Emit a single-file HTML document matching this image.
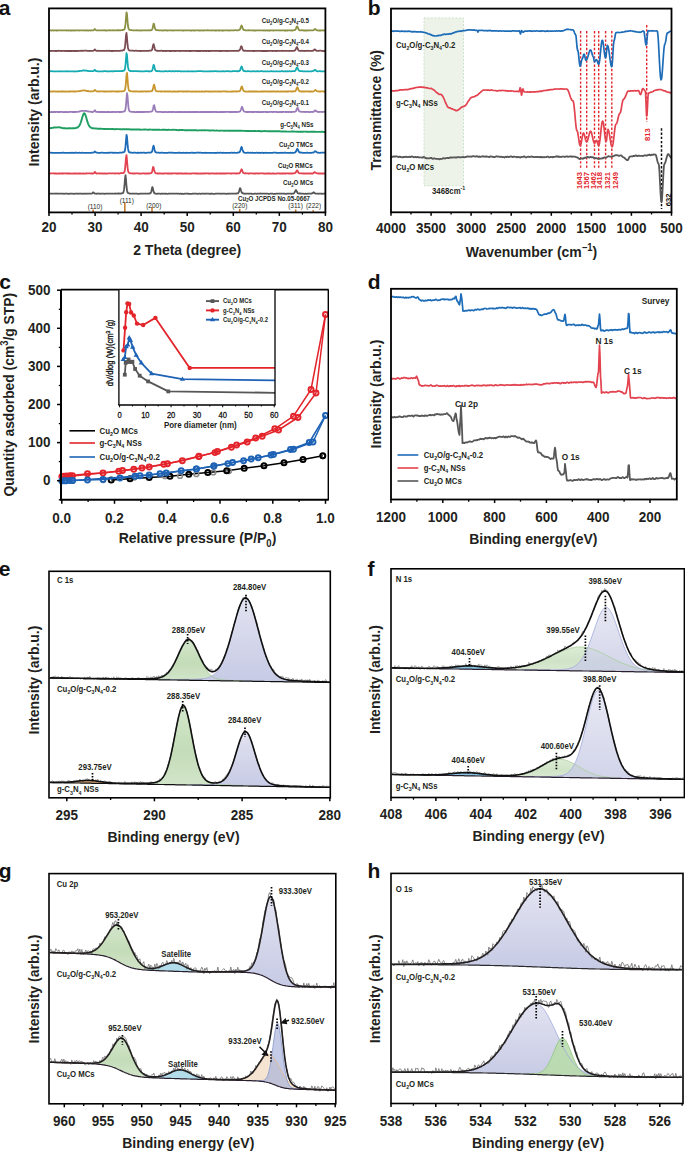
<!DOCTYPE html>
<html><head><meta charset="utf-8"><style>
html,body{margin:0;padding:0;background:#fff;width:685px;height:1151px;overflow:hidden}
svg{display:block}
text{font-family:"Liberation Sans", sans-serif}
</style></head><body>
<svg width="685" height="1151" viewBox="0 0 685 1151">
<defs>
<linearGradient id="lav" x1="0" y1="0" x2="0" y2="1"><stop offset="0" stop-color="#e2e3f1"/><stop offset="1" stop-color="#c6cae4"/></linearGradient>
<linearGradient id="grn" x1="0" y1="0" x2="0" y2="1"><stop offset="0" stop-color="#d3e7cb"/><stop offset="0.55" stop-color="#c4dcb8"/><stop offset="1" stop-color="#d2e5ca"/></linearGradient>
</defs>
<rect x="0" y="0" width="685" height="1151" fill="#fff"/>
<text transform="translate(-1.2 14.6)" font-size="21" font-weight="bold" text-anchor="start" fill="#111"><tspan>a</tspan></text>
<path d="M49 30.4 L49.5 30.5 L50 30.4 L50.5 30.4 L51 30.4 L51.5 30.5 L52 30.4 L52.5 30.3 L52.9 30.3 L53.4 30.4 L53.9 30.5 L54.4 30.4 L54.9 30.4 L55.4 30.4 L55.9 30.4 L56.4 30.5 L56.9 30.5 L57.4 30.5 L57.9 30.3 L58.4 30.3 L58.9 30.4 L59.4 30.4 L59.9 30.4 L60.4 30.3 L60.8 30.3 L61.3 30.3 L61.8 30.3 L62.3 30.4 L62.8 30.4 L63.3 30.3 L63.8 30.3 L64.3 30.3 L64.8 30.3 L65.3 30.3 L65.8 30.3 L66.3 30.4 L66.8 30.5 L67.3 30.4 L67.8 30.4 L68.2 30.5 L68.7 30.5 L69.2 30.4 L69.7 30.4 L70.2 30.4 L70.7 30.5 L71.2 30.5 L71.7 30.5 L72.2 30.5 L72.7 30.4 L73.2 30.4 L73.7 30.4 L74.2 30.5 L74.7 30.5 L75.2 30.5 L75.7 30.3 L76.1 30.3 L76.6 30.3 L77.1 30.4 L77.6 30.4 L78.1 30.3 L78.6 30.4 L79.1 30.5 L79.6 30.4 L80.1 30.4 L80.6 30.4 L81.1 30.4 L81.6 30.4 L82.1 30.4 L82.6 30.4 L83.1 30.3 L83.5 30.3 L84 30.3 L84.5 30.4 L85 30.5 L85.5 30.5 L86 30.3 L86.5 30.3 L87 30.4 L87.5 30.5 L88 30.5 L88.5 30.5 L89 30.4 L89.5 30.4 L90 30.4 L90.5 30.5 L91 30.4 L91.4 30.3 L91.9 30.3 L92.4 30.4 L92.9 30.3 L93.4 30.3 L93.9 29.9 L94.4 29.4 L94.9 29 L95.4 29.6 L95.9 30.1 L96.4 30.3 L96.9 30.3 L97.4 30.3 L97.9 30.3 L98.4 30.4 L98.9 30.4 L99.3 30.4 L99.8 30.3 L100.3 30.4 L100.8 30.3 L101.3 30.4 L101.8 30.4 L102.3 30.4 L102.8 30.4 L103.3 30.3 L103.8 30.3 L104.3 30.2 L104.8 30.3 L105.3 30.4 L105.8 30.5 L106.3 30.5 L106.7 30.5 L107.2 30.4 L107.7 30.4 L108.2 30.4 L108.7 30.4 L109.2 30.3 L109.7 30.2 L110.2 30.3 L110.7 30.3 L111.2 30.3 L111.7 30.3 L112.2 30.3 L112.7 30.3 L113.2 30.2 L113.7 30.3 L114.2 30.3 L114.6 30.3 L115.1 30.3 L115.6 30.3 L116.1 30.4 L116.6 30.3 L117.1 30.2 L117.6 30.3 L118.1 30.2 L118.6 30.3 L119.1 30.2 L119.6 30.3 L120.1 30.3 L120.6 30.3 L121.1 30.2 L121.6 30.2 L122 30.2 L122.5 30 L123 29.9 L123.5 29.8 L124 29.6 L124.5 29.2 L125 27.6 L125.5 24 L126 17.7 L126.5 12.3 L127 14.3 L127.5 20.9 L128 26 L128.5 28.5 L129 29.5 L129.5 29.8 L129.9 30 L130.4 30.1 L130.9 30.1 L131.4 30.1 L131.9 30.2 L132.4 30.3 L132.9 30.4 L133.4 30.4 L133.9 30.3 L134.4 30.4 L134.9 30.4 L135.4 30.4 L135.9 30.3 L136.4 30.2 L136.9 30.3 L137.3 30.3 L137.8 30.4 L138.3 30.4 L138.8 30.5 L139.3 30.4 L139.8 30.4 L140.3 30.4 L140.8 30.5 L141.3 30.5 L141.8 30.4 L142.3 30.3 L142.8 30.3 L143.3 30.3 L143.8 30.3 L144.3 30.3 L144.8 30.3 L145.2 30.3 L145.7 30.3 L146.2 30.4 L146.7 30.3 L147.2 30.4 L147.7 30.4 L148.2 30.4 L148.7 30.3 L149.2 30.2 L149.7 30.3 L150.2 30.3 L150.7 30.3 L151.2 30.1 L151.7 29.9 L152.2 29.4 L152.6 28.2 L153.1 25.9 L153.6 23.7 L154.1 24.2 L154.6 26.7 L155.1 28.7 L155.6 29.7 L156.1 30.1 L156.6 30.1 L157.1 30.2 L157.6 30.2 L158.1 30.3 L158.6 30.4 L159.1 30.3 L159.6 30.4 L160.1 30.4 L160.5 30.4 L161 30.3 L161.5 30.4 L162 30.4 L162.5 30.5 L163 30.5 L163.5 30.4 L164 30.4 L164.5 30.3 L165 30.3 L165.5 30.2 L166 30.3 L166.5 30.4 L167 30.5 L167.5 30.5 L168 30.4 L168.4 30.4 L168.9 30.4 L169.4 30.4 L169.9 30.3 L170.4 30.3 L170.9 30.3 L171.4 30.4 L171.9 30.4 L172.4 30.5 L172.9 30.5 L173.4 30.4 L173.9 30.4 L174.4 30.4 L174.9 30.4 L175.4 30.4 L175.8 30.3 L176.3 30.3 L176.8 30.3 L177.3 30.3 L177.8 30.3 L178.3 30.4 L178.8 30.4 L179.3 30.4 L179.8 30.3 L180.3 30.3 L180.8 30.3 L181.3 30.3 L181.8 30.4 L182.3 30.4 L182.8 30.5 L183.3 30.5 L183.7 30.5 L184.2 30.4 L184.7 30.3 L185.2 30.3 L185.7 30.4 L186.2 30.3 L186.7 30.3 L187.2 30.3 L187.7 30.4 L188.2 30.4 L188.7 30.4 L189.2 30.4 L189.7 30.3 L190.2 30.4 L190.7 30.5 L191.1 30.6 L191.6 30.5 L192.1 30.4 L192.6 30.3 L193.1 30.4 L193.6 30.5 L194.1 30.5 L194.6 30.5 L195.1 30.4 L195.6 30.4 L196.1 30.3 L196.6 30.3 L197.1 30.3 L197.6 30.3 L198.1 30.4 L198.6 30.4 L199 30.5 L199.5 30.4 L200 30.5 L200.5 30.5 L201 30.4 L201.5 30.3 L202 30.3 L202.5 30.4 L203 30.5 L203.5 30.5 L204 30.4 L204.5 30.4 L205 30.4 L205.5 30.4 L206 30.4 L206.4 30.3 L206.9 30.3 L207.4 30.2 L207.9 30.3 L208.4 30.3 L208.9 30.3 L209.4 30.3 L209.9 30.3 L210.4 30.4 L210.9 30.4 L211.4 30.5 L211.9 30.4 L212.4 30.4 L212.9 30.4 L213.4 30.4 L213.9 30.4 L214.3 30.4 L214.8 30.5 L215.3 30.5 L215.8 30.5 L216.3 30.5 L216.8 30.4 L217.3 30.3 L217.8 30.4 L218.3 30.4 L218.8 30.5 L219.3 30.4 L219.8 30.5 L220.3 30.3 L220.8 30.4 L221.3 30.4 L221.8 30.5 L222.2 30.6 L222.7 30.5 L223.2 30.5 L223.7 30.5 L224.2 30.4 L224.7 30.4 L225.2 30.3 L225.7 30.4 L226.2 30.4 L226.7 30.4 L227.2 30.3 L227.7 30.4 L228.2 30.4 L228.7 30.5 L229.2 30.4 L229.6 30.5 L230.1 30.4 L230.6 30.4 L231.1 30.3 L231.6 30.3 L232.1 30.3 L232.6 30.3 L233.1 30.3 L233.6 30.4 L234.1 30.3 L234.6 30.3 L235.1 30.2 L235.6 30.2 L236.1 30.2 L236.6 30.3 L237.1 30.3 L237.5 30.3 L238 30.3 L238.5 30.2 L239 30.1 L239.5 29.8 L240 29.3 L240.5 28.2 L241 26.6 L241.5 25.5 L242 26.2 L242.5 27.8 L243 29.1 L243.5 29.8 L244 30.1 L244.5 30.2 L244.9 30.2 L245.4 30.4 L245.9 30.4 L246.4 30.4 L246.9 30.4 L247.4 30.3 L247.9 30.3 L248.4 30.2 L248.9 30.4 L249.4 30.4 L249.9 30.4 L250.4 30.4 L250.9 30.4 L251.4 30.4 L251.9 30.4 L252.4 30.4 L252.8 30.4 L253.3 30.4 L253.8 30.5 L254.3 30.5 L254.8 30.5 L255.3 30.6 L255.8 30.5 L256.3 30.4 L256.8 30.3 L257.3 30.3 L257.8 30.3 L258.3 30.4 L258.8 30.4 L259.3 30.4 L259.8 30.4 L260.2 30.4 L260.7 30.4 L261.2 30.3 L261.7 30.4 L262.2 30.3 L262.7 30.4 L263.2 30.4 L263.7 30.5 L264.2 30.4 L264.7 30.4 L265.2 30.5 L265.7 30.5 L266.2 30.4 L266.7 30.4 L267.2 30.5 L267.7 30.5 L268.1 30.4 L268.6 30.5 L269.1 30.5 L269.6 30.5 L270.1 30.5 L270.6 30.4 L271.1 30.4 L271.6 30.3 L272.1 30.3 L272.6 30.4 L273.1 30.5 L273.6 30.5 L274.1 30.4 L274.6 30.3 L275.1 30.3 L275.5 30.3 L276 30.3 L276.5 30.4 L277 30.3 L277.5 30.3 L278 30.3 L278.5 30.3 L279 30.3 L279.5 30.4 L280 30.5 L280.5 30.4 L281 30.4 L281.5 30.3 L282 30.3 L282.5 30.4 L283 30.3 L283.4 30.4 L283.9 30.4 L284.4 30.5 L284.9 30.5 L285.4 30.5 L285.9 30.5 L286.4 30.4 L286.9 30.5 L287.4 30.5 L287.9 30.4 L288.4 30.3 L288.9 30.3 L289.4 30.3 L289.9 30.3 L290.4 30.4 L290.8 30.4 L291.3 30.5 L291.8 30.5 L292.3 30.5 L292.8 30.4 L293.3 30.3 L293.8 30.2 L294.3 30.2 L294.8 30.1 L295.3 29.7 L295.8 29 L296.3 27.7 L296.8 26.6 L297.3 26.4 L297.8 27.5 L298.3 28.7 L298.7 29.6 L299.2 30.1 L299.7 30.3 L300.2 30.3 L300.7 30.3 L301.2 30.3 L301.7 30.2 L302.2 30.2 L302.7 30.3 L303.2 30.4 L303.7 30.5 L304.2 30.5 L304.7 30.5 L305.2 30.4 L305.7 30.5 L306.2 30.4 L306.6 30.4 L307.1 30.5 L307.6 30.5 L308.1 30.4 L308.6 30.3 L309.1 30.4 L309.6 30.4 L310.1 30.3 L310.6 30.3 L311.1 30.3 L311.6 30.3 L312.1 30.4 L312.6 30.4 L313.1 30.3 L313.6 30.2 L314 29.8 L314.5 29.3 L315 29 L315.5 29.2 L316 29.8 L316.5 30.1 L317 30.3 L317.5 30.3 L318 30.4 L318.5 30.5 L319 30.5 L319.5 30.5 L320 30.5 L320.5 30.5 L321 30.5 L321.5 30.4 L321.9 30.3 L322.4 30.4 L322.9 30.4 L323.4 30.5 L323.9 30.4 L324.4 30.4 L324.9 30.4 L325.4 30.4" fill="none" stroke="#8a9142" stroke-width="1.8" stroke-linejoin="round"/>
<path d="M49 51 L49.5 50.8 L50 50.8 L50.5 50.9 L51 51 L51.5 50.9 L52 50.9 L52.5 50.9 L52.9 50.9 L53.4 50.9 L53.9 50.9 L54.4 50.8 L54.9 50.9 L55.4 51 L55.9 51.1 L56.4 51 L56.9 51 L57.4 50.9 L57.9 50.8 L58.4 50.7 L58.9 50.8 L59.4 50.8 L59.9 50.9 L60.4 50.9 L60.8 50.9 L61.3 51 L61.8 50.9 L62.3 50.8 L62.8 50.8 L63.3 50.8 L63.8 50.8 L64.3 50.9 L64.8 51 L65.3 50.9 L65.8 50.9 L66.3 51 L66.8 51 L67.3 51 L67.8 51 L68.2 51 L68.7 51 L69.2 51 L69.7 51 L70.2 51 L70.7 51 L71.2 50.9 L71.7 51 L72.2 50.9 L72.7 50.9 L73.2 51 L73.7 51 L74.2 51 L74.7 50.9 L75.2 51 L75.7 51 L76.1 51 L76.6 50.9 L77.1 50.9 L77.6 51 L78.1 50.9 L78.6 50.8 L79.1 50.8 L79.6 50.8 L80.1 50.8 L80.6 50.8 L81.1 50.7 L81.6 50.8 L82.1 50.7 L82.6 50.8 L83.1 50.8 L83.5 50.8 L84 50.7 L84.5 50.7 L85 50.7 L85.5 50.7 L86 50.7 L86.5 50.7 L87 50.8 L87.5 50.9 L88 50.8 L88.5 50.8 L89 50.8 L89.5 51 L90 50.9 L90.5 50.9 L91 50.8 L91.4 50.9 L91.9 50.8 L92.4 50.8 L92.9 50.8 L93.4 50.7 L93.9 50.4 L94.4 49.8 L94.9 49.4 L95.4 50 L95.9 50.5 L96.4 50.8 L96.9 50.9 L97.4 50.8 L97.9 50.8 L98.4 50.7 L98.9 50.8 L99.3 50.8 L99.8 50.9 L100.3 50.8 L100.8 50.9 L101.3 50.8 L101.8 50.8 L102.3 50.8 L102.8 50.8 L103.3 50.8 L103.8 50.8 L104.3 50.9 L104.8 50.8 L105.3 50.9 L105.8 50.8 L106.3 50.8 L106.7 50.7 L107.2 50.8 L107.7 50.9 L108.2 50.9 L108.7 50.8 L109.2 50.7 L109.7 50.8 L110.2 50.8 L110.7 50.9 L111.2 51 L111.7 51 L112.2 51 L112.7 51 L113.2 50.9 L113.7 50.9 L114.2 50.8 L114.6 50.8 L115.1 50.8 L115.6 50.8 L116.1 50.8 L116.6 50.8 L117.1 50.9 L117.6 50.8 L118.1 50.8 L118.6 50.8 L119.1 50.8 L119.6 50.8 L120.1 50.8 L120.6 50.7 L121.1 50.7 L121.6 50.6 L122 50.5 L122.5 50.5 L123 50.3 L123.5 50.2 L124 49.9 L124.5 49.1 L125 46.7 L125.5 41.9 L126 35.5 L126.5 33 L127 38 L127.5 44.2 L128 47.9 L128.5 49.6 L129 50.2 L129.5 50.5 L129.9 50.6 L130.4 50.7 L130.9 50.7 L131.4 50.7 L131.9 50.7 L132.4 50.6 L132.9 50.6 L133.4 50.7 L133.9 50.8 L134.4 50.8 L134.9 50.8 L135.4 50.7 L135.9 50.7 L136.4 50.7 L136.9 50.8 L137.3 50.8 L137.8 50.8 L138.3 50.8 L138.8 50.8 L139.3 50.9 L139.8 50.9 L140.3 51 L140.8 51 L141.3 50.9 L141.8 50.9 L142.3 50.8 L142.8 50.8 L143.3 50.8 L143.8 50.8 L144.3 50.8 L144.8 50.8 L145.2 50.8 L145.7 50.9 L146.2 50.9 L146.7 50.9 L147.2 50.9 L147.7 50.9 L148.2 50.8 L148.7 50.8 L149.2 50.7 L149.7 50.7 L150.2 50.7 L150.7 50.7 L151.2 50.6 L151.7 50.3 L152.2 49.4 L152.6 47.6 L153.1 45.2 L153.6 44.1 L154.1 45.9 L154.6 48.2 L155.1 49.7 L155.6 50.3 L156.1 50.6 L156.6 50.7 L157.1 50.8 L157.6 50.7 L158.1 50.8 L158.6 50.8 L159.1 50.8 L159.6 50.9 L160.1 50.9 L160.5 50.8 L161 50.7 L161.5 50.7 L162 50.8 L162.5 50.9 L163 51 L163.5 51 L164 50.9 L164.5 50.9 L165 50.9 L165.5 51 L166 51 L166.5 50.9 L167 50.9 L167.5 50.9 L168 50.9 L168.4 50.9 L168.9 50.9 L169.4 51 L169.9 51 L170.4 51.1 L170.9 51 L171.4 51 L171.9 50.9 L172.4 50.8 L172.9 50.8 L173.4 50.8 L173.9 50.9 L174.4 51 L174.9 51 L175.4 51 L175.8 50.9 L176.3 50.9 L176.8 50.9 L177.3 50.9 L177.8 50.9 L178.3 50.8 L178.8 50.8 L179.3 50.8 L179.8 51 L180.3 51 L180.8 50.9 L181.3 50.8 L181.8 50.8 L182.3 50.9 L182.8 50.9 L183.3 50.9 L183.7 50.9 L184.2 50.8 L184.7 50.9 L185.2 50.9 L185.7 51 L186.2 50.9 L186.7 50.9 L187.2 50.9 L187.7 50.9 L188.2 50.9 L188.7 50.9 L189.2 51 L189.7 50.9 L190.2 51 L190.7 51 L191.1 51 L191.6 50.9 L192.1 50.8 L192.6 50.8 L193.1 50.8 L193.6 50.9 L194.1 50.9 L194.6 50.9 L195.1 50.9 L195.6 50.9 L196.1 50.9 L196.6 51 L197.1 51 L197.6 51 L198.1 51 L198.6 50.9 L199 51 L199.5 50.9 L200 51 L200.5 51 L201 50.9 L201.5 50.9 L202 50.9 L202.5 50.9 L203 51 L203.5 51 L204 50.9 L204.5 50.8 L205 50.9 L205.5 51 L206 51 L206.4 51 L206.9 50.9 L207.4 50.9 L207.9 50.9 L208.4 51 L208.9 51 L209.4 51 L209.9 51 L210.4 50.9 L210.9 50.9 L211.4 50.9 L211.9 50.9 L212.4 50.9 L212.9 50.9 L213.4 50.9 L213.9 50.8 L214.3 50.9 L214.8 50.9 L215.3 50.9 L215.8 50.9 L216.3 50.9 L216.8 50.9 L217.3 50.9 L217.8 50.9 L218.3 50.8 L218.8 50.8 L219.3 50.9 L219.8 51 L220.3 51 L220.8 51 L221.3 51 L221.8 50.9 L222.2 50.9 L222.7 50.8 L223.2 50.8 L223.7 50.8 L224.2 50.8 L224.7 50.8 L225.2 50.9 L225.7 50.9 L226.2 51 L226.7 50.9 L227.2 50.9 L227.7 51 L228.2 50.9 L228.7 50.8 L229.2 50.8 L229.6 50.8 L230.1 50.8 L230.6 50.8 L231.1 50.8 L231.6 50.9 L232.1 50.9 L232.6 50.9 L233.1 50.8 L233.6 50.9 L234.1 50.9 L234.6 50.9 L235.1 50.9 L235.6 50.8 L236.1 50.9 L236.6 50.9 L237.1 50.8 L237.5 50.8 L238 50.7 L238.5 50.8 L239 50.6 L239.5 50.3 L240 49.5 L240.5 48.2 L241 46.5 L241.5 46.2 L242 47.5 L242.5 49.1 L243 50.1 L243.5 50.6 L244 50.8 L244.5 50.8 L244.9 50.7 L245.4 50.7 L245.9 50.8 L246.4 50.8 L246.9 50.8 L247.4 50.8 L247.9 50.9 L248.4 50.8 L248.9 50.9 L249.4 50.8 L249.9 50.8 L250.4 50.8 L250.9 50.8 L251.4 50.8 L251.9 50.8 L252.4 50.9 L252.8 51 L253.3 51 L253.8 51 L254.3 51 L254.8 50.9 L255.3 50.9 L255.8 50.8 L256.3 50.8 L256.8 50.8 L257.3 50.9 L257.8 50.9 L258.3 50.9 L258.8 50.9 L259.3 50.9 L259.8 50.9 L260.2 50.9 L260.7 50.9 L261.2 50.9 L261.7 51 L262.2 51 L262.7 51 L263.2 51 L263.7 51 L264.2 51 L264.7 51 L265.2 51 L265.7 51 L266.2 51 L266.7 51.1 L267.2 51 L267.7 51 L268.1 50.9 L268.6 50.9 L269.1 50.9 L269.6 50.8 L270.1 50.9 L270.6 50.9 L271.1 50.9 L271.6 50.9 L272.1 50.9 L272.6 51 L273.1 50.9 L273.6 50.8 L274.1 50.8 L274.6 50.8 L275.1 50.9 L275.5 51 L276 51 L276.5 51 L277 50.9 L277.5 50.9 L278 50.9 L278.5 50.9 L279 50.9 L279.5 50.9 L280 50.8 L280.5 50.8 L281 50.9 L281.5 50.9 L282 50.8 L282.5 50.7 L283 50.8 L283.4 50.8 L283.9 50.8 L284.4 50.8 L284.9 50.8 L285.4 50.8 L285.9 50.8 L286.4 50.8 L286.9 50.9 L287.4 50.9 L287.9 50.8 L288.4 50.8 L288.9 50.8 L289.4 50.9 L289.9 51 L290.4 50.8 L290.8 50.9 L291.3 50.9 L291.8 50.9 L292.3 50.9 L292.8 50.9 L293.3 50.8 L293.8 50.8 L294.3 50.7 L294.8 50.5 L295.3 50 L295.8 49.1 L296.3 47.9 L296.8 47.1 L297.3 47.7 L297.8 48.8 L298.3 49.9 L298.7 50.5 L299.2 50.8 L299.7 50.9 L300.2 50.8 L300.7 50.8 L301.2 50.8 L301.7 50.7 L302.2 50.8 L302.7 50.8 L303.2 50.9 L303.7 50.9 L304.2 51 L304.7 50.9 L305.2 50.8 L305.7 50.8 L306.2 50.8 L306.6 50.8 L307.1 50.7 L307.6 50.8 L308.1 50.8 L308.6 50.8 L309.1 50.8 L309.6 50.9 L310.1 50.9 L310.6 50.9 L311.1 50.9 L311.6 50.8 L312.1 50.9 L312.6 50.8 L313.1 50.6 L313.6 50.4 L314 49.9 L314.5 49.5 L315 49.5 L315.5 50 L316 50.5 L316.5 50.7 L317 50.9 L317.5 50.9 L318 50.9 L318.5 50.8 L319 50.8 L319.5 50.7 L320 50.7 L320.5 50.7 L321 50.7 L321.5 50.8 L321.9 50.8 L322.4 50.9 L322.9 51 L323.4 51 L323.9 51 L324.4 51 L324.9 50.9 L325.4 50.9" fill="none" stroke="#7b4c52" stroke-width="1.8" stroke-linejoin="round"/>
<path d="M49 71.3 L49.5 71.3 L50 71.3 L50.5 71.3 L51 71.2 L51.5 71.2 L52 71.2 L52.5 71.3 L52.9 71.3 L53.4 71.3 L53.9 71.4 L54.4 71.3 L54.9 71.4 L55.4 71.3 L55.9 71.3 L56.4 71.3 L56.9 71.4 L57.4 71.4 L57.9 71.4 L58.4 71.3 L58.9 71.3 L59.4 71.3 L59.9 71.3 L60.4 71.2 L60.8 71.3 L61.3 71.3 L61.8 71.4 L62.3 71.4 L62.8 71.4 L63.3 71.4 L63.8 71.4 L64.3 71.4 L64.8 71.3 L65.3 71.4 L65.8 71.4 L66.3 71.4 L66.8 71.2 L67.3 71.2 L67.8 71.3 L68.2 71.3 L68.7 71.4 L69.2 71.3 L69.7 71.3 L70.2 71.3 L70.7 71.3 L71.2 71.3 L71.7 71.3 L72.2 71.4 L72.7 71.4 L73.2 71.4 L73.7 71.4 L74.2 71.5 L74.7 71.4 L75.2 71.3 L75.7 71.3 L76.1 71.3 L76.6 71.4 L77.1 71.3 L77.6 71.3 L78.1 71.1 L78.6 71.1 L79.1 71.1 L79.6 71 L80.1 70.8 L80.6 70.8 L81.1 70.8 L81.6 70.8 L82.1 70.7 L82.6 70.5 L83.1 70.5 L83.5 70.4 L84 70.5 L84.5 70.6 L85 70.6 L85.5 70.6 L86 70.5 L86.5 70.7 L87 70.7 L87.5 70.9 L88 71 L88.5 71.1 L89 71.2 L89.5 71.1 L90 71.1 L90.5 71.1 L91 71.1 L91.4 71.1 L91.9 71.1 L92.4 71.2 L92.9 71.2 L93.4 71 L93.9 70.8 L94.4 70.1 L94.9 69.9 L95.4 70.5 L95.9 71 L96.4 71.2 L96.9 71.2 L97.4 71.3 L97.9 71.3 L98.4 71.3 L98.9 71.3 L99.3 71.4 L99.8 71.4 L100.3 71.3 L100.8 71.3 L101.3 71.3 L101.8 71.3 L102.3 71.3 L102.8 71.3 L103.3 71.4 L103.8 71.2 L104.3 71.2 L104.8 71.2 L105.3 71.2 L105.8 71.2 L106.3 71.3 L106.7 71.3 L107.2 71.3 L107.7 71.2 L108.2 71.3 L108.7 71.3 L109.2 71.3 L109.7 71.3 L110.2 71.3 L110.7 71.2 L111.2 71.2 L111.7 71.3 L112.2 71.3 L112.7 71.3 L113.2 71.2 L113.7 71.3 L114.2 71.2 L114.6 71.2 L115.1 71.2 L115.6 71.2 L116.1 71.2 L116.6 71.2 L117.1 71.2 L117.6 71.2 L118.1 71.2 L118.6 71.2 L119.1 71.2 L119.6 71.2 L120.1 71.2 L120.6 71.1 L121.1 71.1 L121.6 71 L122 71 L122.5 71 L123 70.9 L123.5 70.7 L124 70.6 L124.5 70.1 L125 68.6 L125.5 64.8 L126 58.6 L126.5 53.1 L127 55.2 L127.5 61.8 L128 66.9 L128.5 69.3 L129 70.3 L129.5 70.6 L129.9 70.9 L130.4 71 L130.9 71.1 L131.4 71.1 L131.9 71.1 L132.4 71.2 L132.9 71.3 L133.4 71.2 L133.9 71.2 L134.4 71.1 L134.9 71.2 L135.4 71.2 L135.9 71.2 L136.4 71.2 L136.9 71.2 L137.3 71.2 L137.8 71.3 L138.3 71.3 L138.8 71.2 L139.3 71.2 L139.8 71.3 L140.3 71.4 L140.8 71.4 L141.3 71.4 L141.8 71.4 L142.3 71.4 L142.8 71.3 L143.3 71.3 L143.8 71.4 L144.3 71.3 L144.8 71.3 L145.2 71.2 L145.7 71.2 L146.2 71.1 L146.7 71.2 L147.2 71.2 L147.7 71.3 L148.2 71.2 L148.7 71.3 L149.2 71.2 L149.7 71.3 L150.2 71.3 L150.7 71.3 L151.2 71.2 L151.7 70.9 L152.2 70.3 L152.6 69 L153.1 66.9 L153.6 64.8 L154.1 65.4 L154.6 67.7 L155.1 69.7 L155.6 70.7 L156.1 71 L156.6 71 L157.1 71.1 L157.6 71.2 L158.1 71.3 L158.6 71.2 L159.1 71.2 L159.6 71.2 L160.1 71.3 L160.5 71.3 L161 71.3 L161.5 71.3 L162 71.4 L162.5 71.4 L163 71.3 L163.5 71.3 L164 71.3 L164.5 71.3 L165 71.2 L165.5 71.2 L166 71.2 L166.5 71.2 L167 71.3 L167.5 71.3 L168 71.3 L168.4 71.2 L168.9 71.1 L169.4 71.1 L169.9 71.1 L170.4 71.2 L170.9 71.3 L171.4 71.3 L171.9 71.3 L172.4 71.2 L172.9 71.2 L173.4 71.2 L173.9 71.3 L174.4 71.3 L174.9 71.3 L175.4 71.2 L175.8 71.2 L176.3 71.2 L176.8 71.2 L177.3 71.3 L177.8 71.3 L178.3 71.2 L178.8 71.2 L179.3 71.2 L179.8 71.2 L180.3 71.3 L180.8 71.3 L181.3 71.4 L181.8 71.3 L182.3 71.3 L182.8 71.3 L183.3 71.3 L183.7 71.3 L184.2 71.3 L184.7 71.3 L185.2 71.3 L185.7 71.3 L186.2 71.3 L186.7 71.3 L187.2 71.3 L187.7 71.3 L188.2 71.2 L188.7 71.3 L189.2 71.4 L189.7 71.4 L190.2 71.4 L190.7 71.4 L191.1 71.4 L191.6 71.3 L192.1 71.2 L192.6 71.3 L193.1 71.3 L193.6 71.4 L194.1 71.4 L194.6 71.4 L195.1 71.4 L195.6 71.4 L196.1 71.3 L196.6 71.3 L197.1 71.2 L197.6 71.2 L198.1 71.2 L198.6 71.2 L199 71.2 L199.5 71.1 L200 71.2 L200.5 71.2 L201 71.2 L201.5 71.2 L202 71.2 L202.5 71.3 L203 71.3 L203.5 71.4 L204 71.4 L204.5 71.4 L205 71.4 L205.5 71.3 L206 71.3 L206.4 71.3 L206.9 71.4 L207.4 71.3 L207.9 71.3 L208.4 71.3 L208.9 71.3 L209.4 71.3 L209.9 71.2 L210.4 71.3 L210.9 71.3 L211.4 71.3 L211.9 71.2 L212.4 71.2 L212.9 71.3 L213.4 71.3 L213.9 71.3 L214.3 71.2 L214.8 71.2 L215.3 71.2 L215.8 71.2 L216.3 71.2 L216.8 71.3 L217.3 71.4 L217.8 71.4 L218.3 71.3 L218.8 71.3 L219.3 71.3 L219.8 71.4 L220.3 71.4 L220.8 71.3 L221.3 71.3 L221.8 71.4 L222.2 71.3 L222.7 71.2 L223.2 71.2 L223.7 71.3 L224.2 71.4 L224.7 71.3 L225.2 71.3 L225.7 71.3 L226.2 71.2 L226.7 71.2 L227.2 71.2 L227.7 71.2 L228.2 71.2 L228.7 71.3 L229.2 71.3 L229.6 71.3 L230.1 71.4 L230.6 71.3 L231.1 71.4 L231.6 71.3 L232.1 71.3 L232.6 71.2 L233.1 71.1 L233.6 71.2 L234.1 71.2 L234.6 71.2 L235.1 71.2 L235.6 71.2 L236.1 71.2 L236.6 71.2 L237.1 71.3 L237.5 71.2 L238 71.3 L238.5 71.1 L239 71.1 L239.5 70.9 L240 70.4 L240.5 69.2 L241 67.5 L241.5 66.4 L242 67.1 L242.5 68.8 L243 70.1 L243.5 70.8 L244 71 L244.5 71 L244.9 71.1 L245.4 71.2 L245.9 71.3 L246.4 71.4 L246.9 71.3 L247.4 71.2 L247.9 71.1 L248.4 71.1 L248.9 71.2 L249.4 71.3 L249.9 71.4 L250.4 71.4 L250.9 71.4 L251.4 71.3 L251.9 71.3 L252.4 71.3 L252.8 71.3 L253.3 71.2 L253.8 71.2 L254.3 71.3 L254.8 71.3 L255.3 71.3 L255.8 71.3 L256.3 71.3 L256.8 71.2 L257.3 71.2 L257.8 71.3 L258.3 71.2 L258.8 71.3 L259.3 71.3 L259.8 71.4 L260.2 71.3 L260.7 71.2 L261.2 71.2 L261.7 71.2 L262.2 71.2 L262.7 71.3 L263.2 71.4 L263.7 71.4 L264.2 71.4 L264.7 71.3 L265.2 71.4 L265.7 71.4 L266.2 71.3 L266.7 71.3 L267.2 71.3 L267.7 71.4 L268.1 71.3 L268.6 71.3 L269.1 71.4 L269.6 71.4 L270.1 71.4 L270.6 71.3 L271.1 71.2 L271.6 71.2 L272.1 71.3 L272.6 71.3 L273.1 71.4 L273.6 71.3 L274.1 71.3 L274.6 71.3 L275.1 71.3 L275.5 71.3 L276 71.3 L276.5 71.3 L277 71.3 L277.5 71.3 L278 71.3 L278.5 71.3 L279 71.3 L279.5 71.3 L280 71.3 L280.5 71.3 L281 71.3 L281.5 71.2 L282 71.2 L282.5 71.2 L283 71.3 L283.4 71.4 L283.9 71.4 L284.4 71.3 L284.9 71.3 L285.4 71.2 L285.9 71.3 L286.4 71.3 L286.9 71.3 L287.4 71.2 L287.9 71.3 L288.4 71.3 L288.9 71.3 L289.4 71.2 L289.9 71.2 L290.4 71.3 L290.8 71.3 L291.3 71.3 L291.8 71.2 L292.3 71.2 L292.8 71.1 L293.3 71.1 L293.8 71.1 L294.3 71.1 L294.8 71 L295.3 70.6 L295.8 69.8 L296.3 68.7 L296.8 67.6 L297.3 67.5 L297.8 68.6 L298.3 69.7 L298.7 70.4 L299.2 70.8 L299.7 71 L300.2 71.1 L300.7 71.2 L301.2 71.2 L301.7 71.2 L302.2 71.2 L302.7 71.3 L303.2 71.3 L303.7 71.4 L304.2 71.4 L304.7 71.3 L305.2 71.3 L305.7 71.3 L306.2 71.4 L306.6 71.4 L307.1 71.3 L307.6 71.3 L308.1 71.3 L308.6 71.3 L309.1 71.3 L309.6 71.3 L310.1 71.3 L310.6 71.3 L311.1 71.3 L311.6 71.3 L312.1 71.2 L312.6 71.2 L313.1 71.1 L313.6 70.8 L314 70.5 L314.5 70 L315 69.8 L315.5 70.1 L316 70.6 L316.5 71.1 L317 71.2 L317.5 71.3 L318 71.3 L318.5 71.3 L319 71.2 L319.5 71.2 L320 71.2 L320.5 71.2 L321 71.3 L321.5 71.3 L321.9 71.4 L322.4 71.3 L322.9 71.3 L323.4 71.3 L323.9 71.3 L324.4 71.4 L324.9 71.4 L325.4 71.4" fill="none" stroke="#15abb3" stroke-width="1.8" stroke-linejoin="round"/>
<path d="M49 91.4 L49.5 91.4 L50 91.4 L50.5 91.4 L51 91.5 L51.5 91.6 L52 91.6 L52.5 91.5 L52.9 91.5 L53.4 91.4 L53.9 91.4 L54.4 91.4 L54.9 91.4 L55.4 91.5 L55.9 91.6 L56.4 91.6 L56.9 91.6 L57.4 91.5 L57.9 91.5 L58.4 91.4 L58.9 91.5 L59.4 91.6 L59.9 91.6 L60.4 91.5 L60.8 91.5 L61.3 91.5 L61.8 91.5 L62.3 91.5 L62.8 91.5 L63.3 91.4 L63.8 91.5 L64.3 91.6 L64.8 91.6 L65.3 91.5 L65.8 91.5 L66.3 91.5 L66.8 91.6 L67.3 91.6 L67.8 91.6 L68.2 91.5 L68.7 91.5 L69.2 91.5 L69.7 91.5 L70.2 91.4 L70.7 91.5 L71.2 91.4 L71.7 91.4 L72.2 91.4 L72.7 91.4 L73.2 91.5 L73.7 91.5 L74.2 91.5 L74.7 91.5 L75.2 91.5 L75.7 91.5 L76.1 91.3 L76.6 91.4 L77.1 91.3 L77.6 91.3 L78.1 91.3 L78.6 91.2 L79.1 91.2 L79.6 91.1 L80.1 91 L80.6 90.9 L81.1 90.7 L81.6 90.7 L82.1 90.7 L82.6 90.6 L83.1 90.5 L83.5 90.4 L84 90.4 L84.5 90.4 L85 90.5 L85.5 90.6 L86 90.8 L86.5 90.9 L87 91 L87.5 91 L88 91 L88.5 91.1 L89 91.3 L89.5 91.3 L90 91.4 L90.5 91.4 L91 91.5 L91.4 91.4 L91.9 91.4 L92.4 91.3 L92.9 91.3 L93.4 91.2 L93.9 91 L94.4 90.3 L94.9 89.9 L95.4 90.4 L95.9 90.9 L96.4 91.3 L96.9 91.4 L97.4 91.4 L97.9 91.4 L98.4 91.5 L98.9 91.5 L99.3 91.5 L99.8 91.4 L100.3 91.3 L100.8 91.3 L101.3 91.4 L101.8 91.4 L102.3 91.4 L102.8 91.4 L103.3 91.4 L103.8 91.5 L104.3 91.5 L104.8 91.5 L105.3 91.5 L105.8 91.5 L106.3 91.6 L106.7 91.5 L107.2 91.5 L107.7 91.4 L108.2 91.4 L108.7 91.4 L109.2 91.4 L109.7 91.5 L110.2 91.5 L110.7 91.6 L111.2 91.5 L111.7 91.4 L112.2 91.3 L112.7 91.4 L113.2 91.4 L113.7 91.4 L114.2 91.4 L114.6 91.4 L115.1 91.4 L115.6 91.5 L116.1 91.6 L116.6 91.5 L117.1 91.6 L117.6 91.5 L118.1 91.6 L118.6 91.5 L119.1 91.5 L119.6 91.4 L120.1 91.3 L120.6 91.3 L121.1 91.4 L121.6 91.5 L122 91.4 L122.5 91.3 L123 91.2 L123.5 91.2 L124 91 L124.5 90.6 L125 89.6 L125.5 87 L126 81.7 L126.5 75 L127 72.9 L127.5 78.5 L128 84.9 L128.5 88.7 L129 90.4 L129.5 90.8 L129.9 91 L130.4 91.1 L130.9 91.3 L131.4 91.3 L131.9 91.3 L132.4 91.3 L132.9 91.3 L133.4 91.4 L133.9 91.5 L134.4 91.5 L134.9 91.5 L135.4 91.4 L135.9 91.4 L136.4 91.4 L136.9 91.5 L137.3 91.4 L137.8 91.5 L138.3 91.5 L138.8 91.6 L139.3 91.6 L139.8 91.6 L140.3 91.5 L140.8 91.5 L141.3 91.4 L141.8 91.5 L142.3 91.5 L142.8 91.6 L143.3 91.5 L143.8 91.4 L144.3 91.3 L144.8 91.3 L145.2 91.4 L145.7 91.5 L146.2 91.5 L146.7 91.5 L147.2 91.4 L147.7 91.4 L148.2 91.5 L148.7 91.4 L149.2 91.4 L149.7 91.4 L150.2 91.4 L150.7 91.3 L151.2 91.2 L151.7 91.2 L152.2 90.8 L152.6 89.9 L153.1 88 L153.6 85.6 L154.1 84.6 L154.6 86.5 L155.1 88.8 L155.6 90.4 L156.1 91.1 L156.6 91.3 L157.1 91.4 L157.6 91.4 L158.1 91.4 L158.6 91.4 L159.1 91.4 L159.6 91.4 L160.1 91.4 L160.5 91.5 L161 91.5 L161.5 91.4 L162 91.5 L162.5 91.4 L163 91.4 L163.5 91.4 L164 91.4 L164.5 91.5 L165 91.5 L165.5 91.6 L166 91.5 L166.5 91.4 L167 91.4 L167.5 91.5 L168 91.5 L168.4 91.5 L168.9 91.5 L169.4 91.4 L169.9 91.4 L170.4 91.5 L170.9 91.6 L171.4 91.6 L171.9 91.6 L172.4 91.6 L172.9 91.5 L173.4 91.5 L173.9 91.5 L174.4 91.5 L174.9 91.6 L175.4 91.5 L175.8 91.6 L176.3 91.6 L176.8 91.6 L177.3 91.5 L177.8 91.5 L178.3 91.5 L178.8 91.5 L179.3 91.5 L179.8 91.4 L180.3 91.4 L180.8 91.3 L181.3 91.4 L181.8 91.4 L182.3 91.5 L182.8 91.5 L183.3 91.5 L183.7 91.5 L184.2 91.5 L184.7 91.4 L185.2 91.4 L185.7 91.5 L186.2 91.5 L186.7 91.5 L187.2 91.4 L187.7 91.5 L188.2 91.4 L188.7 91.3 L189.2 91.4 L189.7 91.5 L190.2 91.6 L190.7 91.6 L191.1 91.6 L191.6 91.6 L192.1 91.5 L192.6 91.5 L193.1 91.5 L193.6 91.6 L194.1 91.6 L194.6 91.7 L195.1 91.5 L195.6 91.5 L196.1 91.5 L196.6 91.6 L197.1 91.6 L197.6 91.6 L198.1 91.5 L198.6 91.6 L199 91.5 L199.5 91.6 L200 91.6 L200.5 91.6 L201 91.6 L201.5 91.5 L202 91.4 L202.5 91.5 L203 91.6 L203.5 91.6 L204 91.6 L204.5 91.5 L205 91.5 L205.5 91.5 L206 91.5 L206.4 91.4 L206.9 91.4 L207.4 91.4 L207.9 91.5 L208.4 91.5 L208.9 91.5 L209.4 91.6 L209.9 91.6 L210.4 91.5 L210.9 91.4 L211.4 91.5 L211.9 91.6 L212.4 91.7 L212.9 91.6 L213.4 91.5 L213.9 91.4 L214.3 91.4 L214.8 91.4 L215.3 91.5 L215.8 91.6 L216.3 91.7 L216.8 91.5 L217.3 91.4 L217.8 91.4 L218.3 91.5 L218.8 91.5 L219.3 91.6 L219.8 91.5 L220.3 91.6 L220.8 91.6 L221.3 91.5 L221.8 91.5 L222.2 91.4 L222.7 91.4 L223.2 91.3 L223.7 91.3 L224.2 91.3 L224.7 91.4 L225.2 91.4 L225.7 91.5 L226.2 91.6 L226.7 91.5 L227.2 91.6 L227.7 91.6 L228.2 91.6 L228.7 91.6 L229.2 91.6 L229.6 91.6 L230.1 91.6 L230.6 91.6 L231.1 91.6 L231.6 91.5 L232.1 91.4 L232.6 91.5 L233.1 91.5 L233.6 91.5 L234.1 91.4 L234.6 91.4 L235.1 91.4 L235.6 91.5 L236.1 91.4 L236.6 91.5 L237.1 91.5 L237.5 91.4 L238 91.3 L238.5 91.3 L239 91.3 L239.5 91.1 L240 90.8 L240.5 89.8 L241 88.3 L241.5 86.7 L242 86.5 L242.5 88.1 L243 89.6 L243.5 90.6 L244 91.1 L244.5 91.3 L244.9 91.4 L245.4 91.5 L245.9 91.6 L246.4 91.6 L246.9 91.6 L247.4 91.6 L247.9 91.6 L248.4 91.5 L248.9 91.6 L249.4 91.5 L249.9 91.4 L250.4 91.5 L250.9 91.5 L251.4 91.5 L251.9 91.5 L252.4 91.6 L252.8 91.5 L253.3 91.5 L253.8 91.4 L254.3 91.5 L254.8 91.5 L255.3 91.5 L255.8 91.5 L256.3 91.5 L256.8 91.5 L257.3 91.5 L257.8 91.6 L258.3 91.6 L258.8 91.7 L259.3 91.6 L259.8 91.6 L260.2 91.6 L260.7 91.5 L261.2 91.6 L261.7 91.5 L262.2 91.5 L262.7 91.4 L263.2 91.5 L263.7 91.5 L264.2 91.5 L264.7 91.5 L265.2 91.4 L265.7 91.4 L266.2 91.4 L266.7 91.5 L267.2 91.6 L267.7 91.5 L268.1 91.5 L268.6 91.6 L269.1 91.6 L269.6 91.5 L270.1 91.5 L270.6 91.5 L271.1 91.6 L271.6 91.5 L272.1 91.5 L272.6 91.4 L273.1 91.5 L273.6 91.4 L274.1 91.4 L274.6 91.5 L275.1 91.6 L275.5 91.6 L276 91.5 L276.5 91.5 L277 91.5 L277.5 91.4 L278 91.4 L278.5 91.5 L279 91.6 L279.5 91.6 L280 91.6 L280.5 91.5 L281 91.5 L281.5 91.6 L282 91.6 L282.5 91.5 L283 91.4 L283.4 91.4 L283.9 91.5 L284.4 91.6 L284.9 91.6 L285.4 91.5 L285.9 91.5 L286.4 91.5 L286.9 91.5 L287.4 91.5 L287.9 91.4 L288.4 91.5 L288.9 91.4 L289.4 91.4 L289.9 91.3 L290.4 91.5 L290.8 91.4 L291.3 91.5 L291.8 91.4 L292.3 91.5 L292.8 91.4 L293.3 91.4 L293.8 91.2 L294.3 91.3 L294.8 91.3 L295.3 91.1 L295.8 90.5 L296.3 89.4 L296.8 88 L297.3 87.2 L297.8 88 L298.3 89.3 L298.7 90.3 L299.2 90.9 L299.7 91.2 L300.2 91.4 L300.7 91.4 L301.2 91.5 L301.7 91.4 L302.2 91.5 L302.7 91.5 L303.2 91.5 L303.7 91.4 L304.2 91.5 L304.7 91.4 L305.2 91.5 L305.7 91.4 L306.2 91.4 L306.6 91.3 L307.1 91.3 L307.6 91.4 L308.1 91.5 L308.6 91.5 L309.1 91.5 L309.6 91.5 L310.1 91.5 L310.6 91.5 L311.1 91.4 L311.6 91.5 L312.1 91.6 L312.6 91.6 L313.1 91.4 L313.6 91.3 L314 91 L314.5 90.6 L315 90.1 L315.5 90 L316 90.4 L316.5 90.8 L317 91.2 L317.5 91.3 L318 91.4 L318.5 91.4 L319 91.5 L319.5 91.5 L320 91.6 L320.5 91.5 L321 91.4 L321.5 91.3 L321.9 91.4 L322.4 91.4 L322.9 91.4 L323.4 91.5 L323.9 91.4 L324.4 91.5 L324.9 91.5 L325.4 91.6" fill="none" stroke="#c8962c" stroke-width="1.8" stroke-linejoin="round"/>
<path d="M49 112.1 L49.5 112.1 L50 112.1 L50.5 112.2 L51 112 L51.5 112 L52 112 L52.5 112.1 L52.9 112.1 L53.4 112 L53.9 112 L54.4 111.9 L54.9 112 L55.4 112 L55.9 111.9 L56.4 111.9 L56.9 111.9 L57.4 112 L57.9 112.1 L58.4 112 L58.9 112 L59.4 111.9 L59.9 112 L60.4 111.9 L60.8 111.9 L61.3 111.9 L61.8 111.9 L62.3 112 L62.8 112 L63.3 112.1 L63.8 112.1 L64.3 112.1 L64.8 112 L65.3 112.1 L65.8 112 L66.3 112 L66.8 112 L67.3 112.2 L67.8 112.1 L68.2 112.1 L68.7 112 L69.2 111.9 L69.7 111.9 L70.2 111.8 L70.7 111.9 L71.2 111.9 L71.7 111.9 L72.2 112 L72.7 111.9 L73.2 112 L73.7 112 L74.2 112 L74.7 112 L75.2 111.9 L75.7 112 L76.1 111.9 L76.6 111.9 L77.1 111.8 L77.6 111.8 L78.1 111.8 L78.6 111.7 L79.1 111.6 L79.6 111.4 L80.1 111.4 L80.6 111.2 L81.1 111 L81.6 110.8 L82.1 110.9 L82.6 110.8 L83.1 110.8 L83.5 110.8 L84 110.9 L84.5 110.8 L85 110.8 L85.5 110.8 L86 110.9 L86.5 111 L87 111.2 L87.5 111.3 L88 111.5 L88.5 111.5 L89 111.6 L89.5 111.6 L90 111.7 L90.5 111.7 L91 111.9 L91.4 111.9 L91.9 112 L92.4 112 L92.9 111.9 L93.4 111.8 L93.9 111.4 L94.4 110.7 L94.9 110.2 L95.4 110.9 L95.9 111.7 L96.4 111.9 L96.9 111.9 L97.4 111.9 L97.9 112 L98.4 112 L98.9 111.9 L99.3 111.9 L99.8 112 L100.3 112 L100.8 112 L101.3 111.9 L101.8 112 L102.3 111.9 L102.8 112 L103.3 112 L103.8 112 L104.3 112 L104.8 112 L105.3 112.1 L105.8 112.1 L106.3 112 L106.7 112 L107.2 111.9 L107.7 112 L108.2 112 L108.7 112 L109.2 112 L109.7 112.1 L110.2 112.2 L110.7 112.1 L111.2 112 L111.7 112 L112.2 112 L112.7 112 L113.2 111.9 L113.7 111.9 L114.2 111.9 L114.6 112 L115.1 112.1 L115.6 112.1 L116.1 112 L116.6 111.9 L117.1 111.9 L117.6 111.8 L118.1 111.9 L118.6 112 L119.1 112 L119.6 112 L120.1 112 L120.6 112 L121.1 112 L121.6 111.9 L122 111.8 L122.5 111.8 L123 111.7 L123.5 111.6 L124 111.5 L124.5 111.3 L125 110.7 L125.5 109 L126 105 L126.5 98.6 L127 93.2 L127.5 95.8 L128 102.5 L128.5 107.7 L129 110.2 L129.5 111.2 L129.9 111.5 L130.4 111.7 L130.9 111.7 L131.4 111.8 L131.9 111.8 L132.4 111.9 L132.9 111.9 L133.4 111.9 L133.9 112 L134.4 112 L134.9 112.1 L135.4 112.1 L135.9 112.1 L136.4 112 L136.9 111.9 L137.3 112 L137.8 112 L138.3 112.1 L138.8 112 L139.3 112 L139.8 112.1 L140.3 112 L140.8 112 L141.3 112 L141.8 112 L142.3 112 L142.8 112 L143.3 112 L143.8 112 L144.3 112.1 L144.8 111.9 L145.2 111.9 L145.7 111.8 L146.2 111.9 L146.7 111.9 L147.2 112 L147.7 111.9 L148.2 111.9 L148.7 111.9 L149.2 111.8 L149.7 111.8 L150.2 111.7 L150.7 111.7 L151.2 111.7 L151.7 111.5 L152.2 111.2 L152.6 110.3 L153.1 108.4 L153.6 106 L154.1 105.1 L154.6 107 L155.1 109.4 L155.6 110.8 L156.1 111.5 L156.6 111.6 L157.1 111.8 L157.6 111.8 L158.1 111.9 L158.6 111.9 L159.1 111.9 L159.6 111.9 L160.1 111.8 L160.5 111.9 L161 111.9 L161.5 112 L162 112 L162.5 112.1 L163 112.1 L163.5 112.1 L164 112 L164.5 112 L165 111.9 L165.5 111.9 L166 112 L166.5 112.1 L167 112.1 L167.5 112.1 L168 112 L168.4 112 L168.9 112 L169.4 111.9 L169.9 111.9 L170.4 112 L170.9 112 L171.4 112 L171.9 112 L172.4 112 L172.9 112 L173.4 111.9 L173.9 111.9 L174.4 112 L174.9 112 L175.4 112.1 L175.8 112.1 L176.3 112.1 L176.8 112 L177.3 112 L177.8 112 L178.3 112 L178.8 112 L179.3 112 L179.8 112 L180.3 112 L180.8 112 L181.3 111.9 L181.8 112 L182.3 112 L182.8 112 L183.3 112 L183.7 112.1 L184.2 112 L184.7 112 L185.2 111.9 L185.7 112 L186.2 112.1 L186.7 112.1 L187.2 112 L187.7 111.9 L188.2 112 L188.7 112 L189.2 112.1 L189.7 112 L190.2 112 L190.7 112 L191.1 112.1 L191.6 112 L192.1 112 L192.6 112 L193.1 112 L193.6 112 L194.1 112 L194.6 111.9 L195.1 112 L195.6 112 L196.1 112 L196.6 112 L197.1 112 L197.6 111.9 L198.1 111.9 L198.6 112 L199 112.1 L199.5 112.1 L200 112 L200.5 112 L201 112 L201.5 112 L202 112 L202.5 112.1 L203 112 L203.5 112.1 L204 112 L204.5 112 L205 112 L205.5 112 L206 112 L206.4 112 L206.9 112 L207.4 112 L207.9 112 L208.4 112.1 L208.9 112 L209.4 112 L209.9 112.1 L210.4 112 L210.9 112 L211.4 112 L211.9 112 L212.4 112 L212.9 111.9 L213.4 111.9 L213.9 112 L214.3 112 L214.8 111.9 L215.3 111.9 L215.8 112 L216.3 112.1 L216.8 112 L217.3 112 L217.8 112 L218.3 112.2 L218.8 112.2 L219.3 112 L219.8 112 L220.3 111.9 L220.8 112 L221.3 112 L221.8 112.1 L222.2 112 L222.7 111.9 L223.2 112 L223.7 112 L224.2 112 L224.7 111.9 L225.2 111.9 L225.7 112 L226.2 111.9 L226.7 111.9 L227.2 111.9 L227.7 111.9 L228.2 111.9 L228.7 111.9 L229.2 112 L229.6 112.1 L230.1 112 L230.6 112 L231.1 111.9 L231.6 112 L232.1 112 L232.6 112.1 L233.1 112 L233.6 112 L234.1 111.9 L234.6 111.9 L235.1 112 L235.6 111.9 L236.1 112 L236.6 112 L237.1 112 L237.5 111.9 L238 111.9 L238.5 111.8 L239 111.8 L239.5 111.7 L240 111.5 L240.5 110.8 L241 109.5 L241.5 107.9 L242 106.8 L242.5 107.7 L243 109.4 L243.5 110.7 L244 111.4 L244.5 111.6 L244.9 111.7 L245.4 111.8 L245.9 111.8 L246.4 112 L246.9 111.9 L247.4 112 L247.9 112 L248.4 111.9 L248.9 112 L249.4 111.9 L249.9 111.9 L250.4 111.9 L250.9 112 L251.4 112 L251.9 111.9 L252.4 112 L252.8 112 L253.3 112.1 L253.8 112 L254.3 112 L254.8 111.9 L255.3 111.9 L255.8 111.9 L256.3 111.9 L256.8 112 L257.3 112 L257.8 111.9 L258.3 112 L258.8 112 L259.3 112.1 L259.8 112 L260.2 112.1 L260.7 112 L261.2 112.1 L261.7 112 L262.2 112.1 L262.7 112 L263.2 112 L263.7 111.9 L264.2 111.8 L264.7 111.8 L265.2 111.9 L265.7 112 L266.2 112.1 L266.7 112 L267.2 112 L267.7 112 L268.1 112.1 L268.6 112.1 L269.1 112 L269.6 111.9 L270.1 111.9 L270.6 111.8 L271.1 111.9 L271.6 111.9 L272.1 112 L272.6 112 L273.1 112 L273.6 111.9 L274.1 111.9 L274.6 111.9 L275.1 111.9 L275.5 111.9 L276 111.9 L276.5 112 L277 112 L277.5 112.1 L278 112.1 L278.5 112.1 L279 112 L279.5 112.1 L280 112 L280.5 112 L281 111.9 L281.5 112 L282 112 L282.5 112 L283 111.9 L283.4 111.8 L283.9 111.8 L284.4 111.8 L284.9 111.9 L285.4 112 L285.9 112 L286.4 112 L286.9 111.9 L287.4 111.9 L287.9 112 L288.4 112 L288.9 112 L289.4 111.9 L289.9 111.9 L290.4 112 L290.8 112.1 L291.3 112 L291.8 112 L292.3 111.9 L292.8 111.9 L293.3 111.8 L293.8 111.9 L294.3 111.8 L294.8 111.7 L295.3 111.6 L295.8 111.3 L296.3 110.5 L296.8 109.1 L297.3 107.9 L297.8 107.9 L298.3 109.1 L298.7 110.5 L299.2 111.2 L299.7 111.6 L300.2 111.6 L300.7 111.7 L301.2 111.8 L301.7 111.8 L302.2 111.8 L302.7 111.9 L303.2 111.8 L303.7 111.8 L304.2 111.9 L304.7 111.9 L305.2 112 L305.7 111.9 L306.2 112 L306.6 111.9 L307.1 111.9 L307.6 111.8 L308.1 111.9 L308.6 112 L309.1 112.1 L309.6 112.1 L310.1 112 L310.6 111.9 L311.1 111.9 L311.6 111.9 L312.1 112 L312.6 111.9 L313.1 111.9 L313.6 111.8 L314 111.5 L314.5 111 L315 110.5 L315.5 110.5 L316 111 L316.5 111.4 L317 111.6 L317.5 111.7 L318 111.9 L318.5 112 L319 112 L319.5 111.9 L320 111.8 L320.5 111.8 L321 111.8 L321.5 111.9 L321.9 111.9 L322.4 112 L322.9 111.9 L323.4 111.9 L323.9 111.9 L324.4 111.9 L324.9 111.9 L325.4 111.9" fill="none" stroke="#9a7cb8" stroke-width="1.8" stroke-linejoin="round"/>
<path d="M49 152.9 L49.5 152.8 L50 152.7 L50.5 152.7 L51 152.7 L51.5 152.9 L52 152.8 L52.5 152.9 L52.9 152.8 L53.4 152.8 L53.9 152.8 L54.4 152.9 L54.9 152.8 L55.4 152.8 L55.9 152.8 L56.4 152.8 L56.9 152.8 L57.4 152.8 L57.9 152.9 L58.4 152.8 L58.9 152.9 L59.4 152.8 L59.9 152.8 L60.4 152.8 L60.8 152.8 L61.3 152.9 L61.8 152.8 L62.3 152.7 L62.8 152.7 L63.3 152.7 L63.8 152.9 L64.3 152.8 L64.8 152.8 L65.3 152.8 L65.8 152.8 L66.3 152.9 L66.8 152.9 L67.3 152.9 L67.8 152.9 L68.2 152.8 L68.7 152.9 L69.2 152.9 L69.7 152.8 L70.2 152.8 L70.7 152.7 L71.2 152.8 L71.7 152.8 L72.2 152.7 L72.7 152.8 L73.2 152.8 L73.7 152.8 L74.2 152.8 L74.7 152.7 L75.2 152.8 L75.7 152.7 L76.1 152.7 L76.6 152.7 L77.1 152.8 L77.6 152.8 L78.1 152.8 L78.6 152.8 L79.1 152.7 L79.6 152.7 L80.1 152.8 L80.6 152.8 L81.1 152.8 L81.6 152.8 L82.1 152.7 L82.6 152.7 L83.1 152.8 L83.5 152.8 L84 152.8 L84.5 152.8 L85 152.8 L85.5 152.9 L86 152.8 L86.5 152.9 L87 152.9 L87.5 152.9 L88 152.9 L88.5 152.9 L89 152.9 L89.5 152.9 L90 152.9 L90.5 152.8 L91 152.8 L91.4 152.8 L91.9 152.7 L92.4 152.7 L92.9 152.7 L93.4 152.7 L93.9 152.4 L94.4 151.9 L94.9 151.5 L95.4 151.9 L95.9 152.4 L96.4 152.6 L96.9 152.7 L97.4 152.7 L97.9 152.8 L98.4 152.8 L98.9 152.8 L99.3 152.8 L99.8 152.8 L100.3 152.8 L100.8 152.8 L101.3 152.7 L101.8 152.7 L102.3 152.7 L102.8 152.7 L103.3 152.8 L103.8 152.8 L104.3 152.8 L104.8 152.9 L105.3 152.9 L105.8 152.9 L106.3 152.8 L106.7 152.8 L107.2 152.8 L107.7 152.7 L108.2 152.8 L108.7 152.9 L109.2 152.9 L109.7 152.7 L110.2 152.7 L110.7 152.6 L111.2 152.6 L111.7 152.7 L112.2 152.7 L112.7 152.8 L113.2 152.7 L113.7 152.8 L114.2 152.9 L114.6 152.8 L115.1 152.7 L115.6 152.7 L116.1 152.8 L116.6 152.8 L117.1 152.8 L117.6 152.8 L118.1 152.8 L118.6 152.8 L119.1 152.7 L119.6 152.6 L120.1 152.6 L120.6 152.6 L121.1 152.6 L121.6 152.6 L122 152.6 L122.5 152.4 L123 152.3 L123.5 152.2 L124 152.1 L124.5 151.6 L125 150.1 L125.5 146.4 L126 140.2 L126.5 134.8 L127 136.7 L127.5 143.3 L128 148.4 L128.5 151.1 L129 152.1 L129.5 152.3 L129.9 152.5 L130.4 152.5 L130.9 152.6 L131.4 152.6 L131.9 152.7 L132.4 152.8 L132.9 152.8 L133.4 152.7 L133.9 152.7 L134.4 152.7 L134.9 152.7 L135.4 152.7 L135.9 152.8 L136.4 152.8 L136.9 152.8 L137.3 152.7 L137.8 152.8 L138.3 152.7 L138.8 152.8 L139.3 152.8 L139.8 152.9 L140.3 152.7 L140.8 152.7 L141.3 152.7 L141.8 152.8 L142.3 152.8 L142.8 152.7 L143.3 152.7 L143.8 152.6 L144.3 152.6 L144.8 152.8 L145.2 152.8 L145.7 152.9 L146.2 152.9 L146.7 152.8 L147.2 152.7 L147.7 152.7 L148.2 152.6 L148.7 152.7 L149.2 152.6 L149.7 152.7 L150.2 152.6 L150.7 152.5 L151.2 152.4 L151.7 152 L152.2 151.2 L152.6 149.4 L153.1 146.9 L153.6 145.7 L154.1 147.6 L154.6 150 L155.1 151.6 L155.6 152.2 L156.1 152.4 L156.6 152.6 L157.1 152.7 L157.6 152.7 L158.1 152.6 L158.6 152.6 L159.1 152.7 L159.6 152.8 L160.1 152.8 L160.5 152.8 L161 152.7 L161.5 152.7 L162 152.7 L162.5 152.7 L163 152.8 L163.5 152.8 L164 152.9 L164.5 152.8 L165 152.9 L165.5 152.9 L166 152.8 L166.5 152.8 L167 152.9 L167.5 152.8 L168 152.8 L168.4 152.7 L168.9 152.7 L169.4 152.6 L169.9 152.7 L170.4 152.7 L170.9 152.8 L171.4 152.7 L171.9 152.7 L172.4 152.7 L172.9 152.7 L173.4 152.8 L173.9 152.8 L174.4 152.8 L174.9 152.8 L175.4 152.8 L175.8 152.8 L176.3 152.8 L176.8 152.9 L177.3 152.8 L177.8 152.8 L178.3 152.7 L178.8 152.7 L179.3 152.8 L179.8 152.7 L180.3 152.9 L180.8 152.8 L181.3 152.9 L181.8 152.9 L182.3 152.9 L182.8 152.8 L183.3 152.8 L183.7 152.7 L184.2 152.8 L184.7 152.8 L185.2 152.9 L185.7 152.8 L186.2 152.8 L186.7 152.7 L187.2 152.8 L187.7 152.8 L188.2 152.9 L188.7 152.9 L189.2 152.9 L189.7 152.9 L190.2 152.8 L190.7 152.8 L191.1 152.7 L191.6 152.7 L192.1 152.7 L192.6 152.8 L193.1 152.7 L193.6 152.9 L194.1 152.9 L194.6 152.9 L195.1 152.9 L195.6 152.8 L196.1 152.7 L196.6 152.6 L197.1 152.6 L197.6 152.6 L198.1 152.7 L198.6 152.7 L199 152.8 L199.5 152.7 L200 152.7 L200.5 152.7 L201 152.7 L201.5 152.8 L202 152.8 L202.5 152.9 L203 152.8 L203.5 152.8 L204 152.8 L204.5 152.8 L205 152.7 L205.5 152.8 L206 152.8 L206.4 152.8 L206.9 152.8 L207.4 152.8 L207.9 152.9 L208.4 152.9 L208.9 152.9 L209.4 152.8 L209.9 152.8 L210.4 152.8 L210.9 152.9 L211.4 152.8 L211.9 152.9 L212.4 152.9 L212.9 152.9 L213.4 152.9 L213.9 152.9 L214.3 152.9 L214.8 152.9 L215.3 152.9 L215.8 153 L216.3 152.9 L216.8 152.8 L217.3 152.7 L217.8 152.7 L218.3 152.8 L218.8 152.8 L219.3 152.8 L219.8 152.7 L220.3 152.6 L220.8 152.7 L221.3 152.8 L221.8 152.9 L222.2 152.8 L222.7 152.8 L223.2 152.7 L223.7 152.8 L224.2 152.8 L224.7 152.9 L225.2 152.9 L225.7 152.9 L226.2 152.9 L226.7 152.8 L227.2 152.8 L227.7 152.8 L228.2 152.9 L228.7 152.9 L229.2 152.9 L229.6 152.9 L230.1 152.9 L230.6 152.8 L231.1 152.7 L231.6 152.6 L232.1 152.7 L232.6 152.8 L233.1 152.8 L233.6 152.8 L234.1 152.7 L234.6 152.7 L235.1 152.8 L235.6 152.8 L236.1 152.8 L236.6 152.8 L237.1 152.8 L237.5 152.6 L238 152.5 L238.5 152.6 L239 152.6 L239.5 152.3 L240 151.5 L240.5 150.1 L241 148.2 L241.5 146.9 L242 147.8 L242.5 149.7 L243 151.2 L243.5 152.1 L244 152.5 L244.5 152.6 L244.9 152.7 L245.4 152.8 L245.9 152.8 L246.4 152.9 L246.9 152.8 L247.4 152.7 L247.9 152.7 L248.4 152.7 L248.9 152.8 L249.4 152.8 L249.9 152.8 L250.4 152.7 L250.9 152.7 L251.4 152.8 L251.9 152.8 L252.4 152.7 L252.8 152.8 L253.3 152.8 L253.8 152.9 L254.3 152.8 L254.8 152.8 L255.3 152.8 L255.8 152.8 L256.3 152.7 L256.8 152.7 L257.3 152.8 L257.8 152.8 L258.3 152.8 L258.8 152.7 L259.3 152.8 L259.8 152.9 L260.2 153 L260.7 152.9 L261.2 152.8 L261.7 152.7 L262.2 152.7 L262.7 152.8 L263.2 152.9 L263.7 153 L264.2 152.9 L264.7 152.8 L265.2 152.8 L265.7 152.7 L266.2 152.8 L266.7 152.8 L267.2 152.8 L267.7 152.9 L268.1 152.9 L268.6 152.8 L269.1 152.8 L269.6 152.8 L270.1 152.9 L270.6 152.8 L271.1 152.8 L271.6 152.8 L272.1 152.9 L272.6 152.8 L273.1 152.7 L273.6 152.6 L274.1 152.6 L274.6 152.7 L275.1 152.7 L275.5 152.7 L276 152.7 L276.5 152.8 L277 152.9 L277.5 152.8 L278 152.8 L278.5 152.8 L279 152.8 L279.5 152.8 L280 152.8 L280.5 152.8 L281 152.7 L281.5 152.8 L282 152.8 L282.5 152.8 L283 152.7 L283.4 152.8 L283.9 152.8 L284.4 152.7 L284.9 152.7 L285.4 152.7 L285.9 152.8 L286.4 152.8 L286.9 152.8 L287.4 152.8 L287.9 152.8 L288.4 152.9 L288.9 152.9 L289.4 152.8 L289.9 152.8 L290.4 152.7 L290.8 152.8 L291.3 152.8 L291.8 152.8 L292.3 152.7 L292.8 152.8 L293.3 152.8 L293.8 152.8 L294.3 152.7 L294.8 152.5 L295.3 152.3 L295.8 151.7 L296.3 150.8 L296.8 149.6 L297.3 148.8 L297.8 149.3 L298.3 150.5 L298.7 151.6 L299.2 152.2 L299.7 152.5 L300.2 152.5 L300.7 152.5 L301.2 152.6 L301.7 152.7 L302.2 152.7 L302.7 152.8 L303.2 152.9 L303.7 152.9 L304.2 152.8 L304.7 152.8 L305.2 152.8 L305.7 152.9 L306.2 152.8 L306.6 152.7 L307.1 152.6 L307.6 152.7 L308.1 152.8 L308.6 152.8 L309.1 152.8 L309.6 152.8 L310.1 152.9 L310.6 152.9 L311.1 152.8 L311.6 152.8 L312.1 152.7 L312.6 152.7 L313.1 152.6 L313.6 152.5 L314 152.2 L314.5 151.7 L315 151.2 L315.5 151.3 L316 151.7 L316.5 152.1 L317 152.4 L317.5 152.6 L318 152.7 L318.5 152.7 L319 152.8 L319.5 152.8 L320 152.8 L320.5 152.8 L321 152.7 L321.5 152.7 L321.9 152.6 L322.4 152.7 L322.9 152.7 L323.4 152.7 L323.9 152.7 L324.4 152.7 L324.9 152.8 L325.4 152.8" fill="none" stroke="#1d6cb8" stroke-width="1.8" stroke-linejoin="round"/>
<path d="M49 173.4 L49.5 173.4 L50 173.5 L50.5 173.4 L51 173.4 L51.5 173.4 L52 173.4 L52.5 173.4 L52.9 173.4 L53.4 173.4 L53.9 173.4 L54.4 173.5 L54.9 173.5 L55.4 173.5 L55.9 173.4 L56.4 173.5 L56.9 173.6 L57.4 173.6 L57.9 173.6 L58.4 173.5 L58.9 173.6 L59.4 173.5 L59.9 173.5 L60.4 173.4 L60.8 173.4 L61.3 173.5 L61.8 173.5 L62.3 173.5 L62.8 173.5 L63.3 173.5 L63.8 173.5 L64.3 173.4 L64.8 173.4 L65.3 173.3 L65.8 173.4 L66.3 173.5 L66.8 173.5 L67.3 173.5 L67.8 173.5 L68.2 173.5 L68.7 173.5 L69.2 173.5 L69.7 173.5 L70.2 173.5 L70.7 173.5 L71.2 173.6 L71.7 173.6 L72.2 173.6 L72.7 173.6 L73.2 173.5 L73.7 173.5 L74.2 173.5 L74.7 173.5 L75.2 173.5 L75.7 173.4 L76.1 173.5 L76.6 173.5 L77.1 173.6 L77.6 173.6 L78.1 173.5 L78.6 173.6 L79.1 173.5 L79.6 173.5 L80.1 173.5 L80.6 173.5 L81.1 173.6 L81.6 173.6 L82.1 173.6 L82.6 173.5 L83.1 173.5 L83.5 173.5 L84 173.6 L84.5 173.6 L85 173.6 L85.5 173.5 L86 173.5 L86.5 173.4 L87 173.4 L87.5 173.4 L88 173.4 L88.5 173.3 L89 173.4 L89.5 173.4 L90 173.4 L90.5 173.4 L91 173.5 L91.4 173.5 L91.9 173.5 L92.4 173.4 L92.9 173.5 L93.4 173.4 L93.9 173.2 L94.4 172.5 L94.9 172 L95.4 172.5 L95.9 173.2 L96.4 173.5 L96.9 173.5 L97.4 173.4 L97.9 173.3 L98.4 173.4 L98.9 173.4 L99.3 173.5 L99.8 173.5 L100.3 173.4 L100.8 173.4 L101.3 173.4 L101.8 173.5 L102.3 173.5 L102.8 173.6 L103.3 173.6 L103.8 173.5 L104.3 173.5 L104.8 173.5 L105.3 173.5 L105.8 173.5 L106.3 173.6 L106.7 173.6 L107.2 173.6 L107.7 173.5 L108.2 173.4 L108.7 173.4 L109.2 173.4 L109.7 173.4 L110.2 173.3 L110.7 173.3 L111.2 173.4 L111.7 173.3 L112.2 173.3 L112.7 173.3 L113.2 173.3 L113.7 173.3 L114.2 173.3 L114.6 173.4 L115.1 173.5 L115.6 173.5 L116.1 173.4 L116.6 173.3 L117.1 173.4 L117.6 173.3 L118.1 173.4 L118.6 173.5 L119.1 173.5 L119.6 173.5 L120.1 173.3 L120.6 173.2 L121.1 173.2 L121.6 173.2 L122 173.2 L122.5 173.2 L123 173 L123.5 172.9 L124 172.6 L124.5 171.7 L125 169.2 L125.5 164.2 L126 157.6 L126.5 155.1 L127 160.4 L127.5 166.8 L128 170.6 L128.5 172.2 L129 172.7 L129.5 173 L129.9 173.1 L130.4 173.3 L130.9 173.3 L131.4 173.3 L131.9 173.3 L132.4 173.4 L132.9 173.5 L133.4 173.6 L133.9 173.5 L134.4 173.5 L134.9 173.5 L135.4 173.4 L135.9 173.4 L136.4 173.4 L136.9 173.3 L137.3 173.3 L137.8 173.3 L138.3 173.4 L138.8 173.5 L139.3 173.5 L139.8 173.6 L140.3 173.6 L140.8 173.7 L141.3 173.6 L141.8 173.5 L142.3 173.4 L142.8 173.3 L143.3 173.3 L143.8 173.4 L144.3 173.5 L144.8 173.6 L145.2 173.6 L145.7 173.5 L146.2 173.5 L146.7 173.5 L147.2 173.4 L147.7 173.5 L148.2 173.5 L148.7 173.5 L149.2 173.5 L149.7 173.4 L150.2 173.3 L150.7 173.2 L151.2 173.1 L151.7 172.7 L152.2 171.4 L152.6 169.2 L153.1 167 L153.6 167.4 L154.1 169.7 L154.6 171.6 L155.1 172.6 L155.6 173.1 L156.1 173.3 L156.6 173.4 L157.1 173.4 L157.6 173.5 L158.1 173.6 L158.6 173.5 L159.1 173.5 L159.6 173.4 L160.1 173.3 L160.5 173.4 L161 173.5 L161.5 173.6 L162 173.6 L162.5 173.5 L163 173.6 L163.5 173.6 L164 173.5 L164.5 173.5 L165 173.4 L165.5 173.4 L166 173.4 L166.5 173.4 L167 173.5 L167.5 173.4 L168 173.5 L168.4 173.5 L168.9 173.5 L169.4 173.5 L169.9 173.6 L170.4 173.5 L170.9 173.6 L171.4 173.5 L171.9 173.6 L172.4 173.5 L172.9 173.4 L173.4 173.4 L173.9 173.4 L174.4 173.4 L174.9 173.4 L175.4 173.4 L175.8 173.5 L176.3 173.5 L176.8 173.5 L177.3 173.5 L177.8 173.5 L178.3 173.5 L178.8 173.5 L179.3 173.5 L179.8 173.5 L180.3 173.4 L180.8 173.4 L181.3 173.5 L181.8 173.5 L182.3 173.5 L182.8 173.5 L183.3 173.6 L183.7 173.6 L184.2 173.6 L184.7 173.5 L185.2 173.5 L185.7 173.5 L186.2 173.5 L186.7 173.5 L187.2 173.5 L187.7 173.6 L188.2 173.6 L188.7 173.6 L189.2 173.6 L189.7 173.6 L190.2 173.5 L190.7 173.5 L191.1 173.6 L191.6 173.6 L192.1 173.4 L192.6 173.4 L193.1 173.4 L193.6 173.4 L194.1 173.3 L194.6 173.4 L195.1 173.5 L195.6 173.6 L196.1 173.5 L196.6 173.5 L197.1 173.5 L197.6 173.5 L198.1 173.5 L198.6 173.6 L199 173.6 L199.5 173.6 L200 173.5 L200.5 173.5 L201 173.5 L201.5 173.6 L202 173.6 L202.5 173.5 L203 173.4 L203.5 173.5 L204 173.4 L204.5 173.4 L205 173.5 L205.5 173.4 L206 173.5 L206.4 173.4 L206.9 173.4 L207.4 173.4 L207.9 173.4 L208.4 173.5 L208.9 173.5 L209.4 173.5 L209.9 173.5 L210.4 173.7 L210.9 173.5 L211.4 173.5 L211.9 173.3 L212.4 173.4 L212.9 173.4 L213.4 173.5 L213.9 173.4 L214.3 173.5 L214.8 173.6 L215.3 173.6 L215.8 173.5 L216.3 173.5 L216.8 173.5 L217.3 173.6 L217.8 173.5 L218.3 173.4 L218.8 173.4 L219.3 173.5 L219.8 173.5 L220.3 173.5 L220.8 173.5 L221.3 173.6 L221.8 173.5 L222.2 173.5 L222.7 173.4 L223.2 173.5 L223.7 173.5 L224.2 173.5 L224.7 173.5 L225.2 173.5 L225.7 173.5 L226.2 173.5 L226.7 173.4 L227.2 173.4 L227.7 173.4 L228.2 173.4 L228.7 173.3 L229.2 173.3 L229.6 173.4 L230.1 173.4 L230.6 173.5 L231.1 173.5 L231.6 173.5 L232.1 173.4 L232.6 173.4 L233.1 173.3 L233.6 173.4 L234.1 173.3 L234.6 173.4 L235.1 173.4 L235.6 173.5 L236.1 173.4 L236.6 173.5 L237.1 173.4 L237.5 173.5 L238 173.4 L238.5 173.4 L239 173.3 L239.5 173.1 L240 172.6 L240.5 171.6 L241 170.3 L241.5 169.3 L242 169.9 L242.5 171.3 L243 172.5 L243.5 173 L244 173.2 L244.5 173.3 L244.9 173.3 L245.4 173.2 L245.9 173.4 L246.4 173.4 L246.9 173.4 L247.4 173.3 L247.9 173.4 L248.4 173.5 L248.9 173.6 L249.4 173.5 L249.9 173.4 L250.4 173.4 L250.9 173.4 L251.4 173.4 L251.9 173.4 L252.4 173.4 L252.8 173.5 L253.3 173.6 L253.8 173.6 L254.3 173.5 L254.8 173.5 L255.3 173.5 L255.8 173.5 L256.3 173.4 L256.8 173.4 L257.3 173.4 L257.8 173.5 L258.3 173.4 L258.8 173.5 L259.3 173.4 L259.8 173.4 L260.2 173.3 L260.7 173.4 L261.2 173.4 L261.7 173.4 L262.2 173.3 L262.7 173.4 L263.2 173.4 L263.7 173.5 L264.2 173.5 L264.7 173.6 L265.2 173.6 L265.7 173.6 L266.2 173.6 L266.7 173.5 L267.2 173.5 L267.7 173.5 L268.1 173.5 L268.6 173.5 L269.1 173.5 L269.6 173.5 L270.1 173.5 L270.6 173.6 L271.1 173.6 L271.6 173.6 L272.1 173.5 L272.6 173.5 L273.1 173.4 L273.6 173.5 L274.1 173.6 L274.6 173.6 L275.1 173.6 L275.5 173.6 L276 173.6 L276.5 173.6 L277 173.5 L277.5 173.4 L278 173.3 L278.5 173.4 L279 173.4 L279.5 173.5 L280 173.5 L280.5 173.6 L281 173.5 L281.5 173.6 L282 173.5 L282.5 173.4 L283 173.5 L283.4 173.5 L283.9 173.6 L284.4 173.5 L284.9 173.5 L285.4 173.5 L285.9 173.5 L286.4 173.4 L286.9 173.4 L287.4 173.4 L287.9 173.4 L288.4 173.4 L288.9 173.5 L289.4 173.5 L289.9 173.6 L290.4 173.5 L290.8 173.5 L291.3 173.5 L291.8 173.5 L292.3 173.5 L292.8 173.5 L293.3 173.4 L293.8 173.3 L294.3 173.2 L294.8 173.2 L295.3 173 L295.8 172.4 L296.3 171.5 L296.8 170.6 L297.3 170.4 L297.8 171.3 L298.3 172.3 L298.7 173 L299.2 173.2 L299.7 173.3 L300.2 173.4 L300.7 173.4 L301.2 173.4 L301.7 173.4 L302.2 173.4 L302.7 173.5 L303.2 173.6 L303.7 173.5 L304.2 173.5 L304.7 173.4 L305.2 173.6 L305.7 173.6 L306.2 173.5 L306.6 173.4 L307.1 173.5 L307.6 173.5 L308.1 173.5 L308.6 173.4 L309.1 173.4 L309.6 173.5 L310.1 173.5 L310.6 173.5 L311.1 173.5 L311.6 173.6 L312.1 173.5 L312.6 173.5 L313.1 173.4 L313.6 173.1 L314 172.7 L314.5 172.2 L315 172.2 L315.5 172.6 L316 173 L316.5 173.2 L317 173.3 L317.5 173.4 L318 173.5 L318.5 173.4 L319 173.5 L319.5 173.5 L320 173.5 L320.5 173.5 L321 173.5 L321.5 173.6 L321.9 173.5 L322.4 173.5 L322.9 173.4 L323.4 173.5 L323.9 173.6 L324.4 173.6 L324.9 173.5 L325.4 173.4" fill="none" stroke="#e2434f" stroke-width="1.8" stroke-linejoin="round"/>
<path d="M49 193.7 L49.5 193.7 L50 193.6 L50.5 193.6 L51 193.7 L51.5 193.7 L52 193.7 L52.5 193.7 L52.9 193.7 L53.4 193.7 L53.9 193.6 L54.4 193.7 L54.9 193.6 L55.4 193.7 L55.9 193.5 L56.4 193.6 L56.9 193.6 L57.4 193.7 L57.9 193.7 L58.4 193.7 L58.9 193.6 L59.4 193.7 L59.9 193.7 L60.4 193.7 L60.8 193.6 L61.3 193.7 L61.8 193.7 L62.3 193.7 L62.8 193.7 L63.3 193.7 L63.8 193.8 L64.3 193.8 L64.8 193.7 L65.3 193.6 L65.8 193.6 L66.3 193.7 L66.8 193.7 L67.3 193.7 L67.8 193.7 L68.2 193.8 L68.7 193.8 L69.2 193.8 L69.7 193.7 L70.2 193.7 L70.7 193.7 L71.2 193.7 L71.7 193.6 L72.2 193.7 L72.7 193.7 L73.2 193.8 L73.7 193.8 L74.2 193.8 L74.7 193.7 L75.2 193.6 L75.7 193.6 L76.1 193.7 L76.6 193.6 L77.1 193.7 L77.6 193.7 L78.1 193.8 L78.6 193.7 L79.1 193.6 L79.6 193.6 L80.1 193.6 L80.6 193.6 L81.1 193.6 L81.6 193.6 L82.1 193.7 L82.6 193.8 L83.1 193.8 L83.5 193.7 L84 193.6 L84.5 193.7 L85 193.7 L85.5 193.7 L86 193.8 L86.5 193.7 L87 193.6 L87.5 193.6 L88 193.6 L88.5 193.7 L89 193.6 L89.5 193.6 L90 193.6 L90.5 193.6 L91 193.6 L91.4 193.6 L91.9 193.5 L92.4 193.1 L92.9 192.5 L93.4 192.4 L93.9 193 L94.4 193.4 L94.9 193.6 L95.4 193.7 L95.9 193.7 L96.4 193.8 L96.9 193.7 L97.4 193.6 L97.9 193.5 L98.4 193.6 L98.9 193.6 L99.3 193.7 L99.8 193.7 L100.3 193.8 L100.8 193.7 L101.3 193.7 L101.8 193.6 L102.3 193.7 L102.8 193.6 L103.3 193.7 L103.8 193.7 L104.3 193.9 L104.8 193.8 L105.3 193.7 L105.8 193.7 L106.3 193.7 L106.7 193.7 L107.2 193.6 L107.7 193.6 L108.2 193.7 L108.7 193.6 L109.2 193.6 L109.7 193.6 L110.2 193.6 L110.7 193.6 L111.2 193.6 L111.7 193.6 L112.2 193.7 L112.7 193.7 L113.2 193.7 L113.7 193.6 L114.2 193.6 L114.6 193.6 L115.1 193.6 L115.6 193.5 L116.1 193.6 L116.6 193.6 L117.1 193.7 L117.6 193.6 L118.1 193.5 L118.6 193.5 L119.1 193.5 L119.6 193.6 L120.1 193.6 L120.6 193.6 L121.1 193.5 L121.6 193.4 L122 193.3 L122.5 193.1 L123 192.9 L123.5 192.1 L124 189.9 L124.5 185.2 L125 178.6 L125.5 175.1 L126 179.7 L126.5 186.2 L127 190.4 L127.5 192.2 L128 192.9 L128.5 193.2 L129 193.4 L129.5 193.5 L129.9 193.6 L130.4 193.6 L130.9 193.6 L131.4 193.6 L131.9 193.7 L132.4 193.7 L132.9 193.7 L133.4 193.6 L133.9 193.6 L134.4 193.6 L134.9 193.7 L135.4 193.7 L135.9 193.6 L136.4 193.6 L136.9 193.7 L137.3 193.7 L137.8 193.8 L138.3 193.8 L138.8 193.8 L139.3 193.8 L139.8 193.7 L140.3 193.7 L140.8 193.6 L141.3 193.7 L141.8 193.7 L142.3 193.7 L142.8 193.6 L143.3 193.6 L143.8 193.6 L144.3 193.6 L144.8 193.6 L145.2 193.6 L145.7 193.6 L146.2 193.6 L146.7 193.6 L147.2 193.6 L147.7 193.6 L148.2 193.6 L148.7 193.6 L149.2 193.5 L149.7 193.5 L150.2 193.4 L150.7 193 L151.2 191.7 L151.7 189.6 L152.2 187.2 L152.6 187.2 L153.1 189.5 L153.6 191.7 L154.1 192.9 L154.6 193.4 L155.1 193.5 L155.6 193.6 L156.1 193.7 L156.6 193.8 L157.1 193.8 L157.6 193.7 L158.1 193.6 L158.6 193.6 L159.1 193.6 L159.6 193.6 L160.1 193.7 L160.5 193.8 L161 193.8 L161.5 193.7 L162 193.7 L162.5 193.7 L163 193.8 L163.5 193.7 L164 193.6 L164.5 193.7 L165 193.7 L165.5 193.8 L166 193.7 L166.5 193.7 L167 193.8 L167.5 193.8 L168 193.8 L168.4 193.7 L168.9 193.7 L169.4 193.6 L169.9 193.6 L170.4 193.7 L170.9 193.6 L171.4 193.7 L171.9 193.6 L172.4 193.7 L172.9 193.6 L173.4 193.6 L173.9 193.6 L174.4 193.7 L174.9 193.7 L175.4 193.6 L175.8 193.6 L176.3 193.6 L176.8 193.7 L177.3 193.6 L177.8 193.6 L178.3 193.6 L178.8 193.7 L179.3 193.8 L179.8 193.8 L180.3 193.7 L180.8 193.7 L181.3 193.8 L181.8 193.8 L182.3 193.7 L182.8 193.8 L183.3 193.8 L183.7 193.9 L184.2 193.8 L184.7 193.7 L185.2 193.6 L185.7 193.6 L186.2 193.7 L186.7 193.6 L187.2 193.7 L187.7 193.7 L188.2 193.8 L188.7 193.7 L189.2 193.8 L189.7 193.8 L190.2 193.8 L190.7 193.8 L191.1 193.8 L191.6 193.9 L192.1 193.8 L192.6 193.7 L193.1 193.7 L193.6 193.7 L194.1 193.7 L194.6 193.7 L195.1 193.7 L195.6 193.7 L196.1 193.7 L196.6 193.7 L197.1 193.8 L197.6 193.8 L198.1 193.8 L198.6 193.7 L199 193.7 L199.5 193.6 L200 193.7 L200.5 193.8 L201 193.8 L201.5 193.7 L202 193.7 L202.5 193.6 L203 193.6 L203.5 193.7 L204 193.7 L204.5 193.8 L205 193.7 L205.5 193.7 L206 193.7 L206.4 193.6 L206.9 193.6 L207.4 193.6 L207.9 193.6 L208.4 193.7 L208.9 193.7 L209.4 193.8 L209.9 193.8 L210.4 193.7 L210.9 193.8 L211.4 193.6 L211.9 193.7 L212.4 193.7 L212.9 193.8 L213.4 193.8 L213.9 193.8 L214.3 193.8 L214.8 193.8 L215.3 193.7 L215.8 193.6 L216.3 193.6 L216.8 193.6 L217.3 193.6 L217.8 193.7 L218.3 193.7 L218.8 193.7 L219.3 193.6 L219.8 193.6 L220.3 193.6 L220.8 193.7 L221.3 193.8 L221.8 193.7 L222.2 193.6 L222.7 193.6 L223.2 193.6 L223.7 193.7 L224.2 193.7 L224.7 193.7 L225.2 193.7 L225.7 193.8 L226.2 193.8 L226.7 193.8 L227.2 193.7 L227.7 193.7 L228.2 193.7 L228.7 193.8 L229.2 193.7 L229.6 193.7 L230.1 193.7 L230.6 193.7 L231.1 193.7 L231.6 193.7 L232.1 193.7 L232.6 193.7 L233.1 193.7 L233.6 193.6 L234.1 193.7 L234.6 193.6 L235.1 193.6 L235.6 193.6 L236.1 193.6 L236.6 193.5 L237.1 193.5 L237.5 193.4 L238 193.3 L238.5 192.7 L239 191.6 L239.5 189.8 L240 188.1 L240.5 188.6 L241 190.4 L241.5 192 L242 192.8 L242.5 193.2 L243 193.4 L243.5 193.5 L244 193.6 L244.5 193.7 L244.9 193.8 L245.4 193.7 L245.9 193.7 L246.4 193.6 L246.9 193.7 L247.4 193.6 L247.9 193.7 L248.4 193.7 L248.9 193.8 L249.4 193.7 L249.9 193.7 L250.4 193.6 L250.9 193.7 L251.4 193.6 L251.9 193.8 L252.4 193.8 L252.8 193.9 L253.3 193.8 L253.8 193.8 L254.3 193.7 L254.8 193.6 L255.3 193.6 L255.8 193.7 L256.3 193.8 L256.8 193.8 L257.3 193.7 L257.8 193.7 L258.3 193.7 L258.8 193.7 L259.3 193.6 L259.8 193.6 L260.2 193.5 L260.7 193.6 L261.2 193.7 L261.7 193.7 L262.2 193.7 L262.7 193.7 L263.2 193.7 L263.7 193.7 L264.2 193.7 L264.7 193.7 L265.2 193.7 L265.7 193.7 L266.2 193.7 L266.7 193.7 L267.2 193.7 L267.7 193.7 L268.1 193.8 L268.6 193.8 L269.1 193.8 L269.6 193.8 L270.1 193.7 L270.6 193.7 L271.1 193.6 L271.6 193.6 L272.1 193.6 L272.6 193.7 L273.1 193.8 L273.6 193.8 L274.1 193.8 L274.6 193.9 L275.1 193.8 L275.5 193.8 L276 193.7 L276.5 193.7 L277 193.7 L277.5 193.7 L278 193.7 L278.5 193.6 L279 193.6 L279.5 193.6 L280 193.7 L280.5 193.7 L281 193.7 L281.5 193.7 L282 193.7 L282.5 193.7 L283 193.7 L283.4 193.7 L283.9 193.7 L284.4 193.6 L284.9 193.7 L285.4 193.8 L285.9 193.8 L286.4 193.8 L286.9 193.7 L287.4 193.6 L287.9 193.7 L288.4 193.7 L288.9 193.7 L289.4 193.7 L289.9 193.7 L290.4 193.7 L290.8 193.7 L291.3 193.8 L291.8 193.7 L292.3 193.7 L292.8 193.6 L293.3 193.6 L293.8 193.4 L294.3 192.9 L294.8 192 L295.3 190.9 L295.8 190.1 L296.3 190.3 L296.8 191.5 L297.3 192.5 L297.8 193.2 L298.3 193.4 L298.7 193.5 L299.2 193.5 L299.7 193.5 L300.2 193.5 L300.7 193.6 L301.2 193.6 L301.7 193.6 L302.2 193.6 L302.7 193.7 L303.2 193.7 L303.7 193.8 L304.2 193.8 L304.7 193.8 L305.2 193.7 L305.7 193.7 L306.2 193.8 L306.6 193.8 L307.1 193.8 L307.6 193.7 L308.1 193.7 L308.6 193.7 L309.1 193.7 L309.6 193.6 L310.1 193.6 L310.6 193.7 L311.1 193.6 L311.6 193.5 L312.1 193.4 L312.6 193.1 L313.1 192.7 L313.6 192.3 L314 192.5 L314.5 193 L315 193.4 L315.5 193.6 L316 193.7 L316.5 193.6 L317 193.6 L317.5 193.6 L318 193.7 L318.5 193.8 L319 193.7 L319.5 193.7 L320 193.7 L320.5 193.7 L321 193.7 L321.5 193.7 L321.9 193.8 L322.4 193.8 L322.9 193.7 L323.4 193.7 L323.9 193.7 L324.4 193.7 L324.9 193.7 L325.4 193.7" fill="none" stroke="#575757" stroke-width="1.8" stroke-linejoin="round"/>
<path d="M49 128.2 L49.5 128.2 L50 128.2 L50.5 128.1 L51 128 L51.5 128 L52 127.9 L52.5 127.9 L52.9 127.8 L53.4 127.7 L53.9 127.5 L54.4 127.5 L54.9 127.5 L55.4 127.5 L55.9 127.4 L56.4 127.4 L56.9 127.5 L57.4 127.4 L57.9 127.4 L58.4 127.3 L58.9 127.3 L59.4 127.4 L59.9 127.5 L60.4 127.5 L60.8 127.6 L61.3 127.7 L61.8 127.8 L62.3 128 L62.8 128.1 L63.3 128.2 L63.8 128.2 L64.3 128.3 L64.8 128.3 L65.3 128.3 L65.8 128.3 L66.3 128.4 L66.8 128.5 L67.3 128.5 L67.8 128.4 L68.2 128.3 L68.7 128.3 L69.2 128.2 L69.7 128.3 L70.2 128.3 L70.7 128.4 L71.2 128.3 L71.7 128.4 L72.2 128.4 L72.7 128.3 L73.2 128.2 L73.7 128.2 L74.2 128.2 L74.7 128.3 L75.2 128.1 L75.7 128 L76.1 127.9 L76.6 127.8 L77.1 127.7 L77.6 127.4 L78.1 127 L78.6 126.6 L79.1 126.1 L79.6 125.3 L80.1 124.1 L80.6 122.8 L81.1 121.4 L81.6 119.8 L82.1 118.1 L82.6 116.5 L83.1 115 L83.5 113.9 L84 113.3 L84.5 113.3 L85 114.1 L85.5 115.3 L86 116.8 L86.5 118.5 L87 120.2 L87.5 121.9 L88 123.4 L88.5 124.6 L89 125.6 L89.5 126.3 L90 126.9 L90.5 127.3 L91 127.7 L91.4 127.9 L91.9 128.1 L92.4 128.2 L92.9 128.3 L93.4 128.3 L93.9 128.4 L94.4 128.5 L94.9 128.4 L95.4 128.4 L95.9 128.5 L96.4 128.5 L96.9 128.6 L97.4 128.6 L97.9 128.7 L98.4 128.8 L98.9 128.8 L99.3 128.8 L99.8 128.8 L100.3 128.8 L100.8 128.8 L101.3 128.8 L101.8 128.9 L102.3 128.9 L102.8 128.9 L103.3 128.9 L103.8 129 L104.3 129 L104.8 129 L105.3 129 L105.8 129.1 L106.3 129 L106.7 128.9 L107.2 128.9 L107.7 128.9 L108.2 129 L108.7 129.1 L109.2 129 L109.7 129.1 L110.2 129.1 L110.7 129.1 L111.2 129 L111.7 129 L112.2 129 L112.7 129 L113.2 129 L113.7 129.1 L114.2 129.2 L114.6 129.2 L115.1 129.2 L115.6 129.1 L116.1 129.1 L116.6 129 L117.1 129.1 L117.6 129.1 L118.1 129.1 L118.6 129.1 L119.1 129.1 L119.6 129.1 L120.1 129.2 L120.6 129.2 L121.1 129.3 L121.6 129.4 L122 129.4 L122.5 129.3 L123 129.2 L123.5 129.2 L124 129.1 L124.5 129.2 L125 129.3 L125.5 129.4 L126 129.3 L126.5 129.3 L127 129.3 L127.5 129.4 L128 129.3 L128.5 129.4 L129 129.3 L129.5 129.4 L129.9 129.3 L130.4 129.5 L130.9 129.5 L131.4 129.5 L131.9 129.5 L132.4 129.5 L132.9 129.5 L133.4 129.5 L133.9 129.5 L134.4 129.6 L134.9 129.5 L135.4 129.5 L135.9 129.5 L136.4 129.5 L136.9 129.5 L137.3 129.5 L137.8 129.5 L138.3 129.5 L138.8 129.5 L139.3 129.5 L139.8 129.5 L140.3 129.6 L140.8 129.7 L141.3 129.6 L141.8 129.6 L142.3 129.6 L142.8 129.6 L143.3 129.6 L143.8 129.5 L144.3 129.6 L144.8 129.5 L145.2 129.6 L145.7 129.5 L146.2 129.6 L146.7 129.6 L147.2 129.6 L147.7 129.7 L148.2 129.7 L148.7 129.7 L149.2 129.6 L149.7 129.5 L150.2 129.6 L150.7 129.6 L151.2 129.6 L151.7 129.6 L152.2 129.7 L152.6 129.7 L153.1 129.7 L153.6 129.7 L154.1 129.7 L154.6 129.7 L155.1 129.7 L155.6 129.7 L156.1 129.8 L156.6 129.9 L157.1 129.8 L157.6 129.8 L158.1 129.7 L158.6 129.7 L159.1 129.7 L159.6 129.8 L160.1 129.9 L160.5 129.9 L161 129.9 L161.5 129.9 L162 129.8 L162.5 129.7 L163 129.7 L163.5 129.8 L164 129.8 L164.5 129.8 L165 129.8 L165.5 129.8 L166 129.9 L166.5 130 L167 130 L167.5 129.9 L168 129.8 L168.4 129.8 L168.9 129.8 L169.4 129.9 L169.9 129.9 L170.4 129.9 L170.9 129.9 L171.4 129.9 L171.9 129.9 L172.4 129.8 L172.9 129.8 L173.4 129.9 L173.9 129.9 L174.4 129.9 L174.9 129.8 L175.4 129.9 L175.8 129.9 L176.3 130 L176.8 130 L177.3 130.1 L177.8 130.1 L178.3 130.2 L178.8 130.1 L179.3 130 L179.8 130 L180.3 129.9 L180.8 129.9 L181.3 130 L181.8 130.1 L182.3 130 L182.8 130 L183.3 130.1 L183.7 130.1 L184.2 130.1 L184.7 130.2 L185.2 130.2 L185.7 130.2 L186.2 130.2 L186.7 130.2 L187.2 130.2 L187.7 130.2 L188.2 130.2 L188.7 130.1 L189.2 130.1 L189.7 130.2 L190.2 130.2 L190.7 130.2 L191.1 130.2 L191.6 130.3 L192.1 130.4 L192.6 130.3 L193.1 130.3 L193.6 130.2 L194.1 130.2 L194.6 130.3 L195.1 130.3 L195.6 130.3 L196.1 130.3 L196.6 130.3 L197.1 130.4 L197.6 130.5 L198.1 130.4 L198.6 130.4 L199 130.3 L199.5 130.4 L200 130.4 L200.5 130.4 L201 130.3 L201.5 130.3 L202 130.3 L202.5 130.4 L203 130.4 L203.5 130.3 L204 130.3 L204.5 130.3 L205 130.4 L205.5 130.3 L206 130.4 L206.4 130.4 L206.9 130.4 L207.4 130.4 L207.9 130.3 L208.4 130.4 L208.9 130.5 L209.4 130.5 L209.9 130.6 L210.4 130.5 L210.9 130.6 L211.4 130.5 L211.9 130.4 L212.4 130.4 L212.9 130.4 L213.4 130.5 L213.9 130.5 L214.3 130.6 L214.8 130.6 L215.3 130.6 L215.8 130.6 L216.3 130.5 L216.8 130.5 L217.3 130.6 L217.8 130.6 L218.3 130.6 L218.8 130.6 L219.3 130.7 L219.8 130.7 L220.3 130.6 L220.8 130.6 L221.3 130.6 L221.8 130.6 L222.2 130.6 L222.7 130.6 L223.2 130.6 L223.7 130.7 L224.2 130.7 L224.7 130.7 L225.2 130.7 L225.7 130.7 L226.2 130.6 L226.7 130.6 L227.2 130.6 L227.7 130.7 L228.2 130.8 L228.7 130.8 L229.2 130.7 L229.6 130.6 L230.1 130.7 L230.6 130.7 L231.1 130.8 L231.6 130.8 L232.1 130.8 L232.6 130.7 L233.1 130.7 L233.6 130.8 L234.1 130.8 L234.6 130.8 L235.1 130.7 L235.6 130.7 L236.1 130.7 L236.6 130.8 L237.1 130.8 L237.5 130.8 L238 130.8 L238.5 130.8 L239 130.8 L239.5 130.8 L240 130.8 L240.5 130.8 L241 130.8 L241.5 130.8 L242 130.8 L242.5 130.9 L243 130.9 L243.5 130.9 L244 130.9 L244.5 130.8 L244.9 130.9 L245.4 130.9 L245.9 131 L246.4 131 L246.9 131 L247.4 131.1 L247.9 131 L248.4 131 L248.9 131 L249.4 131.1 L249.9 131.1 L250.4 131 L250.9 131 L251.4 131 L251.9 131.1 L252.4 131.1 L252.8 131.1 L253.3 131 L253.8 131 L254.3 131 L254.8 131 L255.3 131 L255.8 131 L256.3 131.1 L256.8 131.1 L257.3 131.1 L257.8 131.1 L258.3 131 L258.8 131 L259.3 131 L259.8 131.2 L260.2 131.3 L260.7 131.2 L261.2 131.2 L261.7 131.1 L262.2 131.2 L262.7 131.2 L263.2 131.1 L263.7 131.1 L264.2 131 L264.7 131 L265.2 131.1 L265.7 131.1 L266.2 131.2 L266.7 131.2 L267.2 131.1 L267.7 131.1 L268.1 131.2 L268.6 131.3 L269.1 131.4 L269.6 131.3 L270.1 131.2 L270.6 131.2 L271.1 131.3 L271.6 131.4 L272.1 131.3 L272.6 131.3 L273.1 131.3 L273.6 131.3 L274.1 131.3 L274.6 131.3 L275.1 131.3 L275.5 131.3 L276 131.4 L276.5 131.3 L277 131.3 L277.5 131.4 L278 131.3 L278.5 131.3 L279 131.3 L279.5 131.3 L280 131.4 L280.5 131.4 L281 131.5 L281.5 131.5 L282 131.5 L282.5 131.5 L283 131.4 L283.4 131.4 L283.9 131.5 L284.4 131.6 L284.9 131.5 L285.4 131.5 L285.9 131.5 L286.4 131.6 L286.9 131.6 L287.4 131.6 L287.9 131.6 L288.4 131.6 L288.9 131.6 L289.4 131.6 L289.9 131.6 L290.4 131.6 L290.8 131.6 L291.3 131.5 L291.8 131.5 L292.3 131.5 L292.8 131.5 L293.3 131.5 L293.8 131.5 L294.3 131.6 L294.8 131.6 L295.3 131.6 L295.8 131.6 L296.3 131.7 L296.8 131.6 L297.3 131.6 L297.8 131.7 L298.3 131.6 L298.7 131.7 L299.2 131.7 L299.7 131.8 L300.2 131.7 L300.7 131.8 L301.2 131.7 L301.7 131.7 L302.2 131.7 L302.7 131.7 L303.2 131.7 L303.7 131.6 L304.2 131.6 L304.7 131.6 L305.2 131.6 L305.7 131.6 L306.2 131.7 L306.6 131.8 L307.1 131.8 L307.6 131.8 L308.1 131.8 L308.6 131.9 L309.1 131.9 L309.6 131.9 L310.1 131.8 L310.6 131.8 L311.1 131.8 L311.6 131.8 L312.1 131.9 L312.6 131.8 L313.1 131.8 L313.6 131.7 L314 131.8 L314.5 131.8 L315 131.8 L315.5 131.9 L316 131.9 L316.5 131.9 L317 131.9 L317.5 131.9 L318 131.9 L318.5 131.9 L319 131.9 L319.5 131.9 L320 131.9 L320.5 131.9 L321 131.9 L321.5 131.8 L321.9 131.8 L322.4 131.8 L322.9 131.9 L323.4 131.9 L323.9 132.1 L324.4 132.1 L324.9 132 L325.4 132" fill="none" stroke="#1f9e62" stroke-width="1.9" stroke-linejoin="round"/>
<line x1="93.2" y1="212.4" x2="93.2" y2="209.4" stroke="#c97a2c" stroke-width="1.6" stroke-linecap="butt"/>
<line x1="124.8" y1="212.4" x2="124.8" y2="202.4" stroke="#c97a2c" stroke-width="1.6" stroke-linecap="butt"/>
<line x1="152" y1="212.4" x2="152" y2="206.9" stroke="#c97a2c" stroke-width="1.6" stroke-linecap="butt"/>
<line x1="239.7" y1="212.4" x2="239.7" y2="208.9" stroke="#c97a2c" stroke-width="1.6" stroke-linecap="butt"/>
<line x1="295.7" y1="212.4" x2="295.7" y2="209.4" stroke="#c97a2c" stroke-width="1.6" stroke-linecap="butt"/>
<line x1="313.2" y1="212.4" x2="313.2" y2="210.2" stroke="#c97a2c" stroke-width="1.6" stroke-linecap="butt"/>
<rect x="49" y="8.4" width="276.4" height="204" fill="none" stroke="#000" stroke-width="1.8"/>
<line x1="49" y1="212.4" x2="49" y2="215.9" stroke="#000" stroke-width="1.5" stroke-linecap="butt"/>
<line x1="95.1" y1="212.4" x2="95.1" y2="215.9" stroke="#000" stroke-width="1.5" stroke-linecap="butt"/>
<line x1="141.1" y1="212.4" x2="141.1" y2="215.9" stroke="#000" stroke-width="1.5" stroke-linecap="butt"/>
<line x1="187.2" y1="212.4" x2="187.2" y2="215.9" stroke="#000" stroke-width="1.5" stroke-linecap="butt"/>
<line x1="233.3" y1="212.4" x2="233.3" y2="215.9" stroke="#000" stroke-width="1.5" stroke-linecap="butt"/>
<line x1="279.3" y1="212.4" x2="279.3" y2="215.9" stroke="#000" stroke-width="1.5" stroke-linecap="butt"/>
<line x1="325.4" y1="212.4" x2="325.4" y2="215.9" stroke="#000" stroke-width="1.5" stroke-linecap="butt"/>
<line x1="72" y1="212.4" x2="72" y2="214.6" stroke="#000" stroke-width="1.3" stroke-linecap="butt"/>
<line x1="118.1" y1="212.4" x2="118.1" y2="214.6" stroke="#000" stroke-width="1.3" stroke-linecap="butt"/>
<line x1="164.2" y1="212.4" x2="164.2" y2="214.6" stroke="#000" stroke-width="1.3" stroke-linecap="butt"/>
<line x1="210.2" y1="212.4" x2="210.2" y2="214.6" stroke="#000" stroke-width="1.3" stroke-linecap="butt"/>
<line x1="256.3" y1="212.4" x2="256.3" y2="214.6" stroke="#000" stroke-width="1.3" stroke-linecap="butt"/>
<line x1="302.4" y1="212.4" x2="302.4" y2="214.6" stroke="#000" stroke-width="1.3" stroke-linecap="butt"/>
<text transform="translate(49 231.8) scale(1 1.09)" font-size="13.5" font-weight="bold" text-anchor="middle" fill="#231f20"><tspan>20</tspan></text>
<text transform="translate(95.07 231.8) scale(1 1.09)" font-size="13.5" font-weight="bold" text-anchor="middle" fill="#231f20"><tspan>30</tspan></text>
<text transform="translate(141.13 231.8) scale(1 1.09)" font-size="13.5" font-weight="bold" text-anchor="middle" fill="#231f20"><tspan>40</tspan></text>
<text transform="translate(187.2 231.8) scale(1 1.09)" font-size="13.5" font-weight="bold" text-anchor="middle" fill="#231f20"><tspan>50</tspan></text>
<text transform="translate(233.27 231.8) scale(1 1.09)" font-size="13.5" font-weight="bold" text-anchor="middle" fill="#231f20"><tspan>60</tspan></text>
<text transform="translate(279.33 231.8) scale(1 1.09)" font-size="13.5" font-weight="bold" text-anchor="middle" fill="#231f20"><tspan>70</tspan></text>
<text transform="translate(325.4 231.8) scale(1 1.09)" font-size="13.5" font-weight="bold" text-anchor="middle" fill="#231f20"><tspan>80</tspan></text>
<text transform="translate(187.2 254.5) scale(1 1.09)" font-size="14" font-weight="bold" text-anchor="middle" fill="#231f20"><tspan>2 Theta (degree)</tspan></text>
<text transform="translate(38.5 112) rotate(-90) scale(1 1.09)" font-size="14" font-weight="bold" text-anchor="middle" fill="#231f20"><tspan>Intensity (arb.u.)</tspan></text>
<text transform="translate(261.8 23.3) scale(1 1.09)" font-size="6.2" font-weight="bold" text-anchor="start" fill="#231f20"><tspan>Cu</tspan><tspan dy="1.7" font-size="4.2">2</tspan><tspan dy="-1.7">O/g-C</tspan><tspan dy="1.7" font-size="4.2">3</tspan><tspan dy="-1.7">N</tspan><tspan dy="1.7" font-size="4.2">4</tspan><tspan dy="-1.7">-0.5</tspan></text>
<text transform="translate(261.8 43.8) scale(1 1.09)" font-size="6.2" font-weight="bold" text-anchor="start" fill="#231f20"><tspan>Cu</tspan><tspan dy="1.7" font-size="4.2">2</tspan><tspan dy="-1.7">O/g-C</tspan><tspan dy="1.7" font-size="4.2">3</tspan><tspan dy="-1.7">N</tspan><tspan dy="1.7" font-size="4.2">4</tspan><tspan dy="-1.7">-0.4</tspan></text>
<text transform="translate(261.8 65) scale(1 1.09)" font-size="6.2" font-weight="bold" text-anchor="start" fill="#231f20"><tspan>Cu</tspan><tspan dy="1.7" font-size="4.2">2</tspan><tspan dy="-1.7">O/g-C</tspan><tspan dy="1.7" font-size="4.2">3</tspan><tspan dy="-1.7">N</tspan><tspan dy="1.7" font-size="4.2">4</tspan><tspan dy="-1.7">-0.3</tspan></text>
<text transform="translate(261.8 84.3) scale(1 1.09)" font-size="6.2" font-weight="bold" text-anchor="start" fill="#231f20"><tspan>Cu</tspan><tspan dy="1.7" font-size="4.2">2</tspan><tspan dy="-1.7">O/g-C</tspan><tspan dy="1.7" font-size="4.2">3</tspan><tspan dy="-1.7">N</tspan><tspan dy="1.7" font-size="4.2">4</tspan><tspan dy="-1.7">-0.2</tspan></text>
<text transform="translate(261.8 105) scale(1 1.09)" font-size="6.2" font-weight="bold" text-anchor="start" fill="#231f20"><tspan>Cu</tspan><tspan dy="1.7" font-size="4.2">2</tspan><tspan dy="-1.7">O/g-C</tspan><tspan dy="1.7" font-size="4.2">3</tspan><tspan dy="-1.7">N</tspan><tspan dy="1.7" font-size="4.2">4</tspan><tspan dy="-1.7">-0.1</tspan></text>
<text transform="translate(280.3 126.8) scale(1 1.09)" font-size="6.2" font-weight="bold" text-anchor="start" fill="#231f20"><tspan>g-C</tspan><tspan dy="1.7" font-size="4.2">3</tspan><tspan dy="-1.7">N</tspan><tspan dy="1.7" font-size="4.2">4</tspan><tspan dy="-1.7"> NSs</tspan></text>
<text transform="translate(279 147) scale(1 1.09)" font-size="6.2" font-weight="bold" text-anchor="start" fill="#231f20"><tspan>Cu</tspan><tspan dy="1.7" font-size="4.2">2</tspan><tspan dy="-1.7">O TMCs</tspan></text>
<text transform="translate(278 167.5) scale(1 1.09)" font-size="6.2" font-weight="bold" text-anchor="start" fill="#231f20"><tspan>Cu</tspan><tspan dy="1.7" font-size="4.2">2</tspan><tspan dy="-1.7">O RMCs</tspan></text>
<text transform="translate(283 185) scale(1 1.09)" font-size="6.2" font-weight="bold" text-anchor="start" fill="#231f20"><tspan>Cu</tspan><tspan dy="1.7" font-size="4.2">2</tspan><tspan dy="-1.7">O MCs</tspan></text>
<text transform="translate(274 200.5) scale(1 1.09)" font-size="6.2" font-weight="bold" text-anchor="middle" fill="#231f20"><tspan>Cu</tspan><tspan dy="1.7" font-size="4.2">2</tspan><tspan dy="-1.7">O JCPDS No.05-0667</tspan></text>
<text transform="translate(95 209.2) scale(1 1.09)" font-size="6.5" font-weight="normal" text-anchor="middle" fill="#231f20"><tspan>(110)</tspan></text>
<text transform="translate(126.75 202.5) scale(1 1.09)" font-size="6.5" font-weight="normal" text-anchor="middle" fill="#231f20"><tspan>(111)</tspan></text>
<text transform="translate(153.75 208) scale(1 1.09)" font-size="6.5" font-weight="normal" text-anchor="middle" fill="#231f20"><tspan>(200)</tspan></text>
<text transform="translate(239.75 207.5) scale(1 1.09)" font-size="6.5" font-weight="normal" text-anchor="middle" fill="#231f20"><tspan>(220)</tspan></text>
<text transform="translate(295.5 207.5) scale(1 1.09)" font-size="6.5" font-weight="normal" text-anchor="middle" fill="#231f20"><tspan>(311)</tspan></text>
<text transform="translate(313.5 207.5) scale(1 1.09)" font-size="6.5" font-weight="normal" text-anchor="middle" fill="#231f20"><tspan>(222)</tspan></text>
<text transform="translate(367.8 14.6)" font-size="21" font-weight="bold" text-anchor="start" fill="#111"><tspan>b</tspan></text>
<rect x="424" y="18" width="39.5" height="167.8" fill="#edf3e9" stroke="#bcd9b8" stroke-width="0.7" stroke-dasharray="2 1.5"/>
<line x1="580.6" y1="31" x2="580.6" y2="168.5" stroke="#e3242b" stroke-width="1.4" stroke-linecap="butt" stroke-dasharray="2.4 1.8"/>
<line x1="586.7" y1="31" x2="586.7" y2="168.5" stroke="#e3242b" stroke-width="1.4" stroke-linecap="butt" stroke-dasharray="2.4 1.8"/>
<line x1="594.5" y1="31" x2="594.5" y2="168.5" stroke="#e3242b" stroke-width="1.4" stroke-linecap="butt" stroke-dasharray="2.4 1.8"/>
<line x1="598.7" y1="31" x2="598.7" y2="168.5" stroke="#e3242b" stroke-width="1.4" stroke-linecap="butt" stroke-dasharray="2.4 1.8"/>
<line x1="605.6" y1="31" x2="605.6" y2="168.5" stroke="#e3242b" stroke-width="1.4" stroke-linecap="butt" stroke-dasharray="2.4 1.8"/>
<line x1="611.8" y1="31" x2="611.8" y2="168.5" stroke="#e3242b" stroke-width="1.4" stroke-linecap="butt" stroke-dasharray="2.4 1.8"/>
<line x1="646.7" y1="25" x2="646.7" y2="122" stroke="#e3242b" stroke-width="1.4" stroke-linecap="butt" stroke-dasharray="2.4 1.8"/>
<line x1="661.5" y1="128.3" x2="661.5" y2="209" stroke="#111" stroke-width="1.5" stroke-linecap="butt" stroke-dasharray="2.4 1.8"/>
<path d="M391 31.1 L391.5 31.2 L392 31.1 L392.5 31.1 L393 31.2 L393.5 31.3 L394 31.2 L394.5 31.1 L395 31 L395.5 30.9 L396 31 L396.5 31.1 L397 31.2 L397.5 31.1 L398 31.1 L398.5 31 L399 31.2 L399.5 31.3 L400 31.5 L400.5 31.4 L401 31.3 L401.5 31.1 L402 31.1 L402.5 31.2 L403 31.3 L403.5 31.3 L404 31.3 L404.5 31.3 L405 31.2 L405.5 31.4 L406 31.3 L406.5 31.4 L407 31.3 L407.5 31.3 L408 31.2 L408.5 31.2 L409 31.3 L409.5 31.3 L410 31.5 L410.5 31.4 L411 31.6 L411.5 31.7 L412 31.8 L412.5 31.8 L413 31.7 L413.5 31.8 L414 31.6 L414.5 31.7 L415 31.7 L415.5 31.7 L416 31.9 L416.5 31.9 L417 32 L417.5 31.9 L418 31.8 L418.5 31.8 L419 32 L419.5 32 L420 31.9 L420.5 31.7 L421 31.7 L421.5 32 L422 32.1 L422.5 32.1 L423 32.1 L423.5 32.3 L424 32.3 L424.5 32.5 L425 32.6 L425.5 32.8 L426 32.9 L426.5 33 L427 33.1 L427.5 33.5 L428 33.7 L428.5 34 L429 34 L429.5 34.2 L430 34.2 L430.5 34.5 L431 34.9 L431.5 35.1 L432 35.2 L432.5 35.4 L433 35.6 L433.5 35.8 L434 35.8 L434.5 35.9 L435 36 L435.5 36 L436 36 L436.5 35.9 L437 35.8 L437.5 35.6 L438 35.7 L438.5 35.6 L439 35.4 L439.5 35.3 L440 35.4 L440.5 35.4 L441 35.3 L441.5 35 L442 34.8 L442.5 34.6 L443 34.6 L443.5 34.4 L444 34.3 L444.5 34.2 L445 34.2 L445.5 34.4 L446 34.4 L446.5 34.2 L447 34 L447.5 34.1 L448 34.1 L448.5 34.2 L449 33.9 L449.5 33.8 L450 33.7 L450.5 33.8 L451 33.9 L451.5 33.7 L452 33.4 L452.5 33.2 L453 33.1 L453.5 32.9 L454 32.7 L454.5 32.4 L455 32.3 L455.5 32 L456 31.9 L456.5 31.8 L457 31.7 L457.5 31.5 L458 31.3 L458.5 31.4 L459 31.3 L459.5 31.2 L460 31.1 L460.5 31.1 L461 31.3 L461.5 31.2 L462 30.9 L462.5 30.7 L463 30.6 L463.5 30.6 L464 30.6 L464.5 30.7 L465 30.6 L465.5 30.5 L466 30.4 L466.5 30.2 L467 30.2 L467.5 30 L468 29.9 L468.5 29.8 L469 29.8 L469.5 29.9 L470 29.9 L470.5 29.9 L471 29.9 L471.5 30 L472 30.2 L472.5 30.2 L473 30.1 L473.5 30.1 L474 29.9 L474.5 30.2 L475 30.2 L475.5 30.4 L476 30.3 L476.5 30.4 L477 30.3 L477.5 30.7 L478 32.1 L478.5 30.6 L479 30.4 L479.5 30.4 L480 30.5 L480.5 30.4 L481 30.5 L481.5 30.4 L482 30.5 L482.5 30.4 L483 30.5 L483.5 30.6 L484 30.6 L484.5 30.6 L485 30.5 L485.5 30.6 L486 30.5 L486.5 30.6 L487 30.7 L487.5 30.8 L488 30.7 L488.5 30.7 L489 30.7 L489.5 30.6 L490 30.4 L490.5 30.6 L491 30.8 L491.5 30.9 L492 30.9 L492.5 30.7 L493 30.8 L493.5 30.8 L494 30.9 L494.5 30.9 L495 30.9 L495.5 30.8 L496 30.8 L496.5 30.8 L497 30.8 L497.5 31 L498 31 L498.5 31.2 L499 31.1 L499.5 31 L500 30.9 L500.5 30.9 L501 31 L501.5 31.1 L502 31 L502.5 31 L503 30.9 L503.5 31 L504 31.1 L504.5 31.2 L505 31.2 L505.5 31.2 L506 31.1 L506.5 31.2 L507 31.2 L507.5 31.2 L508 31 L508.5 31.1 L509 31 L509.5 31.1 L510 31.1 L510.5 31.2 L511 31.3 L511.5 31.1 L512 31 L512.5 30.8 L513 30.9 L513.5 30.8 L514 30.9 L514.5 30.8 L515 30.9 L515.5 31 L516 31.1 L516.5 31.2 L517 31 L517.5 31 L518 31.1 L518.5 31.1 L519 30.9 L519.5 30.9 L520 32.5 L520.5 34 L521 32.3 L521.5 30.5 L522 31 L522.5 31.8 L523 32.2 L523.5 32.2 L524 31.6 L524.5 31.3 L525 31 L525.5 31 L526 31.1 L526.5 31.2 L527 31.2 L527.5 31.1 L528 31.1 L528.5 31 L529 30.9 L529.5 30.9 L530 30.9 L530.5 31.1 L531 31 L531.5 31.2 L532 31.2 L532.5 31.3 L533 31.1 L533.5 31 L534 30.9 L534.5 31 L535 31.1 L535.5 31.1 L536 31 L536.5 30.9 L537 30.9 L537.5 31 L538 31 L538.5 31.1 L539 31.2 L539.5 31.1 L540 31.1 L540.5 31.2 L541 31.3 L541.5 31.1 L542 30.9 L542.5 30.9 L543 31 L543.5 31 L544 31.1 L544.5 31.2 L545 31.3 L545.5 31.4 L546 31.2 L546.5 31.1 L547 30.9 L547.5 31.1 L548 31.2 L548.5 31.3 L549 31.1 L549.5 31 L550 31 L550.5 31.1 L551 31.2 L551.5 31.1 L552 31.2 L552.5 31.1 L553 31.1 L553.5 31 L554 31 L554.5 31 L555 31.2 L555.5 31.1 L556 31 L556.5 30.9 L557 31 L557.5 31.1 L558 31 L558.5 30.9 L559 30.8 L559.5 30.9 L560 31 L560.5 31.2 L561 31.1 L561.5 30.9 L562 30.9 L562.5 30.9 L563 30.9 L563.5 30.6 L564 30.5 L564.5 30.3 L565 30 L565.5 29.8 L566 29.6 L566.5 29.5 L567 29.2 L567.5 29.3 L568 29.4 L568.5 29.4 L569 29.5 L569.5 29.5 L570 29.5 L570.5 29.6 L571 29.7 L571.5 30 L572 30 L572.5 29.9 L573 29.8 L573.5 30.3 L574 31.4 L574.5 32.8 L575 33.9 L575.5 34.5 L576 36 L576.5 41.1 L577 47 L577.5 50 L578 50.8 L578.5 54.2 L579 59.1 L579.5 63.6 L580 66.1 L580.5 65.8 L581 63.5 L581.5 60.7 L582 59.2 L582.5 58.5 L583 57 L583.5 55 L584 54.1 L584.5 54.7 L585 57.1 L585.5 59.5 L586 60.4 L586.5 59.9 L587 59 L587.5 57.8 L588 56.3 L588.5 54.5 L589 52.8 L589.5 51.2 L590 50.2 L590.5 49.9 L591 50.3 L591.5 51.7 L592 53.5 L592.5 55.3 L593 56.3 L593.5 57.2 L594 60.2 L594.5 61.8 L595 61.4 L595.5 60.6 L596 59.8 L596.5 59.7 L597 60.3 L597.5 61.8 L598 63.4 L598.5 64.2 L599 63.9 L599.5 61.4 L600 57.3 L600.5 52.2 L601 47.1 L601.5 43 L602 40.5 L602.5 40.3 L603 42.1 L603.5 45.5 L604 49.6 L604.5 53.6 L605 56.6 L605.5 57.9 L606 56.6 L606.5 51.9 L607 47.3 L607.5 45.3 L608 46.2 L608.5 48.3 L609 51.3 L609.5 55 L610 58.8 L610.5 62.5 L611 65.2 L611.5 66.6 L612 66.2 L612.5 60.8 L613 52 L613.5 44.1 L614 40.8 L614.5 39.6 L615 36.6 L615.5 33.7 L616 32.6 L616.5 32.6 L617 32.5 L617.5 32.4 L618 32.4 L618.5 32.5 L619 32.6 L619.5 32.5 L620 32.5 L620.5 32.5 L621 32.4 L621.5 32.3 L622 32.1 L622.5 32.1 L623 32.1 L623.5 32 L624 32 L624.5 31.8 L625 31.6 L625.5 31.4 L626 31.4 L626.5 31.4 L627 31.3 L627.5 31.3 L628 31.1 L628.5 31.1 L629 31 L629.5 30.9 L630 30.8 L630.5 30.7 L631 30.9 L631.5 31 L632 31 L632.5 31.1 L633 31.3 L633.5 31.3 L634 31.3 L634.5 31.4 L635 31.6 L635.5 31.7 L636 31.8 L636.5 31.9 L637 32 L637.5 32 L638 32.1 L638.5 32.1 L639 32.1 L639.5 32.2 L640 32.3 L640.5 32.2 L641 32 L641.5 31.9 L642 31.5 L642.5 31.3 L643 31 L643.5 31 L644 31.5 L644.5 34.3 L645 38.6 L645.5 42.7 L646 45 L646.5 44.4 L647 39.4 L647.5 33.6 L648 30.9 L648.5 30.8 L649 30.8 L649.5 30.7 L650 30.9 L650.5 31 L651 31 L651.5 30.9 L652 30.9 L652.5 30.8 L653 30.9 L653.5 30.9 L654 31 L654.5 31 L655 31 L655.5 31 L656 30.9 L656.5 30.9 L657 30.9 L657.5 31.6 L658 35.8 L658.5 43.3 L659 52.7 L659.5 62.5 L660 71 L660.5 77.2 L661 79.8 L661.5 79.1 L662 75.3 L662.5 69.3 L663 61.8 L663.5 54.5 L664 48.5 L664.5 44.8 L665 43.8 L665.5 42.2 L666 39.3 L666.5 35.8 L667 33.5 L667.5 32.8 L668 32.8 L668.5 32.6 L669 32.1 L669.5 31.7 L670 31.5 L670.5 31.3 L671 31.1 L671.5 31.1" fill="none" stroke="#1d6cb8" stroke-width="1.7" stroke-linejoin="round"/>
<path d="M391 90.9 L391.5 90.9 L392 90.9 L392.5 90.9 L393 90.8 L393.5 90.8 L394 91 L394.5 90.8 L395 90.9 L395.5 90.7 L396 90.7 L396.5 90.6 L397 90.7 L397.5 90.7 L398 90.5 L398.5 90.3 L399 90.2 L399.5 90.1 L400 90.1 L400.5 89.8 L401 89.8 L401.5 89.8 L402 90 L402.5 89.9 L403 89.9 L403.5 89.8 L404 89.8 L404.5 89.6 L405 89.5 L405.5 89.6 L406 89.5 L406.5 89.6 L407 89.6 L407.5 89.7 L408 89.4 L408.5 89.3 L409 89.3 L409.5 89.2 L410 88.9 L410.5 88.8 L411 88.6 L411.5 88.7 L412 88.6 L412.5 88.6 L413 88.3 L413.5 88.2 L414 88.2 L414.5 88.1 L415 87.8 L415.5 87.6 L416 87.5 L416.5 87.5 L417 87.4 L417.5 87.3 L418 87.3 L418.5 87.2 L419 87 L419.5 87.1 L420 87 L420.5 87.1 L421 86.9 L421.5 87.1 L422 87.3 L422.5 87.3 L423 87.3 L423.5 87.1 L424 87.3 L424.5 87.4 L425 87.6 L425.5 87.6 L426 87.7 L426.5 87.8 L427 87.9 L427.5 87.9 L428 88 L428.5 88.3 L429 88.5 L429.5 88.5 L430 88.5 L430.5 88.4 L431 88.4 L431.5 88.5 L432 88.9 L432.5 89.2 L433 89.4 L433.5 89.7 L434 90.1 L434.5 90.4 L435 91 L435.5 91.5 L436 92 L436.5 92.4 L437 92.8 L437.5 93.1 L438 93.5 L438.5 93.9 L439 94.2 L439.5 94.5 L440 94.4 L440.5 94.4 L441 94.4 L441.5 94.7 L442 95.2 L442.5 95.9 L443 96.7 L443.5 97.8 L444 98.7 L444.5 100 L445 101.3 L445.5 102.5 L446 103.5 L446.5 104.6 L447 105.7 L447.5 106.6 L448 107.2 L448.5 107.5 L449 107.8 L449.5 107.8 L450 107.9 L450.5 108.1 L451 108.5 L451.5 108.8 L452 108.8 L452.5 108.9 L453 109.2 L453.5 109.5 L454 109.7 L454.5 109.8 L455 110.1 L455.5 110.4 L456 110.6 L456.5 110.7 L457 110.6 L457.5 110.3 L458 110.1 L458.5 109.7 L459 109.4 L459.5 108.9 L460 108.7 L460.5 108.2 L461 107.7 L461.5 107.2 L462 106.9 L462.5 106.8 L463 106.7 L463.5 106.5 L464 106.5 L464.5 106.1 L465 105.8 L465.5 105.4 L466 105 L466.5 104.2 L467 103.4 L467.5 102.4 L468 101.6 L468.5 100.9 L469 100.4 L469.5 99.6 L470 98.8 L470.5 98.1 L471 97.7 L471.5 97.4 L472 97.2 L472.5 97.1 L473 97 L473.5 96.9 L474 96.8 L474.5 96.6 L475 96.3 L475.5 95.9 L476 95.8 L476.5 95.6 L477 95.3 L477.5 95 L478 94.7 L478.5 94.1 L479 93.6 L479.5 93.1 L480 92.8 L480.5 92.4 L481 91.9 L481.5 91.4 L482 91 L482.5 90.5 L483 90.3 L483.5 90.1 L484 90.1 L484.5 90.1 L485 90 L485.5 90 L486 90 L486.5 90.1 L487 90.1 L487.5 90.1 L488 90 L488.5 90.1 L489 90.1 L489.5 90.3 L490 90.3 L490.5 90.2 L491 90 L491.5 89.9 L492 90 L492.5 90.3 L493 90.5 L493.5 90.5 L494 90.5 L494.5 90.5 L495 90.5 L495.5 90.6 L496 90.7 L496.5 90.8 L497 90.8 L497.5 90.8 L498 90.8 L498.5 90.7 L499 90.6 L499.5 90.5 L500 90.4 L500.5 90.6 L501 90.6 L501.5 90.6 L502 90.5 L502.5 90.4 L503 90.5 L503.5 90.5 L504 90.6 L504.5 90.6 L505 90.6 L505.5 90.7 L506 90.8 L506.5 90.8 L507 90.9 L507.5 90.9 L508 91.1 L508.5 91.1 L509 90.9 L509.5 91 L510 91 L510.5 91.1 L511 90.9 L511.5 90.9 L512 91 L512.5 91 L513 91 L513.5 91.2 L514 91.4 L514.5 91.5 L515 91.4 L515.5 91.4 L516 91.5 L516.5 91.4 L517 91.3 L517.5 91.3 L518 91.5 L518.5 91.6 L519 91.6 L519.5 90.3 L520 87.9 L520.5 88 L521 92.2 L521.5 95.2 L522 93.2 L522.5 89.7 L523 89 L523.5 90.6 L524 91.7 L524.5 91.8 L525 92 L525.5 92 L526 92 L526.5 92 L527 92.1 L527.5 91.9 L528 92 L528.5 92 L529 92.1 L529.5 91.9 L530 91.9 L530.5 92.1 L531 92.1 L531.5 92 L532 91.9 L532.5 91.9 L533 91.8 L533.5 91.9 L534 92 L534.5 92.1 L535 91.8 L535.5 91.9 L536 91.8 L536.5 91.8 L537 91.6 L537.5 91.6 L538 91.6 L538.5 91.6 L539 91.4 L539.5 91.3 L540 91.2 L540.5 91.3 L541 91.2 L541.5 91.3 L542 91.1 L542.5 91 L543 90.8 L543.5 90.6 L544 90.7 L544.5 90.5 L545 90.5 L545.5 90.4 L546 90.5 L546.5 90.3 L547 90.3 L547.5 90.2 L548 90.2 L548.5 89.9 L549 89.8 L549.5 89.8 L550 89.8 L550.5 89.6 L551 89.5 L551.5 89.6 L552 89.6 L552.5 89.6 L553 89.5 L553.5 89.4 L554 89.2 L554.5 89.1 L555 89.1 L555.5 89.1 L556 89 L556.5 89 L557 88.9 L557.5 89 L558 89 L558.5 89.1 L559 89.1 L559.5 89 L560 88.9 L560.5 88.9 L561 88.9 L561.5 88.9 L562 88.7 L562.5 88.9 L563 89 L563.5 89.2 L564 89.2 L564.5 89.1 L565 89 L565.5 89 L566 89 L566.5 89.1 L567 89.2 L567.5 89.6 L568 90.3 L568.5 91.4 L569 92.7 L569.5 94.2 L570 95.7 L570.5 97.2 L571 98.5 L571.5 99.5 L572 100.3 L572.5 100.6 L573 100.8 L573.5 102.1 L574 105.4 L574.5 110.1 L575 115.6 L575.5 121.4 L576 126.3 L576.5 129.7 L577 130.7 L577.5 131.5 L578 134.1 L578.5 137.5 L579 141 L579.5 143.9 L580 145.4 L580.5 145.4 L581 143.8 L581.5 141.4 L582 138.3 L582.5 135.6 L583 133.5 L583.5 133 L584 133.7 L584.5 135.3 L585 137.4 L585.5 139.5 L586 141 L586.5 141.8 L587 141.7 L587.5 140.8 L588 139.1 L588.5 137.1 L589 135 L589.5 133.1 L590 131.8 L590.5 131.2 L591 131.7 L591.5 132.8 L592 134.9 L592.5 137.1 L593 139.4 L593.5 141.3 L594 142.7 L594.5 143.3 L595 142.9 L595.5 141.9 L596 140.9 L596.5 140.3 L597 140.9 L597.5 142.7 L598 144.6 L598.5 145.7 L599 145.3 L599.5 143.1 L600 139.6 L600.5 135.1 L601 130.3 L601.5 125.9 L602 122.7 L602.5 121 L603 121.5 L603.5 123.6 L604 127.4 L604.5 131.9 L605 136.3 L605.5 139.8 L606 141.4 L606.5 140.7 L607 135.9 L607.5 131 L608 129.4 L608.5 130.4 L609 132.2 L609.5 134.9 L610 138 L610.5 141.2 L611 144.2 L611.5 146.1 L612 146.9 L612.5 146.2 L613 143.9 L613.5 140.5 L614 136.2 L614.5 131.7 L615 127.6 L615.5 124.9 L616 124.1 L616.5 123.7 L617 122.5 L617.5 120.7 L618 118.5 L618.5 116.5 L619 114.6 L619.5 113.6 L620 113.1 L620.5 112.4 L621 110.3 L621.5 107.4 L622 104.4 L622.5 101.6 L623 99.9 L623.5 99.4 L624 99 L624.5 98.3 L625 97.5 L625.5 96.3 L626 95.1 L626.5 93.8 L627 92.7 L627.5 91.6 L628 91.1 L628.5 91 L629 91.1 L629.5 91.1 L630 91.1 L630.5 90.9 L631 90.8 L631.5 90.9 L632 90.9 L632.5 90.9 L633 90.8 L633.5 90.9 L634 90.8 L634.5 90.7 L635 90.6 L635.5 90.8 L636 90.9 L636.5 90.8 L637 90.8 L637.5 90.7 L638 90.7 L638.5 90.7 L639 91.2 L639.5 92.6 L640 93.9 L640.5 94.5 L641 93.9 L641.5 92.3 L642 90.3 L642.5 88.8 L643 88.6 L643.5 89 L644 89.5 L644.5 90.2 L645 90.9 L645.5 91.6 L646 102.7 L646.5 115.9 L647 115.6 L647.5 106.4 L648 96.1 L648.5 93 L649 93 L649.5 92.8 L650 92.6 L650.5 92.3 L651 92.1 L651.5 92.1 L652 92 L652.5 91.8 L653 91.5 L653.5 91.1 L654 90.8 L654.5 90.5 L655 90.4 L655.5 90.2 L656 90.2 L656.5 90.1 L657 89.9 L657.5 89.7 L658 89.5 L658.5 89.6 L659 89.6 L659.5 89.6 L660 89.5 L660.5 89.5 L661 89.6 L661.5 89.8 L662 90 L662.5 90.2 L663 90.5 L663.5 90.6 L664 90.8 L664.5 90.8 L665 90.8 L665.5 91.1 L666 91.4 L666.5 91.8 L667 92 L667.5 92 L668 92.2 L668.5 92.2 L669 92.4 L669.5 92.6 L670 92.7 L670.5 92.8 L671 92.6 L671.5 92.6" fill="none" stroke="#e2434f" stroke-width="1.7" stroke-linejoin="round"/>
<path d="M391 157.5 L391.5 157 L392 156.8 L392.5 156.6 L393 156.8 L393.5 156.6 L394 156.5 L394.5 156.4 L395 156.5 L395.5 156.6 L396 156.4 L396.5 156.3 L397 156.5 L397.5 156.7 L398 156.9 L398.5 157 L399 156.9 L399.5 156.7 L400 156.7 L400.5 156.9 L401 157.2 L401.5 157.1 L402 157.3 L402.5 157.2 L403 157.3 L403.5 157 L404 157.1 L404.5 157 L405 157 L405.5 156.8 L406 156.7 L406.5 156.9 L407 157.2 L407.5 157.2 L408 157.1 L408.5 156.9 L409 156.8 L409.5 156.6 L410 157 L410.5 157 L411 156.9 L411.5 156.5 L412 156.5 L412.5 156.6 L413 156.8 L413.5 157.2 L414 157.3 L414.5 157.2 L415 156.9 L415.5 156.9 L416 157.1 L416.5 157.3 L417 157.2 L417.5 156.9 L418 157 L418.5 157.2 L419 157.6 L419.5 157.3 L420 157.3 L420.5 157.3 L421 157.5 L421.5 157.7 L422 157.4 L422.5 157.6 L423 157.2 L423.5 157.3 L424 156.9 L424.5 157.3 L425 157.5 L425.5 158.1 L426 158.2 L426.5 158.4 L427 158.2 L427.5 158.4 L428 158.3 L428.5 158.3 L429 158.4 L429.5 158.3 L430 158.2 L430.5 157.8 L431 157.9 L431.5 158 L432 158.5 L432.5 158.8 L433 158.9 L433.5 158.5 L434 158.3 L434.5 158.3 L435 158.6 L435.5 158.8 L436 158.8 L436.5 158.8 L437 158.8 L437.5 158.9 L438 158.9 L438.5 158.9 L439 159.1 L439.5 159.3 L440 159.2 L440.5 158.9 L441 158.8 L441.5 158.8 L442 158.9 L442.5 158.6 L443 158.3 L443.5 158.1 L444 158.4 L444.5 158.4 L445 158.5 L445.5 158.4 L446 158.1 L446.5 158.1 L447 157.8 L447.5 158 L448 158 L448.5 158 L449 158.1 L449.5 157.7 L450 157.8 L450.5 157.5 L451 157.6 L451.5 157.5 L452 157.5 L452.5 157.6 L453 157.6 L453.5 157.3 L454 157.3 L454.5 157.3 L455 157.4 L455.5 157.7 L456 157.3 L456.5 157.6 L457 157.2 L457.5 157.3 L458 157.2 L458.5 157.1 L459 157.2 L459.5 157.2 L460 157.5 L460.5 157.3 L461 157.3 L461.5 157.2 L462 157 L462.5 157.2 L463 156.9 L463.5 157.1 L464 157.1 L464.5 157.3 L465 157.2 L465.5 157 L466 157 L466.5 156.8 L467 156.5 L467.5 156.4 L468 156.4 L468.5 156.7 L469 156.7 L469.5 156.7 L470 156.4 L470.5 156.7 L471 156.7 L471.5 156.8 L472 156.5 L472.5 156.4 L473 156.1 L473.5 156.1 L474 156.1 L474.5 156.5 L475 156.7 L475.5 156.6 L476 156.4 L476.5 156.2 L477 156.4 L477.5 156.4 L478 156.8 L478.5 156.6 L479 156.9 L479.5 156.5 L480 156.9 L480.5 156.8 L481 156.7 L481.5 156.6 L482 156.4 L482.5 156.6 L483 156.3 L483.5 156.6 L484 156.4 L484.5 156.7 L485 156.5 L485.5 156.8 L486 156.6 L486.5 156.4 L487 156.5 L487.5 156.7 L488 156.8 L488.5 156.8 L489 157 L489.5 157 L490 156.5 L490.5 156.3 L491 156.3 L491.5 156.7 L492 156.6 L492.5 156.9 L493 156.8 L493.5 157 L494 157.1 L494.5 157.1 L495 157 L495.5 156.7 L496 156.5 L496.5 156.2 L497 156.5 L497.5 156.6 L498 156.7 L498.5 156.4 L499 156.7 L499.5 156.7 L500 157 L500.5 156.9 L501 156.8 L501.5 156.7 L502 156.9 L502.5 157.2 L503 157 L503.5 157.1 L504 157.2 L504.5 157.5 L505 157.1 L505.5 156.8 L506 156.7 L506.5 157.1 L507 156.9 L507.5 156.7 L508 156.6 L508.5 157 L509 157.1 L509.5 156.8 L510 156.7 L510.5 156.4 L511 156.5 L511.5 156.5 L512 156.9 L512.5 157 L513 157 L513.5 156.7 L514 156.6 L514.5 156.7 L515 156.9 L515.5 156.8 L516 156.9 L516.5 156.9 L517 157.4 L517.5 157.2 L518 157.2 L518.5 157 L519 157 L519.5 157.2 L520 157.5 L520.5 157.5 L521 157.2 L521.5 156.8 L522 156.8 L522.5 156.8 L523 157 L523.5 156.6 L524 156.4 L524.5 156.4 L525 156.9 L525.5 157.3 L526 157.5 L526.5 157.3 L527 157 L527.5 156.8 L528 156.7 L528.5 156.6 L529 156.8 L529.5 156.8 L530 157.1 L530.5 156.8 L531 156.6 L531.5 156.5 L532 156.6 L532.5 156.9 L533 156.8 L533.5 157 L534 157.1 L534.5 157.2 L535 157.2 L535.5 156.9 L536 156.8 L536.5 157 L537 157 L537.5 157 L538 156.8 L538.5 156.9 L539 157.2 L539.5 157.1 L540 157.3 L540.5 156.9 L541 157.1 L541.5 156.9 L542 157.4 L542.5 157.1 L543 157.1 L543.5 157.1 L544 157.4 L544.5 157.1 L545 157.1 L545.5 157.2 L546 157.2 L546.5 157.2 L547 156.7 L547.5 156.7 L548 156.6 L548.5 157 L549 157.4 L549.5 157.3 L550 157.2 L550.5 156.9 L551 156.8 L551.5 157.1 L552 157.2 L552.5 157.4 L553 157 L553.5 157 L554 156.9 L554.5 156.8 L555 156.9 L555.5 156.6 L556 156.6 L556.5 156.2 L557 156.5 L557.5 156.4 L558 156.9 L558.5 156.5 L559 156.9 L559.5 156.7 L560 157 L560.5 156.9 L561 156.9 L561.5 156.9 L562 156.7 L562.5 156.7 L563 156.5 L563.5 156.7 L564 156.6 L564.5 156.9 L565 156.8 L565.5 156.9 L566 156.5 L566.5 156.4 L567 156.3 L567.5 156.6 L568 156.9 L568.5 156.6 L569 156.7 L569.5 156.7 L570 156.7 L570.5 156.3 L571 156.2 L571.5 156.6 L572 156.9 L572.5 156.8 L573 156.5 L573.5 156.6 L574 156.7 L574.5 156.7 L575 156.6 L575.5 156.8 L576 157.1 L576.5 157.4 L577 157.3 L577.5 157.5 L578 157.8 L578.5 158.4 L579 158.8 L579.5 159.1 L580 158.9 L580.5 158.7 L581 158.4 L581.5 158.4 L582 158.4 L582.5 158.6 L583 158.8 L583.5 158.5 L584 158 L584.5 157.7 L585 157.9 L585.5 157.9 L586 157.7 L586.5 157.3 L587 157.1 L587.5 156.9 L588 156.9 L588.5 157.2 L589 157.5 L589.5 157.5 L590 157.1 L590.5 157 L591 157 L591.5 157.4 L592 157.4 L592.5 157.2 L593 157.4 L593.5 157.5 L594 158 L594.5 157.9 L595 158.3 L595.5 158.2 L596 158.2 L596.5 158.1 L597 158.3 L597.5 158.7 L598 158.8 L598.5 158.9 L599 158.7 L599.5 158.8 L600 158.5 L600.5 158.7 L601 158.7 L601.5 158.5 L602 158.4 L602.5 158.2 L603 158.4 L603.5 157.8 L604 157.6 L604.5 157.5 L605 157.6 L605.5 157.6 L606 157.5 L606.5 157.4 L607 157.2 L607.5 156.7 L608 156.4 L608.5 156.1 L609 156.3 L609.5 156.6 L610 156.6 L610.5 156.7 L611 156.5 L611.5 156.6 L612 156.5 L612.5 156.5 L613 156.2 L613.5 156.2 L614 155.9 L614.5 155.6 L615 155.3 L615.5 155.2 L616 155.3 L616.5 155.2 L617 155.2 L617.5 155.2 L618 155.6 L618.5 155.7 L619 155.9 L619.5 155.8 L620 155.6 L620.5 155.3 L621 155.3 L621.5 155.5 L622 156.2 L622.5 156.5 L623 157.2 L623.5 157.3 L624 157.5 L624.5 157.8 L625 158.5 L625.5 158.9 L626 159.4 L626.5 159.7 L627 160.1 L627.5 160.2 L628 160 L628.5 159 L629 157.9 L629.5 156.9 L630 156.7 L630.5 156.5 L631 156.4 L631.5 156.3 L632 156.5 L632.5 156.3 L633 156.1 L633.5 155.8 L634 156.2 L634.5 156 L635 155.9 L635.5 155.5 L636 155.4 L636.5 155.6 L637 156 L637.5 156.1 L638 155.8 L638.5 155.7 L639 155.6 L639.5 155.8 L640 155.8 L640.5 155.8 L641 155.9 L641.5 155.8 L642 155.9 L642.5 155.9 L643 156 L643.5 155.9 L644 155.6 L644.5 155.3 L645 155.3 L645.5 155.5 L646 155.5 L646.5 155.5 L647 155.5 L647.5 155.4 L648 155.2 L648.5 154.8 L649 154.7 L649.5 154.7 L650 155.1 L650.5 155.3 L651 155.1 L651.5 154.7 L652 154.7 L652.5 154.8 L653 154.8 L653.5 154.3 L654 154.4 L654.5 154.6 L655 154.6 L655.5 154.7 L656 155.3 L656.5 157.2 L657 159.4 L657.5 161.5 L658 163.1 L658.5 163.6 L659 165.6 L659.5 172.3 L660 182.5 L660.5 192.4 L661 199.8 L661.5 202.4 L662 199.3 L662.5 191.4 L663 181.1 L663.5 171.6 L664 165.3 L664.5 164 L665 163 L665.5 161.8 L666 160 L666.5 158.1 L667 156.4 L667.5 154.8 L668 154.1 L668.5 154.1 L669 154.9 L669.5 155.5 L670 156.5 L670.5 156.8 L671 157.7 L671.5 157.7" fill="none" stroke="#575757" stroke-width="1.8" stroke-linejoin="round"/>
<rect x="391" y="8.6" width="280.5" height="203.7" fill="none" stroke="#000" stroke-width="1.8"/>
<line x1="391" y1="212.3" x2="391" y2="215.8" stroke="#000" stroke-width="1.5" stroke-linecap="butt"/>
<line x1="431.1" y1="212.3" x2="431.1" y2="215.8" stroke="#000" stroke-width="1.5" stroke-linecap="butt"/>
<line x1="471.1" y1="212.3" x2="471.1" y2="215.8" stroke="#000" stroke-width="1.5" stroke-linecap="butt"/>
<line x1="511.2" y1="212.3" x2="511.2" y2="215.8" stroke="#000" stroke-width="1.5" stroke-linecap="butt"/>
<line x1="551.3" y1="212.3" x2="551.3" y2="215.8" stroke="#000" stroke-width="1.5" stroke-linecap="butt"/>
<line x1="591.4" y1="212.3" x2="591.4" y2="215.8" stroke="#000" stroke-width="1.5" stroke-linecap="butt"/>
<line x1="631.4" y1="212.3" x2="631.4" y2="215.8" stroke="#000" stroke-width="1.5" stroke-linecap="butt"/>
<line x1="671.5" y1="212.3" x2="671.5" y2="215.8" stroke="#000" stroke-width="1.5" stroke-linecap="butt"/>
<line x1="411" y1="212.3" x2="411" y2="214.5" stroke="#000" stroke-width="1.3" stroke-linecap="butt"/>
<line x1="451.1" y1="212.3" x2="451.1" y2="214.5" stroke="#000" stroke-width="1.3" stroke-linecap="butt"/>
<line x1="491.2" y1="212.3" x2="491.2" y2="214.5" stroke="#000" stroke-width="1.3" stroke-linecap="butt"/>
<line x1="531.2" y1="212.3" x2="531.2" y2="214.5" stroke="#000" stroke-width="1.3" stroke-linecap="butt"/>
<line x1="571.3" y1="212.3" x2="571.3" y2="214.5" stroke="#000" stroke-width="1.3" stroke-linecap="butt"/>
<line x1="611.4" y1="212.3" x2="611.4" y2="214.5" stroke="#000" stroke-width="1.3" stroke-linecap="butt"/>
<line x1="651.5" y1="212.3" x2="651.5" y2="214.5" stroke="#000" stroke-width="1.3" stroke-linecap="butt"/>
<text transform="translate(391 232.5) scale(1 1.09)" font-size="13.5" font-weight="bold" text-anchor="middle" fill="#231f20"><tspan>4000</tspan></text>
<text transform="translate(431.07 232.5) scale(1 1.09)" font-size="13.5" font-weight="bold" text-anchor="middle" fill="#231f20"><tspan>3500</tspan></text>
<text transform="translate(471.14 232.5) scale(1 1.09)" font-size="13.5" font-weight="bold" text-anchor="middle" fill="#231f20"><tspan>3000</tspan></text>
<text transform="translate(511.21 232.5) scale(1 1.09)" font-size="13.5" font-weight="bold" text-anchor="middle" fill="#231f20"><tspan>2500</tspan></text>
<text transform="translate(551.29 232.5) scale(1 1.09)" font-size="13.5" font-weight="bold" text-anchor="middle" fill="#231f20"><tspan>2000</tspan></text>
<text transform="translate(591.36 232.5) scale(1 1.09)" font-size="13.5" font-weight="bold" text-anchor="middle" fill="#231f20"><tspan>1500</tspan></text>
<text transform="translate(631.43 232.5) scale(1 1.09)" font-size="13.5" font-weight="bold" text-anchor="middle" fill="#231f20"><tspan>1000</tspan></text>
<text transform="translate(671.5 232.5) scale(1 1.09)" font-size="13.5" font-weight="bold" text-anchor="middle" fill="#231f20"><tspan>500</tspan></text>
<text transform="translate(531.5 257) scale(1 1.09)" font-size="14" font-weight="bold" text-anchor="middle" fill="#231f20"><tspan>Wavenumber (cm</tspan><tspan dy="-5.3" font-size="9.5">−1</tspan><tspan dy="5.3">)</tspan></text>
<text transform="translate(380.8 110.2) rotate(-90) scale(1 1.09)" font-size="14" font-weight="bold" text-anchor="middle" fill="#231f20"><tspan>Transmittance (%)</tspan></text>
<text transform="translate(396 47.5) scale(1 1.09)" font-size="7.8" font-weight="bold" text-anchor="start" fill="#231f20"><tspan>Cu</tspan><tspan dy="2.2" font-size="5.3">2</tspan><tspan dy="-2.2">O/g-C</tspan><tspan dy="2.2" font-size="5.3">3</tspan><tspan dy="-2.2">N</tspan><tspan dy="2.2" font-size="5.3">4</tspan><tspan dy="-2.2">-0.2</tspan></text>
<text transform="translate(396 105.8) scale(1 1.09)" font-size="7.8" font-weight="bold" text-anchor="start" fill="#231f20"><tspan>g-C</tspan><tspan dy="2.2" font-size="5.3">3</tspan><tspan dy="-2.2">N</tspan><tspan dy="2.2" font-size="5.3">4</tspan><tspan dy="-2.2"> NSs</tspan></text>
<text transform="translate(396 169.8) scale(1 1.09)" font-size="7.8" font-weight="bold" text-anchor="start" fill="#231f20"><tspan>Cu</tspan><tspan dy="2.2" font-size="5.3">2</tspan><tspan dy="-2.2">O MCs</tspan></text>
<text transform="translate(432 193.5) scale(1 1.09)" font-size="7.8" font-weight="bold" text-anchor="start" fill="#231f20"><tspan>3468cm</tspan><tspan dy="-3" font-size="5.3">-1</tspan></text>
<text transform="translate(581.85 172) rotate(-90)" font-size="7.65" font-weight="bold" text-anchor="end" fill="#e3242b"><tspan>1643</tspan></text>
<text transform="translate(589.15 172) rotate(-90)" font-size="7.65" font-weight="bold" text-anchor="end" fill="#e3242b"><tspan>1567</tspan></text>
<text transform="translate(596.15 172) rotate(-90)" font-size="7.65" font-weight="bold" text-anchor="end" fill="#e3242b"><tspan>1462</tspan></text>
<text transform="translate(602.35 172) rotate(-90)" font-size="7.65" font-weight="bold" text-anchor="end" fill="#e3242b"><tspan>1418</tspan></text>
<text transform="translate(609.95 172) rotate(-90)" font-size="7.65" font-weight="bold" text-anchor="end" fill="#e3242b"><tspan>1321</tspan></text>
<text transform="translate(617.65 172) rotate(-90)" font-size="7.65" font-weight="bold" text-anchor="end" fill="#e3242b"><tspan>1249</tspan></text>
<text transform="translate(649.75 128.3) rotate(-90)" font-size="7.65" font-weight="bold" text-anchor="end" fill="#e3242b"><tspan>813</tspan></text>
<text transform="translate(670.65 193.5) rotate(-90)" font-size="7.65" font-weight="bold" text-anchor="end" fill="#111"><tspan>632</tspan></text>
<text transform="translate(-0.8 288.8)" font-size="21" font-weight="bold" text-anchor="start" fill="#111"><tspan>c</tspan></text>
<path d="M111.2 480 L130 478.8 L149.2 477.5 L170 476.2 L188.8 474.2 L207.8 472.4 L226.7 470.7 L244.2 468.3 L264 465.8 L284 462.8 L303 459.5 L322.8 455.8" fill="none" stroke="#000" stroke-width="1.5" stroke-linejoin="round"/>
<circle cx="103.2" cy="480" r="2.4" fill="none" stroke="#8a8a8a" stroke-width="1.5"/>
<circle cx="134.5" cy="477.5" r="2.4" fill="none" stroke="#8a8a8a" stroke-width="1.5"/>
<circle cx="165" cy="476.2" r="2.4" fill="none" stroke="#8a8a8a" stroke-width="1.5"/>
<circle cx="180" cy="475.9" r="2.4" fill="none" stroke="#8a8a8a" stroke-width="1.5"/>
<circle cx="196.4" cy="474.2" r="2.4" fill="none" stroke="#8a8a8a" stroke-width="1.5"/>
<circle cx="213.3" cy="472.4" r="2.4" fill="none" stroke="#8a8a8a" stroke-width="1.5"/>
<circle cx="229" cy="471" r="2.4" fill="none" stroke="#8a8a8a" stroke-width="1.5"/>
<circle cx="322.8" cy="456" r="2.4" fill="none" stroke="#8a8a8a" stroke-width="1.5"/>
<circle cx="111.2" cy="480" r="2.5" fill="none" stroke="#000" stroke-width="2"/>
<circle cx="130" cy="478.8" r="2.5" fill="none" stroke="#000" stroke-width="2"/>
<circle cx="149.2" cy="477.5" r="2.5" fill="none" stroke="#000" stroke-width="2"/>
<circle cx="170" cy="476.2" r="2.5" fill="none" stroke="#000" stroke-width="2"/>
<circle cx="188.8" cy="474.2" r="2.5" fill="none" stroke="#000" stroke-width="2"/>
<circle cx="207.8" cy="472.4" r="2.5" fill="none" stroke="#000" stroke-width="2"/>
<circle cx="226.7" cy="470.7" r="2.5" fill="none" stroke="#000" stroke-width="2"/>
<circle cx="244.2" cy="468.3" r="2.5" fill="none" stroke="#000" stroke-width="2"/>
<circle cx="264" cy="465.8" r="2.5" fill="none" stroke="#000" stroke-width="2"/>
<circle cx="284" cy="462.8" r="2.5" fill="none" stroke="#000" stroke-width="2"/>
<circle cx="303" cy="459.5" r="2.5" fill="none" stroke="#000" stroke-width="2"/>
<circle cx="322.8" cy="455.8" r="2.5" fill="none" stroke="#000" stroke-width="2"/>
<path d="M61.8 476.6 L63.8 476.3 L66.5 476 L70 475.8 L72.5 475.6 L87.5 473.8 L103 473 L122.5 470.5 L142 468 L163.8 464.2 L182.3 460.7 L198.7 456.6 L217.4 451.4 L236.6 445 L255.7 438 L274.8 428.8 L293.5 416.2 L311 389.5 L325.5 314.5" fill="none" stroke="#e3242b" stroke-width="1.5" stroke-linejoin="round"/>
<path d="M325.5 314.5 L316 393 L298 417.5 L278.5 430 L262.2 436.2 L247.2 442 L231.4 447.3 L215 452.6 L199 456.2 L167.5 463.8 L149.2 467 L133.8 469.2 L118.8 471.2 L70 476.2" fill="none" stroke="#e3242b" stroke-width="1.5" stroke-linejoin="round"/>
<circle cx="61.8" cy="476.6" r="2.5" fill="none" stroke="#e3242b" stroke-width="1.9"/>
<circle cx="63.8" cy="476.3" r="2.5" fill="none" stroke="#e3242b" stroke-width="1.9"/>
<circle cx="66.5" cy="476" r="2.5" fill="none" stroke="#e3242b" stroke-width="1.9"/>
<circle cx="70" cy="475.8" r="2.5" fill="none" stroke="#e3242b" stroke-width="1.9"/>
<circle cx="72.5" cy="475.6" r="2.5" fill="none" stroke="#e3242b" stroke-width="1.9"/>
<circle cx="87.5" cy="473.8" r="2.5" fill="none" stroke="#e3242b" stroke-width="1.9"/>
<circle cx="103" cy="473" r="2.5" fill="none" stroke="#e3242b" stroke-width="1.9"/>
<circle cx="122.5" cy="470.5" r="2.5" fill="none" stroke="#e3242b" stroke-width="1.9"/>
<circle cx="142" cy="468" r="2.5" fill="none" stroke="#e3242b" stroke-width="1.9"/>
<circle cx="163.8" cy="464.2" r="2.5" fill="none" stroke="#e3242b" stroke-width="1.9"/>
<circle cx="182.3" cy="460.7" r="2.5" fill="none" stroke="#e3242b" stroke-width="1.9"/>
<circle cx="198.7" cy="456.6" r="2.5" fill="none" stroke="#e3242b" stroke-width="1.9"/>
<circle cx="217.4" cy="451.4" r="2.5" fill="none" stroke="#e3242b" stroke-width="1.9"/>
<circle cx="236.6" cy="445" r="2.5" fill="none" stroke="#e3242b" stroke-width="1.9"/>
<circle cx="255.7" cy="438" r="2.5" fill="none" stroke="#e3242b" stroke-width="1.9"/>
<circle cx="274.8" cy="428.8" r="2.5" fill="none" stroke="#e3242b" stroke-width="1.9"/>
<circle cx="293.5" cy="416.2" r="2.5" fill="none" stroke="#e3242b" stroke-width="1.9"/>
<circle cx="311" cy="389.5" r="2.5" fill="none" stroke="#e3242b" stroke-width="1.9"/>
<circle cx="325.5" cy="314.5" r="2.5" fill="none" stroke="#e3242b" stroke-width="1.9"/>
<circle cx="316" cy="393" r="2.5" fill="none" stroke="#e3242b" stroke-width="1.9"/>
<circle cx="298" cy="417.5" r="2.5" fill="none" stroke="#e3242b" stroke-width="1.9"/>
<circle cx="278.5" cy="430" r="2.5" fill="none" stroke="#e3242b" stroke-width="1.9"/>
<circle cx="262.2" cy="436.2" r="2.5" fill="none" stroke="#e3242b" stroke-width="1.9"/>
<circle cx="247.2" cy="442" r="2.5" fill="none" stroke="#e3242b" stroke-width="1.9"/>
<circle cx="231.4" cy="447.3" r="2.5" fill="none" stroke="#e3242b" stroke-width="1.9"/>
<circle cx="215" cy="452.6" r="2.5" fill="none" stroke="#e3242b" stroke-width="1.9"/>
<circle cx="199" cy="456.2" r="2.5" fill="none" stroke="#e3242b" stroke-width="1.9"/>
<circle cx="167.5" cy="463.8" r="2.5" fill="none" stroke="#e3242b" stroke-width="1.9"/>
<circle cx="149.2" cy="467" r="2.5" fill="none" stroke="#e3242b" stroke-width="1.9"/>
<circle cx="133.8" cy="469.2" r="2.5" fill="none" stroke="#e3242b" stroke-width="1.9"/>
<circle cx="118.8" cy="471.2" r="2.5" fill="none" stroke="#e3242b" stroke-width="1.9"/>
<circle cx="70" cy="476.2" r="2.5" fill="none" stroke="#e3242b" stroke-width="1.9"/>
<path d="M61.8 480.9 L64.5 480.8 L66.2 480.8 L69.5 480.6 L72.5 480.5 L87.5 480 L103 479.5 L120 478 L140 475.8 L160 473.8 L181.2 470.7 L196.4 468.9 L213.9 466 L232.6 462.5 L251.2 459 L271 455 L290.5 449.5 L309.2 442.5 L325.5 415.5" fill="none" stroke="#1d62b5" stroke-width="1.5" stroke-linejoin="round"/>
<path d="M325.5 415.5 L313 442 L293.5 449.2 L273.5 454.5 L258.2 457.8 L243.6 460.7 L227.9 463.6 L213.9 466 L196.4 468.9 L166.2 473 L149.2 475 L135 476.2 L72.5 480.5" fill="none" stroke="#1d62b5" stroke-width="1.5" stroke-linejoin="round"/>
<circle cx="61.8" cy="480.9" r="2.5" fill="none" stroke="#1d62b5" stroke-width="1.9"/>
<circle cx="64.5" cy="480.8" r="2.5" fill="none" stroke="#1d62b5" stroke-width="1.9"/>
<circle cx="66.2" cy="480.8" r="2.5" fill="none" stroke="#1d62b5" stroke-width="1.9"/>
<circle cx="69.5" cy="480.6" r="2.5" fill="none" stroke="#1d62b5" stroke-width="1.9"/>
<circle cx="72.5" cy="480.5" r="2.5" fill="none" stroke="#1d62b5" stroke-width="1.9"/>
<circle cx="87.5" cy="480" r="2.5" fill="none" stroke="#1d62b5" stroke-width="1.9"/>
<circle cx="103" cy="479.5" r="2.5" fill="none" stroke="#1d62b5" stroke-width="1.9"/>
<circle cx="120" cy="478" r="2.5" fill="none" stroke="#1d62b5" stroke-width="1.9"/>
<circle cx="140" cy="475.8" r="2.5" fill="none" stroke="#1d62b5" stroke-width="1.9"/>
<circle cx="160" cy="473.8" r="2.5" fill="none" stroke="#1d62b5" stroke-width="1.9"/>
<circle cx="181.2" cy="470.7" r="2.5" fill="none" stroke="#1d62b5" stroke-width="1.9"/>
<circle cx="196.4" cy="468.9" r="2.5" fill="none" stroke="#1d62b5" stroke-width="1.9"/>
<circle cx="213.9" cy="466" r="2.5" fill="none" stroke="#1d62b5" stroke-width="1.9"/>
<circle cx="232.6" cy="462.5" r="2.5" fill="none" stroke="#1d62b5" stroke-width="1.9"/>
<circle cx="251.2" cy="459" r="2.5" fill="none" stroke="#1d62b5" stroke-width="1.9"/>
<circle cx="271" cy="455" r="2.5" fill="none" stroke="#1d62b5" stroke-width="1.9"/>
<circle cx="290.5" cy="449.5" r="2.5" fill="none" stroke="#1d62b5" stroke-width="1.9"/>
<circle cx="309.2" cy="442.5" r="2.5" fill="none" stroke="#1d62b5" stroke-width="1.9"/>
<circle cx="325.5" cy="415.5" r="2.5" fill="none" stroke="#1d62b5" stroke-width="1.9"/>
<circle cx="313" cy="442" r="2.5" fill="none" stroke="#1d62b5" stroke-width="1.9"/>
<circle cx="293.5" cy="449.2" r="2.5" fill="none" stroke="#1d62b5" stroke-width="1.9"/>
<circle cx="273.5" cy="454.5" r="2.5" fill="none" stroke="#1d62b5" stroke-width="1.9"/>
<circle cx="258.2" cy="457.8" r="2.5" fill="none" stroke="#1d62b5" stroke-width="1.9"/>
<circle cx="243.6" cy="460.7" r="2.5" fill="none" stroke="#1d62b5" stroke-width="1.9"/>
<circle cx="227.9" cy="463.6" r="2.5" fill="none" stroke="#1d62b5" stroke-width="1.9"/>
<circle cx="213.9" cy="466" r="2.5" fill="none" stroke="#1d62b5" stroke-width="1.9"/>
<circle cx="196.4" cy="468.9" r="2.5" fill="none" stroke="#1d62b5" stroke-width="1.9"/>
<circle cx="166.2" cy="473" r="2.5" fill="none" stroke="#1d62b5" stroke-width="1.9"/>
<circle cx="149.2" cy="475" r="2.5" fill="none" stroke="#1d62b5" stroke-width="1.9"/>
<circle cx="135" cy="476.2" r="2.5" fill="none" stroke="#1d62b5" stroke-width="1.9"/>
<circle cx="72.5" cy="480.5" r="2.5" fill="none" stroke="#1d62b5" stroke-width="1.9"/>
<line x1="61" y1="290" x2="61" y2="499.8" stroke="#000" stroke-width="2" stroke-linecap="butt"/>
<line x1="60" y1="499.8" x2="328.8" y2="499.8" stroke="#000" stroke-width="2" stroke-linecap="butt"/>
<line x1="61" y1="289.7" x2="328.8" y2="289.7" stroke="#000" stroke-width="1.7" stroke-linecap="butt"/>
<line x1="328.3" y1="290" x2="328.3" y2="499.8" stroke="#000" stroke-width="1.4" stroke-linecap="butt"/>
<line x1="57" y1="480.7" x2="61" y2="480.7" stroke="#000" stroke-width="1.5" stroke-linecap="butt"/>
<text transform="translate(50.5 485.3) scale(1 1.09)" font-size="13.5" font-weight="bold" text-anchor="end" fill="#231f20"><tspan>0</tspan></text>
<line x1="57" y1="442.6" x2="61" y2="442.6" stroke="#000" stroke-width="1.5" stroke-linecap="butt"/>
<text transform="translate(50.5 447.2) scale(1 1.09)" font-size="13.5" font-weight="bold" text-anchor="end" fill="#231f20"><tspan>100</tspan></text>
<line x1="57" y1="404.5" x2="61" y2="404.5" stroke="#000" stroke-width="1.5" stroke-linecap="butt"/>
<text transform="translate(50.5 409.1) scale(1 1.09)" font-size="13.5" font-weight="bold" text-anchor="end" fill="#231f20"><tspan>200</tspan></text>
<line x1="57" y1="366.4" x2="61" y2="366.4" stroke="#000" stroke-width="1.5" stroke-linecap="butt"/>
<text transform="translate(50.5 371) scale(1 1.09)" font-size="13.5" font-weight="bold" text-anchor="end" fill="#231f20"><tspan>300</tspan></text>
<line x1="57" y1="328.3" x2="61" y2="328.3" stroke="#000" stroke-width="1.5" stroke-linecap="butt"/>
<text transform="translate(50.5 332.9) scale(1 1.09)" font-size="13.5" font-weight="bold" text-anchor="end" fill="#231f20"><tspan>400</tspan></text>
<line x1="57" y1="290.2" x2="61" y2="290.2" stroke="#000" stroke-width="1.5" stroke-linecap="butt"/>
<text transform="translate(50.5 294.8) scale(1 1.09)" font-size="13.5" font-weight="bold" text-anchor="end" fill="#231f20"><tspan>500</tspan></text>
<line x1="58.8" y1="499.8" x2="61" y2="499.8" stroke="#000" stroke-width="1.3" stroke-linecap="butt"/>
<line x1="58.8" y1="461.6" x2="61" y2="461.6" stroke="#000" stroke-width="1.3" stroke-linecap="butt"/>
<line x1="58.8" y1="423.6" x2="61" y2="423.6" stroke="#000" stroke-width="1.3" stroke-linecap="butt"/>
<line x1="58.8" y1="385.5" x2="61" y2="385.5" stroke="#000" stroke-width="1.3" stroke-linecap="butt"/>
<line x1="58.8" y1="347.4" x2="61" y2="347.4" stroke="#000" stroke-width="1.3" stroke-linecap="butt"/>
<line x1="58.8" y1="309.3" x2="61" y2="309.3" stroke="#000" stroke-width="1.3" stroke-linecap="butt"/>
<line x1="61.8" y1="499.8" x2="61.8" y2="503.8" stroke="#000" stroke-width="1.5" stroke-linecap="butt"/>
<text transform="translate(61.75 522.8) scale(1 1.09)" font-size="13.5" font-weight="bold" text-anchor="middle" fill="#231f20"><tspan>0.0</tspan></text>
<line x1="114.5" y1="499.8" x2="114.5" y2="503.8" stroke="#000" stroke-width="1.5" stroke-linecap="butt"/>
<text transform="translate(114.5 522.8) scale(1 1.09)" font-size="13.5" font-weight="bold" text-anchor="middle" fill="#231f20"><tspan>0.2</tspan></text>
<line x1="167.2" y1="499.8" x2="167.2" y2="503.8" stroke="#000" stroke-width="1.5" stroke-linecap="butt"/>
<text transform="translate(167.25 522.8) scale(1 1.09)" font-size="13.5" font-weight="bold" text-anchor="middle" fill="#231f20"><tspan>0.4</tspan></text>
<line x1="220" y1="499.8" x2="220" y2="503.8" stroke="#000" stroke-width="1.5" stroke-linecap="butt"/>
<text transform="translate(220 522.8) scale(1 1.09)" font-size="13.5" font-weight="bold" text-anchor="middle" fill="#231f20"><tspan>0.6</tspan></text>
<line x1="272.8" y1="499.8" x2="272.8" y2="503.8" stroke="#000" stroke-width="1.5" stroke-linecap="butt"/>
<text transform="translate(272.75 522.8) scale(1 1.09)" font-size="13.5" font-weight="bold" text-anchor="middle" fill="#231f20"><tspan>0.8</tspan></text>
<line x1="325.5" y1="499.8" x2="325.5" y2="503.8" stroke="#000" stroke-width="1.5" stroke-linecap="butt"/>
<text transform="translate(325.5 522.8) scale(1 1.09)" font-size="13.5" font-weight="bold" text-anchor="middle" fill="#231f20"><tspan>1.0</tspan></text>
<line x1="88.1" y1="499.8" x2="88.1" y2="502" stroke="#000" stroke-width="1.3" stroke-linecap="butt"/>
<line x1="140.9" y1="499.8" x2="140.9" y2="502" stroke="#000" stroke-width="1.3" stroke-linecap="butt"/>
<line x1="193.6" y1="499.8" x2="193.6" y2="502" stroke="#000" stroke-width="1.3" stroke-linecap="butt"/>
<line x1="246.4" y1="499.8" x2="246.4" y2="502" stroke="#000" stroke-width="1.3" stroke-linecap="butt"/>
<line x1="299.1" y1="499.8" x2="299.1" y2="502" stroke="#000" stroke-width="1.3" stroke-linecap="butt"/>
<text transform="translate(197.5 543) scale(1 1.09)" font-size="14" font-weight="bold" text-anchor="middle" fill="#231f20"><tspan>Relative pressure (P/P</tspan><tspan dy="3.9" font-size="9.5">0</tspan><tspan dy="-3.9">)</tspan></text>
<text transform="translate(14.2 394.7) rotate(-90) scale(1 1.09)" font-size="13.85" font-weight="bold" text-anchor="middle" fill="#231f20"><tspan>Quantity asdorbed (cm</tspan><tspan dy="-5.3" font-size="9.4">3</tspan><tspan dy="5.3">/g STP)</tspan></text>
<line x1="69.5" y1="430.8" x2="95" y2="430.8" stroke="#000" stroke-width="1.6" stroke-linecap="butt"/>
<text transform="translate(99.5 433.75) scale(1 1.09)" font-size="7.9" font-weight="bold" text-anchor="start" fill="#231f20"><tspan>Cu</tspan><tspan dy="2.2" font-size="5.4">2</tspan><tspan dy="-2.2">O MCs</tspan></text>
<line x1="69.5" y1="443" x2="95" y2="443" stroke="#e3242b" stroke-width="1.6" stroke-linecap="butt"/>
<text transform="translate(99.5 446) scale(1 1.09)" font-size="7.9" font-weight="bold" text-anchor="start" fill="#231f20"><tspan>g-C</tspan><tspan dy="2.2" font-size="5.4">3</tspan><tspan dy="-2.2">N</tspan><tspan dy="2.2" font-size="5.4">4</tspan><tspan dy="-2.2"> NSs</tspan></text>
<line x1="69.5" y1="457" x2="95" y2="457" stroke="#1d62b5" stroke-width="1.6" stroke-linecap="butt"/>
<text transform="translate(99.5 460) scale(1 1.09)" font-size="7.9" font-weight="bold" text-anchor="start" fill="#231f20"><tspan>Cu</tspan><tspan dy="2.2" font-size="5.4">2</tspan><tspan dy="-2.2">O/g-C</tspan><tspan dy="2.2" font-size="5.4">3</tspan><tspan dy="-2.2">N</tspan><tspan dy="2.2" font-size="5.4">4</tspan><tspan dy="-2.2">-0.2</tspan></text>
<rect x="118.9" y="290" width="156.1" height="115" fill="#fff" stroke="none"/>
<path d="M124.8 374.7 L125.7 362.8 L127 362 L128.6 359.5 L130.2 362 L132.4 361.7 L135.1 369 L139.7 375.7 L148.1 381.4 L168.3 391.4 L275 392.8" fill="none" stroke="#575757" stroke-width="1.8" stroke-linejoin="round"/>
<rect x="122.9" y="372.8" width="3.8" height="3.8" fill="#575757"/>
<rect x="123.8" y="360.9" width="3.8" height="3.8" fill="#575757"/>
<rect x="125.1" y="360.1" width="3.8" height="3.8" fill="#575757"/>
<rect x="126.7" y="357.6" width="3.8" height="3.8" fill="#575757"/>
<rect x="128.3" y="360.1" width="3.8" height="3.8" fill="#575757"/>
<rect x="130.5" y="359.8" width="3.8" height="3.8" fill="#575757"/>
<rect x="133.2" y="367.1" width="3.8" height="3.8" fill="#575757"/>
<rect x="137.8" y="373.8" width="3.8" height="3.8" fill="#575757"/>
<rect x="146.2" y="379.5" width="3.8" height="3.8" fill="#575757"/>
<rect x="166.4" y="389.5" width="3.8" height="3.8" fill="#575757"/>
<path d="M123.5 350.4 L125.1 327.7 L126.2 312.3 L127.5 303.4 L129.2 303.9 L131.1 312.5 L133.8 315.5 L137 323.6 L143.2 325 L155.4 317.9 L189.7 367.9 L275 367.9" fill="none" stroke="#e3242b" stroke-width="1.8" stroke-linejoin="round"/>
<circle cx="123.5" cy="350.4" r="2.2" fill="#e3242b"/>
<circle cx="125.1" cy="327.7" r="2.2" fill="#e3242b"/>
<circle cx="126.2" cy="312.3" r="2.2" fill="#e3242b"/>
<circle cx="127.5" cy="303.4" r="2.2" fill="#e3242b"/>
<circle cx="129.2" cy="303.9" r="2.2" fill="#e3242b"/>
<circle cx="131.1" cy="312.5" r="2.2" fill="#e3242b"/>
<circle cx="133.8" cy="315.5" r="2.2" fill="#e3242b"/>
<circle cx="137" cy="323.6" r="2.2" fill="#e3242b"/>
<circle cx="143.2" cy="325" r="2.2" fill="#e3242b"/>
<circle cx="155.4" cy="317.9" r="2.2" fill="#e3242b"/>
<circle cx="189.7" cy="367.9" r="2.2" fill="#e3242b"/>
<path d="M123.2 359.5 L124.8 357.4 L126.2 346.6 L127.8 345 L129.2 337.9 L130.5 340.4 L132.7 347.1 L136.2 355.2 L141.3 362.8 L151.6 373.6 L182.4 379.2 L275 380.3" fill="none" stroke="#1d62b5" stroke-width="1.8" stroke-linejoin="round"/>
<path d="M123.2 356.7l2.6 4.4h-5.2z" fill="#1d62b5"/>
<path d="M124.8 354.6l2.6 4.4h-5.2z" fill="#1d62b5"/>
<path d="M126.2 343.8l2.6 4.4h-5.2z" fill="#1d62b5"/>
<path d="M127.8 342.2l2.6 4.4h-5.2z" fill="#1d62b5"/>
<path d="M129.2 335.1l2.6 4.4h-5.2z" fill="#1d62b5"/>
<path d="M130.5 337.6l2.6 4.4h-5.2z" fill="#1d62b5"/>
<path d="M132.7 344.3l2.6 4.4h-5.2z" fill="#1d62b5"/>
<path d="M136.2 352.4l2.6 4.4h-5.2z" fill="#1d62b5"/>
<path d="M141.3 360l2.6 4.4h-5.2z" fill="#1d62b5"/>
<path d="M151.6 370.8l2.6 4.4h-5.2z" fill="#1d62b5"/>
<path d="M182.4 376.4l2.6 4.4h-5.2z" fill="#1d62b5"/>
<line x1="118.9" y1="290" x2="118.9" y2="405" stroke="#000" stroke-width="1.3" stroke-linecap="butt"/>
<line x1="275" y1="290" x2="275" y2="405" stroke="#000" stroke-width="1.3" stroke-linecap="butt"/>
<line x1="118.3" y1="405" x2="275.6" y2="405" stroke="#000" stroke-width="1.3" stroke-linecap="butt"/>
<line x1="119.6" y1="405" x2="119.6" y2="407.3" stroke="#000" stroke-width="1" stroke-linecap="butt"/>
<text transform="translate(119.6 417.6) scale(1 1.09)" font-size="7.6" font-weight="normal" text-anchor="middle" fill="#111" stroke="#111" stroke-width="0.25"><tspan>0</tspan></text>
<line x1="145.4" y1="405" x2="145.4" y2="407.3" stroke="#000" stroke-width="1" stroke-linecap="butt"/>
<text transform="translate(145.37 417.6) scale(1 1.09)" font-size="7.6" font-weight="normal" text-anchor="middle" fill="#111" stroke="#111" stroke-width="0.25"><tspan>10</tspan></text>
<line x1="171.1" y1="405" x2="171.1" y2="407.3" stroke="#000" stroke-width="1" stroke-linecap="butt"/>
<text transform="translate(171.13 417.6) scale(1 1.09)" font-size="7.6" font-weight="normal" text-anchor="middle" fill="#111" stroke="#111" stroke-width="0.25"><tspan>20</tspan></text>
<line x1="196.9" y1="405" x2="196.9" y2="407.3" stroke="#000" stroke-width="1" stroke-linecap="butt"/>
<text transform="translate(196.9 417.6) scale(1 1.09)" font-size="7.6" font-weight="normal" text-anchor="middle" fill="#111" stroke="#111" stroke-width="0.25"><tspan>30</tspan></text>
<line x1="222.7" y1="405" x2="222.7" y2="407.3" stroke="#000" stroke-width="1" stroke-linecap="butt"/>
<text transform="translate(222.67 417.6) scale(1 1.09)" font-size="7.6" font-weight="normal" text-anchor="middle" fill="#111" stroke="#111" stroke-width="0.25"><tspan>40</tspan></text>
<line x1="248.4" y1="405" x2="248.4" y2="407.3" stroke="#000" stroke-width="1" stroke-linecap="butt"/>
<text transform="translate(248.43 417.6) scale(1 1.09)" font-size="7.6" font-weight="normal" text-anchor="middle" fill="#111" stroke="#111" stroke-width="0.25"><tspan>50</tspan></text>
<line x1="274.2" y1="405" x2="274.2" y2="407.3" stroke="#000" stroke-width="1" stroke-linecap="butt"/>
<text transform="translate(274.2 417.6) scale(1 1.09)" font-size="7.6" font-weight="normal" text-anchor="middle" fill="#111" stroke="#111" stroke-width="0.25"><tspan>60</tspan></text>
<line x1="132.5" y1="405" x2="132.5" y2="406.5" stroke="#000" stroke-width="0.9" stroke-linecap="butt"/>
<line x1="158.2" y1="405" x2="158.2" y2="406.5" stroke="#000" stroke-width="0.9" stroke-linecap="butt"/>
<line x1="184" y1="405" x2="184" y2="406.5" stroke="#000" stroke-width="0.9" stroke-linecap="butt"/>
<line x1="209.8" y1="405" x2="209.8" y2="406.5" stroke="#000" stroke-width="0.9" stroke-linecap="butt"/>
<line x1="235.6" y1="405" x2="235.6" y2="406.5" stroke="#000" stroke-width="0.9" stroke-linecap="butt"/>
<line x1="261.3" y1="405" x2="261.3" y2="406.5" stroke="#000" stroke-width="0.9" stroke-linecap="butt"/>
<text transform="translate(200.3 427.8) scale(1 1.09)" font-size="8" font-weight="bold" text-anchor="middle" fill="#231f20"><tspan>Pore diameter (nm)</tspan></text>
<text transform="translate(113.2 352.9) rotate(-90) scale(1 1.09)" font-size="7.6" font-weight="normal" text-anchor="middle" fill="#111" stroke="#111" stroke-width="0.3"><tspan>dV/dlog (W)(cm</tspan><tspan dy="-2.9" font-size="5.2">3</tspan><tspan dy="2.9"> /g)</tspan></text>
<line x1="206" y1="301.1" x2="219" y2="301.1" stroke="#575757" stroke-width="1.9" stroke-linecap="butt"/>
<rect x="210.6" y="299.2" width="3.8" height="3.8" fill="#575757"/>
<text transform="translate(223 303.4) scale(1 1.09)" font-size="5.9" font-weight="bold" text-anchor="start" fill="#231f20"><tspan>Cu</tspan><tspan dy="1.7" font-size="4">2</tspan><tspan dy="-1.7">O MCs</tspan></text>
<line x1="206" y1="310.4" x2="219" y2="310.4" stroke="#e3242b" stroke-width="1.9" stroke-linecap="butt"/>
<circle cx="212.5" cy="310.4" r="2.2" fill="#e3242b"/>
<text transform="translate(223 312.7) scale(1 1.09)" font-size="5.9" font-weight="bold" text-anchor="start" fill="#231f20"><tspan>g-C</tspan><tspan dy="1.7" font-size="4">3</tspan><tspan dy="-1.7">N</tspan><tspan dy="1.7" font-size="4">4</tspan><tspan dy="-1.7"> NSs</tspan></text>
<line x1="206" y1="319.7" x2="219" y2="319.7" stroke="#1d62b5" stroke-width="1.9" stroke-linecap="butt"/>
<path d="M212.5 316.9l2.6 4.4h-5.2z" fill="#1d62b5"/>
<text transform="translate(223 322) scale(1 1.09)" font-size="5.9" font-weight="bold" text-anchor="start" fill="#231f20"><tspan>Cu</tspan><tspan dy="1.7" font-size="4">2</tspan><tspan dy="-1.7">O/g-C</tspan><tspan dy="1.7" font-size="4">3</tspan><tspan dy="-1.7">N</tspan><tspan dy="1.7" font-size="4">4</tspan><tspan dy="-1.7">-0.2</tspan></text>
<text transform="translate(367.8 288.8)" font-size="21" font-weight="bold" text-anchor="start" fill="#111"><tspan>d</tspan></text>
<path d="M391 296.4 L391.5 296.8 L392 296.8 L392.5 296.7 L393 296.4 L393.5 296.8 L394 296.8 L394.5 297.2 L395 297.1 L395.5 297.1 L396 297 L396.5 296.9 L397 297.1 L397.5 297.4 L398 297.3 L398.5 297 L399 297 L399.5 297.3 L400 297.4 L400.5 297 L401 297 L401.5 297.5 L402 297.5 L402.5 297.4 L403 297.2 L403.5 297.4 L404 297.8 L404.5 298 L405 297.9 L405.5 297.4 L406 297.4 L406.5 297.8 L407 297.7 L407.5 297.6 L408 297.5 L408.5 297.9 L409 297.5 L409.5 297.4 L410 297.5 L410.5 297.4 L411 297.3 L411.5 296.9 L412 296.8 L412.5 296.6 L413 296.7 L413.5 296.8 L414 297 L414.5 297.3 L415 297.6 L415.5 297.8 L416 297.9 L416.5 297.8 L417 297.4 L417.5 297 L418 297.3 L418.5 298.1 L419 299.1 L419.5 299.5 L420 299.8 L420.5 300.3 L421 300.6 L421.5 300.9 L422 300.4 L422.5 300.3 L423 300.4 L423.5 300.8 L424 301.1 L424.5 300.7 L425 300.5 L425.5 300.4 L426 300.6 L426.5 300.7 L427 300.6 L427.5 300.4 L428 299.9 L428.5 300.2 L429 300.2 L429.5 300.2 L430 299.8 L430.5 300.1 L431 300.5 L431.5 300.6 L432 300.4 L432.5 300.3 L433 300.2 L433.5 300.1 L434 300 L434.5 300.2 L435 299.9 L435.5 299.6 L436 299.3 L436.5 299.7 L437 300 L437.5 300.5 L438 300.5 L438.5 300.2 L439 300 L439.5 300.1 L440 300.2 L440.5 299.7 L441 299.3 L441.5 299.3 L442 299.3 L442.5 299.1 L443 299 L443.5 299.4 L444 299.4 L444.5 299.7 L445 299.2 L445.5 299.3 L446 299.4 L446.5 299.5 L447 299.4 L447.5 299.2 L448 299.4 L448.5 299.6 L449 299.9 L449.5 299.7 L450 299.7 L450.5 299.6 L451 299.6 L451.5 299.7 L452 299.6 L452.5 299.2 L453 298.5 L453.5 298.4 L454 298.6 L454.5 298.6 L455 297.5 L455.5 296.6 L456 296.4 L456.5 299.3 L457 300.8 L457.5 301.3 L458 301.9 L458.5 303.3 L459 304.2 L459.5 304.8 L460 301.5 L460.5 298.9 L461 293.8 L461.5 296.9 L462 300.2 L462.5 306 L463 311.1 L463.5 311 L464 311 L464.5 311.1 L465 310.8 L465.5 310.7 L466 310.7 L466.5 310.8 L467 310.7 L467.5 310.7 L468 310.5 L468.5 310.1 L469 310.1 L469.5 310.4 L470 310.4 L470.5 310.7 L471 310.3 L471.5 310.2 L472 310.1 L472.5 310.3 L473 310.5 L473.5 310.6 L474 310.4 L474.5 310.2 L475 309.6 L475.5 309.7 L476 309.7 L476.5 309.9 L477 309.5 L477.5 309.3 L478 309.1 L478.5 309.5 L479 309.6 L479.5 309.9 L480 309.7 L480.5 309.7 L481 309.5 L481.5 309.2 L482 309.3 L482.5 309.2 L483 309.3 L483.5 309.1 L484 308.6 L484.5 308.5 L485 308.4 L485.5 308.5 L486 308.5 L486.5 308.9 L487 309 L487.5 309 L488 308.9 L488.5 308.6 L489 308.5 L489.5 308.4 L490 308.6 L490.5 308.5 L491 308.3 L491.5 308.5 L492 308.5 L492.5 308.6 L493 308.2 L493.5 308.6 L494 308.5 L494.5 308.7 L495 308.7 L495.5 308.7 L496 308.5 L496.5 308.1 L497 307.9 L497.5 308.4 L498 308.3 L498.5 308 L499 307.6 L499.5 307.5 L500 307.7 L500.5 307.8 L501 308 L501.5 307.8 L502 307.4 L502.5 307.6 L503 307.8 L503.5 308 L504 307.8 L504.5 307.9 L505 308.1 L505.5 308.3 L506 308.3 L506.5 307.9 L507 307.5 L507.5 307.1 L508 307.4 L508.5 307.3 L509 307.6 L509.5 307.6 L510 307.7 L510.5 307.6 L511 307.3 L511.5 307.7 L512 307.8 L512.5 308.1 L513 307.5 L513.5 307.6 L514 307.3 L514.5 307.6 L515 307.6 L515.5 307.8 L516 308.1 L516.5 308.1 L517 308.2 L517.5 308 L518 307.9 L518.5 307.9 L519 307.9 L519.5 307.7 L520 307.6 L520.5 307.9 L521 308.4 L521.5 308.2 L522 307.9 L522.5 307.6 L523 307.8 L523.5 308.2 L524 308.4 L524.5 308.4 L525 308 L525.5 308.1 L526 308.4 L526.5 308.5 L527 308.4 L527.5 308.1 L528 308.1 L528.5 308.6 L529 308.6 L529.5 308.9 L530 308.5 L530.5 308.9 L531 308.7 L531.5 309.1 L532 308.9 L532.5 308.8 L533 308.4 L533.5 308.7 L534 308.9 L534.5 309.2 L535 308.9 L535.5 309 L536 309.2 L536.5 309.5 L537 310.3 L537.5 311.2 L538 312.7 L538.5 313.6 L539 314.7 L539.5 314.8 L540 315.1 L540.5 314.9 L541 315.3 L541.5 315.4 L542 315.3 L542.5 315 L543 314.8 L543.5 314.5 L544 314.3 L544.5 314.2 L545 314.2 L545.5 314.1 L546 314 L546.5 314.2 L547 313.9 L547.5 313.4 L548 313.2 L548.5 313 L549 313.4 L549.5 313 L550 312.9 L550.5 312.4 L551 312.2 L551.5 311.5 L552 310.9 L552.5 310.1 L553 310 L553.5 309.6 L554 310 L554.5 310.7 L555 312.3 L555.5 313.1 L556 314 L556.5 315.8 L557 317.7 L557.5 319.3 L558 319.9 L558.5 319.7 L559 319.9 L559.5 320 L560 320.4 L560.5 320.5 L561 320.9 L561.5 320.8 L562 321 L562.5 321.2 L563 321.1 L563.5 321.2 L564 319.4 L564.5 316.3 L565 314.3 L565.5 317.3 L566 323.4 L566.5 325.2 L567 325.3 L567.5 324.9 L568 324.5 L568.5 324.5 L569 324.6 L569.5 324.6 L570 324.5 L570.5 324.8 L571 324.8 L571.5 324.9 L572 324.7 L572.5 324.7 L573 324.5 L573.5 324.3 L574 324.3 L574.5 324.8 L575 325.3 L575.5 325.6 L576 325.6 L576.5 325.3 L577 325 L577.5 325 L578 325.1 L578.5 325.5 L579 325.2 L579.5 325.1 L580 325 L580.5 325.3 L581 325.2 L581.5 324.9 L582 324.4 L582.5 324.6 L583 325 L583.5 325.3 L584 325.1 L584.5 325 L585 325.1 L585.5 325.1 L586 325.3 L586.5 325.5 L587 325.8 L587.5 325.7 L588 325.5 L588.5 325.7 L589 325.9 L589.5 326.2 L590 326.5 L590.5 327 L591 327.6 L591.5 328 L592 328.1 L592.5 328.2 L593 328 L593.5 328.2 L594 328.3 L594.5 328.8 L595 328.6 L595.5 328.7 L596 328.3 L596.5 328.8 L597 328.9 L597.5 327.7 L598 325.7 L598.5 324.8 L599 319.2 L599.5 314 L600 319.5 L600.5 328.6 L601 330.7 L601.5 330.7 L602 330.4 L602.5 330.2 L603 330.1 L603.5 330.7 L604 331.1 L604.5 330.9 L605 330.8 L605.5 330.4 L606 330.5 L606.5 330 L607 330.1 L607.5 330.1 L608 330.4 L608.5 330.6 L609 330.4 L609.5 330.3 L610 330.1 L610.5 330.1 L611 329.7 L611.5 329.9 L612 330.1 L612.5 330.4 L613 329.9 L613.5 330 L614 329.8 L614.5 330 L615 329.7 L615.5 329.7 L616 330 L616.5 329.9 L617 330 L617.5 329.9 L618 330.1 L618.5 329.8 L619 329.5 L619.5 329.5 L620 329.8 L620.5 329.8 L621 329.7 L621.5 329.4 L622 329.4 L622.5 328.9 L623 329.2 L623.5 329.3 L624 329.3 L624.5 329 L625 328.6 L625.5 328.6 L626 328.5 L626.5 328.4 L627 328.4 L627.5 327.9 L628 322.6 L628.5 313.5 L629 314.1 L629.5 325.5 L630 332.6 L630.5 332.5 L631 332.3 L631.5 332.4 L632 332.9 L632.5 333 L633 332.8 L633.5 332.8 L634 333.1 L634.5 333.6 L635 333.1 L635.5 332.7 L636 332.4 L636.5 332.9 L637 333.1 L637.5 333.4 L638 332.9 L638.5 332.9 L639 332.7 L639.5 332.7 L640 332.7 L640.5 332.8 L641 333.1 L641.5 333.2 L642 333.2 L642.5 333.3 L643 333.2 L643.5 332.8 L644 332.3 L644.5 332 L645 332.4 L645.5 332.6 L646 332.9 L646.5 332.9 L647 332.9 L647.5 332.8 L648 332.6 L648.5 332.2 L649 332.2 L649.5 332 L650 332.4 L650.5 332.7 L651 332.8 L651.5 332.6 L652 332.4 L652.5 332.3 L653 332 L653.5 332 L654 332.3 L654.5 332.8 L655 332.7 L655.5 332.4 L656 332.4 L656.5 332.3 L657 332.2 L657.5 332.1 L658 332.1 L658.5 332.4 L659 332 L659.5 332.4 L660 332.2 L660.5 332.5 L661 332.1 L661.5 332.2 L662 332.3 L662.5 332.3 L663 331.9 L663.5 331.5 L664 331.8 L664.5 331.8 L665 332 L665.5 332 L666 331.9 L666.5 331.8 L667 331.8 L667.5 332.2 L668 332.6 L668.5 332.3 L669 331.7 L669.5 331.1 L670 330.3 L670.5 329.8 L671 330.3 L671.5 332.2 L672 333 L672.5 333.2 L673 333 L673.5 333.4 L674 333.3 L674.5 333.5 L675 333.4 L675.5 333.7 L676 333.8 L676.5 333.6" fill="none" stroke="#1d6cb8" stroke-width="1.7" stroke-linejoin="round"/>
<path d="M391 378.1 L391.5 378.6 L392 378.7 L392.5 378.9 L393 378.5 L393.5 378.5 L394 378.6 L394.5 378.8 L395 379 L395.5 379 L396 378.9 L396.5 378.4 L397 378.3 L397.5 378.2 L398 378.2 L398.5 378.1 L399 378.5 L399.5 378.9 L400 379 L400.5 378.7 L401 378.3 L401.5 377.8 L402 378.2 L402.5 378.2 L403 378.2 L403.5 377.7 L404 377.6 L404.5 377.6 L405 377.7 L405.5 377.8 L406 377.9 L406.5 378.2 L407 378.2 L407.5 378.5 L408 378.4 L408.5 378.6 L409 378.4 L409.5 378.4 L410 378.4 L410.5 378.3 L411 378 L411.5 377.8 L412 377.9 L412.5 378.3 L413 378.3 L413.5 378.1 L414 377.8 L414.5 378 L415 378.1 L415.5 378.2 L416 377.1 L416.5 376.2 L417 377 L417.5 378.7 L418 379.7 L418.5 381 L419 383.8 L419.5 385 L420 384.8 L420.5 385.2 L421 385.6 L421.5 386.1 L422 385.8 L422.5 386 L423 385.9 L423.5 386 L424 385.8 L424.5 385.6 L425 385.4 L425.5 385.3 L426 385.5 L426.5 385.5 L427 385.7 L427.5 385.6 L428 385.8 L428.5 385.8 L429 385.9 L429.5 385.7 L430 385.4 L430.5 385.1 L431 385 L431.5 385.4 L432 385.7 L432.5 386.2 L433 386.2 L433.5 386 L434 386 L434.5 386.1 L435 386.2 L435.5 385.7 L436 385.4 L436.5 385.3 L437 385.5 L437.5 385.3 L438 385.7 L438.5 386 L439 386.1 L439.5 386.1 L440 385.9 L440.5 386.1 L441 386.2 L441.5 386.1 L442 386.2 L442.5 385.8 L443 386.1 L443.5 385.8 L444 385.8 L444.5 385.7 L445 386 L445.5 386.4 L446 386.3 L446.5 386.2 L447 385.9 L447.5 385.6 L448 385.9 L448.5 386.4 L449 386.4 L449.5 386.1 L450 385.8 L450.5 386.2 L451 385.9 L451.5 386.1 L452 385.8 L452.5 386.1 L453 385.7 L453.5 385.6 L454 385.8 L454.5 386 L455 386.4 L455.5 386.4 L456 386.6 L456.5 386.1 L457 385.9 L457.5 386 L458 386.3 L458.5 386 L459 385.6 L459.5 385.8 L460 386.3 L460.5 386.3 L461 385.9 L461.5 385.8 L462 385.9 L462.5 385.9 L463 386 L463.5 386 L464 386.1 L464.5 385.6 L465 385.5 L465.5 385.7 L466 385.8 L466.5 385.6 L467 385.6 L467.5 385.9 L468 386.1 L468.5 385.9 L469 385.8 L469.5 385.9 L470 385.7 L470.5 385.5 L471 385.3 L471.5 385.3 L472 385.2 L472.5 385.3 L473 385.3 L473.5 385.7 L474 385.6 L474.5 386 L475 386 L475.5 385.9 L476 385.5 L476.5 385.4 L477 385.5 L477.5 385.6 L478 385.4 L478.5 385.4 L479 385.5 L479.5 385.7 L480 385.5 L480.5 385.6 L481 385.5 L481.5 385.9 L482 385.7 L482.5 385.6 L483 385.3 L483.5 385 L484 385.4 L484.5 385.3 L485 385.3 L485.5 385.4 L486 385.6 L486.5 385.8 L487 385.6 L487.5 385.2 L488 385.4 L488.5 385.3 L489 385.5 L489.5 385.2 L490 385.3 L490.5 385 L491 385.2 L491.5 385.2 L492 385.4 L492.5 385.4 L493 385.6 L493.5 385.7 L494 385.7 L494.5 385.5 L495 385.1 L495.5 384.8 L496 384.9 L496.5 385.3 L497 385.5 L497.5 385.5 L498 385.4 L498.5 385.3 L499 385.3 L499.5 385 L500 384.9 L500.5 384.7 L501 384.8 L501.5 384.8 L502 385.1 L502.5 385.2 L503 385.2 L503.5 385.1 L504 385.3 L504.5 385.4 L505 385.4 L505.5 385.1 L506 385 L506.5 384.8 L507 385 L507.5 385 L508 384.9 L508.5 385 L509 385.1 L509.5 385.1 L510 385.2 L510.5 385.1 L511 385.2 L511.5 385.2 L512 384.9 L512.5 384.7 L513 384.9 L513.5 385.1 L514 385.2 L514.5 384.7 L515 384.6 L515.5 384.8 L516 385.2 L516.5 385.1 L517 385.1 L517.5 384.8 L518 385 L518.5 385.2 L519 385 L519.5 385.2 L520 385 L520.5 385.1 L521 384.7 L521.5 384.7 L522 385 L522.5 385.1 L523 384.8 L523.5 384.6 L524 384.8 L524.5 384.9 L525 384.8 L525.5 384.5 L526 384.4 L526.5 384.2 L527 384.6 L527.5 384.6 L528 384.5 L528.5 384.3 L529 384.4 L529.5 384.4 L530 384.5 L530.5 384.5 L531 384.7 L531.5 384.3 L532 384.4 L532.5 384.5 L533 384.6 L533.5 384.5 L534 384.1 L534.5 384 L535 384.1 L535.5 384.1 L536 384.1 L536.5 384.2 L537 384.1 L537.5 384.2 L538 384.4 L538.5 384.7 L539 384.6 L539.5 384.5 L540 384.6 L540.5 384.9 L541 384.9 L541.5 384.8 L542 384.7 L542.5 384.6 L543 384.4 L543.5 383.9 L544 383.7 L544.5 383.9 L545 383.9 L545.5 383.8 L546 383.5 L546.5 383.3 L547 383.3 L547.5 383.6 L548 383.6 L548.5 383.5 L549 383.3 L549.5 383.7 L550 383.7 L550.5 383.5 L551 383 L551.5 383 L552 383 L552.5 383.3 L553 383.1 L553.5 383.2 L554 382.8 L554.5 382.9 L555 382.8 L555.5 382.8 L556 382.8 L556.5 382.8 L557 383 L557.5 383.1 L558 383.1 L558.5 382.7 L559 382.9 L559.5 383.2 L560 383.7 L560.5 383.6 L561 383.4 L561.5 383 L562 382.7 L562.5 382.7 L563 382.7 L563.5 383.1 L564 382.9 L564.5 383 L565 382.9 L565.5 383.1 L566 383 L566.5 382.6 L567 382.3 L567.5 382.3 L568 382.5 L568.5 383 L569 383.1 L569.5 382.8 L570 382.4 L570.5 382.4 L571 382.2 L571.5 382.6 L572 382.2 L572.5 382.5 L573 382.5 L573.5 382.4 L574 382.1 L574.5 382 L575 382.3 L575.5 382.3 L576 382.2 L576.5 382.2 L577 382.6 L577.5 382.5 L578 382.1 L578.5 382 L579 382 L579.5 382.2 L580 382.2 L580.5 382.2 L581 382.2 L581.5 382.2 L582 382.2 L582.5 382.3 L583 382.4 L583.5 382.1 L584 382.1 L584.5 381.8 L585 382 L585.5 381.7 L586 381.8 L586.5 381.7 L587 381.9 L587.5 381.7 L588 381.7 L588.5 381.7 L589 381.8 L589.5 381.9 L590 381.7 L590.5 381.8 L591 382 L591.5 382.4 L592 382.4 L592.5 382.3 L593 382.1 L593.5 382.3 L594 383.2 L594.5 384.5 L595 385.9 L595.5 387 L596 387.5 L596.5 386 L597 381.8 L597.5 377.2 L598 373.5 L598.5 372.4 L599 358.9 L599.5 345.2 L600 356.4 L600.5 375.8 L601 382.9 L601.5 393.1 L602 392.7 L602.5 392.4 L603 392 L603.5 392.3 L604 392.6 L604.5 392.7 L605 392.4 L605.5 392.2 L606 392.3 L606.5 392.1 L607 392.4 L607.5 392.3 L608 392.8 L608.5 392.8 L609 392.6 L609.5 392.3 L610 391.9 L610.5 391.9 L611 392 L611.5 391.9 L612 391.7 L612.5 391.7 L613 391.9 L613.5 391.7 L614 391.8 L614.5 391.8 L615 392 L615.5 391.8 L616 391.8 L616.5 391.8 L617 391.6 L617.5 391.2 L618 391.1 L618.5 391 L619 391.1 L619.5 391.2 L620 391.4 L620.5 391.7 L621 391.7 L621.5 392.1 L622 391.9 L622.5 392.5 L623 392.8 L623.5 393.5 L624 393.7 L624.5 393.7 L625 393.4 L625.5 393.5 L626 392.7 L626.5 390.4 L627 387.8 L627.5 386.2 L628 381.3 L628.5 374.2 L629 379.8 L629.5 385.1 L630 391.4 L630.5 397.8 L631 397.8 L631.5 398 L632 397.9 L632.5 397.8 L633 397.6 L633.5 397.8 L634 398.1 L634.5 398.1 L635 397.9 L635.5 398 L636 398.2 L636.5 398.1 L637 397.8 L637.5 397.6 L638 397.6 L638.5 397.6 L639 397.6 L639.5 397.5 L640 397.5 L640.5 397.5 L641 397.7 L641.5 398 L642 398.3 L642.5 398.5 L643 398.5 L643.5 398.1 L644 397.9 L644.5 397.9 L645 398.1 L645.5 398.2 L646 398.4 L646.5 398.6 L647 398.6 L647.5 398.6 L648 398.6 L648.5 398.5 L649 398.5 L649.5 398.4 L650 398.5 L650.5 398.4 L651 398.2 L651.5 398 L652 397.8 L652.5 398 L653 398 L653.5 398.1 L654 398 L654.5 398.1 L655 398.3 L655.5 398.1 L656 398 L656.5 397.7 L657 397.7 L657.5 397.4 L658 397.7 L658.5 397.6 L659 397.7 L659.5 397.8 L660 398.1 L660.5 398.1 L661 397.7 L661.5 397.8 L662 398 L662.5 398 L663 397.7 L663.5 397.9 L664 398.2 L664.5 398.1 L665 397.9 L665.5 397.8 L666 398.2 L666.5 398.3 L667 398.2 L667.5 398.1 L668 398.1 L668.5 398.1 L669 397.8 L669.5 397.7 L670 397.9 L670.5 398.1 L671 398.1 L671.5 398 L672 398.2 L672.5 397.9 L673 397.8 L673.5 397.5 L674 397.6 L674.5 397.9 L675 398.1 L675.5 398.5 L676 398.2 L676.5 398" fill="none" stroke="#e2434f" stroke-width="1.7" stroke-linejoin="round"/>
<path d="M391 417.3 L391.5 417.2 L392 417.2 L392.5 417.2 L393 417.6 L393.5 417.3 L394 417.1 L394.5 416.9 L395 417.1 L395.5 417.3 L396 417.3 L396.5 417.2 L397 417.2 L397.5 417.2 L398 417.1 L398.5 416.7 L399 416.6 L399.5 416.4 L400 416.6 L400.5 416.7 L401 416.9 L401.5 417 L402 417.2 L402.5 417.2 L403 417.1 L403.5 416.5 L404 416.2 L404.5 416.3 L405 416.4 L405.5 416.5 L406 416.4 L406.5 416.7 L407 416.6 L407.5 416.2 L408 415.8 L408.5 415.9 L409 415.7 L409.5 415.8 L410 415.8 L410.5 416.1 L411 415.8 L411.5 415.7 L412 415.4 L412.5 415.8 L413 416.2 L413.5 416.6 L414 416.1 L414.5 415.6 L415 415.3 L415.5 415.4 L416 415.4 L416.5 415.5 L417 415.4 L417.5 415.5 L418 415.7 L418.5 415.9 L419 416.1 L419.5 415.9 L420 415.9 L420.5 416.1 L421 416.1 L421.5 415.8 L422 415.5 L422.5 415.6 L423 416 L423.5 415.8 L424 416.1 L424.5 415.5 L425 415.8 L425.5 415.4 L426 415.6 L426.5 415.8 L427 415.9 L427.5 415.8 L428 415.5 L428.5 415.3 L429 415.2 L429.5 414.9 L430 414.8 L430.5 415.2 L431 415.4 L431.5 415.2 L432 415 L432.5 414.8 L433 415 L433.5 415.3 L434 415.4 L434.5 414.7 L435 414.3 L435.5 414.4 L436 414.6 L436.5 414.3 L437 413.8 L437.5 414 L438 414.3 L438.5 414.3 L439 414.2 L439.5 414.3 L440 414.7 L440.5 414.8 L441 414.5 L441.5 414.4 L442 414.4 L442.5 414.6 L443 414.6 L443.5 414.3 L444 414.1 L444.5 414.1 L445 414.1 L445.5 414.2 L446 413.8 L446.5 413.4 L447 413.1 L447.5 413.5 L448 414.3 L448.5 414.8 L449 415.1 L449.5 415.7 L450 415.8 L450.5 416.5 L451 417.1 L451.5 418.5 L452 419.6 L452.5 420.6 L453 420.9 L453.5 421.1 L454 419.4 L454.5 417 L455 415.4 L455.5 413.4 L456 414 L456.5 419.1 L457 420.6 L457.5 423.8 L458 427.7 L458.5 431 L459 433.5 L459.5 434.9 L460 424.9 L460.5 417.8 L461 405.7 L461.5 417.2 L462 428.7 L462.5 443.1 L463 442.6 L463.5 442.6 L464 443 L464.5 443.1 L465 442.6 L465.5 442.4 L466 442.3 L466.5 442.5 L467 442.5 L467.5 442.4 L468 442 L468.5 441.8 L469 441.6 L469.5 441.5 L470 441.6 L470.5 441.5 L471 441.8 L471.5 441.8 L472 441.9 L472.5 441.6 L473 441.3 L473.5 440.9 L474 440.4 L474.5 440.3 L475 440.4 L475.5 440.3 L476 440.2 L476.5 440.4 L477 440.1 L477.5 440 L478 439.6 L478.5 439.6 L479 439.7 L479.5 439.4 L480 439.1 L480.5 438.6 L481 439 L481.5 439.1 L482 438.9 L482.5 438.8 L483 438.9 L483.5 439.4 L484 438.9 L484.5 438.9 L485 438.2 L485.5 438 L486 438 L486.5 438.2 L487 438.5 L487.5 438.2 L488 438.4 L488.5 437.9 L489 438.1 L489.5 437.6 L490 437.7 L490.5 437.8 L491 438 L491.5 438.4 L492 438 L492.5 438.2 L493 438.2 L493.5 438.4 L494 438.1 L494.5 437.9 L495 438 L495.5 438.4 L496 438.2 L496.5 437.8 L497 437.3 L497.5 437.4 L498 437.2 L498.5 437.2 L499 436.7 L499.5 436.6 L500 436.7 L500.5 436.9 L501 436.9 L501.5 436.8 L502 437 L502.5 436.9 L503 436.6 L503.5 436.4 L504 436.9 L504.5 437.3 L505 437.3 L505.5 436.7 L506 436.6 L506.5 436.9 L507 437.4 L507.5 437.1 L508 436.7 L508.5 436.4 L509 436.6 L509.5 436.9 L510 436.8 L510.5 436.6 L511 436.2 L511.5 436.2 L512 436.2 L512.5 436.2 L513 436.1 L513.5 436.4 L514 436.4 L514.5 436.3 L515 435.9 L515.5 436.4 L516 436.6 L516.5 437 L517 437.2 L517.5 437.7 L518 437.9 L518.5 437.6 L519 437.5 L519.5 437.7 L520 438 L520.5 438.3 L521 438.5 L521.5 439.2 L522 439.3 L522.5 439.1 L523 438.7 L523.5 438.9 L524 439.5 L524.5 439.9 L525 440.5 L525.5 440.8 L526 441.3 L526.5 441.5 L527 441.5 L527.5 441.7 L528 441.6 L528.5 441.8 L529 441.6 L529.5 442.1 L530 442.6 L530.5 442.7 L531 442.8 L531.5 442.3 L532 442.6 L532.5 442.4 L533 443.1 L533.5 443.1 L534 443.2 L534.5 442.6 L535 441.7 L535.5 440.9 L536 440.4 L536.5 441.8 L537 445.9 L537.5 450.3 L538 452.3 L538.5 452.2 L539 452.5 L539.5 452.4 L540 452.8 L540.5 452.8 L541 453.4 L541.5 454.2 L542 455 L542.5 455.5 L543 455.4 L543.5 455.9 L544 456.4 L544.5 456.8 L545 456.6 L545.5 456.6 L546 456.8 L546.5 456.9 L547 457.2 L547.5 456.9 L548 457.2 L548.5 457.4 L549 457.8 L549.5 458.2 L550 458.6 L550.5 459 L551 458.9 L551.5 458.5 L552 458.6 L552.5 458.6 L553 458.7 L553.5 458.7 L554 455.7 L554.5 450.3 L555 447.6 L555.5 450.6 L556 456.8 L556.5 459.6 L557 462.3 L557.5 467.3 L558 470.4 L558.5 470.6 L559 471.2 L559.5 471.7 L560 473.1 L560.5 473.7 L561 474.7 L561.5 474.6 L562 474.8 L562.5 474.5 L563 474.5 L563.5 474.1 L564 473.6 L564.5 471.4 L565 463.8 L565.5 468 L566 472.3 L566.5 477.8 L567 480.4 L567.5 480.6 L568 480.5 L568.5 480.6 L569 480.5 L569.5 480.3 L570 480.3 L570.5 480 L571 480.3 L571.5 480.4 L572 480.7 L572.5 480.8 L573 480.6 L573.5 480.4 L574 479.9 L574.5 479.9 L575 480.1 L575.5 480.2 L576 479.9 L576.5 479.8 L577 480.1 L577.5 480.1 L578 479.7 L578.5 479.2 L579 479.4 L579.5 479.8 L580 479.9 L580.5 480.1 L581 479.5 L581.5 479.5 L582 479.3 L582.5 479.8 L583 480 L583.5 480 L584 479.8 L584.5 479.7 L585 479.6 L585.5 479.3 L586 479.2 L586.5 479 L587 479.5 L587.5 479.5 L588 479.4 L588.5 479.6 L589 479.9 L589.5 480 L590 479.8 L590.5 479.9 L591 480.1 L591.5 480 L592 479.9 L592.5 479.4 L593 479.3 L593.5 479.2 L594 479.3 L594.5 479.2 L595 479.5 L595.5 479.5 L596 479.3 L596.5 479 L597 478.9 L597.5 478.9 L598 479.2 L598.5 479.5 L599 479.5 L599.5 479.2 L600 479 L600.5 479.3 L601 479.6 L601.5 480.1 L602 480 L602.5 479.9 L603 479.5 L603.5 479.3 L604 479 L604.5 479.2 L605 479.6 L605.5 479.8 L606 479.8 L606.5 479.5 L607 479.5 L607.5 479.3 L608 479.6 L608.5 479.6 L609 479.6 L609.5 479.2 L610 478.8 L610.5 478.5 L611 478.3 L611.5 478.2 L612 478 L612.5 478 L613 477.8 L613.5 477.9 L614 477.9 L614.5 477.8 L615 477.8 L615.5 478.2 L616 478.2 L616.5 478.1 L617 477.5 L617.5 477.4 L618 477 L618.5 477.4 L619 477.6 L619.5 478 L620 477.9 L620.5 478 L621 478.1 L621.5 478 L622 477.6 L622.5 477.1 L623 477.3 L623.5 477.7 L624 478 L624.5 478 L625 477.9 L625.5 477.6 L626 477.1 L626.5 476.7 L627 477 L627.5 477.5 L628 472.9 L628.5 465.3 L629 465.2 L629.5 474.2 L630 480 L630.5 480.2 L631 479.7 L631.5 479.2 L632 479.2 L632.5 479.4 L633 479.5 L633.5 479.6 L634 479.3 L634.5 479.4 L635 479.4 L635.5 479.8 L636 480.1 L636.5 479.6 L637 479.5 L637.5 479.6 L638 479.5 L638.5 479.3 L639 479.3 L639.5 479.3 L640 479.5 L640.5 479.4 L641 479.4 L641.5 479.5 L642 479.5 L642.5 479.4 L643 479.4 L643.5 479.4 L644 479.6 L644.5 479 L645 478.9 L645.5 478.9 L646 479.3 L646.5 478.8 L647 478.7 L647.5 478.8 L648 479.2 L648.5 478.9 L649 478.6 L649.5 478.4 L650 478.5 L650.5 478.9 L651 479.2 L651.5 478.9 L652 478.6 L652.5 478 L653 478.6 L653.5 478.5 L654 479 L654.5 479 L655 479.2 L655.5 478.7 L656 478.1 L656.5 478 L657 478.2 L657.5 478.6 L658 478.4 L658.5 478.3 L659 478.3 L659.5 478.2 L660 478.2 L660.5 478 L661 478.2 L661.5 477.9 L662 477.9 L662.5 477.8 L663 478.2 L663.5 478.5 L664 478.3 L664.5 478.5 L665 478.4 L665.5 478.4 L666 478.1 L666.5 477.9 L667 478.1 L667.5 477.7 L668 478.1 L668.5 477.4 L669 476.4 L669.5 474.5 L670 473.4 L670.5 473.2 L671 474.9 L671.5 477.3 L672 478.9 L672.5 478.6 L673 478.6 L673.5 478.7 L674 479.1 L674.5 479.6 L675 479.1 L675.5 478.7 L676 478.6 L676.5 478.7" fill="none" stroke="#575757" stroke-width="1.8" stroke-linejoin="round"/>
<rect x="391" y="288.8" width="285.8" height="210.7" fill="none" stroke="#000" stroke-width="1.8"/>
<line x1="391" y1="499.5" x2="391" y2="503" stroke="#000" stroke-width="1.5" stroke-linecap="butt"/>
<line x1="442.8" y1="499.5" x2="442.8" y2="503" stroke="#000" stroke-width="1.5" stroke-linecap="butt"/>
<line x1="494.6" y1="499.5" x2="494.6" y2="503" stroke="#000" stroke-width="1.5" stroke-linecap="butt"/>
<line x1="546.4" y1="499.5" x2="546.4" y2="503" stroke="#000" stroke-width="1.5" stroke-linecap="butt"/>
<line x1="598.2" y1="499.5" x2="598.2" y2="503" stroke="#000" stroke-width="1.5" stroke-linecap="butt"/>
<line x1="650" y1="499.5" x2="650" y2="503" stroke="#000" stroke-width="1.5" stroke-linecap="butt"/>
<line x1="416.9" y1="499.5" x2="416.9" y2="501.7" stroke="#000" stroke-width="1.3" stroke-linecap="butt"/>
<line x1="468.7" y1="499.5" x2="468.7" y2="501.7" stroke="#000" stroke-width="1.3" stroke-linecap="butt"/>
<line x1="520.5" y1="499.5" x2="520.5" y2="501.7" stroke="#000" stroke-width="1.3" stroke-linecap="butt"/>
<line x1="572.3" y1="499.5" x2="572.3" y2="501.7" stroke="#000" stroke-width="1.3" stroke-linecap="butt"/>
<line x1="624.1" y1="499.5" x2="624.1" y2="501.7" stroke="#000" stroke-width="1.3" stroke-linecap="butt"/>
<text transform="translate(391 521.8) scale(1 1.09)" font-size="13.5" font-weight="bold" text-anchor="middle" fill="#231f20"><tspan>1200</tspan></text>
<text transform="translate(442.8 521.8) scale(1 1.09)" font-size="13.5" font-weight="bold" text-anchor="middle" fill="#231f20"><tspan>1000</tspan></text>
<text transform="translate(494.6 521.8) scale(1 1.09)" font-size="13.5" font-weight="bold" text-anchor="middle" fill="#231f20"><tspan>800</tspan></text>
<text transform="translate(546.4 521.8) scale(1 1.09)" font-size="13.5" font-weight="bold" text-anchor="middle" fill="#231f20"><tspan>600</tspan></text>
<text transform="translate(598.2 521.8) scale(1 1.09)" font-size="13.5" font-weight="bold" text-anchor="middle" fill="#231f20"><tspan>400</tspan></text>
<text transform="translate(650 521.8) scale(1 1.09)" font-size="13.5" font-weight="bold" text-anchor="middle" fill="#231f20"><tspan>200</tspan></text>
<text transform="translate(533.3 544) scale(1 1.09)" font-size="14" font-weight="bold" text-anchor="middle" fill="#231f20"><tspan>Binding energy(eV)</tspan></text>
<text transform="translate(380.5 394) rotate(-90) scale(1 1.09)" font-size="14" font-weight="bold" text-anchor="middle" fill="#231f20"><tspan>Intensity (arb.u.)</tspan></text>
<text transform="translate(641.75 304) scale(1 1.09)" font-size="8.3" font-weight="bold" text-anchor="start" fill="#231f20"><tspan>Survey</tspan></text>
<text transform="translate(595.5 343.5) scale(1 1.09)" font-size="8.3" font-weight="bold" text-anchor="start" fill="#231f20"><tspan>N 1s</tspan></text>
<text transform="translate(624 373.5) scale(1 1.09)" font-size="8.3" font-weight="bold" text-anchor="start" fill="#231f20"><tspan>C 1s</tspan></text>
<text transform="translate(455 407.3) scale(1 1.09)" font-size="8.3" font-weight="bold" text-anchor="start" fill="#231f20"><tspan>Cu 2p</tspan></text>
<text transform="translate(561.75 460.3) scale(1 1.09)" font-size="8.3" font-weight="bold" text-anchor="start" fill="#231f20"><tspan>O 1s</tspan></text>
<line x1="397.5" y1="455" x2="418.3" y2="455" stroke="#1d6cb8" stroke-width="1.6" stroke-linecap="butt"/>
<text transform="translate(423.75 457.7) scale(1 1.09)" font-size="7.8" font-weight="bold" text-anchor="start" fill="#231f20"><tspan>Cu</tspan><tspan dy="2.2" font-size="5.3">2</tspan><tspan dy="-2.2">O/g-C</tspan><tspan dy="2.2" font-size="5.3">3</tspan><tspan dy="-2.2">N</tspan><tspan dy="2.2" font-size="5.3">4</tspan><tspan dy="-2.2">-0.2</tspan></text>
<line x1="397.5" y1="468" x2="418.3" y2="468" stroke="#e2434f" stroke-width="1.6" stroke-linecap="butt"/>
<text transform="translate(423.75 470.7) scale(1 1.09)" font-size="7.8" font-weight="bold" text-anchor="start" fill="#231f20"><tspan>g-C</tspan><tspan dy="2.2" font-size="5.3">3</tspan><tspan dy="-2.2">N</tspan><tspan dy="2.2" font-size="5.3">4</tspan><tspan dy="-2.2"> NSs</tspan></text>
<line x1="397.5" y1="481" x2="418.3" y2="481" stroke="#575757" stroke-width="1.6" stroke-linecap="butt"/>
<text transform="translate(423.75 483.7) scale(1 1.09)" font-size="7.8" font-weight="bold" text-anchor="start" fill="#231f20"><tspan>Cu</tspan><tspan dy="2.2" font-size="5.3">2</tspan><tspan dy="-2.2">O MCs</tspan></text>
<text transform="translate(-1.2 575.8)" font-size="21" font-weight="bold" text-anchor="start" fill="#111"><tspan>e</tspan></text>
<path d="M111.8 678.9 L112.8 678.9 L113.8 678.9 L114.8 678.9 L115.8 678.9 L116.8 678.9 L117.8 678.9 L118.8 678.9 L119.8 678.9 L120.8 679 L121.8 679 L122.8 679 L123.8 679 L124.8 679 L125.8 679 L126.8 679 L127.8 679 L128.8 679 L129.8 679 L130.8 679 L131.8 679.1 L132.8 679.1 L133.8 679.1 L134.8 679.1 L135.8 679.1 L136.8 679.1 L137.8 679.1 L138.8 679.1 L139.8 679.1 L140.8 679.1 L141.8 679.1 L142.8 679.1 L143.8 679.1 L144.8 679.1 L145.8 679.1 L146.8 679.1 L147.8 679.1 L148.8 679 L149.8 679 L150.8 679 L151.8 679 L152.8 678.9 L153.8 678.8 L154.8 678.8 L155.8 678.7 L156.8 678.6 L157.8 678.4 L158.8 678.2 L159.8 678 L160.8 677.7 L161.8 677.4 L162.8 677 L163.8 676.5 L164.8 675.9 L165.8 675.2 L166.8 674.4 L167.8 673.4 L168.8 672.3 L169.8 671.1 L170.8 669.7 L171.8 668.2 L172.8 666.6 L173.8 664.8 L174.8 662.8 L175.8 660.8 L176.8 658.7 L177.8 656.5 L178.8 654.3 L179.8 652.1 L180.8 649.9 L181.8 647.9 L182.8 646 L183.8 644.3 L184.8 642.8 L185.8 641.7 L186.8 640.8 L187.8 640.3 L188.8 640.2 L189.8 640.5 L190.8 641.2 L191.8 642.2 L192.8 643.5 L193.8 645.1 L194.8 646.9 L195.8 648.9 L196.8 651 L197.8 653.2 L198.8 655.4 L199.8 657.7 L200.8 659.9 L201.8 662 L202.8 664 L203.8 666 L204.8 667.7 L205.8 669.4 L206.8 670.9 L207.8 672.2 L208.8 673.4 L209.8 674.5 L210.8 675.4 L211.8 676.2 L212.8 676.9 L213.8 677.5 L214.8 678 L215.8 678.4 L216.8 678.7 L217.8 679 L218.8 679.3 L219.8 679.5 L220.8 679.6 L221.8 679.8 L222.8 679.9 L223.8 680 L224.8 680.1 L225.8 680.2 L226.8 680.2 L227.8 680.3 L228.8 680.3 L229.8 680.4 L230.8 680.4 L231.8 680.5 L232.8 680.5 L233.8 680.5 L234.8 680.6 L235.8 680.6 L236.8 680.6 L237.8 680.7 L238.8 680.7 L239.8 680.7 L240.8 680.7 L241.8 680.8 L242.8 680.8 L243.8 680.8 L244.8 680.9 L245.8 680.9 L246.8 680.9 L247.8 680.9 L248.8 681 L249.8 681 L250.8 681 L251.8 681 L252.8 681 L253.8 681.1 L254.8 681.1 L255.8 681.1 L256.8 681.1 L257.8 681.2 L258.8 681.2 L259.8 681.2 L260.8 681.2 L261.8 681.2 L262.8 681.3 L263.8 681.3 L264.8 681.3 L265.8 681.3 L265.8 681.5 L264.8 681.5 L263.8 681.4 L262.8 681.4 L261.8 681.4 L260.8 681.4 L259.8 681.4 L258.8 681.4 L257.8 681.3 L256.8 681.3 L255.8 681.3 L254.8 681.3 L253.8 681.3 L252.8 681.3 L251.8 681.2 L250.8 681.2 L249.8 681.2 L248.8 681.2 L247.8 681.2 L246.8 681.2 L245.8 681.2 L244.8 681.1 L243.8 681.1 L242.8 681.1 L241.8 681.1 L240.8 681.1 L239.8 681.1 L238.8 681 L237.8 681 L236.8 681 L235.8 681 L234.8 681 L233.8 681 L232.8 680.9 L231.8 680.9 L230.8 680.9 L229.8 680.9 L228.8 680.9 L227.8 680.9 L226.8 680.8 L225.8 680.8 L224.8 680.8 L223.8 680.8 L222.8 680.8 L221.8 680.8 L220.8 680.8 L219.8 680.7 L218.8 680.7 L217.8 680.7 L216.8 680.7 L215.8 680.7 L214.8 680.7 L213.8 680.6 L212.8 680.6 L211.8 680.6 L210.8 680.6 L209.8 680.6 L208.8 680.6 L207.8 680.5 L206.8 680.5 L205.8 680.5 L204.8 680.5 L203.8 680.5 L202.8 680.5 L201.8 680.4 L200.8 680.4 L199.8 680.4 L198.8 680.4 L197.8 680.4 L196.8 680.4 L195.8 680.4 L194.8 680.3 L193.8 680.3 L192.8 680.3 L191.8 680.3 L190.8 680.3 L189.8 680.3 L188.8 680.2 L187.8 680.2 L186.8 680.2 L185.8 680.2 L184.8 680.2 L183.8 680.2 L182.8 680.1 L181.8 680.1 L180.8 680.1 L179.8 680.1 L178.8 680.1 L177.8 680.1 L176.8 680 L175.8 680 L174.8 680 L173.8 680 L172.8 680 L171.8 680 L170.8 680 L169.8 679.9 L168.8 679.9 L167.8 679.9 L166.8 679.9 L165.8 679.9 L164.8 679.9 L163.8 679.8 L162.8 679.8 L161.8 679.8 L160.8 679.8 L159.8 679.8 L158.8 679.8 L157.8 679.7 L156.8 679.7 L155.8 679.7 L154.8 679.7 L153.8 679.7 L152.8 679.7 L151.8 679.6 L150.8 679.6 L149.8 679.6 L148.8 679.6 L147.8 679.6 L146.8 679.6 L145.8 679.6 L144.8 679.5 L143.8 679.5 L142.8 679.5 L141.8 679.5 L140.8 679.5 L139.8 679.5 L138.8 679.4 L137.8 679.4 L136.8 679.4 L135.8 679.4 L134.8 679.4 L133.8 679.4 L132.8 679.3 L131.8 679.3 L130.8 679.3 L129.8 679.3 L128.8 679.3 L127.8 679.3 L126.8 679.2 L125.8 679.2 L124.8 679.2 L123.8 679.2 L122.8 679.2 L121.8 679.2 L120.8 679.1 L119.8 679.1 L118.8 679.1 L117.8 679.1 L116.8 679.1 L115.8 679.1 L114.8 679.1 L113.8 679 L112.8 679 L111.8 679Z" fill="url(#grn)" stroke="none" stroke-width="0"/>
<path d="M106.8 678.8 L107.8 678.8 L108.8 678.8 L109.8 678.8 L110.8 678.8 L111.8 678.8 L112.8 678.9 L113.8 678.9 L114.8 678.9 L115.8 678.9 L116.8 678.9 L117.8 678.9 L118.8 678.9 L119.8 679 L120.8 679 L121.8 679 L122.8 679 L123.8 679 L124.8 679 L125.8 679 L126.8 679 L127.8 679.1 L128.8 679.1 L129.8 679.1 L130.8 679.1 L131.8 679.1 L132.8 679.1 L133.8 679.1 L134.8 679.1 L135.8 679.2 L136.8 679.2 L137.8 679.2 L138.8 679.2 L139.8 679.2 L140.8 679.2 L141.8 679.2 L142.8 679.2 L143.8 679.2 L144.8 679.3 L145.8 679.3 L146.8 679.3 L147.8 679.3 L148.8 679.3 L149.8 679.3 L150.8 679.3 L151.8 679.3 L152.8 679.3 L153.8 679.3 L154.8 679.3 L155.8 679.4 L156.8 679.4 L157.8 679.4 L158.8 679.4 L159.8 679.4 L160.8 679.4 L161.8 679.4 L162.8 679.4 L163.8 679.4 L164.8 679.4 L165.8 679.4 L166.8 679.4 L167.8 679.4 L168.8 679.4 L169.8 679.4 L170.8 679.4 L171.8 679.5 L172.8 679.5 L173.8 679.5 L174.8 679.5 L175.8 679.5 L176.8 679.5 L177.8 679.5 L178.8 679.5 L179.8 679.5 L180.8 679.4 L181.8 679.4 L182.8 679.4 L183.8 679.4 L184.8 679.4 L185.8 679.4 L186.8 679.4 L187.8 679.4 L188.8 679.4 L189.8 679.4 L190.8 679.4 L191.8 679.3 L192.8 679.3 L193.8 679.3 L194.8 679.3 L195.8 679.2 L196.8 679.2 L197.8 679.1 L198.8 679.1 L199.8 679 L200.8 678.9 L201.8 678.8 L202.8 678.7 L203.8 678.6 L204.8 678.4 L205.8 678.2 L206.8 678 L207.8 677.7 L208.8 677.4 L209.8 677 L210.8 676.6 L211.8 676 L212.8 675.4 L213.8 674.7 L214.8 673.9 L215.8 672.9 L216.8 671.8 L217.8 670.5 L218.8 669.1 L219.8 667.5 L220.8 665.8 L221.8 663.8 L222.8 661.6 L223.8 659.2 L224.8 656.7 L225.8 653.9 L226.8 650.9 L227.8 647.8 L228.8 644.5 L229.8 641 L230.8 637.4 L231.8 633.7 L232.8 630 L233.8 626.3 L234.8 622.6 L235.8 618.9 L236.8 615.4 L237.8 612.1 L238.8 609 L239.8 606.2 L240.8 603.8 L241.8 601.7 L242.8 600.1 L243.8 598.9 L244.8 598.3 L245.8 598.2 L246.8 598.5 L247.8 599.4 L248.8 600.8 L249.8 602.7 L250.8 604.9 L251.8 607.6 L252.8 610.5 L253.8 613.8 L254.8 617.2 L255.8 620.8 L256.8 624.5 L257.8 628.2 L258.8 632 L259.8 635.7 L260.8 639.4 L261.8 643 L262.8 646.4 L263.8 649.7 L264.8 652.8 L265.8 655.7 L266.8 658.5 L267.8 661 L268.8 663.3 L269.8 665.4 L270.8 667.3 L271.8 669.1 L272.8 670.6 L273.8 672 L274.8 673.2 L275.8 674.3 L276.8 675.2 L277.8 676 L278.8 676.7 L279.8 677.4 L280.8 677.9 L281.8 678.3 L282.8 678.7 L283.8 679.1 L284.8 679.4 L285.8 679.6 L286.8 679.8 L287.8 680 L288.8 680.2 L289.8 680.3 L290.8 680.4 L291.8 680.5 L292.8 680.6 L293.8 680.7 L294.8 680.8 L295.8 680.8 L296.8 680.9 L297.8 681 L298.8 681 L299.8 681.1 L300.8 681.1 L301.8 681.2 L302.8 681.2 L303.8 681.3 L304.8 681.3 L305.8 681.4 L306.8 681.4 L307.8 681.4 L308.8 681.5 L309.8 681.5 L310.8 681.5 L311.8 681.6 L312.8 681.6 L313.8 681.6 L314.8 681.7 L315.8 681.7 L316.8 681.7 L317.8 681.8 L318.8 681.8 L319.8 681.8 L320.8 681.9 L321.8 681.9 L322.8 681.9 L323.8 681.9 L324.8 682 L325.8 682 L326.8 682 L327.8 682 L328.8 682.1 L329.8 682.1 L329.8 682.5 L328.8 682.5 L327.8 682.5 L326.8 682.4 L325.8 682.4 L324.8 682.4 L323.8 682.4 L322.8 682.4 L321.8 682.4 L320.8 682.4 L319.8 682.3 L318.8 682.3 L317.8 682.3 L316.8 682.3 L315.8 682.3 L314.8 682.3 L313.8 682.2 L312.8 682.2 L311.8 682.2 L310.8 682.2 L309.8 682.2 L308.8 682.2 L307.8 682.1 L306.8 682.1 L305.8 682.1 L304.8 682.1 L303.8 682.1 L302.8 682.1 L301.8 682 L300.8 682 L299.8 682 L298.8 682 L297.8 682 L296.8 682 L295.8 682 L294.8 681.9 L293.8 681.9 L292.8 681.9 L291.8 681.9 L290.8 681.9 L289.8 681.9 L288.8 681.8 L287.8 681.8 L286.8 681.8 L285.8 681.8 L284.8 681.8 L283.8 681.8 L282.8 681.7 L281.8 681.7 L280.8 681.7 L279.8 681.7 L278.8 681.7 L277.8 681.7 L276.8 681.6 L275.8 681.6 L274.8 681.6 L273.8 681.6 L272.8 681.6 L271.8 681.6 L270.8 681.6 L269.8 681.5 L268.8 681.5 L267.8 681.5 L266.8 681.5 L265.8 681.5 L264.8 681.5 L263.8 681.4 L262.8 681.4 L261.8 681.4 L260.8 681.4 L259.8 681.4 L258.8 681.4 L257.8 681.3 L256.8 681.3 L255.8 681.3 L254.8 681.3 L253.8 681.3 L252.8 681.3 L251.8 681.2 L250.8 681.2 L249.8 681.2 L248.8 681.2 L247.8 681.2 L246.8 681.2 L245.8 681.2 L244.8 681.1 L243.8 681.1 L242.8 681.1 L241.8 681.1 L240.8 681.1 L239.8 681.1 L238.8 681 L237.8 681 L236.8 681 L235.8 681 L234.8 681 L233.8 681 L232.8 680.9 L231.8 680.9 L230.8 680.9 L229.8 680.9 L228.8 680.9 L227.8 680.9 L226.8 680.8 L225.8 680.8 L224.8 680.8 L223.8 680.8 L222.8 680.8 L221.8 680.8 L220.8 680.8 L219.8 680.7 L218.8 680.7 L217.8 680.7 L216.8 680.7 L215.8 680.7 L214.8 680.7 L213.8 680.6 L212.8 680.6 L211.8 680.6 L210.8 680.6 L209.8 680.6 L208.8 680.6 L207.8 680.5 L206.8 680.5 L205.8 680.5 L204.8 680.5 L203.8 680.5 L202.8 680.5 L201.8 680.4 L200.8 680.4 L199.8 680.4 L198.8 680.4 L197.8 680.4 L196.8 680.4 L195.8 680.4 L194.8 680.3 L193.8 680.3 L192.8 680.3 L191.8 680.3 L190.8 680.3 L189.8 680.3 L188.8 680.2 L187.8 680.2 L186.8 680.2 L185.8 680.2 L184.8 680.2 L183.8 680.2 L182.8 680.1 L181.8 680.1 L180.8 680.1 L179.8 680.1 L178.8 680.1 L177.8 680.1 L176.8 680 L175.8 680 L174.8 680 L173.8 680 L172.8 680 L171.8 680 L170.8 680 L169.8 679.9 L168.8 679.9 L167.8 679.9 L166.8 679.9 L165.8 679.9 L164.8 679.9 L163.8 679.8 L162.8 679.8 L161.8 679.8 L160.8 679.8 L159.8 679.8 L158.8 679.8 L157.8 679.7 L156.8 679.7 L155.8 679.7 L154.8 679.7 L153.8 679.7 L152.8 679.7 L151.8 679.6 L150.8 679.6 L149.8 679.6 L148.8 679.6 L147.8 679.6 L146.8 679.6 L145.8 679.6 L144.8 679.5 L143.8 679.5 L142.8 679.5 L141.8 679.5 L140.8 679.5 L139.8 679.5 L138.8 679.4 L137.8 679.4 L136.8 679.4 L135.8 679.4 L134.8 679.4 L133.8 679.4 L132.8 679.3 L131.8 679.3 L130.8 679.3 L129.8 679.3 L128.8 679.3 L127.8 679.3 L126.8 679.2 L125.8 679.2 L124.8 679.2 L123.8 679.2 L122.8 679.2 L121.8 679.2 L120.8 679.1 L119.8 679.1 L118.8 679.1 L117.8 679.1 L116.8 679.1 L115.8 679.1 L114.8 679.1 L113.8 679 L112.8 679 L111.8 679 L110.8 679 L109.8 679 L108.8 679 L107.8 678.9 L106.8 678.9Z" fill="url(#lav)" stroke="none" stroke-width="0"/>
<path d="M134.8 679.1 L135.8 679.1 L136.8 679.1 L137.8 679.1 L138.8 679.1 L139.8 679.1 L140.8 679.1 L141.8 679.1 L142.8 679.1 L143.8 679.1 L144.8 679.1 L145.8 679.1 L146.8 679.1 L147.8 679.1 L148.8 679 L149.8 679 L150.8 679 L151.8 679 L152.8 678.9 L153.8 678.8 L154.8 678.8 L155.8 678.7 L156.8 678.6 L157.8 678.4 L158.8 678.2 L159.8 678 L160.8 677.7 L161.8 677.4 L162.8 677 L163.8 676.5 L164.8 675.9 L165.8 675.2 L166.8 674.4 L167.8 673.4 L168.8 672.3 L169.8 671.1 L170.8 669.7 L171.8 668.2 L172.8 666.6 L173.8 664.8 L174.8 662.8 L175.8 660.8 L176.8 658.7 L177.8 656.5 L178.8 654.3 L179.8 652.1 L180.8 649.9 L181.8 647.9 L182.8 646 L183.8 644.3 L184.8 642.8 L185.8 641.7 L186.8 640.8 L187.8 640.3 L188.8 640.2 L189.8 640.5 L190.8 641.2 L191.8 642.2 L192.8 643.5 L193.8 645.1 L194.8 646.9 L195.8 648.9 L196.8 651 L197.8 653.2 L198.8 655.4 L199.8 657.7 L200.8 659.9 L201.8 662 L202.8 664 L203.8 666 L204.8 667.7 L205.8 669.4 L206.8 670.9 L207.8 672.2 L208.8 673.4 L209.8 674.5 L210.8 675.4 L211.8 676.2 L212.8 676.9 L213.8 677.5 L214.8 678 L215.8 678.4 L216.8 678.7 L217.8 679 L218.8 679.3 L219.8 679.5 L220.8 679.6 L221.8 679.8 L222.8 679.9 L223.8 680 L224.8 680.1 L225.8 680.2 L226.8 680.2 L227.8 680.3 L228.8 680.3 L229.8 680.4 L230.8 680.4 L231.8 680.5 L232.8 680.5 L233.8 680.5 L234.8 680.6 L235.8 680.6 L236.8 680.6 L237.8 680.7 L238.8 680.7 L239.8 680.7 L240.8 680.7 L241.8 680.8 L242.8 680.8" fill="none" stroke="#9cc58a" stroke-width="0.8" stroke-linejoin="round"/>
<path d="M148.8 679.3 L149.8 679.3 L150.8 679.3 L151.8 679.3 L152.8 679.3 L153.8 679.3 L154.8 679.3 L155.8 679.4 L156.8 679.4 L157.8 679.4 L158.8 679.4 L159.8 679.4 L160.8 679.4 L161.8 679.4 L162.8 679.4 L163.8 679.4 L164.8 679.4 L165.8 679.4 L166.8 679.4 L167.8 679.4 L168.8 679.4 L169.8 679.4 L170.8 679.4 L171.8 679.5 L172.8 679.5 L173.8 679.5 L174.8 679.5 L175.8 679.5 L176.8 679.5 L177.8 679.5 L178.8 679.5 L179.8 679.5 L180.8 679.4 L181.8 679.4 L182.8 679.4 L183.8 679.4 L184.8 679.4 L185.8 679.4 L186.8 679.4 L187.8 679.4 L188.8 679.4 L189.8 679.4 L190.8 679.4 L191.8 679.3 L192.8 679.3 L193.8 679.3 L194.8 679.3 L195.8 679.2 L196.8 679.2 L197.8 679.1 L198.8 679.1 L199.8 679 L200.8 678.9 L201.8 678.8 L202.8 678.7 L203.8 678.6 L204.8 678.4 L205.8 678.2 L206.8 678 L207.8 677.7 L208.8 677.4 L209.8 677 L210.8 676.6 L211.8 676 L212.8 675.4 L213.8 674.7 L214.8 673.9 L215.8 672.9 L216.8 671.8 L217.8 670.5 L218.8 669.1 L219.8 667.5 L220.8 665.8 L221.8 663.8 L222.8 661.6 L223.8 659.2 L224.8 656.7 L225.8 653.9 L226.8 650.9 L227.8 647.8 L228.8 644.5 L229.8 641 L230.8 637.4 L231.8 633.7 L232.8 630 L233.8 626.3 L234.8 622.6 L235.8 618.9 L236.8 615.4 L237.8 612.1 L238.8 609 L239.8 606.2 L240.8 603.8 L241.8 601.7 L242.8 600.1 L243.8 598.9 L244.8 598.3 L245.8 598.2 L246.8 598.5 L247.8 599.4 L248.8 600.8 L249.8 602.7 L250.8 604.9 L251.8 607.6 L252.8 610.5 L253.8 613.8 L254.8 617.2 L255.8 620.8 L256.8 624.5 L257.8 628.2 L258.8 632 L259.8 635.7 L260.8 639.4 L261.8 643 L262.8 646.4 L263.8 649.7 L264.8 652.8 L265.8 655.7 L266.8 658.5 L267.8 661 L268.8 663.3 L269.8 665.4 L270.8 667.3 L271.8 669.1 L272.8 670.6 L273.8 672 L274.8 673.2 L275.8 674.3 L276.8 675.2 L277.8 676 L278.8 676.7 L279.8 677.4 L280.8 677.9 L281.8 678.3 L282.8 678.7 L283.8 679.1 L284.8 679.4 L285.8 679.6 L286.8 679.8 L287.8 680 L288.8 680.2 L289.8 680.3 L290.8 680.4 L291.8 680.5 L292.8 680.6 L293.8 680.7 L294.8 680.8 L295.8 680.8 L296.8 680.9 L297.8 681 L298.8 681 L299.8 681.1 L300.8 681.1 L301.8 681.2 L302.8 681.2 L303.8 681.3 L304.8 681.3 L305.8 681.4 L306.8 681.4 L307.8 681.4 L308.8 681.5 L309.8 681.5 L310.8 681.5 L311.8 681.6 L312.8 681.6 L313.8 681.6 L314.8 681.7 L315.8 681.7 L316.8 681.7 L317.8 681.8 L318.8 681.8 L319.8 681.8 L320.8 681.9 L321.8 681.9 L322.8 681.9 L323.8 681.9 L324.8 682 L325.8 682 L326.8 682 L327.8 682 L328.8 682.1 L329.8 682.1" fill="none" stroke="#9ea6d6" stroke-width="0.8" stroke-linejoin="round"/>
<path d="M49.8 677.4 L50.8 678 L51.8 676.9 L52.8 677 L53.8 676.5 L54.8 676.3 L55.8 676.2 L56.8 677.9 L57.8 676.6 L58.8 676.8 L59.8 678 L60.8 678.1 L61.8 676.2 L62.8 678.7 L63.8 678 L64.8 678.1 L65.8 678.7 L66.8 678.1 L67.8 677 L68.8 678.2 L69.8 676.3 L70.8 678.1 L71.8 677.6 L72.8 677.4 L73.8 678.2 L74.8 678.6 L75.8 678.5 L76.8 678.7 L77.8 677.1 L78.8 678.2 L79.8 678.3 L80.8 679.2 L81.8 678.3 L82.8 678.4 L83.8 678.9 L84.8 677.3 L85.8 679.2 L86.8 678.2 L87.8 677 L88.8 677.8 L89.8 676.2 L90.8 678.3 L91.8 678.6 L92.8 678.7 L93.8 678.7 L94.8 679.2 L95.8 678.3 L96.8 678.5 L97.8 677.3 L98.8 678.3 L99.8 678.4 L100.8 678.3 L101.8 678.6 L102.8 677.5 L103.8 677.7 L104.8 679.6 L105.8 676.9 L106.8 679.1 L107.8 677.5 L108.8 677.5 L109.8 679.3 L110.8 678.6 L111.8 677.6 L112.8 679.3 L113.8 676.7 L114.8 678.8 L115.8 679.2 L116.8 676.8 L117.8 677.7 L118.8 677.1 L119.8 678.5 L120.8 677.7 L121.8 678.6 L122.8 678.7 L123.8 679.8 L124.8 678.8 L125.8 677.4 L126.8 678.8 L127.8 678.9 L128.8 678.4 L129.8 678.9 L130.8 678.9 L131.8 678 L132.8 677.6 L133.8 678.8 L134.8 678.5 L135.8 679.5 L136.8 678.3 L137.8 678 L138.8 677.5 L139.8 679.3 L140.8 678.7 L141.8 679.2 L142.8 679.6 L143.8 678.2 L144.8 678.7 L145.8 678.8 L146.8 676.4 L147.8 677.2 L148.8 677.1 L149.8 678.2 L150.8 676.8 L151.8 678.5 L152.8 676.7 L153.8 676.5 L154.8 676.6 L155.8 679.2 L156.8 676.2 L157.8 679 L158.8 675.6 L159.8 678.4 L160.8 676.9 L161.8 674.9 L162.8 676.9 L163.8 675.3 L164.8 674.1 L165.8 674.4 L166.8 671.9 L167.8 673.7 L168.8 671 L169.8 669.4 L170.8 669.4 L171.8 667.4 L172.8 666.9 L173.8 663.9 L174.8 662.7 L175.8 660.2 L176.8 658.2 L177.8 656.1 L178.8 653 L179.8 651.4 L180.8 648.9 L181.8 647 L182.8 645.2 L183.8 644.6 L184.8 642.6 L185.8 639.4 L186.8 639.3 L187.8 640.4 L188.8 637.7 L189.8 640.4 L190.8 641.3 L191.8 641.2 L192.8 641.5 L193.8 643.4 L194.8 645.8 L195.8 646.6 L196.8 650.8 L197.8 650.1 L198.8 653.6 L199.8 656.5 L200.8 659.3 L201.8 659.6 L202.8 661 L203.8 664.1 L204.8 665.4 L205.8 666.3 L206.8 667.5 L207.8 667.6 L208.8 668.6 L209.8 671.7 L210.8 669.1 L211.8 669.3 L212.8 671.2 L213.8 670.7 L214.8 671.6 L215.8 669 L216.8 669.9 L217.8 669.1 L218.8 667.6 L219.8 667.3 L220.8 664.5 L221.8 661.9 L222.8 660.5 L223.8 657.6 L224.8 655.5 L225.8 652.8 L226.8 648.7 L227.8 647.1 L228.8 643.6 L229.8 641.3 L230.8 637.7 L231.8 633 L232.8 629.5 L233.8 625.6 L234.8 622.4 L235.8 618.9 L236.8 615.5 L237.8 610.5 L238.8 606.6 L239.8 605.1 L240.8 603.4 L241.8 600.8 L242.8 597.6 L243.8 598 L244.8 598.3 L245.8 595.6 L246.8 598.9 L247.8 598.9 L248.8 600.9 L249.8 602.6 L250.8 604.5 L251.8 606.2 L252.8 610.5 L253.8 613 L254.8 616.3 L255.8 619.9 L256.8 622.1 L257.8 627.4 L258.8 630.2 L259.8 635.9 L260.8 639.2 L261.8 642.8 L262.8 644.6 L263.8 648.4 L264.8 652.2 L265.8 655.2 L266.8 657.8 L267.8 660.8 L268.8 663.1 L269.8 665.5 L270.8 665.8 L271.8 668.9 L272.8 669 L273.8 669.5 L274.8 672.5 L275.8 674.1 L276.8 675 L277.8 674.8 L278.8 676.5 L279.8 678.2 L280.8 676.2 L281.8 676.7 L282.8 676.3 L283.8 679 L284.8 679.3 L285.8 677.4 L286.8 677.8 L287.8 678.2 L288.8 677.9 L289.8 680 L290.8 680.3 L291.8 679.7 L292.8 678.1 L293.8 680.2 L294.8 680.7 L295.8 679.4 L296.8 679.3 L297.8 679.7 L298.8 681.8 L299.8 679.5 L300.8 680.4 L301.8 678.9 L302.8 680.4 L303.8 681.2 L304.8 680 L305.8 679.8 L306.8 681 L307.8 679.6 L308.8 681.9 L309.8 679.2 L310.8 682 L311.8 681.7 L312.8 682.2 L313.8 681 L314.8 680.8 L315.8 682.6 L316.8 682.1 L317.8 679.9 L318.8 681.4 L319.8 680.8 L320.8 682 L321.8 681.6 L322.8 680.4 L323.8 682.4 L324.8 680.5 L325.8 679.6 L326.8 682.1 L327.8 682.7 L328.8 682.8 L329.8 682.3" fill="none" stroke="#8c8c8c" stroke-width="0.8" stroke-linejoin="round"/>
<path d="M49.8 678 L50.8 678 L51.8 678 L52.8 678.1 L53.8 678.1 L54.8 678.1 L55.8 678.1 L56.8 678.1 L57.8 678.1 L58.8 678.2 L59.8 678.2 L60.8 678.2 L61.8 678.2 L62.8 678.2 L63.8 678.2 L64.8 678.3 L65.8 678.3 L66.8 678.3 L67.8 678.3 L68.8 678.3 L69.8 678.3 L70.8 678.3 L71.8 678.4 L72.8 678.4 L73.8 678.4 L74.8 678.4 L75.8 678.4 L76.8 678.4 L77.8 678.5 L78.8 678.5 L79.8 678.5 L80.8 678.5 L81.8 678.5 L82.8 678.5 L83.8 678.6 L84.8 678.6 L85.8 678.6 L86.8 678.6 L87.8 678.6 L88.8 678.6 L89.8 678.7 L90.8 678.7 L91.8 678.7 L92.8 678.7 L93.8 678.7 L94.8 678.7 L95.8 678.7 L96.8 678.8 L97.8 678.8 L98.8 678.8 L99.8 678.8 L100.8 678.8 L101.8 678.8 L102.8 678.9 L103.8 678.9 L104.8 678.9 L105.8 678.9 L106.8 678.9 L107.8 678.9 L108.8 679 L109.8 679 L110.8 679 L111.8 679 L112.8 679 L113.8 679 L114.8 679.1 L115.8 679.1 L116.8 679.1 L117.8 679.1 L118.8 679.1 L119.8 679.1 L120.8 679.1 L121.8 679.2 L122.8 679.2 L123.8 679.2 L124.8 679.2 L125.8 679.2 L126.8 679.2 L127.8 679.3 L128.8 679.3 L129.8 679.3 L130.8 679.3 L131.8 679.3 L132.8 679.3 L133.8 679.4 L134.8 679.4 L135.8 679.4 L136.8 679.4 L137.8 679.4 L138.8 679.4 L139.8 679.5 L140.8 679.5 L141.8 679.5 L142.8 679.5 L143.8 679.5 L144.8 679.5 L145.8 679.6 L146.8 679.6 L147.8 679.6 L148.8 679.6 L149.8 679.6 L150.8 679.6 L151.8 679.6 L152.8 679.7 L153.8 679.7 L154.8 679.7 L155.8 679.7 L156.8 679.7 L157.8 679.7 L158.8 679.8 L159.8 679.8 L160.8 679.8 L161.8 679.8 L162.8 679.8 L163.8 679.8 L164.8 679.9 L165.8 679.9 L166.8 679.9 L167.8 679.9 L168.8 679.9 L169.8 679.9 L170.8 680 L171.8 680 L172.8 680 L173.8 680 L174.8 680 L175.8 680 L176.8 680 L177.8 680.1 L178.8 680.1 L179.8 680.1 L180.8 680.1 L181.8 680.1 L182.8 680.1 L183.8 680.2 L184.8 680.2 L185.8 680.2 L186.8 680.2 L187.8 680.2 L188.8 680.2 L189.8 680.3 L190.8 680.3 L191.8 680.3 L192.8 680.3 L193.8 680.3 L194.8 680.3 L195.8 680.4 L196.8 680.4 L197.8 680.4 L198.8 680.4 L199.8 680.4 L200.8 680.4 L201.8 680.4 L202.8 680.5 L203.8 680.5 L204.8 680.5 L205.8 680.5 L206.8 680.5 L207.8 680.5 L208.8 680.6 L209.8 680.6 L210.8 680.6 L211.8 680.6 L212.8 680.6 L213.8 680.6 L214.8 680.7 L215.8 680.7 L216.8 680.7 L217.8 680.7 L218.8 680.7 L219.8 680.7 L220.8 680.8 L221.8 680.8 L222.8 680.8 L223.8 680.8 L224.8 680.8 L225.8 680.8 L226.8 680.8 L227.8 680.9 L228.8 680.9 L229.8 680.9 L230.8 680.9 L231.8 680.9 L232.8 680.9 L233.8 681 L234.8 681 L235.8 681 L236.8 681 L237.8 681 L238.8 681 L239.8 681.1 L240.8 681.1 L241.8 681.1 L242.8 681.1 L243.8 681.1 L244.8 681.1 L245.8 681.2 L246.8 681.2 L247.8 681.2 L248.8 681.2 L249.8 681.2 L250.8 681.2 L251.8 681.2 L252.8 681.3 L253.8 681.3 L254.8 681.3 L255.8 681.3 L256.8 681.3 L257.8 681.3 L258.8 681.4 L259.8 681.4 L260.8 681.4 L261.8 681.4 L262.8 681.4 L263.8 681.4 L264.8 681.5 L265.8 681.5 L266.8 681.5 L267.8 681.5 L268.8 681.5 L269.8 681.5 L270.8 681.6 L271.8 681.6 L272.8 681.6 L273.8 681.6 L274.8 681.6 L275.8 681.6 L276.8 681.6 L277.8 681.7 L278.8 681.7 L279.8 681.7 L280.8 681.7 L281.8 681.7 L282.8 681.7 L283.8 681.8 L284.8 681.8 L285.8 681.8 L286.8 681.8 L287.8 681.8 L288.8 681.8 L289.8 681.9 L290.8 681.9 L291.8 681.9 L292.8 681.9 L293.8 681.9 L294.8 681.9 L295.8 682 L296.8 682 L297.8 682 L298.8 682 L299.8 682 L300.8 682 L301.8 682 L302.8 682.1 L303.8 682.1 L304.8 682.1 L305.8 682.1 L306.8 682.1 L307.8 682.1 L308.8 682.2 L309.8 682.2 L310.8 682.2 L311.8 682.2 L312.8 682.2 L313.8 682.2 L314.8 682.3 L315.8 682.3 L316.8 682.3 L317.8 682.3 L318.8 682.3 L319.8 682.3 L320.8 682.4 L321.8 682.4 L322.8 682.4 L323.8 682.4 L324.8 682.4 L325.8 682.4 L326.8 682.4 L327.8 682.5 L328.8 682.5 L329.8 682.5" fill="none" stroke="#111" stroke-width="1.2" stroke-linejoin="round"/>
<path d="M49.8 677.9 L50.8 677.9 L51.8 677.9 L52.8 677.9 L53.8 677.9 L54.8 678 L55.8 678 L56.8 678 L57.8 678 L58.8 678 L59.8 678 L60.8 678 L61.8 678.1 L62.8 678.1 L63.8 678.1 L64.8 678.1 L65.8 678.1 L66.8 678.1 L67.8 678.1 L68.8 678.2 L69.8 678.2 L70.8 678.2 L71.8 678.2 L72.8 678.2 L73.8 678.2 L74.8 678.2 L75.8 678.3 L76.8 678.3 L77.8 678.3 L78.8 678.3 L79.8 678.3 L80.8 678.3 L81.8 678.3 L82.8 678.3 L83.8 678.4 L84.8 678.4 L85.8 678.4 L86.8 678.4 L87.8 678.4 L88.8 678.4 L89.8 678.4 L90.8 678.5 L91.8 678.5 L92.8 678.5 L93.8 678.5 L94.8 678.5 L95.8 678.5 L96.8 678.5 L97.8 678.5 L98.8 678.5 L99.8 678.6 L100.8 678.6 L101.8 678.6 L102.8 678.6 L103.8 678.6 L104.8 678.6 L105.8 678.6 L106.8 678.6 L107.8 678.7 L108.8 678.7 L109.8 678.7 L110.8 678.7 L111.8 678.7 L112.8 678.7 L113.8 678.7 L114.8 678.7 L115.8 678.7 L116.8 678.7 L117.8 678.7 L118.8 678.8 L119.8 678.8 L120.8 678.8 L121.8 678.8 L122.8 678.8 L123.8 678.8 L124.8 678.8 L125.8 678.8 L126.8 678.8 L127.8 678.8 L128.8 678.8 L129.8 678.8 L130.8 678.8 L131.8 678.8 L132.8 678.8 L133.8 678.8 L134.8 678.8 L135.8 678.8 L136.8 678.8 L137.8 678.8 L138.8 678.8 L139.8 678.8 L140.8 678.8 L141.8 678.8 L142.8 678.8 L143.8 678.8 L144.8 678.8 L145.8 678.8 L146.8 678.8 L147.8 678.8 L148.8 678.7 L149.8 678.7 L150.8 678.7 L151.8 678.6 L152.8 678.6 L153.8 678.5 L154.8 678.4 L155.8 678.3 L156.8 678.2 L157.8 678 L158.8 677.9 L159.8 677.6 L160.8 677.3 L161.8 677 L162.8 676.5 L163.8 676 L164.8 675.4 L165.8 674.7 L166.8 673.9 L167.8 673 L168.8 671.9 L169.8 670.6 L170.8 669.2 L171.8 667.7 L172.8 666 L173.8 664.2 L174.8 662.3 L175.8 660.2 L176.8 658.1 L177.8 655.9 L178.8 653.6 L179.8 651.4 L180.8 649.3 L181.8 647.2 L182.8 645.3 L183.8 643.6 L184.8 642.1 L185.8 640.9 L186.8 640 L187.8 639.5 L188.8 639.4 L189.8 639.6 L190.8 640.3 L191.8 641.2 L192.8 642.5 L193.8 644 L194.8 645.8 L195.8 647.8 L196.8 649.8 L197.8 652 L198.8 654.1 L199.8 656.3 L200.8 658.4 L201.8 660.4 L202.8 662.3 L203.8 664.1 L204.8 665.7 L205.8 667.1 L206.8 668.4 L207.8 669.4 L208.8 670.3 L209.8 670.9 L210.8 671.4 L211.8 671.6 L212.8 671.7 L213.8 671.5 L214.8 671.2 L215.8 670.6 L216.8 669.8 L217.8 668.9 L218.8 667.7 L219.8 666.3 L220.8 664.6 L221.8 662.8 L222.8 660.7 L223.8 658.4 L224.8 655.9 L225.8 653.2 L226.8 650.3 L227.8 647.2 L228.8 643.9 L229.8 640.5 L230.8 636.9 L231.8 633.3 L232.8 629.6 L233.8 625.9 L234.8 622.2 L235.8 618.6 L236.8 615.1 L237.8 611.8 L238.8 608.7 L239.8 605.9 L240.8 603.5 L241.8 601.4 L242.8 599.8 L243.8 598.7 L244.8 598 L245.8 597.9 L246.8 598.3 L247.8 599.2 L248.8 600.6 L249.8 602.4 L250.8 604.7 L251.8 607.4 L252.8 610.3 L253.8 613.5 L254.8 617 L255.8 620.6 L256.8 624.3 L257.8 628.1 L258.8 631.8 L259.8 635.6 L260.8 639.2 L261.8 642.8 L262.8 646.3 L263.8 649.5 L264.8 652.7 L265.8 655.6 L266.8 658.3 L267.8 660.8 L268.8 663.2 L269.8 665.3 L270.8 667.2 L271.8 668.9 L272.8 670.5 L273.8 671.9 L274.8 673.1 L275.8 674.2 L276.8 675.1 L277.8 675.9 L278.8 676.6 L279.8 677.3 L280.8 677.8 L281.8 678.2 L282.8 678.6 L283.8 679 L284.8 679.3 L285.8 679.5 L286.8 679.7 L287.8 679.9 L288.8 680.1 L289.8 680.2 L290.8 680.3 L291.8 680.4 L292.8 680.5 L293.8 680.6 L294.8 680.7 L295.8 680.8 L296.8 680.8 L297.8 680.9 L298.8 681 L299.8 681 L300.8 681.1 L301.8 681.1 L302.8 681.2 L303.8 681.2 L304.8 681.2 L305.8 681.3 L306.8 681.3 L307.8 681.4 L308.8 681.4 L309.8 681.4 L310.8 681.5 L311.8 681.5 L312.8 681.5 L313.8 681.6 L314.8 681.6 L315.8 681.6 L316.8 681.7 L317.8 681.7 L318.8 681.7 L319.8 681.8 L320.8 681.8 L321.8 681.8 L322.8 681.9 L323.8 681.9 L324.8 681.9 L325.8 681.9 L326.8 682 L327.8 682 L328.8 682 L329.8 682.1" fill="none" stroke="#111" stroke-width="1.6" stroke-linejoin="round"/>
<path d="M59.8 782.5 L60.8 782.5 L61.8 782.5 L62.8 782.5 L63.8 782.4 L64.8 782.4 L65.8 782.4 L66.8 782.3 L67.8 782.2 L68.8 782.2 L69.8 782.1 L70.8 782 L71.8 781.9 L72.8 781.8 L73.8 781.7 L74.8 781.6 L75.8 781.5 L76.8 781.4 L77.8 781.3 L78.8 781.2 L79.8 781.1 L80.8 781 L81.8 780.9 L82.8 780.8 L83.8 780.7 L84.8 780.7 L85.8 780.6 L86.8 780.6 L87.8 780.6 L88.8 780.6 L89.8 780.6 L90.8 780.7 L91.8 780.8 L92.8 780.8 L93.8 780.9 L94.8 781 L95.8 781.2 L96.8 781.3 L97.8 781.4 L98.8 781.6 L99.8 781.7 L100.8 781.9 L101.8 782 L102.8 782.2 L103.8 782.3 L104.8 782.4 L105.8 782.6 L106.8 782.7 L107.8 782.8 L108.8 782.9 L109.8 783 L110.8 783.1 L111.8 783.2 L112.8 783.3 L113.8 783.3 L114.8 783.4 L115.8 783.5 L116.8 783.5 L117.8 783.6 L117.8 783.7 L116.8 783.7 L115.8 783.7 L114.8 783.7 L113.8 783.7 L112.8 783.6 L111.8 783.6 L110.8 783.6 L109.8 783.6 L108.8 783.6 L107.8 783.5 L106.8 783.5 L105.8 783.5 L104.8 783.5 L103.8 783.5 L102.8 783.5 L101.8 783.4 L100.8 783.4 L99.8 783.4 L98.8 783.4 L97.8 783.4 L96.8 783.4 L95.8 783.3 L94.8 783.3 L93.8 783.3 L92.8 783.3 L91.8 783.3 L90.8 783.2 L89.8 783.2 L88.8 783.2 L87.8 783.2 L86.8 783.2 L85.8 783.2 L84.8 783.1 L83.8 783.1 L82.8 783.1 L81.8 783.1 L80.8 783.1 L79.8 783 L78.8 783 L77.8 783 L76.8 783 L75.8 783 L74.8 783 L73.8 782.9 L72.8 782.9 L71.8 782.9 L70.8 782.9 L69.8 782.9 L68.8 782.9 L67.8 782.8 L66.8 782.8 L65.8 782.8 L64.8 782.8 L63.8 782.8 L62.8 782.7 L61.8 782.7 L60.8 782.7 L59.8 782.7Z" fill="#e3ad7e" stroke="none" stroke-width="0"/>
<path d="M92.8 783.1 L93.8 783.1 L94.8 783.2 L95.8 783.2 L96.8 783.2 L97.8 783.2 L98.8 783.2 L99.8 783.2 L100.8 783.2 L101.8 783.3 L102.8 783.3 L103.8 783.3 L104.8 783.3 L105.8 783.3 L106.8 783.3 L107.8 783.3 L108.8 783.3 L109.8 783.4 L110.8 783.4 L111.8 783.4 L112.8 783.4 L113.8 783.4 L114.8 783.4 L115.8 783.4 L116.8 783.4 L117.8 783.4 L118.8 783.4 L119.8 783.5 L120.8 783.5 L121.8 783.5 L122.8 783.5 L123.8 783.5 L124.8 783.5 L125.8 783.5 L126.8 783.5 L127.8 783.5 L128.8 783.5 L129.8 783.5 L130.8 783.5 L131.8 783.5 L132.8 783.5 L133.8 783.5 L134.8 783.5 L135.8 783.5 L136.8 783.5 L137.8 783.5 L138.8 783.5 L139.8 783.5 L140.8 783.5 L141.8 783.5 L142.8 783.4 L143.8 783.4 L144.8 783.4 L145.8 783.4 L146.8 783.3 L147.8 783.3 L148.8 783.3 L149.8 783.2 L150.8 783.2 L151.8 783.1 L152.8 783 L153.8 782.8 L154.8 782.7 L155.8 782.4 L156.8 782.2 L157.8 781.8 L158.8 781.3 L159.8 780.7 L160.8 779.9 L161.8 779 L162.8 777.8 L163.8 776.3 L164.8 774.5 L165.8 772.4 L166.8 769.9 L167.8 766.9 L168.8 763.6 L169.8 759.8 L170.8 755.6 L171.8 751.1 L172.8 746.2 L173.8 741.1 L174.8 735.9 L175.8 730.6 L176.8 725.4 L177.8 720.6 L178.8 716.1 L179.8 712.3 L180.8 709.3 L181.8 707.2 L182.8 706 L183.8 706 L184.8 707.1 L185.8 709.1 L186.8 712.1 L187.8 715.9 L188.8 720.3 L189.8 725.2 L190.8 730.4 L191.8 735.7 L192.8 741 L193.8 746.1 L194.8 751.1 L195.8 755.7 L196.8 759.9 L197.8 763.8 L198.8 767.2 L199.8 770.2 L200.8 772.8 L201.8 775 L202.8 776.8 L203.8 778.4 L204.8 779.6 L205.8 780.7 L206.8 781.5 L207.8 782.1 L208.8 782.7 L209.8 783.1 L210.8 783.4 L211.8 783.7 L212.8 783.9 L213.8 784 L214.8 784.2 L215.8 784.3 L216.8 784.4 L217.8 784.5 L218.8 784.6 L219.8 784.6 L220.8 784.7 L221.8 784.8 L222.8 784.8 L223.8 784.9 L224.8 784.9 L225.8 785 L226.8 785 L227.8 785.1 L228.8 785.1 L229.8 785.2 L230.8 785.2 L231.8 785.2 L232.8 785.3 L233.8 785.3 L234.8 785.3 L235.8 785.4 L236.8 785.4 L237.8 785.4 L238.8 785.5 L239.8 785.5 L240.8 785.5 L241.8 785.6 L242.8 785.6 L243.8 785.6 L244.8 785.7 L245.8 785.7 L246.8 785.7 L247.8 785.7 L248.8 785.8 L249.8 785.8 L250.8 785.8 L251.8 785.8 L252.8 785.9 L253.8 785.9 L254.8 785.9 L255.8 785.9 L256.8 786 L257.8 786 L258.8 786 L259.8 786 L260.8 786.1 L261.8 786.1 L262.8 786.1 L263.8 786.1 L264.8 786.2 L265.8 786.2 L266.8 786.2 L267.8 786.2 L268.8 786.2 L269.8 786.3 L270.8 786.3 L271.8 786.3 L272.8 786.3 L273.8 786.3 L273.8 786.5 L272.8 786.5 L271.8 786.5 L270.8 786.4 L269.8 786.4 L268.8 786.4 L267.8 786.4 L266.8 786.4 L265.8 786.4 L264.8 786.3 L263.8 786.3 L262.8 786.3 L261.8 786.3 L260.8 786.3 L259.8 786.3 L258.8 786.2 L257.8 786.2 L256.8 786.2 L255.8 786.2 L254.8 786.2 L253.8 786.1 L252.8 786.1 L251.8 786.1 L250.8 786.1 L249.8 786.1 L248.8 786.1 L247.8 786 L246.8 786 L245.8 786 L244.8 786 L243.8 786 L242.8 785.9 L241.8 785.9 L240.8 785.9 L239.8 785.9 L238.8 785.9 L237.8 785.9 L236.8 785.8 L235.8 785.8 L234.8 785.8 L233.8 785.8 L232.8 785.8 L231.8 785.8 L230.8 785.7 L229.8 785.7 L228.8 785.7 L227.8 785.7 L226.8 785.7 L225.8 785.6 L224.8 785.6 L223.8 785.6 L222.8 785.6 L221.8 785.6 L220.8 785.6 L219.8 785.5 L218.8 785.5 L217.8 785.5 L216.8 785.5 L215.8 785.5 L214.8 785.5 L213.8 785.4 L212.8 785.4 L211.8 785.4 L210.8 785.4 L209.8 785.4 L208.8 785.3 L207.8 785.3 L206.8 785.3 L205.8 785.3 L204.8 785.3 L203.8 785.3 L202.8 785.2 L201.8 785.2 L200.8 785.2 L199.8 785.2 L198.8 785.2 L197.8 785.1 L196.8 785.1 L195.8 785.1 L194.8 785.1 L193.8 785.1 L192.8 785.1 L191.8 785 L190.8 785 L189.8 785 L188.8 785 L187.8 785 L186.8 785 L185.8 784.9 L184.8 784.9 L183.8 784.9 L182.8 784.9 L181.8 784.9 L180.8 784.8 L179.8 784.8 L178.8 784.8 L177.8 784.8 L176.8 784.8 L175.8 784.8 L174.8 784.7 L173.8 784.7 L172.8 784.7 L171.8 784.7 L170.8 784.7 L169.8 784.6 L168.8 784.6 L167.8 784.6 L166.8 784.6 L165.8 784.6 L164.8 784.6 L163.8 784.5 L162.8 784.5 L161.8 784.5 L160.8 784.5 L159.8 784.5 L158.8 784.5 L157.8 784.4 L156.8 784.4 L155.8 784.4 L154.8 784.4 L153.8 784.4 L152.8 784.3 L151.8 784.3 L150.8 784.3 L149.8 784.3 L148.8 784.3 L147.8 784.3 L146.8 784.2 L145.8 784.2 L144.8 784.2 L143.8 784.2 L142.8 784.2 L141.8 784.2 L140.8 784.1 L139.8 784.1 L138.8 784.1 L137.8 784.1 L136.8 784.1 L135.8 784 L134.8 784 L133.8 784 L132.8 784 L131.8 784 L130.8 784 L129.8 783.9 L128.8 783.9 L127.8 783.9 L126.8 783.9 L125.8 783.9 L124.8 783.8 L123.8 783.8 L122.8 783.8 L121.8 783.8 L120.8 783.8 L119.8 783.8 L118.8 783.7 L117.8 783.7 L116.8 783.7 L115.8 783.7 L114.8 783.7 L113.8 783.7 L112.8 783.6 L111.8 783.6 L110.8 783.6 L109.8 783.6 L108.8 783.6 L107.8 783.5 L106.8 783.5 L105.8 783.5 L104.8 783.5 L103.8 783.5 L102.8 783.5 L101.8 783.4 L100.8 783.4 L99.8 783.4 L98.8 783.4 L97.8 783.4 L96.8 783.4 L95.8 783.3 L94.8 783.3 L93.8 783.3 L92.8 783.3Z" fill="url(#grn)" stroke="none" stroke-width="0"/>
<path d="M164.8 784.4 L165.8 784.4 L166.8 784.4 L167.8 784.5 L168.8 784.5 L169.8 784.5 L170.8 784.5 L171.8 784.5 L172.8 784.5 L173.8 784.5 L174.8 784.5 L175.8 784.6 L176.8 784.6 L177.8 784.6 L178.8 784.6 L179.8 784.6 L180.8 784.6 L181.8 784.6 L182.8 784.6 L183.8 784.6 L184.8 784.7 L185.8 784.7 L186.8 784.7 L187.8 784.7 L188.8 784.7 L189.8 784.7 L190.8 784.7 L191.8 784.7 L192.8 784.7 L193.8 784.7 L194.8 784.7 L195.8 784.7 L196.8 784.7 L197.8 784.7 L198.8 784.7 L199.8 784.7 L200.8 784.7 L201.8 784.7 L202.8 784.7 L203.8 784.7 L204.8 784.7 L205.8 784.7 L206.8 784.7 L207.8 784.7 L208.8 784.6 L209.8 784.6 L210.8 784.6 L211.8 784.5 L212.8 784.5 L213.8 784.4 L214.8 784.3 L215.8 784.2 L216.8 784 L217.8 783.8 L218.8 783.5 L219.8 783.2 L220.8 782.7 L221.8 782.2 L222.8 781.5 L223.8 780.7 L224.8 779.7 L225.8 778.6 L226.8 777.2 L227.8 775.6 L228.8 773.7 L229.8 771.6 L230.8 769.3 L231.8 766.7 L232.8 763.9 L233.8 760.9 L234.8 757.7 L235.8 754.4 L236.8 751.1 L237.8 747.7 L238.8 744.5 L239.8 741.5 L240.8 738.7 L241.8 736.3 L242.8 734.4 L243.8 733 L244.8 732.2 L245.8 732 L246.8 732.5 L247.8 733.6 L248.8 735.2 L249.8 737.4 L250.8 740 L251.8 742.9 L252.8 746.1 L253.8 749.4 L254.8 752.8 L255.8 756.2 L256.8 759.4 L257.8 762.6 L258.8 765.6 L259.8 768.3 L260.8 770.9 L261.8 773.1 L262.8 775.2 L263.8 776.9 L264.8 778.5 L265.8 779.8 L266.8 780.9 L267.8 781.9 L268.8 782.6 L269.8 783.3 L270.8 783.8 L271.8 784.2 L272.8 784.6 L273.8 784.9 L274.8 785.1 L275.8 785.3 L276.8 785.4 L277.8 785.6 L278.8 785.7 L279.8 785.8 L280.8 785.8 L281.8 785.9 L282.8 786 L283.8 786 L284.8 786.1 L285.8 786.1 L286.8 786.2 L287.8 786.2 L288.8 786.3 L289.8 786.3 L290.8 786.3 L291.8 786.4 L292.8 786.4 L293.8 786.4 L294.8 786.5 L295.8 786.5 L296.8 786.5 L297.8 786.6 L298.8 786.6 L299.8 786.6 L300.8 786.7 L301.8 786.7 L302.8 786.7 L303.8 786.7 L304.8 786.8 L305.8 786.8 L306.8 786.8 L307.8 786.9 L308.8 786.9 L309.8 786.9 L310.8 786.9 L311.8 787 L312.8 787 L313.8 787 L314.8 787 L315.8 787 L316.8 787.1 L317.8 787.1 L318.8 787.1 L319.8 787.1 L320.8 787.2 L321.8 787.2 L322.8 787.2 L323.8 787.2 L324.8 787.3 L325.8 787.3 L325.8 787.4 L324.8 787.4 L323.8 787.4 L322.8 787.4 L321.8 787.4 L320.8 787.3 L319.8 787.3 L318.8 787.3 L317.8 787.3 L316.8 787.3 L315.8 787.2 L314.8 787.2 L313.8 787.2 L312.8 787.2 L311.8 787.2 L310.8 787.2 L309.8 787.1 L308.8 787.1 L307.8 787.1 L306.8 787.1 L305.8 787.1 L304.8 787.1 L303.8 787 L302.8 787 L301.8 787 L300.8 787 L299.8 787 L298.8 786.9 L297.8 786.9 L296.8 786.9 L295.8 786.9 L294.8 786.9 L293.8 786.9 L292.8 786.8 L291.8 786.8 L290.8 786.8 L289.8 786.8 L288.8 786.8 L287.8 786.7 L286.8 786.7 L285.8 786.7 L284.8 786.7 L283.8 786.7 L282.8 786.7 L281.8 786.6 L280.8 786.6 L279.8 786.6 L278.8 786.6 L277.8 786.6 L276.8 786.6 L275.8 786.5 L274.8 786.5 L273.8 786.5 L272.8 786.5 L271.8 786.5 L270.8 786.4 L269.8 786.4 L268.8 786.4 L267.8 786.4 L266.8 786.4 L265.8 786.4 L264.8 786.3 L263.8 786.3 L262.8 786.3 L261.8 786.3 L260.8 786.3 L259.8 786.3 L258.8 786.2 L257.8 786.2 L256.8 786.2 L255.8 786.2 L254.8 786.2 L253.8 786.1 L252.8 786.1 L251.8 786.1 L250.8 786.1 L249.8 786.1 L248.8 786.1 L247.8 786 L246.8 786 L245.8 786 L244.8 786 L243.8 786 L242.8 785.9 L241.8 785.9 L240.8 785.9 L239.8 785.9 L238.8 785.9 L237.8 785.9 L236.8 785.8 L235.8 785.8 L234.8 785.8 L233.8 785.8 L232.8 785.8 L231.8 785.8 L230.8 785.7 L229.8 785.7 L228.8 785.7 L227.8 785.7 L226.8 785.7 L225.8 785.6 L224.8 785.6 L223.8 785.6 L222.8 785.6 L221.8 785.6 L220.8 785.6 L219.8 785.5 L218.8 785.5 L217.8 785.5 L216.8 785.5 L215.8 785.5 L214.8 785.5 L213.8 785.4 L212.8 785.4 L211.8 785.4 L210.8 785.4 L209.8 785.4 L208.8 785.3 L207.8 785.3 L206.8 785.3 L205.8 785.3 L204.8 785.3 L203.8 785.3 L202.8 785.2 L201.8 785.2 L200.8 785.2 L199.8 785.2 L198.8 785.2 L197.8 785.1 L196.8 785.1 L195.8 785.1 L194.8 785.1 L193.8 785.1 L192.8 785.1 L191.8 785 L190.8 785 L189.8 785 L188.8 785 L187.8 785 L186.8 785 L185.8 784.9 L184.8 784.9 L183.8 784.9 L182.8 784.9 L181.8 784.9 L180.8 784.8 L179.8 784.8 L178.8 784.8 L177.8 784.8 L176.8 784.8 L175.8 784.8 L174.8 784.7 L173.8 784.7 L172.8 784.7 L171.8 784.7 L170.8 784.7 L169.8 784.6 L168.8 784.6 L167.8 784.6 L166.8 784.6 L165.8 784.6 L164.8 784.6Z" fill="url(#lav)" stroke="none" stroke-width="0"/>
<path d="M63.8 782.4 L64.8 782.4 L65.8 782.4 L66.8 782.3 L67.8 782.2 L68.8 782.2 L69.8 782.1 L70.8 782 L71.8 781.9 L72.8 781.8 L73.8 781.7 L74.8 781.6 L75.8 781.5 L76.8 781.4 L77.8 781.3 L78.8 781.2 L79.8 781.1 L80.8 781 L81.8 780.9 L82.8 780.8 L83.8 780.7 L84.8 780.7 L85.8 780.6 L86.8 780.6 L87.8 780.6 L88.8 780.6 L89.8 780.6 L90.8 780.7 L91.8 780.8 L92.8 780.8 L93.8 780.9 L94.8 781 L95.8 781.2 L96.8 781.3 L97.8 781.4 L98.8 781.6 L99.8 781.7 L100.8 781.9 L101.8 782 L102.8 782.2 L103.8 782.3 L104.8 782.4 L105.8 782.6 L106.8 782.7 L107.8 782.8 L108.8 782.9 L109.8 783 L110.8 783.1 L111.8 783.2 L112.8 783.3 L113.8 783.3" fill="none" stroke="#c08050" stroke-width="0.8" stroke-linejoin="round"/>
<path d="M119.8 783.5 L120.8 783.5 L121.8 783.5 L122.8 783.5 L123.8 783.5 L124.8 783.5 L125.8 783.5 L126.8 783.5 L127.8 783.5 L128.8 783.5 L129.8 783.5 L130.8 783.5 L131.8 783.5 L132.8 783.5 L133.8 783.5 L134.8 783.5 L135.8 783.5 L136.8 783.5 L137.8 783.5 L138.8 783.5 L139.8 783.5 L140.8 783.5 L141.8 783.5 L142.8 783.4 L143.8 783.4 L144.8 783.4 L145.8 783.4 L146.8 783.3 L147.8 783.3 L148.8 783.3 L149.8 783.2 L150.8 783.2 L151.8 783.1 L152.8 783 L153.8 782.8 L154.8 782.7 L155.8 782.4 L156.8 782.2 L157.8 781.8 L158.8 781.3 L159.8 780.7 L160.8 779.9 L161.8 779 L162.8 777.8 L163.8 776.3 L164.8 774.5 L165.8 772.4 L166.8 769.9 L167.8 766.9 L168.8 763.6 L169.8 759.8 L170.8 755.6 L171.8 751.1 L172.8 746.2 L173.8 741.1 L174.8 735.9 L175.8 730.6 L176.8 725.4 L177.8 720.6 L178.8 716.1 L179.8 712.3 L180.8 709.3 L181.8 707.2 L182.8 706 L183.8 706 L184.8 707.1 L185.8 709.1 L186.8 712.1 L187.8 715.9 L188.8 720.3 L189.8 725.2 L190.8 730.4 L191.8 735.7 L192.8 741 L193.8 746.1 L194.8 751.1 L195.8 755.7 L196.8 759.9 L197.8 763.8 L198.8 767.2 L199.8 770.2 L200.8 772.8 L201.8 775 L202.8 776.8 L203.8 778.4 L204.8 779.6 L205.8 780.7 L206.8 781.5 L207.8 782.1 L208.8 782.7 L209.8 783.1 L210.8 783.4 L211.8 783.7 L212.8 783.9 L213.8 784 L214.8 784.2 L215.8 784.3 L216.8 784.4 L217.8 784.5 L218.8 784.6 L219.8 784.6 L220.8 784.7 L221.8 784.8 L222.8 784.8 L223.8 784.9 L224.8 784.9 L225.8 785 L226.8 785 L227.8 785.1 L228.8 785.1 L229.8 785.2 L230.8 785.2 L231.8 785.2 L232.8 785.3 L233.8 785.3 L234.8 785.3 L235.8 785.4 L236.8 785.4 L237.8 785.4 L238.8 785.5 L239.8 785.5 L240.8 785.5 L241.8 785.6 L242.8 785.6 L243.8 785.6 L244.8 785.7 L245.8 785.7 L246.8 785.7" fill="none" stroke="#9cc58a" stroke-width="0.8" stroke-linejoin="round"/>
<path d="M189.8 784.7 L190.8 784.7 L191.8 784.7 L192.8 784.7 L193.8 784.7 L194.8 784.7 L195.8 784.7 L196.8 784.7 L197.8 784.7 L198.8 784.7 L199.8 784.7 L200.8 784.7 L201.8 784.7 L202.8 784.7 L203.8 784.7 L204.8 784.7 L205.8 784.7 L206.8 784.7 L207.8 784.7 L208.8 784.6 L209.8 784.6 L210.8 784.6 L211.8 784.5 L212.8 784.5 L213.8 784.4 L214.8 784.3 L215.8 784.2 L216.8 784 L217.8 783.8 L218.8 783.5 L219.8 783.2 L220.8 782.7 L221.8 782.2 L222.8 781.5 L223.8 780.7 L224.8 779.7 L225.8 778.6 L226.8 777.2 L227.8 775.6 L228.8 773.7 L229.8 771.6 L230.8 769.3 L231.8 766.7 L232.8 763.9 L233.8 760.9 L234.8 757.7 L235.8 754.4 L236.8 751.1 L237.8 747.7 L238.8 744.5 L239.8 741.5 L240.8 738.7 L241.8 736.3 L242.8 734.4 L243.8 733 L244.8 732.2 L245.8 732 L246.8 732.5 L247.8 733.6 L248.8 735.2 L249.8 737.4 L250.8 740 L251.8 742.9 L252.8 746.1 L253.8 749.4 L254.8 752.8 L255.8 756.2 L256.8 759.4 L257.8 762.6 L258.8 765.6 L259.8 768.3 L260.8 770.9 L261.8 773.1 L262.8 775.2 L263.8 776.9 L264.8 778.5 L265.8 779.8 L266.8 780.9 L267.8 781.9 L268.8 782.6 L269.8 783.3 L270.8 783.8 L271.8 784.2 L272.8 784.6 L273.8 784.9 L274.8 785.1 L275.8 785.3 L276.8 785.4 L277.8 785.6 L278.8 785.7 L279.8 785.8 L280.8 785.8 L281.8 785.9 L282.8 786 L283.8 786 L284.8 786.1 L285.8 786.1 L286.8 786.2 L287.8 786.2 L288.8 786.3 L289.8 786.3 L290.8 786.3 L291.8 786.4 L292.8 786.4 L293.8 786.4 L294.8 786.5 L295.8 786.5 L296.8 786.5 L297.8 786.6 L298.8 786.6 L299.8 786.6 L300.8 786.7 L301.8 786.7" fill="none" stroke="#9ea6d6" stroke-width="0.8" stroke-linejoin="round"/>
<path d="M49.8 781.4 L50.8 782.1 L51.8 781.2 L52.8 780.7 L53.8 781.9 L54.8 782.2 L55.8 782.4 L56.8 781.4 L57.8 782.2 L58.8 781 L59.8 781 L60.8 782 L61.8 780.5 L62.8 782.3 L63.8 780.8 L64.8 782.9 L65.8 782.6 L66.8 781.8 L67.8 780.6 L68.8 780.5 L69.8 780.8 L70.8 781.7 L71.8 781.8 L72.8 781.7 L73.8 780.6 L74.8 781.1 L75.8 781.5 L76.8 780.3 L77.8 781.2 L78.8 780.9 L79.8 779 L80.8 780 L81.8 781.4 L82.8 780.5 L83.8 780.3 L84.8 780.6 L85.8 778.8 L86.8 779.4 L87.8 778.7 L88.8 780.2 L89.8 779.7 L90.8 780.9 L91.8 780.1 L92.8 778.6 L93.8 780.7 L94.8 780.8 L95.8 779.6 L96.8 781.1 L97.8 779.2 L98.8 782.2 L99.8 781.5 L100.8 780.6 L101.8 781.5 L102.8 781.9 L103.8 782.3 L104.8 780.6 L105.8 781.7 L106.8 783.2 L107.8 782.3 L108.8 781.7 L109.8 781.4 L110.8 781.5 L111.8 782.9 L112.8 783 L113.8 783.8 L114.8 782.8 L115.8 783.9 L116.8 783.1 L117.8 783.2 L118.8 781.9 L119.8 782.7 L120.8 783.4 L121.8 782.8 L122.8 783.7 L123.8 783.2 L124.8 781.4 L125.8 782.8 L126.8 783.3 L127.8 783 L128.8 783.2 L129.8 783.4 L130.8 783.5 L131.8 781.8 L132.8 783.2 L133.8 783.2 L134.8 781.6 L135.8 783.7 L136.8 782 L137.8 783.3 L138.8 782.9 L139.8 782.2 L140.8 781.4 L141.8 782.9 L142.8 781.8 L143.8 783.2 L144.8 782.8 L145.8 783.4 L146.8 783.5 L147.8 782.4 L148.8 784.1 L149.8 784 L150.8 781.5 L151.8 782.3 L152.8 782.4 L153.8 782.9 L154.8 782.6 L155.8 781.7 L156.8 782.9 L157.8 780.9 L158.8 781.1 L159.8 778.7 L160.8 780.1 L161.8 778.8 L162.8 777.9 L163.8 776.2 L164.8 774.3 L165.8 771.3 L166.8 769.5 L167.8 765.1 L168.8 762.6 L169.8 759.2 L170.8 755.8 L171.8 750.7 L172.8 745.8 L173.8 739.9 L174.8 735.8 L175.8 730.3 L176.8 726.1 L177.8 720.3 L178.8 716 L179.8 712.8 L180.8 708.6 L181.8 705.4 L182.8 706.2 L183.8 704.7 L184.8 705.3 L185.8 709.3 L186.8 711.8 L187.8 715.6 L188.8 719.8 L189.8 723.7 L190.8 729.1 L191.8 735.6 L192.8 739.1 L193.8 745.3 L194.8 750.7 L195.8 754.3 L196.8 758.3 L197.8 762.8 L198.8 766.8 L199.8 768 L200.8 770.8 L201.8 774.4 L202.8 776.5 L203.8 778.5 L204.8 777.4 L205.8 779.8 L206.8 781.4 L207.8 781 L208.8 782 L209.8 783 L210.8 783.2 L211.8 782.8 L212.8 783.1 L213.8 783.6 L214.8 781.6 L215.8 781.6 L216.8 783.6 L217.8 782.8 L218.8 782 L219.8 780.9 L220.8 781.9 L221.8 781.5 L222.8 778.9 L223.8 779 L224.8 777.1 L225.8 776.1 L226.8 774.6 L227.8 773.1 L228.8 773.1 L229.8 769.9 L230.8 767.9 L231.8 765.8 L232.8 763.2 L233.8 760.4 L234.8 756.5 L235.8 752.7 L236.8 750.2 L237.8 746.3 L238.8 744.2 L239.8 739.9 L240.8 738 L241.8 735.5 L242.8 734 L243.8 730.8 L244.8 730.2 L245.8 731.4 L246.8 732.2 L247.8 732.8 L248.8 733.9 L249.8 736.6 L250.8 740 L251.8 741.3 L252.8 745.8 L253.8 748.2 L254.8 753.2 L255.8 754.9 L256.8 759.1 L257.8 762.2 L258.8 763.8 L259.8 767.6 L260.8 770.5 L261.8 772.3 L262.8 773.9 L263.8 777.3 L264.8 778.2 L265.8 779.7 L266.8 780 L267.8 781.8 L268.8 782.7 L269.8 783.6 L270.8 784 L271.8 782.4 L272.8 783.3 L273.8 783.2 L274.8 785.7 L275.8 784.5 L276.8 785.1 L277.8 784.1 L278.8 784.6 L279.8 785.6 L280.8 785.5 L281.8 785 L282.8 785.7 L283.8 784.8 L284.8 785.5 L285.8 785.5 L286.8 786.3 L287.8 785.3 L288.8 786.8 L289.8 785.8 L290.8 786.4 L291.8 787 L292.8 786.5 L293.8 785.6 L294.8 786.2 L295.8 785.9 L296.8 786.1 L297.8 786 L298.8 785.9 L299.8 785.6 L300.8 786.1 L301.8 786.6 L302.8 786.5 L303.8 786.6 L304.8 786.5 L305.8 785.4 L306.8 787.3 L307.8 786.6 L308.8 786.8 L309.8 784.8 L310.8 787.3 L311.8 787.3 L312.8 785.1 L313.8 786.9 L314.8 786.9 L315.8 786.2 L316.8 787.5 L317.8 786.9 L318.8 785.8 L319.8 787.7 L320.8 787 L321.8 786.8 L322.8 785.3 L323.8 786 L324.8 786.1 L325.8 787.2 L326.8 785.7 L327.8 787.3 L328.8 785.9 L329.8 786.8" fill="none" stroke="#8c8c8c" stroke-width="0.8" stroke-linejoin="round"/>
<path d="M49.8 782.5 L50.8 782.5 L51.8 782.5 L52.8 782.6 L53.8 782.6 L54.8 782.6 L55.8 782.6 L56.8 782.6 L57.8 782.7 L58.8 782.7 L59.8 782.7 L60.8 782.7 L61.8 782.7 L62.8 782.7 L63.8 782.8 L64.8 782.8 L65.8 782.8 L66.8 782.8 L67.8 782.8 L68.8 782.9 L69.8 782.9 L70.8 782.9 L71.8 782.9 L72.8 782.9 L73.8 782.9 L74.8 783 L75.8 783 L76.8 783 L77.8 783 L78.8 783 L79.8 783 L80.8 783.1 L81.8 783.1 L82.8 783.1 L83.8 783.1 L84.8 783.1 L85.8 783.2 L86.8 783.2 L87.8 783.2 L88.8 783.2 L89.8 783.2 L90.8 783.2 L91.8 783.3 L92.8 783.3 L93.8 783.3 L94.8 783.3 L95.8 783.3 L96.8 783.4 L97.8 783.4 L98.8 783.4 L99.8 783.4 L100.8 783.4 L101.8 783.4 L102.8 783.5 L103.8 783.5 L104.8 783.5 L105.8 783.5 L106.8 783.5 L107.8 783.5 L108.8 783.6 L109.8 783.6 L110.8 783.6 L111.8 783.6 L112.8 783.6 L113.8 783.7 L114.8 783.7 L115.8 783.7 L116.8 783.7 L117.8 783.7 L118.8 783.7 L119.8 783.8 L120.8 783.8 L121.8 783.8 L122.8 783.8 L123.8 783.8 L124.8 783.8 L125.8 783.9 L126.8 783.9 L127.8 783.9 L128.8 783.9 L129.8 783.9 L130.8 784 L131.8 784 L132.8 784 L133.8 784 L134.8 784 L135.8 784 L136.8 784.1 L137.8 784.1 L138.8 784.1 L139.8 784.1 L140.8 784.1 L141.8 784.2 L142.8 784.2 L143.8 784.2 L144.8 784.2 L145.8 784.2 L146.8 784.2 L147.8 784.3 L148.8 784.3 L149.8 784.3 L150.8 784.3 L151.8 784.3 L152.8 784.3 L153.8 784.4 L154.8 784.4 L155.8 784.4 L156.8 784.4 L157.8 784.4 L158.8 784.5 L159.8 784.5 L160.8 784.5 L161.8 784.5 L162.8 784.5 L163.8 784.5 L164.8 784.6 L165.8 784.6 L166.8 784.6 L167.8 784.6 L168.8 784.6 L169.8 784.6 L170.8 784.7 L171.8 784.7 L172.8 784.7 L173.8 784.7 L174.8 784.7 L175.8 784.8 L176.8 784.8 L177.8 784.8 L178.8 784.8 L179.8 784.8 L180.8 784.8 L181.8 784.9 L182.8 784.9 L183.8 784.9 L184.8 784.9 L185.8 784.9 L186.8 785 L187.8 785 L188.8 785 L189.8 785 L190.8 785 L191.8 785 L192.8 785.1 L193.8 785.1 L194.8 785.1 L195.8 785.1 L196.8 785.1 L197.8 785.1 L198.8 785.2 L199.8 785.2 L200.8 785.2 L201.8 785.2 L202.8 785.2 L203.8 785.3 L204.8 785.3 L205.8 785.3 L206.8 785.3 L207.8 785.3 L208.8 785.3 L209.8 785.4 L210.8 785.4 L211.8 785.4 L212.8 785.4 L213.8 785.4 L214.8 785.5 L215.8 785.5 L216.8 785.5 L217.8 785.5 L218.8 785.5 L219.8 785.5 L220.8 785.6 L221.8 785.6 L222.8 785.6 L223.8 785.6 L224.8 785.6 L225.8 785.6 L226.8 785.7 L227.8 785.7 L228.8 785.7 L229.8 785.7 L230.8 785.7 L231.8 785.8 L232.8 785.8 L233.8 785.8 L234.8 785.8 L235.8 785.8 L236.8 785.8 L237.8 785.9 L238.8 785.9 L239.8 785.9 L240.8 785.9 L241.8 785.9 L242.8 785.9 L243.8 786 L244.8 786 L245.8 786 L246.8 786 L247.8 786 L248.8 786.1 L249.8 786.1 L250.8 786.1 L251.8 786.1 L252.8 786.1 L253.8 786.1 L254.8 786.2 L255.8 786.2 L256.8 786.2 L257.8 786.2 L258.8 786.2 L259.8 786.3 L260.8 786.3 L261.8 786.3 L262.8 786.3 L263.8 786.3 L264.8 786.3 L265.8 786.4 L266.8 786.4 L267.8 786.4 L268.8 786.4 L269.8 786.4 L270.8 786.4 L271.8 786.5 L272.8 786.5 L273.8 786.5 L274.8 786.5 L275.8 786.5 L276.8 786.6 L277.8 786.6 L278.8 786.6 L279.8 786.6 L280.8 786.6 L281.8 786.6 L282.8 786.7 L283.8 786.7 L284.8 786.7 L285.8 786.7 L286.8 786.7 L287.8 786.7 L288.8 786.8 L289.8 786.8 L290.8 786.8 L291.8 786.8 L292.8 786.8 L293.8 786.9 L294.8 786.9 L295.8 786.9 L296.8 786.9 L297.8 786.9 L298.8 786.9 L299.8 787 L300.8 787 L301.8 787 L302.8 787 L303.8 787 L304.8 787.1 L305.8 787.1 L306.8 787.1 L307.8 787.1 L308.8 787.1 L309.8 787.1 L310.8 787.2 L311.8 787.2 L312.8 787.2 L313.8 787.2 L314.8 787.2 L315.8 787.2 L316.8 787.3 L317.8 787.3 L318.8 787.3 L319.8 787.3 L320.8 787.3 L321.8 787.4 L322.8 787.4 L323.8 787.4 L324.8 787.4 L325.8 787.4 L326.8 787.4 L327.8 787.5 L328.8 787.5 L329.8 787.5" fill="none" stroke="#111" stroke-width="1.2" stroke-linejoin="round"/>
<path d="M49.8 782.4 L50.8 782.4 L51.8 782.4 L52.8 782.4 L53.8 782.4 L54.8 782.4 L55.8 782.4 L56.8 782.4 L57.8 782.4 L58.8 782.4 L59.8 782.4 L60.8 782.4 L61.8 782.4 L62.8 782.3 L63.8 782.3 L64.8 782.3 L65.8 782.2 L66.8 782.2 L67.8 782.1 L68.8 782.1 L69.8 782 L70.8 781.9 L71.8 781.8 L72.8 781.7 L73.8 781.6 L74.8 781.5 L75.8 781.4 L76.8 781.3 L77.8 781.2 L78.8 781 L79.8 780.9 L80.8 780.8 L81.8 780.7 L82.8 780.6 L83.8 780.6 L84.8 780.5 L85.8 780.5 L86.8 780.4 L87.8 780.4 L88.8 780.4 L89.8 780.5 L90.8 780.5 L91.8 780.6 L92.8 780.6 L93.8 780.7 L94.8 780.8 L95.8 781 L96.8 781.1 L97.8 781.2 L98.8 781.4 L99.8 781.5 L100.8 781.6 L101.8 781.8 L102.8 781.9 L103.8 782.1 L104.8 782.2 L105.8 782.3 L106.8 782.4 L107.8 782.5 L108.8 782.6 L109.8 782.7 L110.8 782.8 L111.8 782.9 L112.8 783 L113.8 783 L114.8 783.1 L115.8 783.1 L116.8 783.2 L117.8 783.2 L118.8 783.2 L119.8 783.3 L120.8 783.3 L121.8 783.3 L122.8 783.3 L123.8 783.4 L124.8 783.4 L125.8 783.4 L126.8 783.4 L127.8 783.4 L128.8 783.4 L129.8 783.4 L130.8 783.4 L131.8 783.4 L132.8 783.4 L133.8 783.4 L134.8 783.4 L135.8 783.4 L136.8 783.4 L137.8 783.4 L138.8 783.4 L139.8 783.4 L140.8 783.4 L141.8 783.3 L142.8 783.3 L143.8 783.3 L144.8 783.3 L145.8 783.3 L146.8 783.2 L147.8 783.2 L148.8 783.2 L149.8 783.1 L150.8 783 L151.8 782.9 L152.8 782.8 L153.8 782.7 L154.8 782.5 L155.8 782.3 L156.8 782 L157.8 781.6 L158.8 781.2 L159.8 780.6 L160.8 779.8 L161.8 778.8 L162.8 777.6 L163.8 776.1 L164.8 774.4 L165.8 772.2 L166.8 769.7 L167.8 766.8 L168.8 763.4 L169.8 759.6 L170.8 755.5 L171.8 750.9 L172.8 746 L173.8 740.9 L174.8 735.7 L175.8 730.4 L176.8 725.2 L177.8 720.4 L178.8 715.9 L179.8 712.1 L180.8 709 L181.8 706.9 L182.8 705.8 L183.8 705.8 L184.8 706.8 L185.8 708.9 L186.8 711.8 L187.8 715.6 L188.8 720 L189.8 724.9 L190.8 730 L191.8 735.3 L192.8 740.6 L193.8 745.8 L194.8 750.7 L195.8 755.3 L196.8 759.5 L197.8 763.4 L198.8 766.8 L199.8 769.7 L200.8 772.3 L201.8 774.5 L202.8 776.3 L203.8 777.8 L204.8 779.1 L205.8 780.1 L206.8 780.8 L207.8 781.5 L208.8 781.9 L209.8 782.3 L210.8 782.6 L211.8 782.8 L212.8 782.9 L213.8 783 L214.8 783 L215.8 783 L216.8 782.9 L217.8 782.8 L218.8 782.5 L219.8 782.3 L220.8 781.9 L221.8 781.4 L222.8 780.7 L223.8 780 L224.8 779 L225.8 777.9 L226.8 776.5 L227.8 775 L228.8 773.1 L229.8 771.1 L230.8 768.8 L231.8 766.2 L232.8 763.4 L233.8 760.4 L234.8 757.2 L235.8 754 L236.8 750.6 L237.8 747.3 L238.8 744.1 L239.8 741.1 L240.8 738.3 L241.8 736 L242.8 734 L243.8 732.6 L244.8 731.9 L245.8 731.7 L246.8 732.2 L247.8 733.3 L248.8 735 L249.8 737.1 L250.8 739.7 L251.8 742.7 L252.8 745.8 L253.8 749.2 L254.8 752.5 L255.8 755.9 L256.8 759.2 L257.8 762.4 L258.8 765.3 L259.8 768.1 L260.8 770.6 L261.8 772.9 L262.8 775 L263.8 776.7 L264.8 778.3 L265.8 779.6 L266.8 780.7 L267.8 781.7 L268.8 782.5 L269.8 783.1 L270.8 783.6 L271.8 784.1 L272.8 784.4 L273.8 784.7 L274.8 785 L275.8 785.1 L276.8 785.3 L277.8 785.4 L278.8 785.5 L279.8 785.6 L280.8 785.7 L281.8 785.8 L282.8 785.8 L283.8 785.9 L284.8 786 L285.8 786 L286.8 786.1 L287.8 786.1 L288.8 786.1 L289.8 786.2 L290.8 786.2 L291.8 786.3 L292.8 786.3 L293.8 786.3 L294.8 786.4 L295.8 786.4 L296.8 786.4 L297.8 786.5 L298.8 786.5 L299.8 786.5 L300.8 786.6 L301.8 786.6 L302.8 786.6 L303.8 786.7 L304.8 786.7 L305.8 786.7 L306.8 786.7 L307.8 786.8 L308.8 786.8 L309.8 786.8 L310.8 786.9 L311.8 786.9 L312.8 786.9 L313.8 786.9 L314.8 787 L315.8 787 L316.8 787 L317.8 787 L318.8 787 L319.8 787.1 L320.8 787.1 L321.8 787.1 L322.8 787.1 L323.8 787.2 L324.8 787.2 L325.8 787.2 L326.8 787.2 L327.8 787.3 L328.8 787.3 L329.8 787.3" fill="none" stroke="#111" stroke-width="1.6" stroke-linejoin="round"/>
<rect x="49" y="571.3" width="281.3" height="226.5" fill="none" stroke="#000" stroke-width="1.6"/>
<line x1="66.8" y1="797.8" x2="66.8" y2="801.3" stroke="#000" stroke-width="1.5" stroke-linecap="butt"/>
<line x1="154.4" y1="797.8" x2="154.4" y2="801.3" stroke="#000" stroke-width="1.5" stroke-linecap="butt"/>
<line x1="242.1" y1="797.8" x2="242.1" y2="801.3" stroke="#000" stroke-width="1.5" stroke-linecap="butt"/>
<line x1="329.8" y1="797.8" x2="329.8" y2="801.3" stroke="#000" stroke-width="1.5" stroke-linecap="butt"/>
<line x1="110.6" y1="797.8" x2="110.6" y2="800" stroke="#000" stroke-width="1.3" stroke-linecap="butt"/>
<line x1="198.2" y1="797.8" x2="198.2" y2="800" stroke="#000" stroke-width="1.3" stroke-linecap="butt"/>
<line x1="285.9" y1="797.8" x2="285.9" y2="800" stroke="#000" stroke-width="1.3" stroke-linecap="butt"/>
<text transform="translate(66.75 819.5) scale(1 1.09)" font-size="13.5" font-weight="bold" text-anchor="middle" fill="#231f20"><tspan>295</tspan></text>
<text transform="translate(154.42 819.5) scale(1 1.09)" font-size="13.5" font-weight="bold" text-anchor="middle" fill="#231f20"><tspan>290</tspan></text>
<text transform="translate(242.08 819.5) scale(1 1.09)" font-size="13.5" font-weight="bold" text-anchor="middle" fill="#231f20"><tspan>285</tspan></text>
<text transform="translate(329.75 819.5) scale(1 1.09)" font-size="13.5" font-weight="bold" text-anchor="middle" fill="#231f20"><tspan>280</tspan></text>
<text transform="translate(173.5 841.5) scale(1 1.09)" font-size="14" font-weight="bold" text-anchor="middle" fill="#231f20"><tspan>Binding energy (eV)</tspan></text>
<text transform="translate(38.6 680) rotate(-90) scale(1 1.09)" font-size="14" font-weight="bold" text-anchor="middle" fill="#231f20"><tspan>Intensity (arb.u.)</tspan></text>
<text transform="translate(57 582.5) scale(1 1.09)" font-size="7.8" font-weight="bold" text-anchor="start" fill="#231f20"><tspan>C 1s</tspan></text>
<text transform="translate(57 691.5) scale(1 1.09)" font-size="7.8" font-weight="bold" text-anchor="start" fill="#231f20"><tspan>Cu</tspan><tspan dy="2.2" font-size="5.3">2</tspan><tspan dy="-2.2">O/g-C</tspan><tspan dy="2.2" font-size="5.3">3</tspan><tspan dy="-2.2">N</tspan><tspan dy="2.2" font-size="5.3">4</tspan><tspan dy="-2.2">-0.2</tspan></text>
<text transform="translate(57 792.3) scale(1 1.09)" font-size="7.8" font-weight="bold" text-anchor="start" fill="#231f20"><tspan>g-C</tspan><tspan dy="2.2" font-size="5.3">3</tspan><tspan dy="-2.2">N</tspan><tspan dy="2.2" font-size="5.3">4</tspan><tspan dy="-2.2"> NSs</tspan></text>
<text transform="translate(249.6 590) scale(1 1.09)" font-size="7.8" font-weight="bold" text-anchor="middle" fill="#231f20"><tspan>284.80eV</tspan></text>
<text transform="translate(188.5 632.5) scale(1 1.09)" font-size="7.8" font-weight="bold" text-anchor="middle" fill="#231f20"><tspan>288.05eV</tspan></text>
<text transform="translate(183.4 699.3) scale(1 1.09)" font-size="7.8" font-weight="bold" text-anchor="middle" fill="#231f20"><tspan>288.35eV</tspan></text>
<text transform="translate(244.7 723) scale(1 1.09)" font-size="7.8" font-weight="bold" text-anchor="middle" fill="#231f20"><tspan>284.80eV</tspan></text>
<text transform="translate(95 770.3) scale(1 1.09)" font-size="7.8" font-weight="bold" text-anchor="middle" fill="#231f20"><tspan>293.75eV</tspan></text>
<line x1="246" y1="594.7" x2="246" y2="611.7" stroke="#000" stroke-width="1.7" stroke-linecap="butt" stroke-dasharray="1.5 1.5"/>
<line x1="187.6" y1="634" x2="187.6" y2="644" stroke="#000" stroke-width="1.7" stroke-linecap="butt" stroke-dasharray="1.5 1.5"/>
<line x1="182.7" y1="701" x2="182.7" y2="712" stroke="#000" stroke-width="1.7" stroke-linecap="butt" stroke-dasharray="1.5 1.5"/>
<line x1="245" y1="727.5" x2="245" y2="737" stroke="#000" stroke-width="1.7" stroke-linecap="butt" stroke-dasharray="1.5 1.5"/>
<line x1="92.5" y1="773" x2="92.5" y2="781" stroke="#000" stroke-width="1.7" stroke-linecap="butt" stroke-dasharray="1.5 1.5"/>
<text transform="translate(367.5 575.5)" font-size="21" font-weight="bold" text-anchor="start" fill="#111"><tspan>f</tspan></text>
<path d="M430.8 668.5 L431.8 668.4 L432.8 668.4 L433.8 668.4 L434.8 668.4 L435.8 668.4 L436.8 668.4 L437.8 668.3 L438.8 668.3 L439.8 668.3 L440.8 668.2 L441.8 668.2 L442.8 668.1 L443.8 668.1 L444.8 668 L445.8 667.9 L446.8 667.9 L447.8 667.8 L448.8 667.7 L449.8 667.6 L450.8 667.5 L451.8 667.4 L452.8 667.3 L453.8 667.2 L454.8 667.1 L455.8 667 L456.8 666.9 L457.8 666.8 L458.8 666.7 L459.8 666.6 L460.8 666.5 L461.8 666.5 L462.8 666.4 L463.8 666.3 L464.8 666.3 L465.8 666.2 L466.8 666.2 L467.8 666.2 L468.8 666.2 L469.8 666.2 L470.8 666.2 L471.8 666.3 L472.8 666.3 L473.8 666.4 L474.8 666.5 L475.8 666.6 L476.8 666.6 L477.8 666.8 L478.8 666.9 L479.8 667 L480.8 667.1 L481.8 667.2 L482.8 667.4 L483.8 667.5 L484.8 667.6 L485.8 667.8 L486.8 667.9 L487.8 668 L488.8 668.1 L489.8 668.3 L490.8 668.4 L491.8 668.5 L492.8 668.6 L493.8 668.7 L494.8 668.8 L495.8 668.9 L496.8 669 L497.8 669.1 L498.8 669.1 L499.8 669.2 L500.8 669.3 L501.8 669.3 L502.8 669.4 L503.8 669.5 L504.8 669.5 L505.8 669.5 L506.8 669.6 L507.8 669.6 L508.8 669.7 L508.8 669.8 L507.8 669.8 L506.8 669.8 L505.8 669.8 L504.8 669.8 L503.8 669.7 L502.8 669.7 L501.8 669.7 L500.8 669.7 L499.8 669.7 L498.8 669.7 L497.8 669.6 L496.8 669.6 L495.8 669.6 L494.8 669.6 L493.8 669.6 L492.8 669.6 L491.8 669.6 L490.8 669.5 L489.8 669.5 L488.8 669.5 L487.8 669.5 L486.8 669.5 L485.8 669.5 L484.8 669.4 L483.8 669.4 L482.8 669.4 L481.8 669.4 L480.8 669.4 L479.8 669.4 L478.8 669.4 L477.8 669.3 L476.8 669.3 L475.8 669.3 L474.8 669.3 L473.8 669.3 L472.8 669.3 L471.8 669.2 L470.8 669.2 L469.8 669.2 L468.8 669.2 L467.8 669.2 L466.8 669.2 L465.8 669.2 L464.8 669.1 L463.8 669.1 L462.8 669.1 L461.8 669.1 L460.8 669.1 L459.8 669.1 L458.8 669 L457.8 669 L456.8 669 L455.8 669 L454.8 669 L453.8 669 L452.8 669 L451.8 668.9 L450.8 668.9 L449.8 668.9 L448.8 668.9 L447.8 668.9 L446.8 668.9 L445.8 668.8 L444.8 668.8 L443.8 668.8 L442.8 668.8 L441.8 668.8 L440.8 668.8 L439.8 668.8 L438.8 668.7 L437.8 668.7 L436.8 668.7 L435.8 668.7 L434.8 668.7 L433.8 668.7 L432.8 668.6 L431.8 668.6 L430.8 668.6Z" fill="#86c4e0" stroke="none" stroke-width="0"/>
<path d="M450.8 668.8 L451.8 668.8 L452.8 668.8 L453.8 668.8 L454.8 668.8 L455.8 668.8 L456.8 668.8 L457.8 668.9 L458.8 668.9 L459.8 668.9 L460.8 668.9 L461.8 668.9 L462.8 668.9 L463.8 668.9 L464.8 668.9 L465.8 669 L466.8 669 L467.8 669 L468.8 669 L469.8 669 L470.8 669 L471.8 669 L472.8 669 L473.8 669 L474.8 669 L475.8 669.1 L476.8 669.1 L477.8 669.1 L478.8 669.1 L479.8 669.1 L480.8 669.1 L481.8 669.1 L482.8 669.1 L483.8 669.1 L484.8 669.1 L485.8 669.1 L486.8 669.1 L487.8 669.1 L488.8 669.1 L489.8 669.1 L490.8 669.1 L491.8 669.1 L492.8 669.1 L493.8 669.1 L494.8 669 L495.8 669 L496.8 669 L497.8 669 L498.8 669 L499.8 668.9 L500.8 668.9 L501.8 668.9 L502.8 668.8 L503.8 668.8 L504.8 668.7 L505.8 668.7 L506.8 668.6 L507.8 668.5 L508.8 668.5 L509.8 668.4 L510.8 668.3 L511.8 668.2 L512.8 668.1 L513.8 668 L514.8 667.9 L515.8 667.8 L516.8 667.6 L517.8 667.5 L518.8 667.4 L519.8 667.2 L520.8 667 L521.8 666.8 L522.8 666.7 L523.8 666.4 L524.8 666.2 L525.8 666 L526.8 665.8 L527.8 665.5 L528.8 665.3 L529.8 665 L530.8 664.7 L531.8 664.4 L532.8 664.1 L533.8 663.8 L534.8 663.4 L535.8 663.1 L536.8 662.7 L537.8 662.4 L538.8 662 L539.8 661.6 L540.8 661.2 L541.8 660.8 L542.8 660.3 L543.8 659.9 L544.8 659.4 L545.8 659 L546.8 658.5 L547.8 658.1 L548.8 657.6 L549.8 657.1 L550.8 656.6 L551.8 656.2 L552.8 655.7 L553.8 655.2 L554.8 654.7 L555.8 654.2 L556.8 653.8 L557.8 653.3 L558.8 652.8 L559.8 652.4 L560.8 651.9 L561.8 651.5 L562.8 651 L563.8 650.6 L564.8 650.2 L565.8 649.9 L566.8 649.5 L567.8 649.1 L568.8 648.8 L569.8 648.5 L570.8 648.2 L571.8 648 L572.8 647.8 L573.8 647.5 L574.8 647.4 L575.8 647.2 L576.8 647.1 L577.8 647 L578.8 647 L579.8 646.9 L580.8 646.9 L581.8 647 L582.8 647 L583.8 647.1 L584.8 647.2 L585.8 647.4 L586.8 647.6 L587.8 647.8 L588.8 648 L589.8 648.3 L590.8 648.6 L591.8 648.9 L592.8 649.2 L593.8 649.6 L594.8 649.9 L595.8 650.3 L596.8 650.8 L597.8 651.2 L598.8 651.6 L599.8 652.1 L600.8 652.6 L601.8 653 L602.8 653.5 L603.8 654 L604.8 654.5 L605.8 655 L606.8 655.5 L607.8 656.1 L608.8 656.6 L609.8 657.1 L610.8 657.6 L611.8 658.1 L612.8 658.6 L613.8 659.1 L614.8 659.6 L615.8 660.1 L616.8 660.6 L617.8 661.1 L618.8 661.5 L619.8 662 L620.8 662.4 L621.8 662.9 L622.8 663.3 L623.8 663.7 L624.8 664.1 L625.8 664.5 L626.8 664.9 L627.8 665.2 L628.8 665.6 L629.8 665.9 L630.8 666.3 L631.8 666.6 L632.8 666.9 L633.8 667.2 L634.8 667.5 L635.8 667.7 L636.8 668 L637.8 668.2 L638.8 668.5 L639.8 668.7 L640.8 668.9 L641.8 669.1 L642.8 669.3 L643.8 669.5 L644.8 669.6 L645.8 669.8 L646.8 669.9 L647.8 670.1 L648.8 670.2 L649.8 670.4 L650.8 670.5 L651.8 670.6 L652.8 670.7 L653.8 670.8 L654.8 670.9 L655.8 671 L656.8 671.1 L657.8 671.2 L658.8 671.2 L659.8 671.3 L660.8 671.4 L661.8 671.4 L662.8 671.5 L663.8 671.5 L664.8 671.6 L665.8 671.6 L666.8 671.7 L667.8 671.7 L668.8 671.8 L669.8 671.8 L670.8 671.9 L671.8 671.9 L672.8 671.9 L673.8 672 L674.8 672 L675.8 672 L676.8 672.1 L677.8 672.1 L678.8 672.1 L679.8 672.1 L680.8 672.2 L681.8 672.2 L682.8 672.2 L683.8 672.2 L683.8 672.5 L682.8 672.5 L681.8 672.5 L680.8 672.5 L679.8 672.5 L678.8 672.4 L677.8 672.4 L676.8 672.4 L675.8 672.4 L674.8 672.4 L673.8 672.4 L672.8 672.3 L671.8 672.3 L670.8 672.3 L669.8 672.3 L668.8 672.3 L667.8 672.3 L666.8 672.3 L665.8 672.2 L664.8 672.2 L663.8 672.2 L662.8 672.2 L661.8 672.2 L660.8 672.2 L659.8 672.1 L658.8 672.1 L657.8 672.1 L656.8 672.1 L655.8 672.1 L654.8 672.1 L653.8 672 L652.8 672 L651.8 672 L650.8 672 L649.8 672 L648.8 672 L647.8 672 L646.8 671.9 L645.8 671.9 L644.8 671.9 L643.8 671.9 L642.8 671.9 L641.8 671.9 L640.8 671.8 L639.8 671.8 L638.8 671.8 L637.8 671.8 L636.8 671.8 L635.8 671.8 L634.8 671.8 L633.8 671.7 L632.8 671.7 L631.8 671.7 L630.8 671.7 L629.8 671.7 L628.8 671.7 L627.8 671.6 L626.8 671.6 L625.8 671.6 L624.8 671.6 L623.8 671.6 L622.8 671.6 L621.8 671.6 L620.8 671.5 L619.8 671.5 L618.8 671.5 L617.8 671.5 L616.8 671.5 L615.8 671.5 L614.8 671.4 L613.8 671.4 L612.8 671.4 L611.8 671.4 L610.8 671.4 L609.8 671.4 L608.8 671.4 L607.8 671.3 L606.8 671.3 L605.8 671.3 L604.8 671.3 L603.8 671.3 L602.8 671.3 L601.8 671.2 L600.8 671.2 L599.8 671.2 L598.8 671.2 L597.8 671.2 L596.8 671.2 L595.8 671.2 L594.8 671.1 L593.8 671.1 L592.8 671.1 L591.8 671.1 L590.8 671.1 L589.8 671.1 L588.8 671 L587.8 671 L586.8 671 L585.8 671 L584.8 671 L583.8 671 L582.8 671 L581.8 670.9 L580.8 670.9 L579.8 670.9 L578.8 670.9 L577.8 670.9 L576.8 670.9 L575.8 670.8 L574.8 670.8 L573.8 670.8 L572.8 670.8 L571.8 670.8 L570.8 670.8 L569.8 670.8 L568.8 670.7 L567.8 670.7 L566.8 670.7 L565.8 670.7 L564.8 670.7 L563.8 670.7 L562.8 670.6 L561.8 670.6 L560.8 670.6 L559.8 670.6 L558.8 670.6 L557.8 670.6 L556.8 670.6 L555.8 670.5 L554.8 670.5 L553.8 670.5 L552.8 670.5 L551.8 670.5 L550.8 670.5 L549.8 670.4 L548.8 670.4 L547.8 670.4 L546.8 670.4 L545.8 670.4 L544.8 670.4 L543.8 670.4 L542.8 670.3 L541.8 670.3 L540.8 670.3 L539.8 670.3 L538.8 670.3 L537.8 670.3 L536.8 670.2 L535.8 670.2 L534.8 670.2 L533.8 670.2 L532.8 670.2 L531.8 670.2 L530.8 670.2 L529.8 670.1 L528.8 670.1 L527.8 670.1 L526.8 670.1 L525.8 670.1 L524.8 670.1 L523.8 670 L522.8 670 L521.8 670 L520.8 670 L519.8 670 L518.8 670 L517.8 670 L516.8 669.9 L515.8 669.9 L514.8 669.9 L513.8 669.9 L512.8 669.9 L511.8 669.9 L510.8 669.8 L509.8 669.8 L508.8 669.8 L507.8 669.8 L506.8 669.8 L505.8 669.8 L504.8 669.8 L503.8 669.7 L502.8 669.7 L501.8 669.7 L500.8 669.7 L499.8 669.7 L498.8 669.7 L497.8 669.6 L496.8 669.6 L495.8 669.6 L494.8 669.6 L493.8 669.6 L492.8 669.6 L491.8 669.6 L490.8 669.5 L489.8 669.5 L488.8 669.5 L487.8 669.5 L486.8 669.5 L485.8 669.5 L484.8 669.4 L483.8 669.4 L482.8 669.4 L481.8 669.4 L480.8 669.4 L479.8 669.4 L478.8 669.4 L477.8 669.3 L476.8 669.3 L475.8 669.3 L474.8 669.3 L473.8 669.3 L472.8 669.3 L471.8 669.2 L470.8 669.2 L469.8 669.2 L468.8 669.2 L467.8 669.2 L466.8 669.2 L465.8 669.2 L464.8 669.1 L463.8 669.1 L462.8 669.1 L461.8 669.1 L460.8 669.1 L459.8 669.1 L458.8 669 L457.8 669 L456.8 669 L455.8 669 L454.8 669 L453.8 669 L452.8 669 L451.8 668.9 L450.8 668.9Z" fill="url(#grn)" stroke="none" stroke-width="0" fill-opacity="0.8"/>
<path d="M486.8 669.3 L487.8 669.3 L488.8 669.3 L489.8 669.4 L490.8 669.4 L491.8 669.4 L492.8 669.4 L493.8 669.4 L494.8 669.4 L495.8 669.4 L496.8 669.4 L497.8 669.5 L498.8 669.5 L499.8 669.5 L500.8 669.5 L501.8 669.5 L502.8 669.5 L503.8 669.5 L504.8 669.5 L505.8 669.6 L506.8 669.6 L507.8 669.6 L508.8 669.6 L509.8 669.6 L510.8 669.6 L511.8 669.6 L512.8 669.6 L513.8 669.6 L514.8 669.7 L515.8 669.7 L516.8 669.7 L517.8 669.7 L518.8 669.7 L519.8 669.7 L520.8 669.7 L521.8 669.7 L522.8 669.7 L523.8 669.7 L524.8 669.7 L525.8 669.7 L526.8 669.8 L527.8 669.8 L528.8 669.8 L529.8 669.8 L530.8 669.8 L531.8 669.8 L532.8 669.8 L533.8 669.8 L534.8 669.8 L535.8 669.8 L536.8 669.8 L537.8 669.8 L538.8 669.8 L539.8 669.8 L540.8 669.8 L541.8 669.8 L542.8 669.8 L543.8 669.8 L544.8 669.8 L545.8 669.8 L546.8 669.8 L547.8 669.8 L548.8 669.8 L549.8 669.8 L550.8 669.8 L551.8 669.8 L552.8 669.8 L553.8 669.8 L554.8 669.7 L555.8 669.7 L556.8 669.7 L557.8 669.7 L558.8 669.6 L559.8 669.6 L560.8 669.5 L561.8 669.5 L562.8 669.4 L563.8 669.3 L564.8 669.2 L565.8 669.1 L566.8 669 L567.8 668.8 L568.8 668.6 L569.8 668.3 L570.8 668 L571.8 667.7 L572.8 667.3 L573.8 666.8 L574.8 666.2 L575.8 665.5 L576.8 664.8 L577.8 663.9 L578.8 662.9 L579.8 661.8 L580.8 660.6 L581.8 659.2 L582.8 657.6 L583.8 655.9 L584.8 654 L585.8 652 L586.8 649.8 L587.8 647.4 L588.8 644.9 L589.8 642.3 L590.8 639.6 L591.8 636.8 L592.8 633.9 L593.8 631 L594.8 628.1 L595.8 625.2 L596.8 622.4 L597.8 619.7 L598.8 617.2 L599.8 614.9 L600.8 612.8 L601.8 611 L602.8 609.5 L603.8 608.4 L604.8 607.7 L605.8 607.3 L606.8 607.4 L607.8 607.9 L608.8 608.8 L609.8 610 L610.8 611.7 L611.8 613.6 L612.8 615.8 L613.8 618.2 L614.8 620.8 L615.8 623.6 L616.8 626.4 L617.8 629.3 L618.8 632.3 L619.8 635.2 L620.8 638.1 L621.8 640.9 L622.8 643.7 L623.8 646.3 L624.8 648.7 L625.8 651.1 L626.8 653.2 L627.8 655.3 L628.8 657.1 L629.8 658.8 L630.8 660.4 L631.8 661.8 L632.8 663 L633.8 664.1 L634.8 665.1 L635.8 665.9 L636.8 666.7 L637.8 667.4 L638.8 667.9 L639.8 668.4 L640.8 668.9 L641.8 669.2 L642.8 669.5 L643.8 669.8 L644.8 670 L645.8 670.2 L646.8 670.4 L647.8 670.5 L648.8 670.7 L649.8 670.8 L650.8 670.9 L651.8 671 L652.8 671 L653.8 671.1 L654.8 671.2 L655.8 671.2 L656.8 671.3 L657.8 671.3 L658.8 671.4 L659.8 671.4 L660.8 671.5 L661.8 671.5 L662.8 671.5 L663.8 671.6 L664.8 671.6 L665.8 671.7 L666.8 671.7 L667.8 671.7 L668.8 671.7 L669.8 671.8 L670.8 671.8 L671.8 671.8 L672.8 671.9 L673.8 671.9 L674.8 671.9 L675.8 672 L676.8 672 L677.8 672 L678.8 672 L679.8 672.1 L680.8 672.1 L681.8 672.1 L682.8 672.1 L683.8 672.2 L683.8 672.5 L682.8 672.5 L681.8 672.5 L680.8 672.5 L679.8 672.5 L678.8 672.4 L677.8 672.4 L676.8 672.4 L675.8 672.4 L674.8 672.4 L673.8 672.4 L672.8 672.3 L671.8 672.3 L670.8 672.3 L669.8 672.3 L668.8 672.3 L667.8 672.3 L666.8 672.3 L665.8 672.2 L664.8 672.2 L663.8 672.2 L662.8 672.2 L661.8 672.2 L660.8 672.2 L659.8 672.1 L658.8 672.1 L657.8 672.1 L656.8 672.1 L655.8 672.1 L654.8 672.1 L653.8 672 L652.8 672 L651.8 672 L650.8 672 L649.8 672 L648.8 672 L647.8 672 L646.8 671.9 L645.8 671.9 L644.8 671.9 L643.8 671.9 L642.8 671.9 L641.8 671.9 L640.8 671.8 L639.8 671.8 L638.8 671.8 L637.8 671.8 L636.8 671.8 L635.8 671.8 L634.8 671.8 L633.8 671.7 L632.8 671.7 L631.8 671.7 L630.8 671.7 L629.8 671.7 L628.8 671.7 L627.8 671.6 L626.8 671.6 L625.8 671.6 L624.8 671.6 L623.8 671.6 L622.8 671.6 L621.8 671.6 L620.8 671.5 L619.8 671.5 L618.8 671.5 L617.8 671.5 L616.8 671.5 L615.8 671.5 L614.8 671.4 L613.8 671.4 L612.8 671.4 L611.8 671.4 L610.8 671.4 L609.8 671.4 L608.8 671.4 L607.8 671.3 L606.8 671.3 L605.8 671.3 L604.8 671.3 L603.8 671.3 L602.8 671.3 L601.8 671.2 L600.8 671.2 L599.8 671.2 L598.8 671.2 L597.8 671.2 L596.8 671.2 L595.8 671.2 L594.8 671.1 L593.8 671.1 L592.8 671.1 L591.8 671.1 L590.8 671.1 L589.8 671.1 L588.8 671 L587.8 671 L586.8 671 L585.8 671 L584.8 671 L583.8 671 L582.8 671 L581.8 670.9 L580.8 670.9 L579.8 670.9 L578.8 670.9 L577.8 670.9 L576.8 670.9 L575.8 670.8 L574.8 670.8 L573.8 670.8 L572.8 670.8 L571.8 670.8 L570.8 670.8 L569.8 670.8 L568.8 670.7 L567.8 670.7 L566.8 670.7 L565.8 670.7 L564.8 670.7 L563.8 670.7 L562.8 670.6 L561.8 670.6 L560.8 670.6 L559.8 670.6 L558.8 670.6 L557.8 670.6 L556.8 670.6 L555.8 670.5 L554.8 670.5 L553.8 670.5 L552.8 670.5 L551.8 670.5 L550.8 670.5 L549.8 670.4 L548.8 670.4 L547.8 670.4 L546.8 670.4 L545.8 670.4 L544.8 670.4 L543.8 670.4 L542.8 670.3 L541.8 670.3 L540.8 670.3 L539.8 670.3 L538.8 670.3 L537.8 670.3 L536.8 670.2 L535.8 670.2 L534.8 670.2 L533.8 670.2 L532.8 670.2 L531.8 670.2 L530.8 670.2 L529.8 670.1 L528.8 670.1 L527.8 670.1 L526.8 670.1 L525.8 670.1 L524.8 670.1 L523.8 670 L522.8 670 L521.8 670 L520.8 670 L519.8 670 L518.8 670 L517.8 670 L516.8 669.9 L515.8 669.9 L514.8 669.9 L513.8 669.9 L512.8 669.9 L511.8 669.9 L510.8 669.8 L509.8 669.8 L508.8 669.8 L507.8 669.8 L506.8 669.8 L505.8 669.8 L504.8 669.8 L503.8 669.7 L502.8 669.7 L501.8 669.7 L500.8 669.7 L499.8 669.7 L498.8 669.7 L497.8 669.6 L496.8 669.6 L495.8 669.6 L494.8 669.6 L493.8 669.6 L492.8 669.6 L491.8 669.6 L490.8 669.5 L489.8 669.5 L488.8 669.5 L487.8 669.5 L486.8 669.5Z" fill="url(#lav)" stroke="none" stroke-width="0" fill-opacity="0.8"/>
<path d="M436.8 668.4 L437.8 668.3 L438.8 668.3 L439.8 668.3 L440.8 668.2 L441.8 668.2 L442.8 668.1 L443.8 668.1 L444.8 668 L445.8 667.9 L446.8 667.9 L447.8 667.8 L448.8 667.7 L449.8 667.6 L450.8 667.5 L451.8 667.4 L452.8 667.3 L453.8 667.2 L454.8 667.1 L455.8 667 L456.8 666.9 L457.8 666.8 L458.8 666.7 L459.8 666.6 L460.8 666.5 L461.8 666.5 L462.8 666.4 L463.8 666.3 L464.8 666.3 L465.8 666.2 L466.8 666.2 L467.8 666.2 L468.8 666.2 L469.8 666.2 L470.8 666.2 L471.8 666.3 L472.8 666.3 L473.8 666.4 L474.8 666.5 L475.8 666.6 L476.8 666.6 L477.8 666.8 L478.8 666.9 L479.8 667 L480.8 667.1 L481.8 667.2 L482.8 667.4 L483.8 667.5 L484.8 667.6 L485.8 667.8 L486.8 667.9 L487.8 668 L488.8 668.1 L489.8 668.3 L490.8 668.4 L491.8 668.5 L492.8 668.6 L493.8 668.7 L494.8 668.8 L495.8 668.9 L496.8 669 L497.8 669.1 L498.8 669.1 L499.8 669.2 L500.8 669.3 L501.8 669.3 L502.8 669.4" fill="none" stroke="#4d93b8" stroke-width="0.8" stroke-linejoin="round"/>
<path d="M481.8 669.1 L482.8 669.1 L483.8 669.1 L484.8 669.1 L485.8 669.1 L486.8 669.1 L487.8 669.1 L488.8 669.1 L489.8 669.1 L490.8 669.1 L491.8 669.1 L492.8 669.1 L493.8 669.1 L494.8 669 L495.8 669 L496.8 669 L497.8 669 L498.8 669 L499.8 668.9 L500.8 668.9 L501.8 668.9 L502.8 668.8 L503.8 668.8 L504.8 668.7 L505.8 668.7 L506.8 668.6 L507.8 668.5 L508.8 668.5 L509.8 668.4 L510.8 668.3 L511.8 668.2 L512.8 668.1 L513.8 668 L514.8 667.9 L515.8 667.8 L516.8 667.6 L517.8 667.5 L518.8 667.4 L519.8 667.2 L520.8 667 L521.8 666.8 L522.8 666.7 L523.8 666.4 L524.8 666.2 L525.8 666 L526.8 665.8 L527.8 665.5 L528.8 665.3 L529.8 665 L530.8 664.7 L531.8 664.4 L532.8 664.1 L533.8 663.8 L534.8 663.4 L535.8 663.1 L536.8 662.7 L537.8 662.4 L538.8 662 L539.8 661.6 L540.8 661.2 L541.8 660.8 L542.8 660.3 L543.8 659.9 L544.8 659.4 L545.8 659 L546.8 658.5 L547.8 658.1 L548.8 657.6 L549.8 657.1 L550.8 656.6 L551.8 656.2 L552.8 655.7 L553.8 655.2 L554.8 654.7 L555.8 654.2 L556.8 653.8 L557.8 653.3 L558.8 652.8 L559.8 652.4 L560.8 651.9 L561.8 651.5 L562.8 651 L563.8 650.6 L564.8 650.2 L565.8 649.9 L566.8 649.5 L567.8 649.1 L568.8 648.8 L569.8 648.5 L570.8 648.2 L571.8 648 L572.8 647.8 L573.8 647.5 L574.8 647.4 L575.8 647.2 L576.8 647.1 L577.8 647 L578.8 647 L579.8 646.9 L580.8 646.9 L581.8 647 L582.8 647 L583.8 647.1 L584.8 647.2 L585.8 647.4 L586.8 647.6 L587.8 647.8 L588.8 648 L589.8 648.3 L590.8 648.6 L591.8 648.9 L592.8 649.2 L593.8 649.6 L594.8 649.9 L595.8 650.3 L596.8 650.8 L597.8 651.2 L598.8 651.6 L599.8 652.1 L600.8 652.6 L601.8 653 L602.8 653.5 L603.8 654 L604.8 654.5 L605.8 655 L606.8 655.5 L607.8 656.1 L608.8 656.6 L609.8 657.1 L610.8 657.6 L611.8 658.1 L612.8 658.6 L613.8 659.1 L614.8 659.6 L615.8 660.1 L616.8 660.6 L617.8 661.1 L618.8 661.5 L619.8 662 L620.8 662.4 L621.8 662.9 L622.8 663.3 L623.8 663.7 L624.8 664.1 L625.8 664.5 L626.8 664.9 L627.8 665.2 L628.8 665.6 L629.8 665.9 L630.8 666.3 L631.8 666.6 L632.8 666.9 L633.8 667.2 L634.8 667.5 L635.8 667.7 L636.8 668 L637.8 668.2 L638.8 668.5 L639.8 668.7 L640.8 668.9 L641.8 669.1 L642.8 669.3 L643.8 669.5 L644.8 669.6 L645.8 669.8 L646.8 669.9 L647.8 670.1 L648.8 670.2 L649.8 670.4 L650.8 670.5 L651.8 670.6 L652.8 670.7 L653.8 670.8 L654.8 670.9 L655.8 671 L656.8 671.1 L657.8 671.2 L658.8 671.2 L659.8 671.3 L660.8 671.4 L661.8 671.4 L662.8 671.5 L663.8 671.5 L664.8 671.6 L665.8 671.6 L666.8 671.7 L667.8 671.7 L668.8 671.8 L669.8 671.8 L670.8 671.9 L671.8 671.9 L672.8 671.9 L673.8 672 L674.8 672 L675.8 672 L676.8 672.1 L677.8 672.1 L678.8 672.1 L679.8 672.1" fill="none" stroke="#a8cc98" stroke-width="0.8" stroke-linejoin="round"/>
<path d="M521.8 669.7 L522.8 669.7 L523.8 669.7 L524.8 669.7 L525.8 669.7 L526.8 669.8 L527.8 669.8 L528.8 669.8 L529.8 669.8 L530.8 669.8 L531.8 669.8 L532.8 669.8 L533.8 669.8 L534.8 669.8 L535.8 669.8 L536.8 669.8 L537.8 669.8 L538.8 669.8 L539.8 669.8 L540.8 669.8 L541.8 669.8 L542.8 669.8 L543.8 669.8 L544.8 669.8 L545.8 669.8 L546.8 669.8 L547.8 669.8 L548.8 669.8 L549.8 669.8 L550.8 669.8 L551.8 669.8 L552.8 669.8 L553.8 669.8 L554.8 669.7 L555.8 669.7 L556.8 669.7 L557.8 669.7 L558.8 669.6 L559.8 669.6 L560.8 669.5 L561.8 669.5 L562.8 669.4 L563.8 669.3 L564.8 669.2 L565.8 669.1 L566.8 669 L567.8 668.8 L568.8 668.6 L569.8 668.3 L570.8 668 L571.8 667.7 L572.8 667.3 L573.8 666.8 L574.8 666.2 L575.8 665.5 L576.8 664.8 L577.8 663.9 L578.8 662.9 L579.8 661.8 L580.8 660.6 L581.8 659.2 L582.8 657.6 L583.8 655.9 L584.8 654 L585.8 652 L586.8 649.8 L587.8 647.4 L588.8 644.9 L589.8 642.3 L590.8 639.6 L591.8 636.8 L592.8 633.9 L593.8 631 L594.8 628.1 L595.8 625.2 L596.8 622.4 L597.8 619.7 L598.8 617.2 L599.8 614.9 L600.8 612.8 L601.8 611 L602.8 609.5 L603.8 608.4 L604.8 607.7 L605.8 607.3 L606.8 607.4 L607.8 607.9 L608.8 608.8 L609.8 610 L610.8 611.7 L611.8 613.6 L612.8 615.8 L613.8 618.2 L614.8 620.8 L615.8 623.6 L616.8 626.4 L617.8 629.3 L618.8 632.3 L619.8 635.2 L620.8 638.1 L621.8 640.9 L622.8 643.7 L623.8 646.3 L624.8 648.7 L625.8 651.1 L626.8 653.2 L627.8 655.3 L628.8 657.1 L629.8 658.8 L630.8 660.4 L631.8 661.8 L632.8 663 L633.8 664.1 L634.8 665.1 L635.8 665.9 L636.8 666.7 L637.8 667.4 L638.8 667.9 L639.8 668.4 L640.8 668.9 L641.8 669.2 L642.8 669.5 L643.8 669.8 L644.8 670 L645.8 670.2 L646.8 670.4 L647.8 670.5 L648.8 670.7 L649.8 670.8 L650.8 670.9 L651.8 671 L652.8 671 L653.8 671.1 L654.8 671.2 L655.8 671.2 L656.8 671.3 L657.8 671.3 L658.8 671.4 L659.8 671.4 L660.8 671.5 L661.8 671.5 L662.8 671.5 L663.8 671.6 L664.8 671.6 L665.8 671.7 L666.8 671.7 L667.8 671.7 L668.8 671.7 L669.8 671.8 L670.8 671.8 L671.8 671.8 L672.8 671.9 L673.8 671.9 L674.8 671.9 L675.8 672 L676.8 672 L677.8 672 L678.8 672 L679.8 672.1 L680.8 672.1 L681.8 672.1 L682.8 672.1 L683.8 672.2" fill="none" stroke="#a0a8da" stroke-width="0.8" stroke-linejoin="round"/>
<path d="M391.8 667.6 L392.8 668 L393.8 667.7 L394.8 665.6 L395.8 669 L396.8 667 L397.8 666.9 L398.8 665.4 L399.8 669.1 L400.8 668 L401.8 668.4 L402.8 667.9 L403.8 668.3 L404.8 669.1 L405.8 668.1 L406.8 668.4 L407.8 668.4 L408.8 669.2 L409.8 669 L410.8 667 L411.8 665.6 L412.8 668.2 L413.8 667.5 L414.8 665.7 L415.8 666 L416.8 668 L417.8 667.5 L418.8 666.5 L419.8 669.4 L420.8 669 L421.8 665.9 L422.8 667.3 L423.8 669.1 L424.8 669.1 L425.8 668.3 L426.8 668.2 L427.8 667.2 L428.8 666.2 L429.8 666.7 L430.8 668.4 L431.8 668.2 L432.8 667.3 L433.8 665.7 L434.8 666.1 L435.8 667.4 L436.8 666.9 L437.8 666.4 L438.8 668.4 L439.8 668.1 L440.8 668.6 L441.8 666.9 L442.8 665.5 L443.8 666.4 L444.8 666.2 L445.8 667.7 L446.8 667.8 L447.8 668.7 L448.8 667.7 L449.8 666.8 L450.8 666.2 L451.8 665.8 L452.8 667.3 L453.8 666.5 L454.8 666.9 L455.8 664.7 L456.8 666 L457.8 664.9 L458.8 666.4 L459.8 667.4 L460.8 666.3 L461.8 666.1 L462.8 666.5 L463.8 666.1 L464.8 666.1 L465.8 663.6 L466.8 665.9 L467.8 666.2 L468.8 664.1 L469.8 664.8 L470.8 663.6 L471.8 666.5 L472.8 666 L473.8 664.9 L474.8 666 L475.8 665.6 L476.8 667.3 L477.8 665.6 L478.8 663.9 L479.8 665.7 L480.8 664.6 L481.8 665.6 L482.8 668 L483.8 667.2 L484.8 664.8 L485.8 667.2 L486.8 664.9 L487.8 665.6 L488.8 667.3 L489.8 665.8 L490.8 668.1 L491.8 666.9 L492.8 667.9 L493.8 667.6 L494.8 668.5 L495.8 667.7 L496.8 668 L497.8 666.5 L498.8 666.6 L499.8 667.3 L500.8 668.3 L501.8 667.7 L502.8 668.3 L503.8 668.3 L504.8 668.2 L505.8 667.5 L506.8 668.3 L507.8 667.3 L508.8 668.6 L509.8 668.4 L510.8 666 L511.8 667.9 L512.8 666.9 L513.8 666.8 L514.8 668.3 L515.8 665.8 L516.8 666.1 L517.8 665.5 L518.8 666.9 L519.8 665.3 L520.8 667.5 L521.8 665.2 L522.8 666.3 L523.8 666.9 L524.8 665.7 L525.8 665.9 L526.8 665.5 L527.8 665.9 L528.8 662.3 L529.8 664.4 L530.8 663.7 L531.8 664.2 L532.8 663.7 L533.8 663.1 L534.8 663.7 L535.8 662.6 L536.8 662.3 L537.8 661.8 L538.8 662.4 L539.8 660.8 L540.8 660.4 L541.8 660.3 L542.8 659 L543.8 660.3 L544.8 659 L545.8 658.1 L546.8 655.9 L547.8 657.1 L548.8 654.9 L549.8 654.9 L550.8 656 L551.8 655.3 L552.8 654.3 L553.8 654.2 L554.8 652.9 L555.8 652.4 L556.8 653.1 L557.8 649.9 L558.8 651.8 L559.8 650.5 L560.8 651.5 L561.8 649.6 L562.8 649.9 L563.8 650.1 L564.8 646.2 L565.8 646.6 L566.8 647.6 L567.8 646.7 L568.8 645.6 L569.8 646.1 L570.8 646.2 L571.8 644.4 L572.8 643 L573.8 641.9 L574.8 643.2 L575.8 641.8 L576.8 641.4 L577.8 641.1 L578.8 638.8 L579.8 637.5 L580.8 636.4 L581.8 633.3 L582.8 631.2 L583.8 632.8 L584.8 629.3 L585.8 627.7 L586.8 626.2 L587.8 622.4 L588.8 621.9 L589.8 619 L590.8 617.4 L591.8 614.3 L592.8 610.9 L593.8 610.4 L594.8 606.9 L595.8 602.6 L596.8 602.5 L597.8 597.3 L598.8 595.3 L599.8 594.1 L600.8 594.1 L601.8 590.2 L602.8 592.9 L603.8 590.4 L604.8 588.5 L605.8 590 L606.8 590 L607.8 591.4 L608.8 594.9 L609.8 595.7 L610.8 598 L611.8 601.3 L612.8 603.6 L613.8 605.6 L614.8 606.7 L615.8 612.4 L616.8 614.2 L617.8 620 L618.8 620.7 L619.8 625.7 L620.8 627.3 L621.8 631.9 L622.8 634.7 L623.8 638.3 L624.8 641.2 L625.8 643.6 L626.8 646.5 L627.8 648.8 L628.8 651.6 L629.8 653.6 L630.8 652.8 L631.8 656.6 L632.8 657.8 L633.8 659.1 L634.8 660.2 L635.8 660 L636.8 662.8 L637.8 661.7 L638.8 664.7 L639.8 663.3 L640.8 665.8 L641.8 665.8 L642.8 666.3 L643.8 668.1 L644.8 666.6 L645.8 666.6 L646.8 668.3 L647.8 669.2 L648.8 668.3 L649.8 668.1 L650.8 669.5 L651.8 669 L652.8 667.3 L653.8 670.6 L654.8 667.7 L655.8 669.4 L656.8 670.3 L657.8 670.3 L658.8 669 L659.8 670.8 L660.8 671.5 L661.8 670.6 L662.8 670.7 L663.8 668.4 L664.8 669.6 L665.8 670.7 L666.8 670.8 L667.8 671.2 L668.8 669.1 L669.8 670.2 L670.8 669.9 L671.8 671.7 L672.8 669.7 L673.8 672.4 L674.8 669 L675.8 671.4 L676.8 670.3 L677.8 671.6 L678.8 671.7 L679.8 670.3 L680.8 672.8 L681.8 670.2 L682.8 671.6 L683.8 670.8" fill="none" stroke="#8c8c8c" stroke-width="0.8" stroke-linejoin="round"/>
<path d="M391.8 668 L392.8 668 L393.8 668 L394.8 668.1 L395.8 668.1 L396.8 668.1 L397.8 668.1 L398.8 668.1 L399.8 668.1 L400.8 668.2 L401.8 668.2 L402.8 668.2 L403.8 668.2 L404.8 668.2 L405.8 668.2 L406.8 668.2 L407.8 668.3 L408.8 668.3 L409.8 668.3 L410.8 668.3 L411.8 668.3 L412.8 668.3 L413.8 668.4 L414.8 668.4 L415.8 668.4 L416.8 668.4 L417.8 668.4 L418.8 668.4 L419.8 668.4 L420.8 668.5 L421.8 668.5 L422.8 668.5 L423.8 668.5 L424.8 668.5 L425.8 668.5 L426.8 668.6 L427.8 668.6 L428.8 668.6 L429.8 668.6 L430.8 668.6 L431.8 668.6 L432.8 668.6 L433.8 668.7 L434.8 668.7 L435.8 668.7 L436.8 668.7 L437.8 668.7 L438.8 668.7 L439.8 668.8 L440.8 668.8 L441.8 668.8 L442.8 668.8 L443.8 668.8 L444.8 668.8 L445.8 668.8 L446.8 668.9 L447.8 668.9 L448.8 668.9 L449.8 668.9 L450.8 668.9 L451.8 668.9 L452.8 669 L453.8 669 L454.8 669 L455.8 669 L456.8 669 L457.8 669 L458.8 669 L459.8 669.1 L460.8 669.1 L461.8 669.1 L462.8 669.1 L463.8 669.1 L464.8 669.1 L465.8 669.2 L466.8 669.2 L467.8 669.2 L468.8 669.2 L469.8 669.2 L470.8 669.2 L471.8 669.2 L472.8 669.3 L473.8 669.3 L474.8 669.3 L475.8 669.3 L476.8 669.3 L477.8 669.3 L478.8 669.4 L479.8 669.4 L480.8 669.4 L481.8 669.4 L482.8 669.4 L483.8 669.4 L484.8 669.4 L485.8 669.5 L486.8 669.5 L487.8 669.5 L488.8 669.5 L489.8 669.5 L490.8 669.5 L491.8 669.6 L492.8 669.6 L493.8 669.6 L494.8 669.6 L495.8 669.6 L496.8 669.6 L497.8 669.6 L498.8 669.7 L499.8 669.7 L500.8 669.7 L501.8 669.7 L502.8 669.7 L503.8 669.7 L504.8 669.8 L505.8 669.8 L506.8 669.8 L507.8 669.8 L508.8 669.8 L509.8 669.8 L510.8 669.8 L511.8 669.9 L512.8 669.9 L513.8 669.9 L514.8 669.9 L515.8 669.9 L516.8 669.9 L517.8 670 L518.8 670 L519.8 670 L520.8 670 L521.8 670 L522.8 670 L523.8 670 L524.8 670.1 L525.8 670.1 L526.8 670.1 L527.8 670.1 L528.8 670.1 L529.8 670.1 L530.8 670.2 L531.8 670.2 L532.8 670.2 L533.8 670.2 L534.8 670.2 L535.8 670.2 L536.8 670.2 L537.8 670.3 L538.8 670.3 L539.8 670.3 L540.8 670.3 L541.8 670.3 L542.8 670.3 L543.8 670.4 L544.8 670.4 L545.8 670.4 L546.8 670.4 L547.8 670.4 L548.8 670.4 L549.8 670.4 L550.8 670.5 L551.8 670.5 L552.8 670.5 L553.8 670.5 L554.8 670.5 L555.8 670.5 L556.8 670.6 L557.8 670.6 L558.8 670.6 L559.8 670.6 L560.8 670.6 L561.8 670.6 L562.8 670.6 L563.8 670.7 L564.8 670.7 L565.8 670.7 L566.8 670.7 L567.8 670.7 L568.8 670.7 L569.8 670.8 L570.8 670.8 L571.8 670.8 L572.8 670.8 L573.8 670.8 L574.8 670.8 L575.8 670.8 L576.8 670.9 L577.8 670.9 L578.8 670.9 L579.8 670.9 L580.8 670.9 L581.8 670.9 L582.8 671 L583.8 671 L584.8 671 L585.8 671 L586.8 671 L587.8 671 L588.8 671 L589.8 671.1 L590.8 671.1 L591.8 671.1 L592.8 671.1 L593.8 671.1 L594.8 671.1 L595.8 671.2 L596.8 671.2 L597.8 671.2 L598.8 671.2 L599.8 671.2 L600.8 671.2 L601.8 671.2 L602.8 671.3 L603.8 671.3 L604.8 671.3 L605.8 671.3 L606.8 671.3 L607.8 671.3 L608.8 671.4 L609.8 671.4 L610.8 671.4 L611.8 671.4 L612.8 671.4 L613.8 671.4 L614.8 671.4 L615.8 671.5 L616.8 671.5 L617.8 671.5 L618.8 671.5 L619.8 671.5 L620.8 671.5 L621.8 671.6 L622.8 671.6 L623.8 671.6 L624.8 671.6 L625.8 671.6 L626.8 671.6 L627.8 671.6 L628.8 671.7 L629.8 671.7 L630.8 671.7 L631.8 671.7 L632.8 671.7 L633.8 671.7 L634.8 671.8 L635.8 671.8 L636.8 671.8 L637.8 671.8 L638.8 671.8 L639.8 671.8 L640.8 671.8 L641.8 671.9 L642.8 671.9 L643.8 671.9 L644.8 671.9 L645.8 671.9 L646.8 671.9 L647.8 672 L648.8 672 L649.8 672 L650.8 672 L651.8 672 L652.8 672 L653.8 672 L654.8 672.1 L655.8 672.1 L656.8 672.1 L657.8 672.1 L658.8 672.1 L659.8 672.1 L660.8 672.2 L661.8 672.2 L662.8 672.2 L663.8 672.2 L664.8 672.2 L665.8 672.2 L666.8 672.3 L667.8 672.3 L668.8 672.3 L669.8 672.3 L670.8 672.3 L671.8 672.3 L672.8 672.3 L673.8 672.4 L674.8 672.4 L675.8 672.4 L676.8 672.4 L677.8 672.4 L678.8 672.4 L679.8 672.5 L680.8 672.5 L681.8 672.5 L682.8 672.5 L683.8 672.5" fill="none" stroke="#2a1f2e" stroke-width="1.2" stroke-linejoin="round"/>
<path d="M391.8 667.9 L392.8 667.9 L393.8 667.9 L394.8 667.9 L395.8 667.9 L396.8 667.9 L397.8 668 L398.8 668 L399.8 668 L400.8 668 L401.8 668 L402.8 668 L403.8 668 L404.8 668.1 L405.8 668.1 L406.8 668.1 L407.8 668.1 L408.8 668.1 L409.8 668.1 L410.8 668.1 L411.8 668.1 L412.8 668.2 L413.8 668.2 L414.8 668.2 L415.8 668.2 L416.8 668.2 L417.8 668.2 L418.8 668.2 L419.8 668.2 L420.8 668.2 L421.8 668.2 L422.8 668.3 L423.8 668.3 L424.8 668.3 L425.8 668.3 L426.8 668.3 L427.8 668.3 L428.8 668.3 L429.8 668.3 L430.8 668.3 L431.8 668.3 L432.8 668.2 L433.8 668.2 L434.8 668.2 L435.8 668.2 L436.8 668.2 L437.8 668.1 L438.8 668.1 L439.8 668.1 L440.8 668 L441.8 668 L442.8 667.9 L443.8 667.8 L444.8 667.8 L445.8 667.7 L446.8 667.6 L447.8 667.5 L448.8 667.5 L449.8 667.4 L450.8 667.3 L451.8 667.2 L452.8 667.1 L453.8 667 L454.8 666.9 L455.8 666.8 L456.8 666.7 L457.8 666.5 L458.8 666.4 L459.8 666.4 L460.8 666.3 L461.8 666.2 L462.8 666.1 L463.8 666 L464.8 666 L465.8 665.9 L466.8 665.9 L467.8 665.9 L468.8 665.9 L469.8 665.9 L470.8 665.9 L471.8 665.9 L472.8 666 L473.8 666 L474.8 666.1 L475.8 666.2 L476.8 666.3 L477.8 666.4 L478.8 666.5 L479.8 666.6 L480.8 666.7 L481.8 666.8 L482.8 666.9 L483.8 667 L484.8 667.1 L485.8 667.3 L486.8 667.4 L487.8 667.5 L488.8 667.6 L489.8 667.7 L490.8 667.8 L491.8 667.9 L492.8 667.9 L493.8 668 L494.8 668.1 L495.8 668.1 L496.8 668.2 L497.8 668.2 L498.8 668.3 L499.8 668.3 L500.8 668.3 L501.8 668.3 L502.8 668.3 L503.8 668.3 L504.8 668.3 L505.8 668.2 L506.8 668.2 L507.8 668.1 L508.8 668.1 L509.8 668 L510.8 668 L511.8 667.9 L512.8 667.8 L513.8 667.7 L514.8 667.6 L515.8 667.4 L516.8 667.3 L517.8 667.2 L518.8 667 L519.8 666.9 L520.8 666.7 L521.8 666.5 L522.8 666.3 L523.8 666.1 L524.8 665.9 L525.8 665.7 L526.8 665.4 L527.8 665.2 L528.8 664.9 L529.8 664.6 L530.8 664.3 L531.8 664 L532.8 663.7 L533.8 663.3 L534.8 663 L535.8 662.6 L536.8 662.3 L537.8 661.9 L538.8 661.5 L539.8 661.1 L540.8 660.7 L541.8 660.2 L542.8 659.8 L543.8 659.3 L544.8 658.9 L545.8 658.4 L546.8 657.9 L547.8 657.4 L548.8 657 L549.8 656.5 L550.8 656 L551.8 655.4 L552.8 654.9 L553.8 654.4 L554.8 653.9 L555.8 653.4 L556.8 652.9 L557.8 652.4 L558.8 651.9 L559.8 651.3 L560.8 650.8 L561.8 650.3 L562.8 649.8 L563.8 649.3 L564.8 648.8 L565.8 648.3 L566.8 647.7 L567.8 647.2 L568.8 646.6 L569.8 646.1 L570.8 645.5 L571.8 644.9 L572.8 644.2 L573.8 643.5 L574.8 642.7 L575.8 641.9 L576.8 641 L577.8 640.1 L578.8 639 L579.8 637.8 L580.8 636.6 L581.8 635.2 L582.8 633.7 L583.8 632 L584.8 630.2 L585.8 628.3 L586.8 626.3 L587.8 624.2 L588.8 621.9 L589.8 619.5 L590.8 617.1 L591.8 614.6 L592.8 612 L593.8 609.4 L594.8 606.9 L595.8 604.4 L596.8 602 L597.8 599.7 L598.8 597.6 L599.8 595.7 L600.8 594.1 L601.8 592.8 L602.8 591.8 L603.8 591.1 L604.8 590.9 L605.8 591.1 L606.8 591.6 L607.8 592.6 L608.8 594 L609.8 595.8 L610.8 597.9 L611.8 600.3 L612.8 603 L613.8 605.9 L614.8 609 L615.8 612.2 L616.8 615.5 L617.8 618.9 L618.8 622.3 L619.8 625.7 L620.8 629 L621.8 632.2 L622.8 635.4 L623.8 638.4 L624.8 641.2 L625.8 643.9 L626.8 646.5 L627.8 648.9 L628.8 651 L629.8 653.1 L630.8 654.9 L631.8 656.6 L632.8 658.1 L633.8 659.5 L634.8 660.8 L635.8 661.9 L636.8 662.9 L637.8 663.8 L638.8 664.6 L639.8 665.3 L640.8 665.9 L641.8 666.4 L642.8 666.9 L643.8 667.4 L644.8 667.7 L645.8 668.1 L646.8 668.4 L647.8 668.7 L648.8 668.9 L649.8 669.1 L650.8 669.3 L651.8 669.5 L652.8 669.7 L653.8 669.9 L654.8 670 L655.8 670.1 L656.8 670.3 L657.8 670.4 L658.8 670.5 L659.8 670.6 L660.8 670.7 L661.8 670.8 L662.8 670.8 L663.8 670.9 L664.8 671 L665.8 671.1 L666.8 671.1 L667.8 671.2 L668.8 671.3 L669.8 671.3 L670.8 671.4 L671.8 671.4 L672.8 671.5 L673.8 671.5 L674.8 671.6 L675.8 671.6 L676.8 671.6 L677.8 671.7 L678.8 671.7 L679.8 671.8 L680.8 671.8 L681.8 671.8 L682.8 671.9 L683.8 671.9" fill="none" stroke="#111" stroke-width="1.6" stroke-linejoin="round"/>
<path d="M428.8 775 L429.8 775 L430.8 775 L431.8 775 L432.8 774.9 L433.8 774.9 L434.8 774.9 L435.8 774.9 L436.8 774.8 L437.8 774.8 L438.8 774.8 L439.8 774.7 L440.8 774.7 L441.8 774.6 L442.8 774.5 L443.8 774.5 L444.8 774.4 L445.8 774.3 L446.8 774.2 L447.8 774.1 L448.8 774.1 L449.8 774 L450.8 773.9 L451.8 773.8 L452.8 773.7 L453.8 773.6 L454.8 773.5 L455.8 773.4 L456.8 773.3 L457.8 773.2 L458.8 773.1 L459.8 773 L460.8 773 L461.8 772.9 L462.8 772.9 L463.8 772.8 L464.8 772.8 L465.8 772.8 L466.8 772.8 L467.8 772.8 L468.8 772.8 L469.8 772.9 L470.8 772.9 L471.8 773 L472.8 773.1 L473.8 773.2 L474.8 773.3 L475.8 773.4 L476.8 773.5 L477.8 773.6 L478.8 773.8 L479.8 773.9 L480.8 774 L481.8 774.1 L482.8 774.3 L483.8 774.4 L484.8 774.5 L485.8 774.7 L486.8 774.8 L487.8 774.9 L488.8 775 L489.8 775.2 L490.8 775.3 L491.8 775.4 L492.8 775.5 L493.8 775.6 L494.8 775.7 L495.8 775.7 L496.8 775.8 L497.8 775.9 L498.8 775.9 L499.8 776 L500.8 776.1 L501.8 776.1 L502.8 776.2 L503.8 776.2 L504.8 776.3 L505.8 776.3 L505.8 776.5 L504.8 776.4 L503.8 776.4 L502.8 776.4 L501.8 776.4 L500.8 776.4 L499.8 776.4 L498.8 776.3 L497.8 776.3 L496.8 776.3 L495.8 776.3 L494.8 776.3 L493.8 776.3 L492.8 776.2 L491.8 776.2 L490.8 776.2 L489.8 776.2 L488.8 776.2 L487.8 776.2 L486.8 776.1 L485.8 776.1 L484.8 776.1 L483.8 776.1 L482.8 776.1 L481.8 776.1 L480.8 776 L479.8 776 L478.8 776 L477.8 776 L476.8 776 L475.8 776 L474.8 775.9 L473.8 775.9 L472.8 775.9 L471.8 775.9 L470.8 775.9 L469.8 775.8 L468.8 775.8 L467.8 775.8 L466.8 775.8 L465.8 775.8 L464.8 775.8 L463.8 775.7 L462.8 775.7 L461.8 775.7 L460.8 775.7 L459.8 775.7 L458.8 775.7 L457.8 775.6 L456.8 775.6 L455.8 775.6 L454.8 775.6 L453.8 775.6 L452.8 775.6 L451.8 775.5 L450.8 775.5 L449.8 775.5 L448.8 775.5 L447.8 775.5 L446.8 775.5 L445.8 775.4 L444.8 775.4 L443.8 775.4 L442.8 775.4 L441.8 775.4 L440.8 775.4 L439.8 775.3 L438.8 775.3 L437.8 775.3 L436.8 775.3 L435.8 775.3 L434.8 775.2 L433.8 775.2 L432.8 775.2 L431.8 775.2 L430.8 775.2 L429.8 775.2 L428.8 775.1Z" fill="#86c4e0" stroke="none" stroke-width="0"/>
<path d="M486.8 776 L487.8 776 L488.8 776 L489.8 776 L490.8 776 L491.8 776 L492.8 776.1 L493.8 776.1 L494.8 776.1 L495.8 776.1 L496.8 776.1 L497.8 776.1 L498.8 776.1 L499.8 776.1 L500.8 776.1 L501.8 776.1 L502.8 776.1 L503.8 776 L504.8 776 L505.8 776 L506.8 776 L507.8 775.9 L508.8 775.9 L509.8 775.9 L510.8 775.8 L511.8 775.7 L512.8 775.7 L513.8 775.6 L514.8 775.5 L515.8 775.4 L516.8 775.3 L517.8 775.1 L518.8 775 L519.8 774.8 L520.8 774.7 L521.8 774.5 L522.8 774.2 L523.8 774 L524.8 773.7 L525.8 773.5 L526.8 773.2 L527.8 772.9 L528.8 772.5 L529.8 772.1 L530.8 771.8 L531.8 771.3 L532.8 770.9 L533.8 770.5 L534.8 770 L535.8 769.5 L536.8 769 L537.8 768.5 L538.8 768 L539.8 767.4 L540.8 766.9 L541.8 766.3 L542.8 765.7 L543.8 765.2 L544.8 764.6 L545.8 764.1 L546.8 763.6 L547.8 763 L548.8 762.5 L549.8 762.1 L550.8 761.6 L551.8 761.2 L552.8 760.8 L553.8 760.5 L554.8 760.2 L555.8 759.9 L556.8 759.7 L557.8 759.6 L558.8 759.5 L559.8 759.4 L560.8 759.4 L561.8 759.5 L562.8 759.6 L563.8 759.7 L564.8 760 L565.8 760.2 L566.8 760.5 L567.8 760.9 L568.8 761.3 L569.8 761.7 L570.8 762.2 L571.8 762.7 L572.8 763.2 L573.8 763.7 L574.8 764.3 L575.8 764.9 L576.8 765.5 L577.8 766 L578.8 766.6 L579.8 767.2 L580.8 767.8 L581.8 768.4 L582.8 769 L583.8 769.5 L584.8 770.1 L585.8 770.6 L586.8 771.1 L587.8 771.6 L588.8 772.1 L589.8 772.6 L590.8 773 L591.8 773.4 L592.8 773.8 L593.8 774.1 L594.8 774.5 L595.8 774.8 L596.8 775.1 L597.8 775.4 L598.8 775.7 L599.8 775.9 L600.8 776.1 L601.8 776.3 L602.8 776.5 L603.8 776.7 L604.8 776.9 L605.8 777 L606.8 777.1 L607.8 777.3 L608.8 777.4 L609.8 777.5 L610.8 777.6 L611.8 777.6 L612.8 777.7 L613.8 777.8 L614.8 777.8 L615.8 777.9 L616.8 778 L617.8 778 L618.8 778.1 L619.8 778.1 L620.8 778.1 L621.8 778.2 L622.8 778.2 L623.8 778.2 L624.8 778.3 L625.8 778.3 L626.8 778.3 L627.8 778.4 L628.8 778.4 L629.8 778.4 L630.8 778.4 L631.8 778.5 L632.8 778.5 L633.8 778.5 L633.8 778.7 L632.8 778.6 L631.8 778.6 L630.8 778.6 L629.8 778.6 L628.8 778.6 L627.8 778.6 L626.8 778.5 L625.8 778.5 L624.8 778.5 L623.8 778.5 L622.8 778.5 L621.8 778.5 L620.8 778.4 L619.8 778.4 L618.8 778.4 L617.8 778.4 L616.8 778.4 L615.8 778.3 L614.8 778.3 L613.8 778.3 L612.8 778.3 L611.8 778.3 L610.8 778.3 L609.8 778.2 L608.8 778.2 L607.8 778.2 L606.8 778.2 L605.8 778.2 L604.8 778.2 L603.8 778.1 L602.8 778.1 L601.8 778.1 L600.8 778.1 L599.8 778.1 L598.8 778.1 L597.8 778 L596.8 778 L595.8 778 L594.8 778 L593.8 778 L592.8 778 L591.8 777.9 L590.8 777.9 L589.8 777.9 L588.8 777.9 L587.8 777.9 L586.8 777.9 L585.8 777.8 L584.8 777.8 L583.8 777.8 L582.8 777.8 L581.8 777.8 L580.8 777.8 L579.8 777.7 L578.8 777.7 L577.8 777.7 L576.8 777.7 L575.8 777.7 L574.8 777.6 L573.8 777.6 L572.8 777.6 L571.8 777.6 L570.8 777.6 L569.8 777.6 L568.8 777.5 L567.8 777.5 L566.8 777.5 L565.8 777.5 L564.8 777.5 L563.8 777.5 L562.8 777.4 L561.8 777.4 L560.8 777.4 L559.8 777.4 L558.8 777.4 L557.8 777.4 L556.8 777.3 L555.8 777.3 L554.8 777.3 L553.8 777.3 L552.8 777.3 L551.8 777.3 L550.8 777.2 L549.8 777.2 L548.8 777.2 L547.8 777.2 L546.8 777.2 L545.8 777.2 L544.8 777.1 L543.8 777.1 L542.8 777.1 L541.8 777.1 L540.8 777.1 L539.8 777 L538.8 777 L537.8 777 L536.8 777 L535.8 777 L534.8 777 L533.8 776.9 L532.8 776.9 L531.8 776.9 L530.8 776.9 L529.8 776.9 L528.8 776.9 L527.8 776.8 L526.8 776.8 L525.8 776.8 L524.8 776.8 L523.8 776.8 L522.8 776.8 L521.8 776.7 L520.8 776.7 L519.8 776.7 L518.8 776.7 L517.8 776.7 L516.8 776.7 L515.8 776.6 L514.8 776.6 L513.8 776.6 L512.8 776.6 L511.8 776.6 L510.8 776.6 L509.8 776.5 L508.8 776.5 L507.8 776.5 L506.8 776.5 L505.8 776.5 L504.8 776.4 L503.8 776.4 L502.8 776.4 L501.8 776.4 L500.8 776.4 L499.8 776.4 L498.8 776.3 L497.8 776.3 L496.8 776.3 L495.8 776.3 L494.8 776.3 L493.8 776.3 L492.8 776.2 L491.8 776.2 L490.8 776.2 L489.8 776.2 L488.8 776.2 L487.8 776.2 L486.8 776.1Z" fill="url(#grn)" stroke="none" stroke-width="0" fill-opacity="0.8"/>
<path d="M491.8 776.1 L492.8 776.1 L493.8 776.1 L494.8 776.1 L495.8 776.1 L496.8 776.1 L497.8 776.2 L498.8 776.2 L499.8 776.2 L500.8 776.2 L501.8 776.2 L502.8 776.2 L503.8 776.2 L504.8 776.3 L505.8 776.3 L506.8 776.3 L507.8 776.3 L508.8 776.3 L509.8 776.3 L510.8 776.3 L511.8 776.3 L512.8 776.4 L513.8 776.4 L514.8 776.4 L515.8 776.4 L516.8 776.4 L517.8 776.4 L518.8 776.4 L519.8 776.4 L520.8 776.4 L521.8 776.5 L522.8 776.5 L523.8 776.5 L524.8 776.5 L525.8 776.5 L526.8 776.5 L527.8 776.5 L528.8 776.5 L529.8 776.5 L530.8 776.5 L531.8 776.5 L532.8 776.5 L533.8 776.5 L534.8 776.6 L535.8 776.6 L536.8 776.6 L537.8 776.6 L538.8 776.6 L539.8 776.6 L540.8 776.6 L541.8 776.6 L542.8 776.6 L543.8 776.6 L544.8 776.6 L545.8 776.6 L546.8 776.5 L547.8 776.5 L548.8 776.5 L549.8 776.5 L550.8 776.5 L551.8 776.5 L552.8 776.4 L553.8 776.4 L554.8 776.4 L555.8 776.3 L556.8 776.2 L557.8 776.1 L558.8 776 L559.8 775.9 L560.8 775.7 L561.8 775.5 L562.8 775.3 L563.8 774.9 L564.8 774.5 L565.8 774.1 L566.8 773.5 L567.8 772.8 L568.8 772 L569.8 771.1 L570.8 770 L571.8 768.7 L572.8 767.2 L573.8 765.5 L574.8 763.6 L575.8 761.4 L576.8 759 L577.8 756.3 L578.8 753.3 L579.8 750.1 L580.8 746.7 L581.8 743 L582.8 739.1 L583.8 735 L584.8 730.8 L585.8 726.5 L586.8 722.1 L587.8 717.8 L588.8 713.6 L589.8 709.5 L590.8 705.6 L591.8 702 L592.8 698.8 L593.8 696.1 L594.8 693.8 L595.8 692.1 L596.8 691 L597.8 690.6 L598.8 690.7 L599.8 691.5 L600.8 693 L601.8 695 L602.8 697.5 L603.8 700.5 L604.8 703.9 L605.8 707.7 L606.8 711.7 L607.8 715.9 L608.8 720.2 L609.8 724.6 L610.8 729 L611.8 733.3 L612.8 737.5 L613.8 741.5 L614.8 745.3 L615.8 748.9 L616.8 752.3 L617.8 755.4 L618.8 758.3 L619.8 760.9 L620.8 763.2 L621.8 765.3 L622.8 767.2 L623.8 768.8 L624.8 770.2 L625.8 771.5 L626.8 772.5 L627.8 773.5 L628.8 774.2 L629.8 774.9 L630.8 775.4 L631.8 775.9 L632.8 776.3 L633.8 776.6 L634.8 776.9 L635.8 777.1 L636.8 777.3 L637.8 777.5 L638.8 777.6 L639.8 777.7 L640.8 777.8 L641.8 777.9 L642.8 778 L643.8 778 L644.8 778.1 L645.8 778.1 L646.8 778.2 L647.8 778.2 L648.8 778.3 L649.8 778.3 L650.8 778.4 L651.8 778.4 L652.8 778.4 L653.8 778.5 L654.8 778.5 L655.8 778.5 L656.8 778.6 L657.8 778.6 L658.8 778.6 L659.8 778.7 L660.8 778.7 L661.8 778.7 L662.8 778.8 L663.8 778.8 L664.8 778.8 L665.8 778.8 L666.8 778.9 L667.8 778.9 L668.8 778.9 L669.8 779 L670.8 779 L671.8 779 L672.8 779 L673.8 779.1 L674.8 779.1 L675.8 779.1 L676.8 779.1 L677.8 779.1 L678.8 779.2 L679.8 779.2 L680.8 779.2 L681.8 779.2 L682.8 779.3 L683.8 779.3 L683.8 779.5 L682.8 779.5 L681.8 779.5 L680.8 779.5 L679.8 779.4 L678.8 779.4 L677.8 779.4 L676.8 779.4 L675.8 779.4 L674.8 779.4 L673.8 779.3 L672.8 779.3 L671.8 779.3 L670.8 779.3 L669.8 779.3 L668.8 779.3 L667.8 779.2 L666.8 779.2 L665.8 779.2 L664.8 779.2 L663.8 779.2 L662.8 779.2 L661.8 779.1 L660.8 779.1 L659.8 779.1 L658.8 779.1 L657.8 779.1 L656.8 779.1 L655.8 779 L654.8 779 L653.8 779 L652.8 779 L651.8 779 L650.8 778.9 L649.8 778.9 L648.8 778.9 L647.8 778.9 L646.8 778.9 L645.8 778.9 L644.8 778.8 L643.8 778.8 L642.8 778.8 L641.8 778.8 L640.8 778.8 L639.8 778.8 L638.8 778.7 L637.8 778.7 L636.8 778.7 L635.8 778.7 L634.8 778.7 L633.8 778.7 L632.8 778.6 L631.8 778.6 L630.8 778.6 L629.8 778.6 L628.8 778.6 L627.8 778.6 L626.8 778.5 L625.8 778.5 L624.8 778.5 L623.8 778.5 L622.8 778.5 L621.8 778.5 L620.8 778.4 L619.8 778.4 L618.8 778.4 L617.8 778.4 L616.8 778.4 L615.8 778.3 L614.8 778.3 L613.8 778.3 L612.8 778.3 L611.8 778.3 L610.8 778.3 L609.8 778.2 L608.8 778.2 L607.8 778.2 L606.8 778.2 L605.8 778.2 L604.8 778.2 L603.8 778.1 L602.8 778.1 L601.8 778.1 L600.8 778.1 L599.8 778.1 L598.8 778.1 L597.8 778 L596.8 778 L595.8 778 L594.8 778 L593.8 778 L592.8 778 L591.8 777.9 L590.8 777.9 L589.8 777.9 L588.8 777.9 L587.8 777.9 L586.8 777.9 L585.8 777.8 L584.8 777.8 L583.8 777.8 L582.8 777.8 L581.8 777.8 L580.8 777.8 L579.8 777.7 L578.8 777.7 L577.8 777.7 L576.8 777.7 L575.8 777.7 L574.8 777.6 L573.8 777.6 L572.8 777.6 L571.8 777.6 L570.8 777.6 L569.8 777.6 L568.8 777.5 L567.8 777.5 L566.8 777.5 L565.8 777.5 L564.8 777.5 L563.8 777.5 L562.8 777.4 L561.8 777.4 L560.8 777.4 L559.8 777.4 L558.8 777.4 L557.8 777.4 L556.8 777.3 L555.8 777.3 L554.8 777.3 L553.8 777.3 L552.8 777.3 L551.8 777.3 L550.8 777.2 L549.8 777.2 L548.8 777.2 L547.8 777.2 L546.8 777.2 L545.8 777.2 L544.8 777.1 L543.8 777.1 L542.8 777.1 L541.8 777.1 L540.8 777.1 L539.8 777 L538.8 777 L537.8 777 L536.8 777 L535.8 777 L534.8 777 L533.8 776.9 L532.8 776.9 L531.8 776.9 L530.8 776.9 L529.8 776.9 L528.8 776.9 L527.8 776.8 L526.8 776.8 L525.8 776.8 L524.8 776.8 L523.8 776.8 L522.8 776.8 L521.8 776.7 L520.8 776.7 L519.8 776.7 L518.8 776.7 L517.8 776.7 L516.8 776.7 L515.8 776.6 L514.8 776.6 L513.8 776.6 L512.8 776.6 L511.8 776.6 L510.8 776.6 L509.8 776.5 L508.8 776.5 L507.8 776.5 L506.8 776.5 L505.8 776.5 L504.8 776.4 L503.8 776.4 L502.8 776.4 L501.8 776.4 L500.8 776.4 L499.8 776.4 L498.8 776.3 L497.8 776.3 L496.8 776.3 L495.8 776.3 L494.8 776.3 L493.8 776.3 L492.8 776.2 L491.8 776.2Z" fill="url(#lav)" stroke="none" stroke-width="0" fill-opacity="0.8"/>
<path d="M433.8 774.9 L434.8 774.9 L435.8 774.9 L436.8 774.8 L437.8 774.8 L438.8 774.8 L439.8 774.7 L440.8 774.7 L441.8 774.6 L442.8 774.5 L443.8 774.5 L444.8 774.4 L445.8 774.3 L446.8 774.2 L447.8 774.1 L448.8 774.1 L449.8 774 L450.8 773.9 L451.8 773.8 L452.8 773.7 L453.8 773.6 L454.8 773.5 L455.8 773.4 L456.8 773.3 L457.8 773.2 L458.8 773.1 L459.8 773 L460.8 773 L461.8 772.9 L462.8 772.9 L463.8 772.8 L464.8 772.8 L465.8 772.8 L466.8 772.8 L467.8 772.8 L468.8 772.8 L469.8 772.9 L470.8 772.9 L471.8 773 L472.8 773.1 L473.8 773.2 L474.8 773.3 L475.8 773.4 L476.8 773.5 L477.8 773.6 L478.8 773.8 L479.8 773.9 L480.8 774 L481.8 774.1 L482.8 774.3 L483.8 774.4 L484.8 774.5 L485.8 774.7 L486.8 774.8 L487.8 774.9 L488.8 775 L489.8 775.2 L490.8 775.3 L491.8 775.4 L492.8 775.5 L493.8 775.6 L494.8 775.7 L495.8 775.7 L496.8 775.8 L497.8 775.9 L498.8 775.9 L499.8 776 L500.8 776.1" fill="none" stroke="#4d93b8" stroke-width="0.8" stroke-linejoin="round"/>
<path d="M500.8 776.1 L501.8 776.1 L502.8 776.1 L503.8 776 L504.8 776 L505.8 776 L506.8 776 L507.8 775.9 L508.8 775.9 L509.8 775.9 L510.8 775.8 L511.8 775.7 L512.8 775.7 L513.8 775.6 L514.8 775.5 L515.8 775.4 L516.8 775.3 L517.8 775.1 L518.8 775 L519.8 774.8 L520.8 774.7 L521.8 774.5 L522.8 774.2 L523.8 774 L524.8 773.7 L525.8 773.5 L526.8 773.2 L527.8 772.9 L528.8 772.5 L529.8 772.1 L530.8 771.8 L531.8 771.3 L532.8 770.9 L533.8 770.5 L534.8 770 L535.8 769.5 L536.8 769 L537.8 768.5 L538.8 768 L539.8 767.4 L540.8 766.9 L541.8 766.3 L542.8 765.7 L543.8 765.2 L544.8 764.6 L545.8 764.1 L546.8 763.6 L547.8 763 L548.8 762.5 L549.8 762.1 L550.8 761.6 L551.8 761.2 L552.8 760.8 L553.8 760.5 L554.8 760.2 L555.8 759.9 L556.8 759.7 L557.8 759.6 L558.8 759.5 L559.8 759.4 L560.8 759.4 L561.8 759.5 L562.8 759.6 L563.8 759.7 L564.8 760 L565.8 760.2 L566.8 760.5 L567.8 760.9 L568.8 761.3 L569.8 761.7 L570.8 762.2 L571.8 762.7 L572.8 763.2 L573.8 763.7 L574.8 764.3 L575.8 764.9 L576.8 765.5 L577.8 766 L578.8 766.6 L579.8 767.2 L580.8 767.8 L581.8 768.4 L582.8 769 L583.8 769.5 L584.8 770.1 L585.8 770.6 L586.8 771.1 L587.8 771.6 L588.8 772.1 L589.8 772.6 L590.8 773 L591.8 773.4 L592.8 773.8 L593.8 774.1 L594.8 774.5 L595.8 774.8 L596.8 775.1 L597.8 775.4 L598.8 775.7 L599.8 775.9 L600.8 776.1 L601.8 776.3 L602.8 776.5 L603.8 776.7 L604.8 776.9 L605.8 777 L606.8 777.1 L607.8 777.3 L608.8 777.4 L609.8 777.5 L610.8 777.6 L611.8 777.6 L612.8 777.7 L613.8 777.8 L614.8 777.8 L615.8 777.9 L616.8 778 L617.8 778 L618.8 778.1 L619.8 778.1" fill="none" stroke="#a8cc98" stroke-width="0.8" stroke-linejoin="round"/>
<path d="M523.8 776.5 L524.8 776.5 L525.8 776.5 L526.8 776.5 L527.8 776.5 L528.8 776.5 L529.8 776.5 L530.8 776.5 L531.8 776.5 L532.8 776.5 L533.8 776.5 L534.8 776.6 L535.8 776.6 L536.8 776.6 L537.8 776.6 L538.8 776.6 L539.8 776.6 L540.8 776.6 L541.8 776.6 L542.8 776.6 L543.8 776.6 L544.8 776.6 L545.8 776.6 L546.8 776.5 L547.8 776.5 L548.8 776.5 L549.8 776.5 L550.8 776.5 L551.8 776.5 L552.8 776.4 L553.8 776.4 L554.8 776.4 L555.8 776.3 L556.8 776.2 L557.8 776.1 L558.8 776 L559.8 775.9 L560.8 775.7 L561.8 775.5 L562.8 775.3 L563.8 774.9 L564.8 774.5 L565.8 774.1 L566.8 773.5 L567.8 772.8 L568.8 772 L569.8 771.1 L570.8 770 L571.8 768.7 L572.8 767.2 L573.8 765.5 L574.8 763.6 L575.8 761.4 L576.8 759 L577.8 756.3 L578.8 753.3 L579.8 750.1 L580.8 746.7 L581.8 743 L582.8 739.1 L583.8 735 L584.8 730.8 L585.8 726.5 L586.8 722.1 L587.8 717.8 L588.8 713.6 L589.8 709.5 L590.8 705.6 L591.8 702 L592.8 698.8 L593.8 696.1 L594.8 693.8 L595.8 692.1 L596.8 691 L597.8 690.6 L598.8 690.7 L599.8 691.5 L600.8 693 L601.8 695 L602.8 697.5 L603.8 700.5 L604.8 703.9 L605.8 707.7 L606.8 711.7 L607.8 715.9 L608.8 720.2 L609.8 724.6 L610.8 729 L611.8 733.3 L612.8 737.5 L613.8 741.5 L614.8 745.3 L615.8 748.9 L616.8 752.3 L617.8 755.4 L618.8 758.3 L619.8 760.9 L620.8 763.2 L621.8 765.3 L622.8 767.2 L623.8 768.8 L624.8 770.2 L625.8 771.5 L626.8 772.5 L627.8 773.5 L628.8 774.2 L629.8 774.9 L630.8 775.4 L631.8 775.9 L632.8 776.3 L633.8 776.6 L634.8 776.9 L635.8 777.1 L636.8 777.3 L637.8 777.5 L638.8 777.6 L639.8 777.7 L640.8 777.8 L641.8 777.9 L642.8 778 L643.8 778 L644.8 778.1 L645.8 778.1 L646.8 778.2 L647.8 778.2 L648.8 778.3 L649.8 778.3 L650.8 778.4 L651.8 778.4 L652.8 778.4 L653.8 778.5 L654.8 778.5 L655.8 778.5 L656.8 778.6 L657.8 778.6 L658.8 778.6 L659.8 778.7 L660.8 778.7 L661.8 778.7 L662.8 778.8 L663.8 778.8 L664.8 778.8 L665.8 778.8 L666.8 778.9 L667.8 778.9 L668.8 778.9 L669.8 779 L670.8 779 L671.8 779" fill="none" stroke="#a0a8da" stroke-width="0.8" stroke-linejoin="round"/>
<path d="M391.8 772.5 L392.8 773.2 L393.8 772.6 L394.8 772.7 L395.8 772.5 L396.8 774.4 L397.8 773.6 L398.8 774.1 L399.8 774.5 L400.8 774.4 L401.8 773.2 L402.8 775.3 L403.8 775.4 L404.8 773.8 L405.8 773 L406.8 774.6 L407.8 774 L408.8 774.6 L409.8 775.2 L410.8 773.7 L411.8 774.7 L412.8 773.7 L413.8 774.2 L414.8 774.7 L415.8 774.7 L416.8 774.5 L417.8 774.3 L418.8 775.4 L419.8 774.9 L420.8 775.5 L421.8 775.1 L422.8 773.4 L423.8 775.4 L424.8 775.4 L425.8 774.2 L426.8 774.8 L427.8 774.9 L428.8 773.2 L429.8 774.8 L430.8 774.2 L431.8 773.6 L432.8 774.2 L433.8 774.7 L434.8 774.8 L435.8 773.4 L436.8 775.2 L437.8 774.4 L438.8 774.7 L439.8 774.6 L440.8 774.6 L441.8 775.2 L442.8 774.3 L443.8 774.5 L444.8 774 L445.8 773.7 L446.8 773.9 L447.8 773.7 L448.8 772.1 L449.8 772.4 L450.8 772.9 L451.8 774 L452.8 772.4 L453.8 772.4 L454.8 771.6 L455.8 773.5 L456.8 773.1 L457.8 771.3 L458.8 773 L459.8 772.6 L460.8 771.3 L461.8 772.5 L462.8 772.3 L463.8 773.2 L464.8 772.6 L465.8 773.2 L466.8 772.4 L467.8 771.5 L468.8 773.5 L469.8 770.8 L470.8 772.7 L471.8 772 L472.8 773 L473.8 771.6 L474.8 773 L475.8 772.7 L476.8 771.4 L477.8 773.4 L478.8 773 L479.8 772.3 L480.8 774 L481.8 774.2 L482.8 774.8 L483.8 773.1 L484.8 772.3 L485.8 774.1 L486.8 774.8 L487.8 775 L488.8 773.4 L489.8 774.6 L490.8 775.2 L491.8 775.2 L492.8 774 L493.8 773.4 L494.8 774.7 L495.8 775.5 L496.8 773.7 L497.8 774.7 L498.8 775.5 L499.8 775.1 L500.8 775.4 L501.8 774.3 L502.8 775.7 L503.8 775.8 L504.8 775.6 L505.8 775.5 L506.8 774.9 L507.8 776.5 L508.8 775.9 L509.8 776.3 L510.8 774.6 L511.8 774.6 L512.8 775.6 L513.8 774.8 L514.8 773.4 L515.8 774.7 L516.8 775 L517.8 773.8 L518.8 774.9 L519.8 774.5 L520.8 774.8 L521.8 773.4 L522.8 773.9 L523.8 772.9 L524.8 772.7 L525.8 773.3 L526.8 771.3 L527.8 772.5 L528.8 770.4 L529.8 771.9 L530.8 769.6 L531.8 770.9 L532.8 769.3 L533.8 769.4 L534.8 769.5 L535.8 768.5 L536.8 767.7 L537.8 768.2 L538.8 767.1 L539.8 766.3 L540.8 767.2 L541.8 765.8 L542.8 764.5 L543.8 764.6 L544.8 764 L545.8 763.4 L546.8 761.6 L547.8 762.2 L548.8 761.8 L549.8 761.6 L550.8 759.7 L551.8 761 L552.8 758.3 L553.8 760 L554.8 759 L555.8 759.3 L556.8 757.1 L557.8 757.5 L558.8 756.6 L559.8 756.9 L560.8 758.3 L561.8 757.5 L562.8 757.3 L563.8 757.3 L564.8 755.5 L565.8 756.6 L566.8 756.4 L567.8 755 L568.8 755.1 L569.8 755.5 L570.8 754.5 L571.8 753.1 L572.8 752.9 L573.8 749.7 L574.8 751.1 L575.8 747.3 L576.8 747.1 L577.8 743.1 L578.8 742 L579.8 739.8 L580.8 736.2 L581.8 733.5 L582.8 730.2 L583.8 726.6 L584.8 723.5 L585.8 718.8 L586.8 713.6 L587.8 710.8 L588.8 705.9 L589.8 703.8 L590.8 699.4 L591.8 697.5 L592.8 694.3 L593.8 692.3 L594.8 691 L595.8 688.8 L596.8 687.2 L597.8 687.5 L598.8 686.8 L599.8 689.1 L600.8 690.9 L601.8 693.1 L602.8 696.3 L603.8 697.1 L604.8 702.6 L605.8 706.2 L606.8 709.6 L607.8 713.3 L608.8 719.2 L609.8 723.8 L610.8 726.5 L611.8 733.4 L612.8 735.7 L613.8 739.7 L614.8 743.9 L615.8 748.1 L616.8 752.4 L617.8 754 L618.8 757.9 L619.8 759.6 L620.8 763 L621.8 765.9 L622.8 766 L623.8 768.3 L624.8 770.3 L625.8 769.5 L626.8 772.7 L627.8 771.3 L628.8 773.9 L629.8 774.7 L630.8 776 L631.8 774.5 L632.8 775.4 L633.8 776.5 L634.8 776.7 L635.8 776.6 L636.8 776.8 L637.8 775.5 L638.8 776.3 L639.8 775.8 L640.8 775.8 L641.8 777.8 L642.8 777.1 L643.8 776.2 L644.8 776.4 L645.8 778.2 L646.8 777.1 L647.8 777.7 L648.8 778.9 L649.8 776.3 L650.8 778 L651.8 778.7 L652.8 778.5 L653.8 777.8 L654.8 777.2 L655.8 778.4 L656.8 777.4 L657.8 778.1 L658.8 777.1 L659.8 778.5 L660.8 777.8 L661.8 778.9 L662.8 778.7 L663.8 778.4 L664.8 778.5 L665.8 778.8 L666.8 779 L667.8 778.8 L668.8 778.6 L669.8 778.7 L670.8 778.6 L671.8 778.8 L672.8 777.7 L673.8 778.2 L674.8 778.5 L675.8 777.7 L676.8 777.7 L677.8 778 L678.8 778.7 L679.8 778.7 L680.8 778.2 L681.8 779 L682.8 777.6 L683.8 779.9" fill="none" stroke="#8c8c8c" stroke-width="0.8" stroke-linejoin="round"/>
<path d="M391.8 774.5 L392.8 774.5 L393.8 774.5 L394.8 774.6 L395.8 774.6 L396.8 774.6 L397.8 774.6 L398.8 774.6 L399.8 774.7 L400.8 774.7 L401.8 774.7 L402.8 774.7 L403.8 774.7 L404.8 774.7 L405.8 774.8 L406.8 774.8 L407.8 774.8 L408.8 774.8 L409.8 774.8 L410.8 774.8 L411.8 774.9 L412.8 774.9 L413.8 774.9 L414.8 774.9 L415.8 774.9 L416.8 774.9 L417.8 775 L418.8 775 L419.8 775 L420.8 775 L421.8 775 L422.8 775 L423.8 775.1 L424.8 775.1 L425.8 775.1 L426.8 775.1 L427.8 775.1 L428.8 775.1 L429.8 775.2 L430.8 775.2 L431.8 775.2 L432.8 775.2 L433.8 775.2 L434.8 775.2 L435.8 775.3 L436.8 775.3 L437.8 775.3 L438.8 775.3 L439.8 775.3 L440.8 775.4 L441.8 775.4 L442.8 775.4 L443.8 775.4 L444.8 775.4 L445.8 775.4 L446.8 775.5 L447.8 775.5 L448.8 775.5 L449.8 775.5 L450.8 775.5 L451.8 775.5 L452.8 775.6 L453.8 775.6 L454.8 775.6 L455.8 775.6 L456.8 775.6 L457.8 775.6 L458.8 775.7 L459.8 775.7 L460.8 775.7 L461.8 775.7 L462.8 775.7 L463.8 775.7 L464.8 775.8 L465.8 775.8 L466.8 775.8 L467.8 775.8 L468.8 775.8 L469.8 775.8 L470.8 775.9 L471.8 775.9 L472.8 775.9 L473.8 775.9 L474.8 775.9 L475.8 776 L476.8 776 L477.8 776 L478.8 776 L479.8 776 L480.8 776 L481.8 776.1 L482.8 776.1 L483.8 776.1 L484.8 776.1 L485.8 776.1 L486.8 776.1 L487.8 776.2 L488.8 776.2 L489.8 776.2 L490.8 776.2 L491.8 776.2 L492.8 776.2 L493.8 776.3 L494.8 776.3 L495.8 776.3 L496.8 776.3 L497.8 776.3 L498.8 776.3 L499.8 776.4 L500.8 776.4 L501.8 776.4 L502.8 776.4 L503.8 776.4 L504.8 776.4 L505.8 776.5 L506.8 776.5 L507.8 776.5 L508.8 776.5 L509.8 776.5 L510.8 776.6 L511.8 776.6 L512.8 776.6 L513.8 776.6 L514.8 776.6 L515.8 776.6 L516.8 776.7 L517.8 776.7 L518.8 776.7 L519.8 776.7 L520.8 776.7 L521.8 776.7 L522.8 776.8 L523.8 776.8 L524.8 776.8 L525.8 776.8 L526.8 776.8 L527.8 776.8 L528.8 776.9 L529.8 776.9 L530.8 776.9 L531.8 776.9 L532.8 776.9 L533.8 776.9 L534.8 777 L535.8 777 L536.8 777 L537.8 777 L538.8 777 L539.8 777 L540.8 777.1 L541.8 777.1 L542.8 777.1 L543.8 777.1 L544.8 777.1 L545.8 777.2 L546.8 777.2 L547.8 777.2 L548.8 777.2 L549.8 777.2 L550.8 777.2 L551.8 777.3 L552.8 777.3 L553.8 777.3 L554.8 777.3 L555.8 777.3 L556.8 777.3 L557.8 777.4 L558.8 777.4 L559.8 777.4 L560.8 777.4 L561.8 777.4 L562.8 777.4 L563.8 777.5 L564.8 777.5 L565.8 777.5 L566.8 777.5 L567.8 777.5 L568.8 777.5 L569.8 777.6 L570.8 777.6 L571.8 777.6 L572.8 777.6 L573.8 777.6 L574.8 777.6 L575.8 777.7 L576.8 777.7 L577.8 777.7 L578.8 777.7 L579.8 777.7 L580.8 777.8 L581.8 777.8 L582.8 777.8 L583.8 777.8 L584.8 777.8 L585.8 777.8 L586.8 777.9 L587.8 777.9 L588.8 777.9 L589.8 777.9 L590.8 777.9 L591.8 777.9 L592.8 778 L593.8 778 L594.8 778 L595.8 778 L596.8 778 L597.8 778 L598.8 778.1 L599.8 778.1 L600.8 778.1 L601.8 778.1 L602.8 778.1 L603.8 778.1 L604.8 778.2 L605.8 778.2 L606.8 778.2 L607.8 778.2 L608.8 778.2 L609.8 778.2 L610.8 778.3 L611.8 778.3 L612.8 778.3 L613.8 778.3 L614.8 778.3 L615.8 778.3 L616.8 778.4 L617.8 778.4 L618.8 778.4 L619.8 778.4 L620.8 778.4 L621.8 778.5 L622.8 778.5 L623.8 778.5 L624.8 778.5 L625.8 778.5 L626.8 778.5 L627.8 778.6 L628.8 778.6 L629.8 778.6 L630.8 778.6 L631.8 778.6 L632.8 778.6 L633.8 778.7 L634.8 778.7 L635.8 778.7 L636.8 778.7 L637.8 778.7 L638.8 778.7 L639.8 778.8 L640.8 778.8 L641.8 778.8 L642.8 778.8 L643.8 778.8 L644.8 778.8 L645.8 778.9 L646.8 778.9 L647.8 778.9 L648.8 778.9 L649.8 778.9 L650.8 778.9 L651.8 779 L652.8 779 L653.8 779 L654.8 779 L655.8 779 L656.8 779.1 L657.8 779.1 L658.8 779.1 L659.8 779.1 L660.8 779.1 L661.8 779.1 L662.8 779.2 L663.8 779.2 L664.8 779.2 L665.8 779.2 L666.8 779.2 L667.8 779.2 L668.8 779.3 L669.8 779.3 L670.8 779.3 L671.8 779.3 L672.8 779.3 L673.8 779.3 L674.8 779.4 L675.8 779.4 L676.8 779.4 L677.8 779.4 L678.8 779.4 L679.8 779.4 L680.8 779.5 L681.8 779.5 L682.8 779.5 L683.8 779.5" fill="none" stroke="#2a1f2e" stroke-width="1.2" stroke-linejoin="round"/>
<path d="M391.8 774.4 L392.8 774.4 L393.8 774.5 L394.8 774.5 L395.8 774.5 L396.8 774.5 L397.8 774.5 L398.8 774.5 L399.8 774.6 L400.8 774.6 L401.8 774.6 L402.8 774.6 L403.8 774.6 L404.8 774.6 L405.8 774.6 L406.8 774.7 L407.8 774.7 L408.8 774.7 L409.8 774.7 L410.8 774.7 L411.8 774.7 L412.8 774.8 L413.8 774.8 L414.8 774.8 L415.8 774.8 L416.8 774.8 L417.8 774.8 L418.8 774.8 L419.8 774.8 L420.8 774.8 L421.8 774.9 L422.8 774.9 L423.8 774.9 L424.8 774.9 L425.8 774.9 L426.8 774.9 L427.8 774.9 L428.8 774.9 L429.8 774.9 L430.8 774.9 L431.8 774.8 L432.8 774.8 L433.8 774.8 L434.8 774.8 L435.8 774.8 L436.8 774.7 L437.8 774.7 L438.8 774.6 L439.8 774.6 L440.8 774.5 L441.8 774.5 L442.8 774.4 L443.8 774.3 L444.8 774.3 L445.8 774.2 L446.8 774.1 L447.8 774 L448.8 773.9 L449.8 773.8 L450.8 773.7 L451.8 773.6 L452.8 773.5 L453.8 773.4 L454.8 773.3 L455.8 773.2 L456.8 773.1 L457.8 773 L458.8 772.9 L459.8 772.9 L460.8 772.8 L461.8 772.7 L462.8 772.7 L463.8 772.6 L464.8 772.6 L465.8 772.6 L466.8 772.6 L467.8 772.6 L468.8 772.6 L469.8 772.7 L470.8 772.7 L471.8 772.8 L472.8 772.9 L473.8 773 L474.8 773.1 L475.8 773.2 L476.8 773.3 L477.8 773.4 L478.8 773.5 L479.8 773.6 L480.8 773.8 L481.8 773.9 L482.8 774 L483.8 774.1 L484.8 774.3 L485.8 774.4 L486.8 774.5 L487.8 774.6 L488.8 774.7 L489.8 774.8 L490.8 774.9 L491.8 775 L492.8 775.1 L493.8 775.2 L494.8 775.3 L495.8 775.3 L496.8 775.4 L497.8 775.5 L498.8 775.5 L499.8 775.6 L500.8 775.6 L501.8 775.6 L502.8 775.6 L503.8 775.6 L504.8 775.6 L505.8 775.6 L506.8 775.6 L507.8 775.6 L508.8 775.6 L509.8 775.5 L510.8 775.5 L511.8 775.4 L512.8 775.4 L513.8 775.3 L514.8 775.2 L515.8 775.1 L516.8 775 L517.8 774.8 L518.8 774.7 L519.8 774.5 L520.8 774.3 L521.8 774.1 L522.8 773.9 L523.8 773.7 L524.8 773.4 L525.8 773.1 L526.8 772.8 L527.8 772.5 L528.8 772.1 L529.8 771.8 L530.8 771.4 L531.8 771 L532.8 770.5 L533.8 770 L534.8 769.6 L535.8 769.1 L536.8 768.6 L537.8 768 L538.8 767.5 L539.8 766.9 L540.8 766.3 L541.8 765.8 L542.8 765.2 L543.8 764.6 L544.8 764 L545.8 763.5 L546.8 762.9 L547.8 762.4 L548.8 761.9 L549.8 761.3 L550.8 760.9 L551.8 760.4 L552.8 760 L553.8 759.6 L554.8 759.2 L555.8 758.9 L556.8 758.6 L557.8 758.3 L558.8 758.1 L559.8 757.9 L560.8 757.7 L561.8 757.5 L562.8 757.4 L563.8 757.2 L564.8 757 L565.8 756.8 L566.8 756.5 L567.8 756.2 L568.8 755.8 L569.8 755.2 L570.8 754.6 L571.8 753.8 L572.8 752.8 L573.8 751.6 L574.8 750.2 L575.8 748.6 L576.8 746.7 L577.8 744.6 L578.8 742.3 L579.8 739.6 L580.8 736.7 L581.8 733.6 L582.8 730.3 L583.8 726.7 L584.8 723 L585.8 719.2 L586.8 715.4 L587.8 711.5 L588.8 707.8 L589.8 704.1 L590.8 700.7 L591.8 697.5 L592.8 694.7 L593.8 692.3 L594.8 690.3 L595.8 688.9 L596.8 688.1 L597.8 687.9 L598.8 688.3 L599.8 689.4 L600.8 691 L601.8 693.2 L602.8 695.9 L603.8 699.1 L604.8 702.6 L605.8 706.5 L606.8 710.6 L607.8 714.9 L608.8 719.3 L609.8 723.8 L610.8 728.3 L611.8 732.6 L612.8 736.9 L613.8 741 L614.8 744.8 L615.8 748.5 L616.8 751.9 L617.8 755.1 L618.8 758 L619.8 760.6 L620.8 762.9 L621.8 765.1 L622.8 766.9 L623.8 768.6 L624.8 770 L625.8 771.3 L626.8 772.3 L627.8 773.3 L628.8 774 L629.8 774.7 L630.8 775.3 L631.8 775.7 L632.8 776.1 L633.8 776.4 L634.8 776.7 L635.8 777 L636.8 777.1 L637.8 777.3 L638.8 777.4 L639.8 777.6 L640.8 777.7 L641.8 777.8 L642.8 777.8 L643.8 777.9 L644.8 778 L645.8 778 L646.8 778.1 L647.8 778.1 L648.8 778.2 L649.8 778.2 L650.8 778.3 L651.8 778.3 L652.8 778.3 L653.8 778.4 L654.8 778.4 L655.8 778.5 L656.8 778.5 L657.8 778.5 L658.8 778.6 L659.8 778.6 L660.8 778.6 L661.8 778.6 L662.8 778.7 L663.8 778.7 L664.8 778.7 L665.8 778.8 L666.8 778.8 L667.8 778.8 L668.8 778.9 L669.8 778.9 L670.8 778.9 L671.8 778.9 L672.8 779 L673.8 779 L674.8 779 L675.8 779 L676.8 779.1 L677.8 779.1 L678.8 779.1 L679.8 779.1 L680.8 779.2 L681.8 779.2 L682.8 779.2 L683.8 779.2" fill="none" stroke="#111" stroke-width="1.6" stroke-linejoin="round"/>
<rect x="391" y="568.8" width="293.4" height="228.7" fill="none" stroke="#000" stroke-width="1.6"/>
<line x1="391" y1="797.5" x2="391" y2="801" stroke="#000" stroke-width="1.5" stroke-linecap="butt"/>
<line x1="435.9" y1="797.5" x2="435.9" y2="801" stroke="#000" stroke-width="1.5" stroke-linecap="butt"/>
<line x1="480.8" y1="797.5" x2="480.8" y2="801" stroke="#000" stroke-width="1.5" stroke-linecap="butt"/>
<line x1="525.8" y1="797.5" x2="525.8" y2="801" stroke="#000" stroke-width="1.5" stroke-linecap="butt"/>
<line x1="570.7" y1="797.5" x2="570.7" y2="801" stroke="#000" stroke-width="1.5" stroke-linecap="butt"/>
<line x1="615.6" y1="797.5" x2="615.6" y2="801" stroke="#000" stroke-width="1.5" stroke-linecap="butt"/>
<line x1="660.5" y1="797.5" x2="660.5" y2="801" stroke="#000" stroke-width="1.5" stroke-linecap="butt"/>
<line x1="413.5" y1="797.5" x2="413.5" y2="799.7" stroke="#000" stroke-width="1.3" stroke-linecap="butt"/>
<line x1="458.4" y1="797.5" x2="458.4" y2="799.7" stroke="#000" stroke-width="1.3" stroke-linecap="butt"/>
<line x1="503.3" y1="797.5" x2="503.3" y2="799.7" stroke="#000" stroke-width="1.3" stroke-linecap="butt"/>
<line x1="548.2" y1="797.5" x2="548.2" y2="799.7" stroke="#000" stroke-width="1.3" stroke-linecap="butt"/>
<line x1="593.1" y1="797.5" x2="593.1" y2="799.7" stroke="#000" stroke-width="1.3" stroke-linecap="butt"/>
<line x1="638" y1="797.5" x2="638" y2="799.7" stroke="#000" stroke-width="1.3" stroke-linecap="butt"/>
<text transform="translate(391 819) scale(1 1.09)" font-size="13.5" font-weight="bold" text-anchor="middle" fill="#231f20"><tspan>408</tspan></text>
<text transform="translate(435.92 819) scale(1 1.09)" font-size="13.5" font-weight="bold" text-anchor="middle" fill="#231f20"><tspan>406</tspan></text>
<text transform="translate(480.83 819) scale(1 1.09)" font-size="13.5" font-weight="bold" text-anchor="middle" fill="#231f20"><tspan>404</tspan></text>
<text transform="translate(525.75 819) scale(1 1.09)" font-size="13.5" font-weight="bold" text-anchor="middle" fill="#231f20"><tspan>402</tspan></text>
<text transform="translate(570.67 819) scale(1 1.09)" font-size="13.5" font-weight="bold" text-anchor="middle" fill="#231f20"><tspan>400</tspan></text>
<text transform="translate(615.58 819) scale(1 1.09)" font-size="13.5" font-weight="bold" text-anchor="middle" fill="#231f20"><tspan>398</tspan></text>
<text transform="translate(660.5 819) scale(1 1.09)" font-size="13.5" font-weight="bold" text-anchor="middle" fill="#231f20"><tspan>396</tspan></text>
<text transform="translate(538.5 841.2) scale(1 1.09)" font-size="14" font-weight="bold" text-anchor="middle" fill="#231f20"><tspan>Binding energy (eV)</tspan></text>
<text transform="translate(380.3 679.6) rotate(-90) scale(1 1.09)" font-size="14" font-weight="bold" text-anchor="middle" fill="#231f20"><tspan>Intensity (arb.u.)</tspan></text>
<text transform="translate(395.75 581.5) scale(1 1.09)" font-size="7.8" font-weight="bold" text-anchor="start" fill="#231f20"><tspan>N 1s</tspan></text>
<text transform="translate(395.75 682.3) scale(1 1.09)" font-size="7.8" font-weight="bold" text-anchor="start" fill="#231f20"><tspan>Cu</tspan><tspan dy="2.2" font-size="5.3">2</tspan><tspan dy="-2.2">O/g-C</tspan><tspan dy="2.2" font-size="5.3">3</tspan><tspan dy="-2.2">N</tspan><tspan dy="2.2" font-size="5.3">4</tspan><tspan dy="-2.2">-0.2</tspan></text>
<text transform="translate(395.75 788.5) scale(1 1.09)" font-size="7.8" font-weight="bold" text-anchor="start" fill="#231f20"><tspan>g-C</tspan><tspan dy="2.2" font-size="5.3">3</tspan><tspan dy="-2.2">N</tspan><tspan dy="2.2" font-size="5.3">4</tspan><tspan dy="-2.2"> NSs</tspan></text>
<text transform="translate(605.2 584) scale(1 1.09)" font-size="7.8" font-weight="bold" text-anchor="middle" fill="#231f20"><tspan>398.50eV</tspan></text>
<text transform="translate(563 632.8) scale(1 1.09)" font-size="7.8" font-weight="bold" text-anchor="middle" fill="#231f20"><tspan>399.55eV</tspan></text>
<text transform="translate(468.25 654.5) scale(1 1.09)" font-size="7.8" font-weight="bold" text-anchor="middle" fill="#231f20"><tspan>404.50eV</tspan></text>
<text transform="translate(599.7 682) scale(1 1.09)" font-size="7.8" font-weight="bold" text-anchor="middle" fill="#231f20"><tspan>398.80eV</tspan></text>
<text transform="translate(557.3 749.4) scale(1 1.09)" font-size="7.8" font-weight="bold" text-anchor="middle" fill="#231f20"><tspan>400.60eV</tspan></text>
<text transform="translate(468.25 762.8) scale(1 1.09)" font-size="7.8" font-weight="bold" text-anchor="middle" fill="#231f20"><tspan>404.60eV</tspan></text>
<line x1="605.4" y1="595.7" x2="605.4" y2="621.2" stroke="#000" stroke-width="1.7" stroke-linecap="butt" stroke-dasharray="1.5 1.5"/>
<line x1="585.4" y1="635.5" x2="585.4" y2="661" stroke="#000" stroke-width="1.7" stroke-linecap="butt" stroke-dasharray="1.5 1.5"/>
<line x1="469.5" y1="658" x2="469.5" y2="666" stroke="#000" stroke-width="1.7" stroke-linecap="butt" stroke-dasharray="1.5 1.5"/>
<line x1="599.7" y1="685.3" x2="599.7" y2="709.9" stroke="#000" stroke-width="1.7" stroke-linecap="butt" stroke-dasharray="1.5 1.5"/>
<line x1="556.4" y1="752.8" x2="556.4" y2="770.1" stroke="#000" stroke-width="1.7" stroke-linecap="butt" stroke-dasharray="1.5 1.5"/>
<line x1="468.2" y1="766" x2="468.2" y2="773.5" stroke="#000" stroke-width="1.7" stroke-linecap="butt" stroke-dasharray="1.5 1.5"/>
<text transform="translate(-1.2 877.5)" font-size="21" font-weight="bold" text-anchor="start" fill="#111"><tspan>g</tspan></text>
<path d="M55.8 952.7 L56.8 952.7 L57.8 952.7 L58.8 952.8 L59.8 952.8 L60.8 952.8 L61.8 952.8 L62.8 952.9 L63.8 952.9 L64.8 952.9 L65.8 953 L66.8 953 L67.8 953 L68.8 953 L69.8 953.1 L70.8 953.1 L71.8 953.1 L72.8 953.1 L73.8 953.1 L74.8 953.2 L75.8 953.2 L76.8 953.2 L77.8 953.2 L78.8 953.2 L79.8 953.2 L80.8 953.2 L81.8 953.2 L82.8 953.2 L83.8 953.1 L84.8 953.1 L85.8 953 L86.8 952.9 L87.8 952.8 L88.8 952.6 L89.8 952.4 L90.8 952.1 L91.8 951.8 L92.8 951.4 L93.8 950.9 L94.8 950.3 L95.8 949.7 L96.8 948.9 L97.8 948 L98.8 947.1 L99.8 946 L100.8 944.8 L101.8 943.5 L102.8 942.1 L103.8 940.6 L104.8 939.1 L105.8 937.5 L106.8 935.9 L107.8 934.2 L108.8 932.6 L109.8 931.1 L110.8 929.6 L111.8 928.3 L112.8 927.2 L113.8 926.3 L114.8 925.6 L115.8 925.1 L116.8 925 L117.8 925.1 L118.8 925.6 L119.8 926.3 L120.8 927.4 L121.8 928.7 L122.8 930.3 L123.8 932.1 L124.8 934.1 L125.8 936.2 L126.8 938.4 L127.8 940.7 L128.8 943 L129.8 945.2 L130.8 947.5 L131.8 949.7 L132.8 951.8 L133.8 953.8 L134.8 955.6 L135.8 957.4 L136.8 959 L137.8 960.5 L138.8 961.8 L139.8 963 L140.8 964 L141.8 965 L142.8 965.8 L143.8 966.5 L144.8 967.1 L145.8 967.6 L146.8 968.1 L147.8 968.5 L148.8 968.8 L149.8 969.1 L150.8 969.3 L151.8 969.5 L152.8 969.7 L153.8 969.8 L154.8 969.9 L155.8 970.1 L156.8 970.1 L157.8 970.2 L158.8 970.3 L159.8 970.4 L160.8 970.4 L161.8 970.5 L162.8 970.6 L163.8 970.6 L164.8 970.7 L165.8 970.7 L166.8 970.8 L167.8 970.8 L168.8 970.8 L169.8 970.9 L170.8 970.9 L171.8 971 L172.8 971 L173.8 971.1 L174.8 971.1 L175.8 971.1 L176.8 971.2 L177.8 971.2 L178.8 971.3 L179.8 971.3 L180.8 971.3 L181.8 971.4 L181.8 971.5 L180.8 971.5 L179.8 971.5 L178.8 971.4 L177.8 971.4 L176.8 971.4 L175.8 971.3 L174.8 971.3 L173.8 971.3 L172.8 971.2 L171.8 971.2 L170.8 971.2 L169.8 971.1 L168.8 971.1 L167.8 971 L166.8 971 L165.8 971 L164.8 970.9 L163.8 970.9 L162.8 970.9 L161.8 970.8 L160.8 970.8 L159.8 970.8 L158.8 970.7 L157.8 970.7 L156.8 970.6 L155.8 970.6 L154.8 970.5 L153.8 970.5 L152.8 970.4 L151.8 970.4 L150.8 970.3 L149.8 970.3 L148.8 970.2 L147.8 970.2 L146.8 970.1 L145.8 970 L144.8 969.9 L143.8 969.9 L142.8 969.8 L141.8 969.7 L140.8 969.5 L139.8 969.4 L138.8 969.3 L137.8 969.1 L136.8 969 L135.8 968.8 L134.8 968.6 L133.8 968.4 L132.8 968.1 L131.8 967.9 L130.8 967.6 L129.8 967.2 L128.8 966.9 L127.8 966.5 L126.8 966.1 L125.8 965.7 L124.8 965.2 L123.8 964.7 L122.8 964.2 L121.8 963.7 L120.8 963.2 L119.8 962.6 L118.8 962.1 L117.8 961.5 L116.8 961 L115.8 960.4 L114.8 959.9 L113.8 959.4 L112.8 959 L111.8 958.5 L110.8 958.1 L109.8 957.7 L108.8 957.3 L107.8 957 L106.8 956.7 L105.8 956.4 L104.8 956.1 L103.8 955.9 L102.8 955.7 L101.8 955.5 L100.8 955.3 L99.8 955.2 L98.8 955 L97.8 954.9 L96.8 954.8 L95.8 954.7 L94.8 954.6 L93.8 954.5 L92.8 954.4 L91.8 954.3 L90.8 954.2 L89.8 954.2 L88.8 954.1 L87.8 954.1 L86.8 954 L85.8 954 L84.8 953.9 L83.8 953.9 L82.8 953.8 L81.8 953.8 L80.8 953.7 L79.8 953.7 L78.8 953.6 L77.8 953.6 L76.8 953.6 L75.8 953.5 L74.8 953.5 L73.8 953.4 L72.8 953.4 L71.8 953.4 L70.8 953.3 L69.8 953.3 L68.8 953.3 L67.8 953.2 L66.8 953.2 L65.8 953.2 L64.8 953.1 L63.8 953.1 L62.8 953.1 L61.8 953 L60.8 953 L59.8 953 L58.8 952.9 L57.8 952.9 L56.8 952.9 L55.8 952.8Z" fill="url(#grn)" stroke="none" stroke-width="0"/>
<path d="M142.8 969.6 L143.8 969.7 L144.8 969.7 L145.8 969.7 L146.8 969.7 L147.8 969.7 L148.8 969.7 L149.8 969.6 L150.8 969.5 L151.8 969.4 L152.8 969.3 L153.8 969.1 L154.8 968.9 L155.8 968.6 L156.8 968.3 L157.8 968 L158.8 967.7 L159.8 967.3 L160.8 966.9 L161.8 966.5 L162.8 966.1 L163.8 965.6 L164.8 965.2 L165.8 964.8 L166.8 964.4 L167.8 964 L168.8 963.7 L169.8 963.4 L170.8 963.2 L171.8 963 L172.8 963 L173.8 963 L174.8 963 L175.8 963.2 L176.8 963.4 L177.8 963.7 L178.8 964 L179.8 964.4 L180.8 964.9 L181.8 965.3 L182.8 965.8 L183.8 966.3 L184.8 966.8 L185.8 967.3 L186.8 967.8 L187.8 968.3 L188.8 968.7 L189.8 969.2 L190.8 969.5 L191.8 969.9 L192.8 970.2 L193.8 970.5 L194.8 970.8 L195.8 971 L196.8 971.2 L197.8 971.4 L198.8 971.5 L199.8 971.7 L200.8 971.7 L201.8 971.8 L202.8 971.9 L203.8 971.9 L204.8 971.9 L204.8 972.1 L203.8 972.1 L202.8 972.1 L201.8 972.1 L200.8 972.1 L199.8 972.1 L198.8 972.1 L197.8 972.1 L196.8 972 L195.8 972 L194.8 972 L193.8 971.9 L192.8 971.9 L191.8 971.9 L190.8 971.8 L189.8 971.8 L188.8 971.8 L187.8 971.7 L186.8 971.7 L185.8 971.7 L184.8 971.6 L183.8 971.6 L182.8 971.6 L181.8 971.5 L180.8 971.5 L179.8 971.5 L178.8 971.4 L177.8 971.4 L176.8 971.4 L175.8 971.3 L174.8 971.3 L173.8 971.3 L172.8 971.2 L171.8 971.2 L170.8 971.2 L169.8 971.1 L168.8 971.1 L167.8 971 L166.8 971 L165.8 971 L164.8 970.9 L163.8 970.9 L162.8 970.9 L161.8 970.8 L160.8 970.8 L159.8 970.8 L158.8 970.7 L157.8 970.7 L156.8 970.6 L155.8 970.6 L154.8 970.5 L153.8 970.5 L152.8 970.4 L151.8 970.4 L150.8 970.3 L149.8 970.3 L148.8 970.2 L147.8 970.2 L146.8 970.1 L145.8 970 L144.8 969.9 L143.8 969.9 L142.8 969.8Z" fill="#b3dcea" stroke="none" stroke-width="0"/>
<path d="M201.8 971.9 L202.8 971.9 L203.8 971.9 L204.8 971.9 L205.8 971.9 L206.8 971.9 L207.8 971.9 L208.8 971.9 L209.8 971.9 L210.8 971.9 L211.8 971.9 L212.8 971.9 L213.8 971.9 L214.8 971.9 L215.8 971.9 L216.8 971.9 L217.8 971.8 L218.8 971.8 L219.8 971.8 L220.8 971.8 L221.8 971.8 L222.8 971.8 L223.8 971.8 L224.8 971.8 L225.8 971.8 L226.8 971.8 L227.8 971.7 L228.8 971.7 L229.8 971.7 L230.8 971.7 L231.8 971.7 L232.8 971.7 L233.8 971.6 L234.8 971.6 L235.8 971.6 L236.8 971.6 L237.8 971.6 L238.8 971.5 L239.8 971.5 L240.8 971.5 L241.8 971.4 L242.8 971.3 L243.8 971.2 L244.8 971.1 L245.8 970.9 L246.8 970.6 L247.8 970.2 L248.8 969.7 L249.8 969 L250.8 968.1 L251.8 966.9 L252.8 965.5 L253.8 963.6 L254.8 961.4 L255.8 958.6 L256.8 955.4 L257.8 951.6 L258.8 947.4 L259.8 942.6 L260.8 937.5 L261.8 932 L262.8 926.3 L263.8 920.6 L264.8 915 L265.8 909.8 L266.8 905.2 L267.8 901.4 L268.8 898.6 L269.8 896.9 L270.8 896.6 L271.8 897.6 L272.8 899.8 L273.8 903.3 L274.8 907.8 L275.8 913.2 L276.8 919.1 L277.8 925.5 L278.8 932 L279.8 938.5 L280.8 944.8 L281.8 950.8 L282.8 956.3 L283.8 961.3 L284.8 965.7 L285.8 969.6 L286.8 972.9 L287.8 975.6 L288.8 977.9 L289.8 979.8 L290.8 981.3 L291.8 982.5 L292.8 983.4 L293.8 984.1 L294.8 984.7 L295.8 985.1 L296.8 985.4 L297.8 985.7 L298.8 985.9 L299.8 986 L300.8 986.1 L301.8 986.2 L302.8 986.3 L303.8 986.4 L304.8 986.4 L305.8 986.5 L306.8 986.5 L307.8 986.5 L308.8 986.6 L309.8 986.6 L310.8 986.6 L311.8 986.6 L312.8 986.7 L313.8 986.7 L314.8 986.7 L315.8 986.7 L316.8 986.7 L317.8 986.8 L318.8 986.8 L319.8 986.8 L320.8 986.8 L321.8 986.8 L322.8 986.8 L323.8 986.8 L324.8 986.8 L325.8 986.9 L326.8 986.9 L327.8 986.9 L328.8 986.9 L329.8 986.9 L330.8 986.9 L331.8 986.9 L332.8 986.9 L333.8 986.9 L334.8 986.9 L334.8 987.1 L333.8 987.1 L332.8 987.1 L331.8 987.1 L330.8 987.1 L329.8 987.1 L328.8 987.1 L327.8 987.1 L326.8 987.1 L325.8 987.1 L324.8 987.1 L323.8 987.1 L322.8 987.1 L321.8 987.1 L320.8 987.1 L319.8 987.1 L318.8 987.1 L317.8 987.1 L316.8 987.1 L315.8 987.1 L314.8 987.1 L313.8 987.1 L312.8 987.1 L311.8 987.1 L310.8 987.1 L309.8 987.1 L308.8 987.1 L307.8 987.1 L306.8 987 L305.8 987 L304.8 987 L303.8 987 L302.8 987 L301.8 987 L300.8 987 L299.8 986.9 L298.8 986.9 L297.8 986.9 L296.8 986.9 L295.8 986.8 L294.8 986.8 L293.8 986.7 L292.8 986.7 L291.8 986.6 L290.8 986.5 L289.8 986.4 L288.8 986.3 L287.8 986.2 L286.8 986 L285.8 985.9 L284.8 985.7 L283.8 985.5 L282.8 985.3 L281.8 985 L280.8 984.7 L279.8 984.4 L278.8 984 L277.8 983.6 L276.8 983.2 L275.8 982.7 L274.8 982.2 L273.8 981.7 L272.8 981.2 L271.8 980.6 L270.8 980.1 L269.8 979.5 L268.8 978.9 L267.8 978.3 L266.8 977.8 L265.8 977.3 L264.8 976.8 L263.8 976.3 L262.8 975.8 L261.8 975.4 L260.8 975 L259.8 974.7 L258.8 974.4 L257.8 974.1 L256.8 973.8 L255.8 973.6 L254.8 973.4 L253.8 973.2 L252.8 973.1 L251.8 973 L250.8 972.8 L249.8 972.7 L248.8 972.7 L247.8 972.6 L246.8 972.5 L245.8 972.5 L244.8 972.4 L243.8 972.4 L242.8 972.3 L241.8 972.3 L240.8 972.3 L239.8 972.2 L238.8 972.2 L237.8 972.2 L236.8 972.2 L235.8 972.2 L234.8 972.2 L233.8 972.2 L232.8 972.1 L231.8 972.1 L230.8 972.1 L229.8 972.1 L228.8 972.1 L227.8 972.1 L226.8 972.1 L225.8 972.1 L224.8 972.1 L223.8 972.1 L222.8 972.1 L221.8 972.1 L220.8 972.1 L219.8 972.1 L218.8 972.1 L217.8 972.1 L216.8 972.1 L215.8 972.1 L214.8 972.1 L213.8 972.1 L212.8 972.1 L211.8 972.1 L210.8 972.1 L209.8 972.1 L208.8 972.1 L207.8 972.1 L206.8 972.1 L205.8 972.1 L204.8 972.1 L203.8 972.1 L202.8 972.1 L201.8 972.1Z" fill="url(#lav)" stroke="none" stroke-width="0"/>
<path d="M73.8 953.1 L74.8 953.2 L75.8 953.2 L76.8 953.2 L77.8 953.2 L78.8 953.2 L79.8 953.2 L80.8 953.2 L81.8 953.2 L82.8 953.2 L83.8 953.1 L84.8 953.1 L85.8 953 L86.8 952.9 L87.8 952.8 L88.8 952.6 L89.8 952.4 L90.8 952.1 L91.8 951.8 L92.8 951.4 L93.8 950.9 L94.8 950.3 L95.8 949.7 L96.8 948.9 L97.8 948 L98.8 947.1 L99.8 946 L100.8 944.8 L101.8 943.5 L102.8 942.1 L103.8 940.6 L104.8 939.1 L105.8 937.5 L106.8 935.9 L107.8 934.2 L108.8 932.6 L109.8 931.1 L110.8 929.6 L111.8 928.3 L112.8 927.2 L113.8 926.3 L114.8 925.6 L115.8 925.1 L116.8 925 L117.8 925.1 L118.8 925.6 L119.8 926.3 L120.8 927.4 L121.8 928.7 L122.8 930.3 L123.8 932.1 L124.8 934.1 L125.8 936.2 L126.8 938.4 L127.8 940.7 L128.8 943 L129.8 945.2 L130.8 947.5 L131.8 949.7 L132.8 951.8 L133.8 953.8 L134.8 955.6 L135.8 957.4 L136.8 959 L137.8 960.5 L138.8 961.8 L139.8 963 L140.8 964 L141.8 965 L142.8 965.8 L143.8 966.5 L144.8 967.1 L145.8 967.6 L146.8 968.1 L147.8 968.5 L148.8 968.8 L149.8 969.1 L150.8 969.3 L151.8 969.5 L152.8 969.7 L153.8 969.8 L154.8 969.9 L155.8 970.1 L156.8 970.1 L157.8 970.2 L158.8 970.3 L159.8 970.4 L160.8 970.4 L161.8 970.5 L162.8 970.6" fill="none" stroke="#9cc58a" stroke-width="0.8" stroke-linejoin="round"/>
<path d="M146.8 969.7 L147.8 969.7 L148.8 969.7 L149.8 969.6 L150.8 969.5 L151.8 969.4 L152.8 969.3 L153.8 969.1 L154.8 968.9 L155.8 968.6 L156.8 968.3 L157.8 968 L158.8 967.7 L159.8 967.3 L160.8 966.9 L161.8 966.5 L162.8 966.1 L163.8 965.6 L164.8 965.2 L165.8 964.8 L166.8 964.4 L167.8 964 L168.8 963.7 L169.8 963.4 L170.8 963.2 L171.8 963 L172.8 963 L173.8 963 L174.8 963 L175.8 963.2 L176.8 963.4 L177.8 963.7 L178.8 964 L179.8 964.4 L180.8 964.9 L181.8 965.3 L182.8 965.8 L183.8 966.3 L184.8 966.8 L185.8 967.3 L186.8 967.8 L187.8 968.3 L188.8 968.7 L189.8 969.2 L190.8 969.5 L191.8 969.9 L192.8 970.2 L193.8 970.5 L194.8 970.8 L195.8 971 L196.8 971.2 L197.8 971.4 L198.8 971.5 L199.8 971.7 L200.8 971.7" fill="none" stroke="#6fb0cc" stroke-width="0.8" stroke-linejoin="round"/>
<path d="M222.8 971.8 L223.8 971.8 L224.8 971.8 L225.8 971.8 L226.8 971.8 L227.8 971.7 L228.8 971.7 L229.8 971.7 L230.8 971.7 L231.8 971.7 L232.8 971.7 L233.8 971.6 L234.8 971.6 L235.8 971.6 L236.8 971.6 L237.8 971.6 L238.8 971.5 L239.8 971.5 L240.8 971.5 L241.8 971.4 L242.8 971.3 L243.8 971.2 L244.8 971.1 L245.8 970.9 L246.8 970.6 L247.8 970.2 L248.8 969.7 L249.8 969 L250.8 968.1 L251.8 966.9 L252.8 965.5 L253.8 963.6 L254.8 961.4 L255.8 958.6 L256.8 955.4 L257.8 951.6 L258.8 947.4 L259.8 942.6 L260.8 937.5 L261.8 932 L262.8 926.3 L263.8 920.6 L264.8 915 L265.8 909.8 L266.8 905.2 L267.8 901.4 L268.8 898.6 L269.8 896.9 L270.8 896.6 L271.8 897.6 L272.8 899.8 L273.8 903.3 L274.8 907.8 L275.8 913.2 L276.8 919.1 L277.8 925.5 L278.8 932 L279.8 938.5 L280.8 944.8 L281.8 950.8 L282.8 956.3 L283.8 961.3 L284.8 965.7 L285.8 969.6 L286.8 972.9 L287.8 975.6 L288.8 977.9 L289.8 979.8 L290.8 981.3 L291.8 982.5 L292.8 983.4 L293.8 984.1 L294.8 984.7 L295.8 985.1 L296.8 985.4 L297.8 985.7 L298.8 985.9 L299.8 986 L300.8 986.1 L301.8 986.2 L302.8 986.3 L303.8 986.4 L304.8 986.4 L305.8 986.5 L306.8 986.5 L307.8 986.5 L308.8 986.6 L309.8 986.6 L310.8 986.6 L311.8 986.6 L312.8 986.7 L313.8 986.7 L314.8 986.7 L315.8 986.7 L316.8 986.7 L317.8 986.8 L318.8 986.8 L319.8 986.8" fill="none" stroke="#a0a8da" stroke-width="0.8" stroke-linejoin="round"/>
<path d="M49.8 950.9 L50.8 949.1 L51.8 951.8 L52.8 951.1 L53.8 951.5 L54.8 952.4 L55.8 948.6 L56.8 950.4 L57.8 951.5 L58.8 949.8 L59.8 953.1 L60.8 953.2 L61.8 953.8 L62.8 950.6 L63.8 950.1 L64.8 951.8 L65.8 952.9 L66.8 953 L67.8 954.6 L68.8 951.8 L69.8 952.2 L70.8 952.6 L71.8 950.9 L72.8 951.6 L73.8 952 L74.8 952.1 L75.8 950.5 L76.8 950.9 L77.8 948.7 L78.8 952.8 L79.8 949 L80.8 954.6 L81.8 949.5 L82.8 953.8 L83.8 954.4 L84.8 952.7 L85.8 950 L86.8 953 L87.8 950.8 L88.8 951 L89.8 951.8 L90.8 950.9 L91.8 953.5 L92.8 949.3 L93.8 948.7 L94.8 949.3 L95.8 948.1 L96.8 948.2 L97.8 948.6 L98.8 947.9 L99.8 943.1 L100.8 944.7 L101.8 943.3 L102.8 942.5 L103.8 940.2 L104.8 936.7 L105.8 937.4 L106.8 936.4 L107.8 935.6 L108.8 933.4 L109.8 929.6 L110.8 929.7 L111.8 925.9 L112.8 922.5 L113.8 925.5 L114.8 921.3 L115.8 920.7 L116.8 924.8 L117.8 921.8 L118.8 925.8 L119.8 926.2 L120.8 926.4 L121.8 927.1 L122.8 930.4 L123.8 930.7 L124.8 934.9 L125.8 936 L126.8 938.4 L127.8 940.6 L128.8 941 L129.8 943.4 L130.8 946.1 L131.8 948.7 L132.8 949.5 L133.8 954.7 L134.8 952.4 L135.8 955.7 L136.8 955.4 L137.8 959.1 L138.8 960 L139.8 958.7 L140.8 963.9 L141.8 964.6 L142.8 963.4 L143.8 961.7 L144.8 968.8 L145.8 968.1 L146.8 967.7 L147.8 966.7 L148.8 964 L149.8 968.2 L150.8 965.1 L151.8 966.1 L152.8 970 L153.8 968.8 L154.8 964.2 L155.8 968.7 L156.8 963.4 L157.8 965.7 L158.8 968.8 L159.8 965 L160.8 966.3 L161.8 963.4 L162.8 962.1 L163.8 965.3 L164.8 964.1 L165.8 963.9 L166.8 960.6 L167.8 963.3 L168.8 963.5 L169.8 963 L170.8 963.8 L171.8 960.3 L172.8 963.7 L173.8 958.4 L174.8 963 L175.8 964.1 L176.8 963.3 L177.8 961.9 L178.8 963.2 L179.8 960.1 L180.8 962.3 L181.8 964.6 L182.8 961.9 L183.8 965 L184.8 965.1 L185.8 963.3 L186.8 969.3 L187.8 964.6 L188.8 968.4 L189.8 968.6 L190.8 967.6 L191.8 971.1 L192.8 969.6 L193.8 968.8 L194.8 967.7 L195.8 968 L196.8 970.9 L197.8 970.6 L198.8 971.2 L199.8 972 L200.8 969.3 L201.8 967.1 L202.8 969.1 L203.8 973.7 L204.8 968.1 L205.8 970.4 L206.8 967.5 L207.8 972 L208.8 972.3 L209.8 973.7 L210.8 971.8 L211.8 972.4 L212.8 970.8 L213.8 971.8 L214.8 970.5 L215.8 972.5 L216.8 971.9 L217.8 967 L218.8 971.4 L219.8 971.6 L220.8 971.9 L221.8 970.5 L222.8 969.5 L223.8 968.5 L224.8 970 L225.8 971.1 L226.8 970.6 L227.8 971.7 L228.8 970.8 L229.8 971.3 L230.8 967 L231.8 971.6 L232.8 970.4 L233.8 969.2 L234.8 973.6 L235.8 969.1 L236.8 971.9 L237.8 967.2 L238.8 971.4 L239.8 969.7 L240.8 972.9 L241.8 970.3 L242.8 971.8 L243.8 970.7 L244.8 971.2 L245.8 970.9 L246.8 970 L247.8 970.3 L248.8 969.6 L249.8 966.3 L250.8 967 L251.8 962.9 L252.8 963.5 L253.8 962 L254.8 960.1 L255.8 958.6 L256.8 952.4 L257.8 951.4 L258.8 944.5 L259.8 938.2 L260.8 937.4 L261.8 933 L262.8 922.1 L263.8 918.4 L264.8 911.1 L265.8 908.1 L266.8 903.7 L267.8 901.4 L268.8 894.1 L269.8 892.4 L270.8 896.6 L271.8 897.8 L272.8 899.8 L273.8 899.7 L274.8 909.5 L275.8 909.6 L276.8 918.8 L277.8 924.7 L278.8 928 L279.8 936.2 L280.8 943.4 L281.8 951.5 L282.8 957.4 L283.8 960.7 L284.8 962.8 L285.8 966.1 L286.8 972.9 L287.8 974.5 L288.8 976.6 L289.8 976.8 L290.8 977.7 L291.8 977.7 L292.8 979.6 L293.8 982.6 L294.8 985.2 L295.8 984.6 L296.8 983.7 L297.8 984 L298.8 987.9 L299.8 986.7 L300.8 986 L301.8 986.7 L302.8 988.1 L303.8 982.9 L304.8 987.8 L305.8 987.1 L306.8 983.5 L307.8 986.5 L308.8 983.3 L309.8 986.9 L310.8 986.3 L311.8 986.7 L312.8 986.1 L313.8 984.8 L314.8 988.5 L315.8 986.6 L316.8 983.1 L317.8 987.2 L318.8 986.1 L319.8 985.6 L320.8 988.1 L321.8 986.4 L322.8 987 L323.8 986.2 L324.8 986.3 L325.8 986.1 L326.8 986.8 L327.8 986.4 L328.8 988.1 L329.8 986.3 L330.8 988.7 L331.8 985.5 L332.8 987.8 L333.8 982.6 L334.8 987.4" fill="none" stroke="#7d7d7d" stroke-width="0.9" stroke-linejoin="round"/>
<path d="M49.8 952.6 L50.8 952.7 L51.8 952.7 L52.8 952.7 L53.8 952.8 L54.8 952.8 L55.8 952.8 L56.8 952.9 L57.8 952.9 L58.8 952.9 L59.8 953 L60.8 953 L61.8 953 L62.8 953.1 L63.8 953.1 L64.8 953.1 L65.8 953.2 L66.8 953.2 L67.8 953.2 L68.8 953.3 L69.8 953.3 L70.8 953.3 L71.8 953.4 L72.8 953.4 L73.8 953.4 L74.8 953.5 L75.8 953.5 L76.8 953.6 L77.8 953.6 L78.8 953.6 L79.8 953.7 L80.8 953.7 L81.8 953.8 L82.8 953.8 L83.8 953.9 L84.8 953.9 L85.8 954 L86.8 954 L87.8 954.1 L88.8 954.1 L89.8 954.2 L90.8 954.2 L91.8 954.3 L92.8 954.4 L93.8 954.5 L94.8 954.6 L95.8 954.7 L96.8 954.8 L97.8 954.9 L98.8 955 L99.8 955.2 L100.8 955.3 L101.8 955.5 L102.8 955.7 L103.8 955.9 L104.8 956.1 L105.8 956.4 L106.8 956.7 L107.8 957 L108.8 957.3 L109.8 957.7 L110.8 958.1 L111.8 958.5 L112.8 959 L113.8 959.4 L114.8 959.9 L115.8 960.4 L116.8 961 L117.8 961.5 L118.8 962.1 L119.8 962.6 L120.8 963.2 L121.8 963.7 L122.8 964.2 L123.8 964.7 L124.8 965.2 L125.8 965.7 L126.8 966.1 L127.8 966.5 L128.8 966.9 L129.8 967.2 L130.8 967.6 L131.8 967.9 L132.8 968.1 L133.8 968.4 L134.8 968.6 L135.8 968.8 L136.8 969 L137.8 969.1 L138.8 969.3 L139.8 969.4 L140.8 969.5 L141.8 969.7 L142.8 969.8 L143.8 969.9 L144.8 969.9 L145.8 970 L146.8 970.1 L147.8 970.2 L148.8 970.2 L149.8 970.3 L150.8 970.3 L151.8 970.4 L152.8 970.4 L153.8 970.5 L154.8 970.5 L155.8 970.6 L156.8 970.6 L157.8 970.7 L158.8 970.7 L159.8 970.8 L160.8 970.8 L161.8 970.8 L162.8 970.9 L163.8 970.9 L164.8 970.9 L165.8 971 L166.8 971 L167.8 971 L168.8 971.1 L169.8 971.1 L170.8 971.2 L171.8 971.2 L172.8 971.2 L173.8 971.3 L174.8 971.3 L175.8 971.3 L176.8 971.4 L177.8 971.4 L178.8 971.4 L179.8 971.5 L180.8 971.5 L181.8 971.5 L182.8 971.6 L183.8 971.6 L184.8 971.6 L185.8 971.7 L186.8 971.7 L187.8 971.7 L188.8 971.8 L189.8 971.8 L190.8 971.8 L191.8 971.9 L192.8 971.9 L193.8 971.9 L194.8 972 L195.8 972 L196.8 972 L197.8 972.1 L198.8 972.1 L199.8 972.1 L200.8 972.1 L201.8 972.1 L202.8 972.1 L203.8 972.1 L204.8 972.1 L205.8 972.1 L206.8 972.1 L207.8 972.1 L208.8 972.1 L209.8 972.1 L210.8 972.1 L211.8 972.1 L212.8 972.1 L213.8 972.1 L214.8 972.1 L215.8 972.1 L216.8 972.1 L217.8 972.1 L218.8 972.1 L219.8 972.1 L220.8 972.1 L221.8 972.1 L222.8 972.1 L223.8 972.1 L224.8 972.1 L225.8 972.1 L226.8 972.1 L227.8 972.1 L228.8 972.1 L229.8 972.1 L230.8 972.1 L231.8 972.1 L232.8 972.1 L233.8 972.2 L234.8 972.2 L235.8 972.2 L236.8 972.2 L237.8 972.2 L238.8 972.2 L239.8 972.2 L240.8 972.3 L241.8 972.3 L242.8 972.3 L243.8 972.4 L244.8 972.4 L245.8 972.5 L246.8 972.5 L247.8 972.6 L248.8 972.7 L249.8 972.7 L250.8 972.8 L251.8 973 L252.8 973.1 L253.8 973.2 L254.8 973.4 L255.8 973.6 L256.8 973.8 L257.8 974.1 L258.8 974.4 L259.8 974.7 L260.8 975 L261.8 975.4 L262.8 975.8 L263.8 976.3 L264.8 976.8 L265.8 977.3 L266.8 977.8 L267.8 978.3 L268.8 978.9 L269.8 979.5 L270.8 980.1 L271.8 980.6 L272.8 981.2 L273.8 981.7 L274.8 982.2 L275.8 982.7 L276.8 983.2 L277.8 983.6 L278.8 984 L279.8 984.4 L280.8 984.7 L281.8 985 L282.8 985.3 L283.8 985.5 L284.8 985.7 L285.8 985.9 L286.8 986 L287.8 986.2 L288.8 986.3 L289.8 986.4 L290.8 986.5 L291.8 986.6 L292.8 986.7 L293.8 986.7 L294.8 986.8 L295.8 986.8 L296.8 986.9 L297.8 986.9 L298.8 986.9 L299.8 986.9 L300.8 987 L301.8 987 L302.8 987 L303.8 987 L304.8 987 L305.8 987 L306.8 987 L307.8 987.1 L308.8 987.1 L309.8 987.1 L310.8 987.1 L311.8 987.1 L312.8 987.1 L313.8 987.1 L314.8 987.1 L315.8 987.1 L316.8 987.1 L317.8 987.1 L318.8 987.1 L319.8 987.1 L320.8 987.1 L321.8 987.1 L322.8 987.1 L323.8 987.1 L324.8 987.1 L325.8 987.1 L326.8 987.1 L327.8 987.1 L328.8 987.1 L329.8 987.1 L330.8 987.1 L331.8 987.1 L332.8 987.1 L333.8 987.1 L334.8 987.1" fill="none" stroke="#2a1f2e" stroke-width="1.2" stroke-linejoin="round"/>
<path d="M49.8 952.5 L50.8 952.5 L51.8 952.5 L52.8 952.6 L53.8 952.6 L54.8 952.6 L55.8 952.7 L56.8 952.7 L57.8 952.7 L58.8 952.7 L59.8 952.8 L60.8 952.8 L61.8 952.8 L62.8 952.8 L63.8 952.9 L64.8 952.9 L65.8 952.9 L66.8 953 L67.8 953 L68.8 953 L69.8 953 L70.8 953.1 L71.8 953.1 L72.8 953.1 L73.8 953.1 L74.8 953.1 L75.8 953.2 L76.8 953.2 L77.8 953.2 L78.8 953.2 L79.8 953.2 L80.8 953.2 L81.8 953.2 L82.8 953.2 L83.8 953.1 L84.8 953.1 L85.8 953 L86.8 952.9 L87.8 952.7 L88.8 952.6 L89.8 952.3 L90.8 952.1 L91.8 951.7 L92.8 951.3 L93.8 950.8 L94.8 950.3 L95.8 949.6 L96.8 948.9 L97.8 948 L98.8 947 L99.8 946 L100.8 944.8 L101.8 943.5 L102.8 942.1 L103.8 940.6 L104.8 939 L105.8 937.4 L106.8 935.8 L107.8 934.2 L108.8 932.6 L109.8 931 L110.8 929.6 L111.8 928.3 L112.8 927.1 L113.8 926.2 L114.8 925.5 L115.8 925.1 L116.8 924.9 L117.8 925.1 L118.8 925.5 L119.8 926.3 L120.8 927.3 L121.8 928.7 L122.8 930.3 L123.8 932 L124.8 934 L125.8 936.1 L126.8 938.3 L127.8 940.6 L128.8 942.9 L129.8 945.2 L130.8 947.4 L131.8 949.6 L132.8 951.7 L133.8 953.7 L134.8 955.6 L135.8 957.3 L136.8 958.9 L137.8 960.4 L138.8 961.7 L139.8 962.8 L140.8 963.9 L141.8 964.8 L142.8 965.6 L143.8 966.2 L144.8 966.8 L145.8 967.3 L146.8 967.7 L147.8 968 L148.8 968.2 L149.8 968.3 L150.8 968.4 L151.8 968.5 L152.8 968.4 L153.8 968.4 L154.8 968.2 L155.8 968 L156.8 967.8 L157.8 967.5 L158.8 967.2 L159.8 966.9 L160.8 966.5 L161.8 966.1 L162.8 965.7 L163.8 965.3 L164.8 964.9 L165.8 964.4 L166.8 964.1 L167.8 963.7 L168.8 963.4 L169.8 963.1 L170.8 962.9 L171.8 962.8 L172.8 962.7 L173.8 962.7 L174.8 962.8 L175.8 962.9 L176.8 963.1 L177.8 963.4 L178.8 963.8 L179.8 964.2 L180.8 964.6 L181.8 965.1 L182.8 965.6 L183.8 966.1 L184.8 966.6 L185.8 967.1 L186.8 967.6 L187.8 968.1 L188.8 968.5 L189.8 968.9 L190.8 969.3 L191.8 969.7 L192.8 970 L193.8 970.3 L194.8 970.5 L195.8 970.8 L196.8 971 L197.8 971.2 L198.8 971.3 L199.8 971.4 L200.8 971.5 L201.8 971.6 L202.8 971.6 L203.8 971.7 L204.8 971.7 L205.8 971.7 L206.8 971.7 L207.8 971.7 L208.8 971.8 L209.8 971.8 L210.8 971.8 L211.8 971.8 L212.8 971.8 L213.8 971.8 L214.8 971.8 L215.8 971.8 L216.8 971.8 L217.8 971.8 L218.8 971.7 L219.8 971.7 L220.8 971.7 L221.8 971.7 L222.8 971.7 L223.8 971.7 L224.8 971.7 L225.8 971.7 L226.8 971.7 L227.8 971.7 L228.8 971.7 L229.8 971.6 L230.8 971.6 L231.8 971.6 L232.8 971.6 L233.8 971.6 L234.8 971.6 L235.8 971.5 L236.8 971.5 L237.8 971.5 L238.8 971.5 L239.8 971.4 L240.8 971.4 L241.8 971.3 L242.8 971.3 L243.8 971.2 L244.8 971 L245.8 970.8 L246.8 970.5 L247.8 970.1 L248.8 969.6 L249.8 969 L250.8 968.1 L251.8 966.9 L252.8 965.4 L253.8 963.6 L254.8 961.3 L255.8 958.6 L256.8 955.3 L257.8 951.6 L258.8 947.3 L259.8 942.6 L260.8 937.4 L261.8 931.9 L262.8 926.3 L263.8 920.5 L264.8 915 L265.8 909.8 L266.8 905.2 L267.8 901.4 L268.8 898.6 L269.8 896.9 L270.8 896.6 L271.8 897.5 L272.8 899.8 L273.8 903.3 L274.8 907.8 L275.8 913.1 L276.8 919.1 L277.8 925.5 L278.8 932 L279.8 938.5 L280.8 944.8 L281.8 950.8 L282.8 956.3 L283.8 961.3 L284.8 965.7 L285.8 969.5 L286.8 972.8 L287.8 975.6 L288.8 977.9 L289.8 979.8 L290.8 981.3 L291.8 982.5 L292.8 983.4 L293.8 984.1 L294.8 984.7 L295.8 985.1 L296.8 985.4 L297.8 985.6 L298.8 985.8 L299.8 986 L300.8 986.1 L301.8 986.2 L302.8 986.3 L303.8 986.3 L304.8 986.4 L305.8 986.4 L306.8 986.5 L307.8 986.5 L308.8 986.5 L309.8 986.6 L310.8 986.6 L311.8 986.6 L312.8 986.7 L313.8 986.7 L314.8 986.7 L315.8 986.7 L316.8 986.7 L317.8 986.7 L318.8 986.8 L319.8 986.8 L320.8 986.8 L321.8 986.8 L322.8 986.8 L323.8 986.8 L324.8 986.8 L325.8 986.8 L326.8 986.8 L327.8 986.9 L328.8 986.9 L329.8 986.9 L330.8 986.9 L331.8 986.9 L332.8 986.9 L333.8 986.9 L334.8 986.9" fill="none" stroke="#231f20" stroke-width="1.6" stroke-linejoin="round"/>
<path d="M72.8 1062.9 L73.8 1062.9 L74.8 1062.9 L75.8 1062.9 L76.8 1063 L77.8 1063 L78.8 1063 L79.8 1063.1 L80.8 1063.1 L81.8 1063.1 L82.8 1063.1 L83.8 1063.2 L84.8 1063.2 L85.8 1063.2 L86.8 1063.2 L87.8 1063.2 L88.8 1063.3 L89.8 1063.3 L90.8 1063.3 L91.8 1063.3 L92.8 1063.2 L93.8 1063.2 L94.8 1063.1 L95.8 1063 L96.8 1062.9 L97.8 1062.7 L98.8 1062.5 L99.8 1062.2 L100.8 1061.8 L101.8 1061.3 L102.8 1060.7 L103.8 1060 L104.8 1059.2 L105.8 1058.2 L106.8 1057 L107.8 1055.8 L108.8 1054.4 L109.8 1052.9 L110.8 1051.2 L111.8 1049.5 L112.8 1047.8 L113.8 1046.1 L114.8 1044.4 L115.8 1042.8 L116.8 1041.3 L117.8 1040.1 L118.8 1039.1 L119.8 1038.4 L120.8 1038.1 L121.8 1038.2 L122.8 1038.6 L123.8 1039.4 L124.8 1040.6 L125.8 1042.1 L126.8 1043.9 L127.8 1045.9 L128.8 1048.2 L129.8 1050.5 L130.8 1052.9 L131.8 1055.3 L132.8 1057.7 L133.8 1059.9 L134.8 1062.1 L135.8 1064.1 L136.8 1066 L137.8 1067.7 L138.8 1069.2 L139.8 1070.6 L140.8 1071.7 L141.8 1072.7 L142.8 1073.6 L143.8 1074.3 L144.8 1075 L145.8 1075.5 L146.8 1075.9 L147.8 1076.2 L148.8 1076.5 L149.8 1076.8 L150.8 1077 L151.8 1077.1 L152.8 1077.3 L153.8 1077.4 L154.8 1077.5 L155.8 1077.5 L156.8 1077.6 L157.8 1077.7 L158.8 1077.7 L159.8 1077.8 L160.8 1077.9 L161.8 1077.9 L162.8 1078 L163.8 1078 L164.8 1078 L165.8 1078.1 L166.8 1078.1 L167.8 1078.2 L168.8 1078.2 L169.8 1078.2 L170.8 1078.3 L171.8 1078.3 L171.8 1078.5 L170.8 1078.4 L169.8 1078.4 L168.8 1078.4 L167.8 1078.3 L166.8 1078.3 L165.8 1078.3 L164.8 1078.3 L163.8 1078.2 L162.8 1078.2 L161.8 1078.1 L160.8 1078.1 L159.8 1078.1 L158.8 1078 L157.8 1078 L156.8 1078 L155.8 1077.9 L154.8 1077.9 L153.8 1077.8 L152.8 1077.8 L151.8 1077.7 L150.8 1077.7 L149.8 1077.6 L148.8 1077.6 L147.8 1077.5 L146.8 1077.4 L145.8 1077.4 L144.8 1077.3 L143.8 1077.2 L142.8 1077.1 L141.8 1077 L140.8 1076.9 L139.8 1076.7 L138.8 1076.6 L137.8 1076.4 L136.8 1076.2 L135.8 1076.1 L134.8 1075.8 L133.8 1075.6 L132.8 1075.4 L131.8 1075.1 L130.8 1074.8 L129.8 1074.5 L128.8 1074.1 L127.8 1073.7 L126.8 1073.3 L125.8 1072.9 L124.8 1072.5 L123.8 1072 L122.8 1071.6 L121.8 1071.1 L120.8 1070.6 L119.8 1070.1 L118.8 1069.7 L117.8 1069.2 L116.8 1068.8 L115.8 1068.3 L114.8 1067.9 L113.8 1067.5 L112.8 1067.2 L111.8 1066.8 L110.8 1066.5 L109.8 1066.2 L108.8 1066 L107.8 1065.7 L106.8 1065.5 L105.8 1065.3 L104.8 1065.1 L103.8 1064.9 L102.8 1064.8 L101.8 1064.6 L100.8 1064.5 L99.8 1064.4 L98.8 1064.3 L97.8 1064.2 L96.8 1064.1 L95.8 1064 L94.8 1064 L93.8 1063.9 L92.8 1063.8 L91.8 1063.8 L90.8 1063.7 L89.8 1063.7 L88.8 1063.6 L87.8 1063.6 L86.8 1063.5 L85.8 1063.5 L84.8 1063.4 L83.8 1063.4 L82.8 1063.4 L81.8 1063.3 L80.8 1063.3 L79.8 1063.3 L78.8 1063.2 L77.8 1063.2 L76.8 1063.2 L75.8 1063.1 L74.8 1063.1 L73.8 1063.1 L72.8 1063Z" fill="url(#grn)" stroke="none" stroke-width="0"/>
<path d="M149.8 1077.4 L150.8 1077.5 L151.8 1077.5 L152.8 1077.4 L153.8 1077.4 L154.8 1077.4 L155.8 1077.3 L156.8 1077.2 L157.8 1077.1 L158.8 1076.9 L159.8 1076.7 L160.8 1076.5 L161.8 1076.3 L162.8 1076 L163.8 1075.7 L164.8 1075.3 L165.8 1074.9 L166.8 1074.5 L167.8 1074.1 L168.8 1073.6 L169.8 1073.2 L170.8 1072.7 L171.8 1072.3 L172.8 1071.8 L173.8 1071.4 L174.8 1071 L175.8 1070.7 L176.8 1070.4 L177.8 1070.2 L178.8 1070.1 L179.8 1070 L180.8 1070.1 L181.8 1070.2 L182.8 1070.3 L183.8 1070.6 L184.8 1070.9 L185.8 1071.3 L186.8 1071.7 L187.8 1072.2 L188.8 1072.7 L189.8 1073.2 L190.8 1073.7 L191.8 1074.3 L192.8 1074.8 L193.8 1075.3 L194.8 1075.8 L195.8 1076.2 L196.8 1076.6 L197.8 1077 L198.8 1077.4 L199.8 1077.7 L200.8 1078 L201.8 1078.2 L202.8 1078.4 L203.8 1078.6 L204.8 1078.8 L205.8 1078.9 L206.8 1079.1 L207.8 1079.2 L208.8 1079.3 L209.8 1079.3 L210.8 1079.4 L211.8 1079.5 L211.8 1079.6 L210.8 1079.6 L209.8 1079.6 L208.8 1079.6 L207.8 1079.5 L206.8 1079.5 L205.8 1079.5 L204.8 1079.4 L203.8 1079.4 L202.8 1079.4 L201.8 1079.4 L200.8 1079.3 L199.8 1079.3 L198.8 1079.3 L197.8 1079.3 L196.8 1079.2 L195.8 1079.2 L194.8 1079.2 L193.8 1079.1 L192.8 1079.1 L191.8 1079.1 L190.8 1079.1 L189.8 1079 L188.8 1079 L187.8 1079 L186.8 1078.9 L185.8 1078.9 L184.8 1078.9 L183.8 1078.8 L182.8 1078.8 L181.8 1078.8 L180.8 1078.8 L179.8 1078.7 L178.8 1078.7 L177.8 1078.7 L176.8 1078.6 L175.8 1078.6 L174.8 1078.6 L173.8 1078.5 L172.8 1078.5 L171.8 1078.5 L170.8 1078.4 L169.8 1078.4 L168.8 1078.4 L167.8 1078.3 L166.8 1078.3 L165.8 1078.3 L164.8 1078.3 L163.8 1078.2 L162.8 1078.2 L161.8 1078.1 L160.8 1078.1 L159.8 1078.1 L158.8 1078 L157.8 1078 L156.8 1078 L155.8 1077.9 L154.8 1077.9 L153.8 1077.8 L152.8 1077.8 L151.8 1077.7 L150.8 1077.7 L149.8 1077.6Z" fill="#b3dcea" stroke="none" stroke-width="0"/>
<path d="M215.8 1079.6 L216.8 1079.6 L217.8 1079.6 L218.8 1079.6 L219.8 1079.7 L220.8 1079.7 L221.8 1079.7 L222.8 1079.7 L223.8 1079.7 L224.8 1079.7 L225.8 1079.8 L226.8 1079.8 L227.8 1079.8 L228.8 1079.8 L229.8 1079.8 L230.8 1079.8 L231.8 1079.8 L232.8 1079.8 L233.8 1079.8 L234.8 1079.8 L235.8 1079.7 L236.8 1079.7 L237.8 1079.6 L238.8 1079.5 L239.8 1079.4 L240.8 1079.2 L241.8 1079 L242.8 1078.8 L243.8 1078.5 L244.8 1078.2 L245.8 1077.8 L246.8 1077.3 L247.8 1076.7 L248.8 1076.1 L249.8 1075.3 L250.8 1074.5 L251.8 1073.5 L252.8 1072.5 L253.8 1071.3 L254.8 1070.1 L255.8 1068.8 L256.8 1067.4 L257.8 1065.9 L258.8 1064.5 L259.8 1063 L260.8 1061.5 L261.8 1060.1 L262.8 1058.8 L263.8 1057.6 L264.8 1056.5 L265.8 1055.7 L266.8 1055 L267.8 1054.6 L268.8 1054.5 L269.8 1054.6 L270.8 1055 L271.8 1055.7 L272.8 1056.6 L273.8 1057.8 L274.8 1059.2 L275.8 1060.7 L276.8 1062.4 L277.8 1064.2 L278.8 1066.1 L279.8 1067.9 L280.8 1069.8 L281.8 1071.7 L282.8 1073.4 L283.8 1075.1 L284.8 1076.7 L285.8 1078.2 L286.8 1079.6 L287.8 1080.9 L288.8 1082 L289.8 1083.1 L290.8 1084 L291.8 1084.8 L292.8 1085.5 L293.8 1086.1 L294.8 1086.6 L295.8 1087.1 L296.8 1087.5 L297.8 1087.8 L298.8 1088.1 L299.8 1088.3 L300.8 1088.5 L301.8 1088.7 L302.8 1088.8 L303.8 1088.9 L304.8 1089 L305.8 1089.1 L306.8 1089.2 L307.8 1089.2 L308.8 1089.3 L309.8 1089.3 L310.8 1089.4 L311.8 1089.4 L312.8 1089.5 L313.8 1089.5 L314.8 1089.5 L315.8 1089.6 L316.8 1089.6 L317.8 1089.7 L318.8 1089.7 L319.8 1089.7 L320.8 1089.8 L321.8 1089.8 L322.8 1089.8 L323.8 1089.8 L323.8 1090 L322.8 1090 L321.8 1089.9 L320.8 1089.9 L319.8 1089.9 L318.8 1089.9 L317.8 1089.8 L316.8 1089.8 L315.8 1089.8 L314.8 1089.8 L313.8 1089.7 L312.8 1089.7 L311.8 1089.7 L310.8 1089.7 L309.8 1089.6 L308.8 1089.6 L307.8 1089.6 L306.8 1089.6 L305.8 1089.5 L304.8 1089.5 L303.8 1089.5 L302.8 1089.4 L301.8 1089.4 L300.8 1089.4 L299.8 1089.3 L298.8 1089.3 L297.8 1089.3 L296.8 1089.2 L295.8 1089.2 L294.8 1089.1 L293.8 1089.1 L292.8 1089 L291.8 1088.9 L290.8 1088.8 L289.8 1088.8 L288.8 1088.7 L287.8 1088.5 L286.8 1088.4 L285.8 1088.3 L284.8 1088.1 L283.8 1087.9 L282.8 1087.6 L281.8 1087.4 L280.8 1087.1 L279.8 1086.8 L278.8 1086.5 L277.8 1086.1 L276.8 1085.7 L275.8 1085.3 L274.8 1084.9 L273.8 1084.5 L272.8 1084.1 L271.8 1083.8 L270.8 1083.4 L269.8 1083.1 L268.8 1082.8 L267.8 1082.5 L266.8 1082.3 L265.8 1082 L264.8 1081.9 L263.8 1081.7 L262.8 1081.5 L261.8 1081.4 L260.8 1081.3 L259.8 1081.2 L258.8 1081.1 L257.8 1081 L256.8 1081 L255.8 1080.9 L254.8 1080.9 L253.8 1080.8 L252.8 1080.8 L251.8 1080.7 L250.8 1080.7 L249.8 1080.7 L248.8 1080.6 L247.8 1080.6 L246.8 1080.6 L245.8 1080.5 L244.8 1080.5 L243.8 1080.5 L242.8 1080.4 L241.8 1080.4 L240.8 1080.4 L239.8 1080.4 L238.8 1080.3 L237.8 1080.3 L236.8 1080.3 L235.8 1080.2 L234.8 1080.2 L233.8 1080.2 L232.8 1080.2 L231.8 1080.1 L230.8 1080.1 L229.8 1080.1 L228.8 1080.1 L227.8 1080 L226.8 1080 L225.8 1080 L224.8 1080 L223.8 1079.9 L222.8 1079.9 L221.8 1079.9 L220.8 1079.9 L219.8 1079.8 L218.8 1079.8 L217.8 1079.8 L216.8 1079.8 L215.8 1079.7Z" fill="#f3e1cc" stroke="none" stroke-width="0" fill-opacity="0.9"/>
<path d="M243.8 1080.3 L244.8 1080.3 L245.8 1080.3 L246.8 1080.4 L247.8 1080.4 L248.8 1080.4 L249.8 1080.4 L250.8 1080.4 L251.8 1080.5 L252.8 1080.5 L253.8 1080.5 L254.8 1080.5 L255.8 1080.5 L256.8 1080.6 L257.8 1080.6 L258.8 1080.6 L259.8 1080.6 L260.8 1080.6 L261.8 1080.6 L262.8 1080.5 L263.8 1080.2 L264.8 1079.7 L265.8 1078.8 L266.8 1077.4 L267.8 1075.2 L268.8 1071.9 L269.8 1067.5 L270.8 1061.9 L271.8 1055.2 L272.8 1047.7 L273.8 1040 L274.8 1032.8 L275.8 1027.1 L276.8 1023.7 L277.8 1023.2 L278.8 1025.6 L279.8 1030.8 L280.8 1037.9 L281.8 1046.1 L282.8 1054.4 L283.8 1062.3 L284.8 1069.1 L285.8 1074.7 L286.8 1079.1 L287.8 1082.3 L288.8 1084.5 L289.8 1086 L290.8 1087 L291.8 1087.6 L292.8 1088 L293.8 1088.3 L294.8 1088.5 L295.8 1088.6 L296.8 1088.7 L297.8 1088.8 L298.8 1088.9 L299.8 1089 L300.8 1089 L301.8 1089.1 L302.8 1089.2 L303.8 1089.2 L304.8 1089.3 L305.8 1089.3 L306.8 1089.3 L307.8 1089.4 L308.8 1089.4 L309.8 1089.5 L310.8 1089.5 L311.8 1089.5 L311.8 1089.7 L310.8 1089.7 L309.8 1089.6 L308.8 1089.6 L307.8 1089.6 L306.8 1089.6 L305.8 1089.5 L304.8 1089.5 L303.8 1089.5 L302.8 1089.4 L301.8 1089.4 L300.8 1089.4 L299.8 1089.3 L298.8 1089.3 L297.8 1089.3 L296.8 1089.2 L295.8 1089.2 L294.8 1089.1 L293.8 1089.1 L292.8 1089 L291.8 1088.9 L290.8 1088.8 L289.8 1088.8 L288.8 1088.7 L287.8 1088.5 L286.8 1088.4 L285.8 1088.3 L284.8 1088.1 L283.8 1087.9 L282.8 1087.6 L281.8 1087.4 L280.8 1087.1 L279.8 1086.8 L278.8 1086.5 L277.8 1086.1 L276.8 1085.7 L275.8 1085.3 L274.8 1084.9 L273.8 1084.5 L272.8 1084.1 L271.8 1083.8 L270.8 1083.4 L269.8 1083.1 L268.8 1082.8 L267.8 1082.5 L266.8 1082.3 L265.8 1082 L264.8 1081.9 L263.8 1081.7 L262.8 1081.5 L261.8 1081.4 L260.8 1081.3 L259.8 1081.2 L258.8 1081.1 L257.8 1081 L256.8 1081 L255.8 1080.9 L254.8 1080.9 L253.8 1080.8 L252.8 1080.8 L251.8 1080.7 L250.8 1080.7 L249.8 1080.7 L248.8 1080.6 L247.8 1080.6 L246.8 1080.6 L245.8 1080.5 L244.8 1080.5 L243.8 1080.5Z" fill="#a9b5dc" stroke="none" stroke-width="0" fill-opacity="0.7"/>
<path d="M86.8 1063.2 L87.8 1063.2 L88.8 1063.3 L89.8 1063.3 L90.8 1063.3 L91.8 1063.3 L92.8 1063.2 L93.8 1063.2 L94.8 1063.1 L95.8 1063 L96.8 1062.9 L97.8 1062.7 L98.8 1062.5 L99.8 1062.2 L100.8 1061.8 L101.8 1061.3 L102.8 1060.7 L103.8 1060 L104.8 1059.2 L105.8 1058.2 L106.8 1057 L107.8 1055.8 L108.8 1054.4 L109.8 1052.9 L110.8 1051.2 L111.8 1049.5 L112.8 1047.8 L113.8 1046.1 L114.8 1044.4 L115.8 1042.8 L116.8 1041.3 L117.8 1040.1 L118.8 1039.1 L119.8 1038.4 L120.8 1038.1 L121.8 1038.2 L122.8 1038.6 L123.8 1039.4 L124.8 1040.6 L125.8 1042.1 L126.8 1043.9 L127.8 1045.9 L128.8 1048.2 L129.8 1050.5 L130.8 1052.9 L131.8 1055.3 L132.8 1057.7 L133.8 1059.9 L134.8 1062.1 L135.8 1064.1 L136.8 1066 L137.8 1067.7 L138.8 1069.2 L139.8 1070.6 L140.8 1071.7 L141.8 1072.7 L142.8 1073.6 L143.8 1074.3 L144.8 1075 L145.8 1075.5 L146.8 1075.9 L147.8 1076.2 L148.8 1076.5 L149.8 1076.8 L150.8 1077 L151.8 1077.1 L152.8 1077.3 L153.8 1077.4 L154.8 1077.5 L155.8 1077.5 L156.8 1077.6 L157.8 1077.7" fill="none" stroke="#9cc58a" stroke-width="0.8" stroke-linejoin="round"/>
<path d="M152.8 1077.4 L153.8 1077.4 L154.8 1077.4 L155.8 1077.3 L156.8 1077.2 L157.8 1077.1 L158.8 1076.9 L159.8 1076.7 L160.8 1076.5 L161.8 1076.3 L162.8 1076 L163.8 1075.7 L164.8 1075.3 L165.8 1074.9 L166.8 1074.5 L167.8 1074.1 L168.8 1073.6 L169.8 1073.2 L170.8 1072.7 L171.8 1072.3 L172.8 1071.8 L173.8 1071.4 L174.8 1071 L175.8 1070.7 L176.8 1070.4 L177.8 1070.2 L178.8 1070.1 L179.8 1070 L180.8 1070.1 L181.8 1070.2 L182.8 1070.3 L183.8 1070.6 L184.8 1070.9 L185.8 1071.3 L186.8 1071.7 L187.8 1072.2 L188.8 1072.7 L189.8 1073.2 L190.8 1073.7 L191.8 1074.3 L192.8 1074.8 L193.8 1075.3 L194.8 1075.8 L195.8 1076.2 L196.8 1076.6 L197.8 1077 L198.8 1077.4 L199.8 1077.7 L200.8 1078 L201.8 1078.2 L202.8 1078.4 L203.8 1078.6 L204.8 1078.8 L205.8 1078.9 L206.8 1079.1 L207.8 1079.2" fill="none" stroke="#6fb0cc" stroke-width="0.8" stroke-linejoin="round"/>
<path d="M230.8 1079.8 L231.8 1079.8 L232.8 1079.8 L233.8 1079.8 L234.8 1079.8 L235.8 1079.7 L236.8 1079.7 L237.8 1079.6 L238.8 1079.5 L239.8 1079.4 L240.8 1079.2 L241.8 1079 L242.8 1078.8 L243.8 1078.5 L244.8 1078.2 L245.8 1077.8 L246.8 1077.3 L247.8 1076.7 L248.8 1076.1 L249.8 1075.3 L250.8 1074.5 L251.8 1073.5 L252.8 1072.5 L253.8 1071.3 L254.8 1070.1 L255.8 1068.8 L256.8 1067.4 L257.8 1065.9 L258.8 1064.5 L259.8 1063 L260.8 1061.5 L261.8 1060.1 L262.8 1058.8 L263.8 1057.6 L264.8 1056.5 L265.8 1055.7 L266.8 1055 L267.8 1054.6 L268.8 1054.5 L269.8 1054.6 L270.8 1055 L271.8 1055.7 L272.8 1056.6 L273.8 1057.8 L274.8 1059.2 L275.8 1060.7 L276.8 1062.4 L277.8 1064.2 L278.8 1066.1 L279.8 1067.9 L280.8 1069.8 L281.8 1071.7 L282.8 1073.4 L283.8 1075.1 L284.8 1076.7 L285.8 1078.2 L286.8 1079.6 L287.8 1080.9 L288.8 1082 L289.8 1083.1 L290.8 1084 L291.8 1084.8 L292.8 1085.5 L293.8 1086.1 L294.8 1086.6 L295.8 1087.1 L296.8 1087.5 L297.8 1087.8 L298.8 1088.1 L299.8 1088.3 L300.8 1088.5 L301.8 1088.7 L302.8 1088.8 L303.8 1088.9 L304.8 1089 L305.8 1089.1 L306.8 1089.2 L307.8 1089.2 L308.8 1089.3" fill="none" stroke="#e6b98a" stroke-width="0.8" stroke-linejoin="round"/>
<path d="M253.8 1080.5 L254.8 1080.5 L255.8 1080.5 L256.8 1080.6 L257.8 1080.6 L258.8 1080.6 L259.8 1080.6 L260.8 1080.6 L261.8 1080.6 L262.8 1080.5 L263.8 1080.2 L264.8 1079.7 L265.8 1078.8 L266.8 1077.4 L267.8 1075.2 L268.8 1071.9 L269.8 1067.5 L270.8 1061.9 L271.8 1055.2 L272.8 1047.7 L273.8 1040 L274.8 1032.8 L275.8 1027.1 L276.8 1023.7 L277.8 1023.2 L278.8 1025.6 L279.8 1030.8 L280.8 1037.9 L281.8 1046.1 L282.8 1054.4 L283.8 1062.3 L284.8 1069.1 L285.8 1074.7 L286.8 1079.1 L287.8 1082.3 L288.8 1084.5 L289.8 1086 L290.8 1087 L291.8 1087.6 L292.8 1088 L293.8 1088.3 L294.8 1088.5 L295.8 1088.6 L296.8 1088.7 L297.8 1088.8 L298.8 1088.9 L299.8 1089 L300.8 1089 L301.8 1089.1" fill="none" stroke="#8795cc" stroke-width="0.8" stroke-linejoin="round"/>
<path d="M49.8 1058.9 L50.8 1058.6 L51.8 1062.8 L52.8 1061.6 L53.8 1062.4 L54.8 1058.7 L55.8 1062.3 L56.8 1063 L57.8 1061.8 L58.8 1062.3 L59.8 1062.4 L60.8 1061 L61.8 1059.1 L62.8 1061.9 L63.8 1059.1 L64.8 1062.1 L65.8 1060.6 L66.8 1062.8 L67.8 1061.2 L68.8 1062.7 L69.8 1062.7 L70.8 1064.3 L71.8 1059.9 L72.8 1063.5 L73.8 1062.2 L74.8 1060.7 L75.8 1061.8 L76.8 1060.2 L77.8 1062.9 L78.8 1061.1 L79.8 1061 L80.8 1061.7 L81.8 1061.1 L82.8 1062.2 L83.8 1063.3 L84.8 1064.8 L85.8 1064.7 L86.8 1063.9 L87.8 1062.3 L88.8 1064.7 L89.8 1062.8 L90.8 1062.9 L91.8 1063.3 L92.8 1063.2 L93.8 1060.6 L94.8 1062.9 L95.8 1061 L96.8 1062.4 L97.8 1062.1 L98.8 1063.6 L99.8 1060.4 L100.8 1062.3 L101.8 1060 L102.8 1057.3 L103.8 1058.6 L104.8 1056.1 L105.8 1056.8 L106.8 1056.3 L107.8 1054.4 L108.8 1055.3 L109.8 1052.8 L110.8 1049 L111.8 1049.3 L112.8 1044.1 L113.8 1044.4 L114.8 1042.8 L115.8 1044.2 L116.8 1038.2 L117.8 1041.2 L118.8 1036.7 L119.8 1036 L120.8 1037.8 L121.8 1037.2 L122.8 1036.7 L123.8 1036.9 L124.8 1037.2 L125.8 1038.5 L126.8 1041.3 L127.8 1044.6 L128.8 1045.1 L129.8 1048.9 L130.8 1051.5 L131.8 1055.1 L132.8 1058.2 L133.8 1057 L134.8 1058.6 L135.8 1060.3 L136.8 1064.8 L137.8 1067.2 L138.8 1068.5 L139.8 1069.1 L140.8 1068.5 L141.8 1072.3 L142.8 1073.5 L143.8 1073.5 L144.8 1073.5 L145.8 1076.5 L146.8 1074 L147.8 1075.9 L148.8 1076.5 L149.8 1077.7 L150.8 1075.9 L151.8 1074.6 L152.8 1075 L153.8 1073.1 L154.8 1076.4 L155.8 1078 L156.8 1076.8 L157.8 1076.7 L158.8 1074.9 L159.8 1076.2 L160.8 1073.1 L161.8 1075.7 L162.8 1073.1 L163.8 1073.2 L164.8 1072.3 L165.8 1074.9 L166.8 1073 L167.8 1073.7 L168.8 1071.5 L169.8 1072.9 L170.8 1073.7 L171.8 1070.9 L172.8 1071.5 L173.8 1068.1 L174.8 1070.8 L175.8 1067 L176.8 1067.1 L177.8 1069.3 L178.8 1068.6 L179.8 1069.5 L180.8 1069.3 L181.8 1067 L182.8 1068.9 L183.8 1070.2 L184.8 1068.1 L185.8 1072.2 L186.8 1070.8 L187.8 1069.2 L188.8 1072.4 L189.8 1071.2 L190.8 1071.6 L191.8 1074.1 L192.8 1075.5 L193.8 1073.8 L194.8 1076.1 L195.8 1075.9 L196.8 1073.9 L197.8 1075.5 L198.8 1074.7 L199.8 1077 L200.8 1077.7 L201.8 1074.6 L202.8 1079 L203.8 1076.3 L204.8 1078.6 L205.8 1078.9 L206.8 1079.7 L207.8 1079.4 L208.8 1078.9 L209.8 1078.3 L210.8 1077.8 L211.8 1079.1 L212.8 1079.8 L213.8 1077.8 L214.8 1079.5 L215.8 1076.3 L216.8 1079.7 L217.8 1079.1 L218.8 1079.7 L219.8 1079.3 L220.8 1077.5 L221.8 1076.8 L222.8 1078.4 L223.8 1081 L224.8 1079.3 L225.8 1079.5 L226.8 1076.7 L227.8 1078.3 L228.8 1079.1 L229.8 1079.7 L230.8 1076.6 L231.8 1079.9 L232.8 1076.4 L233.8 1077.2 L234.8 1080.1 L235.8 1079.6 L236.8 1080.9 L237.8 1076.8 L238.8 1079.6 L239.8 1079.2 L240.8 1079.3 L241.8 1079.3 L242.8 1078.6 L243.8 1077.9 L244.8 1079.1 L245.8 1075.8 L246.8 1077.9 L247.8 1075.9 L248.8 1075.8 L249.8 1075 L250.8 1071 L251.8 1073 L252.8 1073.8 L253.8 1070.6 L254.8 1069.3 L255.8 1065.4 L256.8 1067.1 L257.8 1065.1 L258.8 1062.6 L259.8 1061.6 L260.8 1061.8 L261.8 1059 L262.8 1057.6 L263.8 1056 L264.8 1055.6 L265.8 1053 L266.8 1049.7 L267.8 1045 L268.8 1042.9 L269.8 1039.1 L270.8 1031.3 L271.8 1024.6 L272.8 1017.3 L273.8 1011.1 L274.8 1003.6 L275.8 1002.8 L276.8 998.9 L277.8 1002.5 L278.8 1004 L279.8 1010.5 L280.8 1019.3 L281.8 1026.6 L282.8 1037.9 L283.8 1048.6 L284.8 1057.8 L285.8 1064.7 L286.8 1069 L287.8 1075.7 L288.8 1078.5 L289.8 1080 L290.8 1078.3 L291.8 1081.3 L292.8 1082 L293.8 1082.4 L294.8 1084.4 L295.8 1086.5 L296.8 1086.3 L297.8 1087.2 L298.8 1089.3 L299.8 1086 L300.8 1087 L301.8 1088.9 L302.8 1088.8 L303.8 1086.3 L304.8 1088.1 L305.8 1087.5 L306.8 1088.6 L307.8 1089.2 L308.8 1089 L309.8 1088.7 L310.8 1089 L311.8 1085.8 L312.8 1087.9 L313.8 1089.7 L314.8 1086.2 L315.8 1090.6 L316.8 1088.7 L317.8 1086.3 L318.8 1087 L319.8 1091.3 L320.8 1088.9 L321.8 1085.9 L322.8 1086.8 L323.8 1087.9 L324.8 1089.9 L325.8 1089.5 L326.8 1087.7 L327.8 1091.4 L328.8 1090.7 L329.8 1087 L330.8 1089.2 L331.8 1087.2 L332.8 1086.9 L333.8 1087.4 L334.8 1089.8" fill="none" stroke="#7d7d7d" stroke-width="0.9" stroke-linejoin="round"/>
<path d="M49.8 1062.3 L50.8 1062.4 L51.8 1062.4 L52.8 1062.4 L53.8 1062.4 L54.8 1062.5 L55.8 1062.5 L56.8 1062.5 L57.8 1062.6 L58.8 1062.6 L59.8 1062.6 L60.8 1062.7 L61.8 1062.7 L62.8 1062.7 L63.8 1062.7 L64.8 1062.8 L65.8 1062.8 L66.8 1062.8 L67.8 1062.9 L68.8 1062.9 L69.8 1062.9 L70.8 1063 L71.8 1063 L72.8 1063 L73.8 1063.1 L74.8 1063.1 L75.8 1063.1 L76.8 1063.2 L77.8 1063.2 L78.8 1063.2 L79.8 1063.3 L80.8 1063.3 L81.8 1063.3 L82.8 1063.4 L83.8 1063.4 L84.8 1063.4 L85.8 1063.5 L86.8 1063.5 L87.8 1063.6 L88.8 1063.6 L89.8 1063.7 L90.8 1063.7 L91.8 1063.8 L92.8 1063.8 L93.8 1063.9 L94.8 1064 L95.8 1064 L96.8 1064.1 L97.8 1064.2 L98.8 1064.3 L99.8 1064.4 L100.8 1064.5 L101.8 1064.6 L102.8 1064.8 L103.8 1064.9 L104.8 1065.1 L105.8 1065.3 L106.8 1065.5 L107.8 1065.7 L108.8 1066 L109.8 1066.2 L110.8 1066.5 L111.8 1066.8 L112.8 1067.2 L113.8 1067.5 L114.8 1067.9 L115.8 1068.3 L116.8 1068.8 L117.8 1069.2 L118.8 1069.7 L119.8 1070.1 L120.8 1070.6 L121.8 1071.1 L122.8 1071.6 L123.8 1072 L124.8 1072.5 L125.8 1072.9 L126.8 1073.3 L127.8 1073.7 L128.8 1074.1 L129.8 1074.5 L130.8 1074.8 L131.8 1075.1 L132.8 1075.4 L133.8 1075.6 L134.8 1075.8 L135.8 1076.1 L136.8 1076.2 L137.8 1076.4 L138.8 1076.6 L139.8 1076.7 L140.8 1076.9 L141.8 1077 L142.8 1077.1 L143.8 1077.2 L144.8 1077.3 L145.8 1077.4 L146.8 1077.4 L147.8 1077.5 L148.8 1077.6 L149.8 1077.6 L150.8 1077.7 L151.8 1077.7 L152.8 1077.8 L153.8 1077.8 L154.8 1077.9 L155.8 1077.9 L156.8 1078 L157.8 1078 L158.8 1078 L159.8 1078.1 L160.8 1078.1 L161.8 1078.1 L162.8 1078.2 L163.8 1078.2 L164.8 1078.3 L165.8 1078.3 L166.8 1078.3 L167.8 1078.3 L168.8 1078.4 L169.8 1078.4 L170.8 1078.4 L171.8 1078.5 L172.8 1078.5 L173.8 1078.5 L174.8 1078.6 L175.8 1078.6 L176.8 1078.6 L177.8 1078.7 L178.8 1078.7 L179.8 1078.7 L180.8 1078.8 L181.8 1078.8 L182.8 1078.8 L183.8 1078.8 L184.8 1078.9 L185.8 1078.9 L186.8 1078.9 L187.8 1079 L188.8 1079 L189.8 1079 L190.8 1079.1 L191.8 1079.1 L192.8 1079.1 L193.8 1079.1 L194.8 1079.2 L195.8 1079.2 L196.8 1079.2 L197.8 1079.3 L198.8 1079.3 L199.8 1079.3 L200.8 1079.3 L201.8 1079.4 L202.8 1079.4 L203.8 1079.4 L204.8 1079.4 L205.8 1079.5 L206.8 1079.5 L207.8 1079.5 L208.8 1079.6 L209.8 1079.6 L210.8 1079.6 L211.8 1079.6 L212.8 1079.7 L213.8 1079.7 L214.8 1079.7 L215.8 1079.7 L216.8 1079.8 L217.8 1079.8 L218.8 1079.8 L219.8 1079.8 L220.8 1079.9 L221.8 1079.9 L222.8 1079.9 L223.8 1079.9 L224.8 1080 L225.8 1080 L226.8 1080 L227.8 1080 L228.8 1080.1 L229.8 1080.1 L230.8 1080.1 L231.8 1080.1 L232.8 1080.2 L233.8 1080.2 L234.8 1080.2 L235.8 1080.2 L236.8 1080.3 L237.8 1080.3 L238.8 1080.3 L239.8 1080.4 L240.8 1080.4 L241.8 1080.4 L242.8 1080.4 L243.8 1080.5 L244.8 1080.5 L245.8 1080.5 L246.8 1080.6 L247.8 1080.6 L248.8 1080.6 L249.8 1080.7 L250.8 1080.7 L251.8 1080.7 L252.8 1080.8 L253.8 1080.8 L254.8 1080.9 L255.8 1080.9 L256.8 1081 L257.8 1081 L258.8 1081.1 L259.8 1081.2 L260.8 1081.3 L261.8 1081.4 L262.8 1081.5 L263.8 1081.7 L264.8 1081.9 L265.8 1082 L266.8 1082.3 L267.8 1082.5 L268.8 1082.8 L269.8 1083.1 L270.8 1083.4 L271.8 1083.8 L272.8 1084.1 L273.8 1084.5 L274.8 1084.9 L275.8 1085.3 L276.8 1085.7 L277.8 1086.1 L278.8 1086.5 L279.8 1086.8 L280.8 1087.1 L281.8 1087.4 L282.8 1087.6 L283.8 1087.9 L284.8 1088.1 L285.8 1088.3 L286.8 1088.4 L287.8 1088.5 L288.8 1088.7 L289.8 1088.8 L290.8 1088.8 L291.8 1088.9 L292.8 1089 L293.8 1089.1 L294.8 1089.1 L295.8 1089.2 L296.8 1089.2 L297.8 1089.3 L298.8 1089.3 L299.8 1089.3 L300.8 1089.4 L301.8 1089.4 L302.8 1089.4 L303.8 1089.5 L304.8 1089.5 L305.8 1089.5 L306.8 1089.6 L307.8 1089.6 L308.8 1089.6 L309.8 1089.6 L310.8 1089.7 L311.8 1089.7 L312.8 1089.7 L313.8 1089.7 L314.8 1089.8 L315.8 1089.8 L316.8 1089.8 L317.8 1089.8 L318.8 1089.9 L319.8 1089.9 L320.8 1089.9 L321.8 1089.9 L322.8 1090 L323.8 1090 L324.8 1090 L325.8 1090.1 L326.8 1090.1 L327.8 1090.1 L328.8 1090.1 L329.8 1090.2 L330.8 1090.2 L331.8 1090.2 L332.8 1090.2 L333.8 1090.3 L334.8 1090.3" fill="none" stroke="#2a1f2e" stroke-width="1.2" stroke-linejoin="round"/>
<path d="M49.8 1062.2 L50.8 1062.3 L51.8 1062.3 L52.8 1062.3 L53.8 1062.3 L54.8 1062.4 L55.8 1062.4 L56.8 1062.4 L57.8 1062.5 L58.8 1062.5 L59.8 1062.5 L60.8 1062.5 L61.8 1062.6 L62.8 1062.6 L63.8 1062.6 L64.8 1062.6 L65.8 1062.7 L66.8 1062.7 L67.8 1062.7 L68.8 1062.7 L69.8 1062.8 L70.8 1062.8 L71.8 1062.8 L72.8 1062.9 L73.8 1062.9 L74.8 1062.9 L75.8 1062.9 L76.8 1063 L77.8 1063 L78.8 1063 L79.8 1063 L80.8 1063.1 L81.8 1063.1 L82.8 1063.1 L83.8 1063.1 L84.8 1063.2 L85.8 1063.2 L86.8 1063.2 L87.8 1063.2 L88.8 1063.2 L89.8 1063.2 L90.8 1063.2 L91.8 1063.2 L92.8 1063.2 L93.8 1063.2 L94.8 1063.1 L95.8 1063 L96.8 1062.9 L97.8 1062.7 L98.8 1062.5 L99.8 1062.2 L100.8 1061.8 L101.8 1061.3 L102.8 1060.7 L103.8 1060 L104.8 1059.1 L105.8 1058.1 L106.8 1057 L107.8 1055.7 L108.8 1054.3 L109.8 1052.8 L110.8 1051.2 L111.8 1049.5 L112.8 1047.8 L113.8 1046 L114.8 1044.3 L115.8 1042.7 L116.8 1041.3 L117.8 1040.1 L118.8 1039.1 L119.8 1038.4 L120.8 1038.1 L121.8 1038.1 L122.8 1038.5 L123.8 1039.4 L124.8 1040.5 L125.8 1042.1 L126.8 1043.9 L127.8 1045.9 L128.8 1048.1 L129.8 1050.4 L130.8 1052.8 L131.8 1055.2 L132.8 1057.6 L133.8 1059.9 L134.8 1062 L135.8 1064.1 L136.8 1065.9 L137.8 1067.6 L138.8 1069.1 L139.8 1070.5 L140.8 1071.6 L141.8 1072.7 L142.8 1073.5 L143.8 1074.2 L144.8 1074.8 L145.8 1075.3 L146.8 1075.8 L147.8 1076.1 L148.8 1076.3 L149.8 1076.5 L150.8 1076.7 L151.8 1076.8 L152.8 1076.9 L153.8 1076.9 L154.8 1076.9 L155.8 1076.9 L156.8 1076.8 L157.8 1076.7 L158.8 1076.6 L159.8 1076.4 L160.8 1076.2 L161.8 1076 L162.8 1075.7 L163.8 1075.4 L164.8 1075.1 L165.8 1074.7 L166.8 1074.3 L167.8 1073.9 L168.8 1073.4 L169.8 1073 L170.8 1072.5 L171.8 1072 L172.8 1071.6 L173.8 1071.2 L174.8 1070.8 L175.8 1070.5 L176.8 1070.2 L177.8 1070 L178.8 1069.9 L179.8 1069.8 L180.8 1069.9 L181.8 1070 L182.8 1070.2 L183.8 1070.4 L184.8 1070.7 L185.8 1071.1 L186.8 1071.5 L187.8 1072 L188.8 1072.5 L189.8 1073 L190.8 1073.5 L191.8 1074.1 L192.8 1074.6 L193.8 1075.1 L194.8 1075.6 L195.8 1076 L196.8 1076.4 L197.8 1076.8 L198.8 1077.2 L199.8 1077.5 L200.8 1077.8 L201.8 1078 L202.8 1078.2 L203.8 1078.4 L204.8 1078.6 L205.8 1078.7 L206.8 1078.9 L207.8 1079 L208.8 1079.1 L209.8 1079.1 L210.8 1079.2 L211.8 1079.3 L212.8 1079.3 L213.8 1079.3 L214.8 1079.4 L215.8 1079.4 L216.8 1079.4 L217.8 1079.5 L218.8 1079.5 L219.8 1079.5 L220.8 1079.5 L221.8 1079.6 L222.8 1079.6 L223.8 1079.6 L224.8 1079.6 L225.8 1079.6 L226.8 1079.6 L227.8 1079.6 L228.8 1079.7 L229.8 1079.7 L230.8 1079.7 L231.8 1079.7 L232.8 1079.6 L233.8 1079.6 L234.8 1079.6 L235.8 1079.6 L236.8 1079.5 L237.8 1079.4 L238.8 1079.3 L239.8 1079.2 L240.8 1079.1 L241.8 1078.9 L242.8 1078.6 L243.8 1078.3 L244.8 1078 L245.8 1077.6 L246.8 1077.1 L247.8 1076.5 L248.8 1075.8 L249.8 1075 L250.8 1074.2 L251.8 1073.2 L252.8 1072.1 L253.8 1071 L254.8 1069.7 L255.8 1068.4 L256.8 1066.9 L257.8 1065.4 L258.8 1063.9 L259.8 1062.4 L260.8 1060.8 L261.8 1059.3 L262.8 1057.7 L263.8 1056.1 L264.8 1054.4 L265.8 1052.4 L266.8 1050.1 L267.8 1047.2 L268.8 1043.6 L269.8 1039 L270.8 1033.5 L271.8 1027.1 L272.8 1020.1 L273.8 1013.2 L274.8 1007 L275.8 1002.5 L276.8 1000.4 L277.8 1001.3 L278.8 1005.2 L279.8 1011.9 L280.8 1020.6 L281.8 1030.3 L282.8 1040.2 L283.8 1049.5 L284.8 1057.8 L285.8 1064.7 L286.8 1070.3 L287.8 1074.6 L288.8 1077.9 L289.8 1080.3 L290.8 1082.1 L291.8 1083.5 L292.8 1084.5 L293.8 1085.3 L294.8 1086 L295.8 1086.5 L296.8 1087 L297.8 1087.4 L298.8 1087.7 L299.8 1087.9 L300.8 1088.2 L301.8 1088.3 L302.8 1088.5 L303.8 1088.6 L304.8 1088.7 L305.8 1088.9 L306.8 1088.9 L307.8 1089 L308.8 1089.1 L309.8 1089.1 L310.8 1089.2 L311.8 1089.3 L312.8 1089.3 L313.8 1089.4 L314.8 1089.4 L315.8 1089.4 L316.8 1089.5 L317.8 1089.5 L318.8 1089.6 L319.8 1089.6 L320.8 1089.6 L321.8 1089.7 L322.8 1089.7 L323.8 1089.7 L324.8 1089.8 L325.8 1089.8 L326.8 1089.9 L327.8 1089.9 L328.8 1089.9 L329.8 1090 L330.8 1090 L331.8 1090 L332.8 1090 L333.8 1090.1 L334.8 1090.1" fill="none" stroke="#231f20" stroke-width="1.6" stroke-linejoin="round"/>
<rect x="49" y="873.6" width="286.8" height="230.2" fill="none" stroke="#000" stroke-width="1.6"/>
<line x1="64.3" y1="1103.8" x2="64.3" y2="1107.3" stroke="#000" stroke-width="1.5" stroke-linecap="butt"/>
<line x1="103" y1="1103.8" x2="103" y2="1107.3" stroke="#000" stroke-width="1.5" stroke-linecap="butt"/>
<line x1="141.7" y1="1103.8" x2="141.7" y2="1107.3" stroke="#000" stroke-width="1.5" stroke-linecap="butt"/>
<line x1="180.4" y1="1103.8" x2="180.4" y2="1107.3" stroke="#000" stroke-width="1.5" stroke-linecap="butt"/>
<line x1="219.1" y1="1103.8" x2="219.1" y2="1107.3" stroke="#000" stroke-width="1.5" stroke-linecap="butt"/>
<line x1="257.8" y1="1103.8" x2="257.8" y2="1107.3" stroke="#000" stroke-width="1.5" stroke-linecap="butt"/>
<line x1="296.5" y1="1103.8" x2="296.5" y2="1107.3" stroke="#000" stroke-width="1.5" stroke-linecap="butt"/>
<line x1="335.2" y1="1103.8" x2="335.2" y2="1107.3" stroke="#000" stroke-width="1.5" stroke-linecap="butt"/>
<line x1="83.7" y1="1103.8" x2="83.7" y2="1106" stroke="#000" stroke-width="1.3" stroke-linecap="butt"/>
<line x1="122.3" y1="1103.8" x2="122.3" y2="1106" stroke="#000" stroke-width="1.3" stroke-linecap="butt"/>
<line x1="161" y1="1103.8" x2="161" y2="1106" stroke="#000" stroke-width="1.3" stroke-linecap="butt"/>
<line x1="199.8" y1="1103.8" x2="199.8" y2="1106" stroke="#000" stroke-width="1.3" stroke-linecap="butt"/>
<line x1="238.4" y1="1103.8" x2="238.4" y2="1106" stroke="#000" stroke-width="1.3" stroke-linecap="butt"/>
<line x1="277.1" y1="1103.8" x2="277.1" y2="1106" stroke="#000" stroke-width="1.3" stroke-linecap="butt"/>
<line x1="315.9" y1="1103.8" x2="315.9" y2="1106" stroke="#000" stroke-width="1.3" stroke-linecap="butt"/>
<text transform="translate(64.3 1126) scale(1 1.09)" font-size="13.5" font-weight="bold" text-anchor="middle" fill="#231f20"><tspan>960</tspan></text>
<text transform="translate(103 1126) scale(1 1.09)" font-size="13.5" font-weight="bold" text-anchor="middle" fill="#231f20"><tspan>955</tspan></text>
<text transform="translate(141.7 1126) scale(1 1.09)" font-size="13.5" font-weight="bold" text-anchor="middle" fill="#231f20"><tspan>950</tspan></text>
<text transform="translate(180.4 1126) scale(1 1.09)" font-size="13.5" font-weight="bold" text-anchor="middle" fill="#231f20"><tspan>945</tspan></text>
<text transform="translate(219.1 1126) scale(1 1.09)" font-size="13.5" font-weight="bold" text-anchor="middle" fill="#231f20"><tspan>940</tspan></text>
<text transform="translate(257.8 1126) scale(1 1.09)" font-size="13.5" font-weight="bold" text-anchor="middle" fill="#231f20"><tspan>935</tspan></text>
<text transform="translate(296.5 1126) scale(1 1.09)" font-size="13.5" font-weight="bold" text-anchor="middle" fill="#231f20"><tspan>930</tspan></text>
<text transform="translate(335.2 1126) scale(1 1.09)" font-size="13.5" font-weight="bold" text-anchor="middle" fill="#231f20"><tspan>925</tspan></text>
<text transform="translate(188.3 1147.8) scale(1 1.09)" font-size="14" font-weight="bold" text-anchor="middle" fill="#231f20"><tspan>Binding energy (eV)</tspan></text>
<text transform="translate(38.6 989) rotate(-90) scale(1 1.09)" font-size="14" font-weight="bold" text-anchor="middle" fill="#231f20"><tspan>Intensity (arb.u.)</tspan></text>
<text transform="translate(56.7 887.2) scale(1 1.09)" font-size="7.8" font-weight="bold" text-anchor="start" fill="#231f20"><tspan>Cu 2p</tspan></text>
<text transform="translate(56.7 976.8) scale(1 1.09)" font-size="7.8" font-weight="bold" text-anchor="start" fill="#231f20"><tspan>Cu</tspan><tspan dy="2.2" font-size="5.3">2</tspan><tspan dy="-2.2">O/g-C</tspan><tspan dy="2.2" font-size="5.3">3</tspan><tspan dy="-2.2">N</tspan><tspan dy="2.2" font-size="5.3">4</tspan><tspan dy="-2.2">-0.2</tspan></text>
<text transform="translate(56.7 1076.7) scale(1 1.09)" font-size="7.8" font-weight="bold" text-anchor="start" fill="#231f20"><tspan>Cu</tspan><tspan dy="2.2" font-size="5.3">2</tspan><tspan dy="-2.2">O MCs</tspan></text>
<text transform="translate(121.8 917.8) scale(1 1.09)" font-size="7.8" font-weight="bold" text-anchor="middle" fill="#231f20"><tspan>953.20eV</tspan></text>
<text transform="translate(176.2 956.6) scale(1 1.09)" font-size="7.8" font-weight="bold" text-anchor="middle" fill="#231f20"><tspan>Satellite</tspan></text>
<text transform="translate(124.9 1031.1) scale(1 1.09)" font-size="7.8" font-weight="bold" text-anchor="middle" fill="#231f20"><tspan>952.50eV</tspan></text>
<text transform="translate(183 1066.8) scale(1 1.09)" font-size="7.8" font-weight="bold" text-anchor="middle" fill="#231f20"><tspan>Satellite</tspan></text>
<text transform="translate(245 1044.3) scale(1 1.09)" font-size="7.8" font-weight="bold" text-anchor="middle" fill="#231f20"><tspan>933.20eV</tspan></text>
<text transform="translate(278.7 893.8) scale(1 1.09)" font-size="7.8" font-weight="bold" text-anchor="start" fill="#231f20"><tspan>933.30eV</tspan></text>
<text transform="translate(291.2 1023.5) scale(1 1.09)" font-size="7.8" font-weight="bold" text-anchor="start" fill="#231f20"><tspan>932.50eV</tspan></text>
<line x1="118.4" y1="919" x2="118.4" y2="930" stroke="#000" stroke-width="1.7" stroke-linecap="butt" stroke-dasharray="1.5 1.5"/>
<line x1="271.5" y1="887" x2="271.5" y2="905.7" stroke="#000" stroke-width="1.7" stroke-linecap="butt" stroke-dasharray="1.5 1.5"/>
<line x1="122.4" y1="1034.9" x2="122.4" y2="1044.7" stroke="#000" stroke-width="1.7" stroke-linecap="butt" stroke-dasharray="1.5 1.5"/>
<line x1="277.1" y1="1018.5" x2="277.1" y2="1029.4" stroke="#000" stroke-width="1.7" stroke-linecap="butt" stroke-dasharray="1.5 1.5"/>
<line x1="271" y1="1051.3" x2="271" y2="1062.3" stroke="#000" stroke-width="1.7" stroke-linecap="butt" stroke-dasharray="1.5 1.5"/>
<line x1="289" y1="1020.3" x2="284" y2="1021.8" stroke="#111" stroke-width="1.5" stroke-linecap="butt"/>
<path d="M280.3 1023.2l5.4-5.2 1.6 6.3z" fill="#111"/>
<line x1="259.5" y1="1046.7" x2="265" y2="1052.3" stroke="#111" stroke-width="1.5" stroke-linecap="butt"/>
<path d="M268.6 1056.3l-7.2-1.6 4.6-4.6z" fill="#111"/>
<text transform="translate(367.5 877.5)" font-size="21" font-weight="bold" text-anchor="start" fill="#111"><tspan>h</tspan></text>
<path d="M391.8 964.2 L392.8 964.2 L393.8 964.2 L394.8 964.2 L395.8 964.2 L396.8 964.2 L397.8 964.2 L398.8 964.2 L399.8 964.2 L400.8 964.2 L401.8 964.2 L402.8 964.2 L403.8 964.2 L404.8 964.2 L405.8 964.2 L406.8 964.2 L407.8 964.2 L408.8 964.2 L409.8 964.2 L410.8 964.2 L411.8 964.2 L412.8 964.2 L413.8 964.2 L414.8 964.2 L415.8 964.2 L416.8 964.2 L417.8 964.2 L418.8 964.1 L419.8 964.1 L420.8 964.1 L421.8 964.1 L422.8 964.1 L423.8 964.1 L424.8 964.1 L425.8 964.1 L426.8 964.1 L427.8 964.1 L428.8 964.1 L429.8 964.1 L430.8 964.1 L431.8 964.1 L432.8 964.1 L433.8 964.1 L434.8 964.1 L435.8 964 L436.8 964 L437.8 964 L438.8 964 L439.8 964 L440.8 964 L441.8 964 L442.8 963.9 L443.8 963.9 L444.8 963.9 L445.8 963.9 L446.8 963.9 L447.8 963.8 L448.8 963.8 L449.8 963.8 L450.8 963.7 L451.8 963.7 L452.8 963.6 L453.8 963.6 L454.8 963.5 L455.8 963.5 L456.8 963.4 L457.8 963.3 L458.8 963.2 L459.8 963.1 L460.8 963 L461.8 962.9 L462.8 962.8 L463.8 962.7 L464.8 962.5 L465.8 962.3 L466.8 962.2 L467.8 962 L468.8 961.8 L469.8 961.6 L470.8 961.3 L471.8 961 L472.8 960.8 L473.8 960.4 L474.8 960.1 L475.8 959.8 L476.8 959.4 L477.8 959 L478.8 958.5 L479.8 958 L480.8 957.5 L481.8 957 L482.8 956.4 L483.8 955.8 L484.8 955.1 L485.8 954.4 L486.8 953.7 L487.8 952.9 L488.8 952.1 L489.8 951.2 L490.8 950.3 L491.8 949.4 L492.8 948.4 L493.8 947.3 L494.8 946.3 L495.8 945.1 L496.8 943.9 L497.8 942.7 L498.8 941.4 L499.8 940.1 L500.8 938.8 L501.8 937.3 L502.8 935.9 L503.8 934.4 L504.8 932.9 L505.8 931.3 L506.8 929.8 L507.8 928.2 L508.8 926.5 L509.8 924.9 L510.8 923.2 L511.8 921.5 L512.8 919.8 L513.8 918.1 L514.8 916.4 L515.8 914.7 L516.8 913 L517.8 911.3 L518.8 909.6 L519.8 908 L520.8 906.4 L521.8 904.8 L522.8 903.2 L523.8 901.8 L524.8 900.3 L525.8 899 L526.8 897.6 L527.8 896.4 L528.8 895.2 L529.8 894.2 L530.8 893.2 L531.8 892.3 L532.8 891.5 L533.8 890.7 L534.8 890.1 L535.8 889.6 L536.8 889.2 L537.8 889 L538.8 888.8 L539.8 888.8 L540.8 888.8 L541.8 889 L542.8 889.3 L543.8 889.7 L544.8 890.2 L545.8 890.8 L546.8 891.5 L547.8 892.4 L548.8 893.3 L549.8 894.3 L550.8 895.4 L551.8 896.6 L552.8 897.9 L553.8 899.2 L554.8 900.6 L555.8 902.1 L556.8 903.6 L557.8 905.2 L558.8 906.8 L559.8 908.5 L560.8 910.2 L561.8 911.9 L562.8 913.7 L563.8 915.4 L564.8 917.2 L565.8 919 L566.8 920.7 L567.8 922.5 L568.8 924.3 L569.8 926 L570.8 927.8 L571.8 929.5 L572.8 931.2 L573.8 932.9 L574.8 934.5 L575.8 936.1 L576.8 937.7 L577.8 939.2 L578.8 940.7 L579.8 942.1 L580.8 943.5 L581.8 944.9 L582.8 946.2 L583.8 947.5 L584.8 948.7 L585.8 949.8 L586.8 951 L587.8 952 L588.8 953.1 L589.8 954.1 L590.8 955 L591.8 955.9 L592.8 956.7 L593.8 957.5 L594.8 958.3 L595.8 959 L596.8 959.7 L597.8 960.4 L598.8 961 L599.8 961.5 L600.8 962.1 L601.8 962.6 L602.8 963 L603.8 963.5 L604.8 963.9 L605.8 964.3 L606.8 964.6 L607.8 965 L608.8 965.3 L609.8 965.6 L610.8 965.8 L611.8 966.1 L612.8 966.3 L613.8 966.5 L614.8 966.7 L615.8 966.9 L616.8 967.1 L617.8 967.3 L618.8 967.4 L619.8 967.5 L620.8 967.7 L621.8 967.8 L622.8 967.9 L623.8 968 L624.8 968.1 L625.8 968.2 L626.8 968.2 L627.8 968.3 L628.8 968.4 L629.8 968.4 L630.8 968.5 L631.8 968.6 L632.8 968.6 L633.8 968.7 L634.8 968.7 L635.8 968.7 L636.8 968.8 L637.8 968.8 L638.8 968.8 L639.8 968.9 L640.8 968.9 L641.8 968.9 L642.8 969 L643.8 969 L644.8 969 L645.8 969 L646.8 969.1 L647.8 969.1 L648.8 969.1 L649.8 969.1 L650.8 969.1 L651.8 969.2 L652.8 969.2 L653.8 969.2 L654.8 969.2 L655.8 969.2 L656.8 969.2 L657.8 969.3 L658.8 969.3 L659.8 969.3 L660.8 969.3 L661.8 969.3 L662.8 969.3 L663.8 969.3 L664.8 969.4 L665.8 969.4 L666.8 969.4 L667.8 969.4 L668.8 969.4 L669.8 969.4 L670.8 969.4 L671.8 969.4 L672.8 969.4 L673.8 969.5 L674.8 969.5 L675.8 969.5 L676.8 969.5 L677.8 969.5 L678.8 969.5 L679.8 969.5 L680.8 969.5 L681.8 969.5 L681.8 969.9 L680.8 969.9 L679.8 969.9 L678.8 969.9 L677.8 969.9 L676.8 969.9 L675.8 969.9 L674.8 969.9 L673.8 969.9 L672.8 969.9 L671.8 969.9 L670.8 969.9 L669.8 969.8 L668.8 969.8 L667.8 969.8 L666.8 969.8 L665.8 969.8 L664.8 969.8 L663.8 969.8 L662.8 969.8 L661.8 969.8 L660.8 969.8 L659.8 969.8 L658.8 969.8 L657.8 969.8 L656.8 969.8 L655.8 969.8 L654.8 969.8 L653.8 969.8 L652.8 969.8 L651.8 969.8 L650.8 969.7 L649.8 969.7 L648.8 969.7 L647.8 969.7 L646.8 969.7 L645.8 969.7 L644.8 969.7 L643.8 969.7 L642.8 969.7 L641.8 969.7 L640.8 969.7 L639.8 969.7 L638.8 969.6 L637.8 969.6 L636.8 969.6 L635.8 969.6 L634.8 969.6 L633.8 969.6 L632.8 969.6 L631.8 969.6 L630.8 969.6 L629.8 969.6 L628.8 969.5 L627.8 969.5 L626.8 969.5 L625.8 969.5 L624.8 969.5 L623.8 969.5 L622.8 969.5 L621.8 969.4 L620.8 969.4 L619.8 969.4 L618.8 969.4 L617.8 969.4 L616.8 969.4 L615.8 969.4 L614.8 969.3 L613.8 969.3 L612.8 969.3 L611.8 969.3 L610.8 969.3 L609.8 969.3 L608.8 969.2 L607.8 969.2 L606.8 969.2 L605.8 969.2 L604.8 969.2 L603.8 969.1 L602.8 969.1 L601.8 969.1 L600.8 969.1 L599.8 969 L598.8 969 L597.8 969 L596.8 969 L595.8 969 L594.8 968.9 L593.8 968.9 L592.8 968.9 L591.8 968.9 L590.8 968.8 L589.8 968.8 L588.8 968.8 L587.8 968.7 L586.8 968.7 L585.8 968.7 L584.8 968.7 L583.8 968.6 L582.8 968.6 L581.8 968.6 L580.8 968.5 L579.8 968.5 L578.8 968.5 L577.8 968.5 L576.8 968.4 L575.8 968.4 L574.8 968.4 L573.8 968.3 L572.8 968.3 L571.8 968.3 L570.8 968.2 L569.8 968.2 L568.8 968.2 L567.8 968.1 L566.8 968.1 L565.8 968 L564.8 968 L563.8 968 L562.8 967.9 L561.8 967.9 L560.8 967.9 L559.8 967.8 L558.8 967.8 L557.8 967.7 L556.8 967.7 L555.8 967.7 L554.8 967.6 L553.8 967.6 L552.8 967.6 L551.8 967.5 L550.8 967.5 L549.8 967.4 L548.8 967.4 L547.8 967.4 L546.8 967.3 L545.8 967.3 L544.8 967.2 L543.8 967.2 L542.8 967.2 L541.8 967.1 L540.8 967.1 L539.8 967 L538.8 967 L537.8 967 L536.8 966.9 L535.8 966.9 L534.8 966.9 L533.8 966.8 L532.8 966.8 L531.8 966.7 L530.8 966.7 L529.8 966.7 L528.8 966.6 L527.8 966.6 L526.8 966.6 L525.8 966.5 L524.8 966.5 L523.8 966.4 L522.8 966.4 L521.8 966.4 L520.8 966.3 L519.8 966.3 L518.8 966.3 L517.8 966.2 L516.8 966.2 L515.8 966.2 L514.8 966.1 L513.8 966.1 L512.8 966.1 L511.8 966 L510.8 966 L509.8 966 L508.8 965.9 L507.8 965.9 L506.8 965.9 L505.8 965.9 L504.8 965.8 L503.8 965.8 L502.8 965.8 L501.8 965.7 L500.8 965.7 L499.8 965.7 L498.8 965.7 L497.8 965.6 L496.8 965.6 L495.8 965.6 L494.8 965.6 L493.8 965.5 L492.8 965.5 L491.8 965.5 L490.8 965.5 L489.8 965.4 L488.8 965.4 L487.8 965.4 L486.8 965.4 L485.8 965.4 L484.8 965.3 L483.8 965.3 L482.8 965.3 L481.8 965.3 L480.8 965.3 L479.8 965.2 L478.8 965.2 L477.8 965.2 L476.8 965.2 L475.8 965.2 L474.8 965.2 L473.8 965.1 L472.8 965.1 L471.8 965.1 L470.8 965.1 L469.8 965.1 L468.8 965.1 L467.8 965 L466.8 965 L465.8 965 L464.8 965 L463.8 965 L462.8 965 L461.8 965 L460.8 965 L459.8 964.9 L458.8 964.9 L457.8 964.9 L456.8 964.9 L455.8 964.9 L454.8 964.9 L453.8 964.9 L452.8 964.9 L451.8 964.9 L450.8 964.8 L449.8 964.8 L448.8 964.8 L447.8 964.8 L446.8 964.8 L445.8 964.8 L444.8 964.8 L443.8 964.8 L442.8 964.8 L441.8 964.8 L440.8 964.8 L439.8 964.8 L438.8 964.8 L437.8 964.7 L436.8 964.7 L435.8 964.7 L434.8 964.7 L433.8 964.7 L432.8 964.7 L431.8 964.7 L430.8 964.7 L429.8 964.7 L428.8 964.7 L427.8 964.7 L426.8 964.7 L425.8 964.7 L424.8 964.7 L423.8 964.7 L422.8 964.7 L421.8 964.7 L420.8 964.7 L419.8 964.6 L418.8 964.6 L417.8 964.6 L416.8 964.6 L415.8 964.6 L414.8 964.6 L413.8 964.6 L412.8 964.6 L411.8 964.6 L410.8 964.6 L409.8 964.6 L408.8 964.6 L407.8 964.6 L406.8 964.6 L405.8 964.6 L404.8 964.6 L403.8 964.6 L402.8 964.6 L401.8 964.6 L400.8 964.6 L399.8 964.6 L398.8 964.6 L397.8 964.6 L396.8 964.6 L395.8 964.6 L394.8 964.6 L393.8 964.6 L392.8 964.6 L391.8 964.6Z" fill="url(#lav)" stroke="none" stroke-width="0"/>
<path d="M391.8 964.2 L392.8 964.2 L393.8 964.2 L394.8 964.2 L395.8 964.2 L396.8 964.2 L397.8 964.2 L398.8 964.2 L399.8 964.2 L400.8 964.2 L401.8 964.2 L402.8 964.2 L403.8 964.2 L404.8 964.2 L405.8 964.2 L406.8 964.2 L407.8 964.2 L408.8 964.2 L409.8 964.2 L410.8 964.2 L411.8 964.2 L412.8 964.2 L413.8 964.2 L414.8 964.2 L415.8 964.2 L416.8 964.2 L417.8 964.2 L418.8 964.1 L419.8 964.1 L420.8 964.1 L421.8 964.1 L422.8 964.1 L423.8 964.1 L424.8 964.1 L425.8 964.1 L426.8 964.1 L427.8 964.1 L428.8 964.1 L429.8 964.1 L430.8 964.1 L431.8 964.1 L432.8 964.1 L433.8 964.1 L434.8 964.1 L435.8 964 L436.8 964 L437.8 964 L438.8 964 L439.8 964 L440.8 964 L441.8 964 L442.8 963.9 L443.8 963.9 L444.8 963.9 L445.8 963.9 L446.8 963.9 L447.8 963.8 L448.8 963.8 L449.8 963.8 L450.8 963.7 L451.8 963.7 L452.8 963.6 L453.8 963.6 L454.8 963.5 L455.8 963.5 L456.8 963.4 L457.8 963.3 L458.8 963.2 L459.8 963.1 L460.8 963 L461.8 962.9 L462.8 962.8 L463.8 962.7 L464.8 962.5 L465.8 962.3 L466.8 962.2 L467.8 962 L468.8 961.8 L469.8 961.6 L470.8 961.3 L471.8 961 L472.8 960.8 L473.8 960.4 L474.8 960.1 L475.8 959.8 L476.8 959.4 L477.8 959 L478.8 958.5 L479.8 958 L480.8 957.5 L481.8 957 L482.8 956.4 L483.8 955.8 L484.8 955.1 L485.8 954.4 L486.8 953.7 L487.8 952.9 L488.8 952.1 L489.8 951.2 L490.8 950.3 L491.8 949.4 L492.8 948.4 L493.8 947.3 L494.8 946.3 L495.8 945.1 L496.8 943.9 L497.8 942.7 L498.8 941.4 L499.8 940.1 L500.8 938.8 L501.8 937.3 L502.8 935.9 L503.8 934.4 L504.8 932.9 L505.8 931.3 L506.8 929.8 L507.8 928.2 L508.8 926.5 L509.8 924.9 L510.8 923.2 L511.8 921.5 L512.8 919.8 L513.8 918.1 L514.8 916.4 L515.8 914.7 L516.8 913 L517.8 911.3 L518.8 909.6 L519.8 908 L520.8 906.4 L521.8 904.8 L522.8 903.2 L523.8 901.8 L524.8 900.3 L525.8 899 L526.8 897.6 L527.8 896.4 L528.8 895.2 L529.8 894.2 L530.8 893.2 L531.8 892.3 L532.8 891.5 L533.8 890.7 L534.8 890.1 L535.8 889.6 L536.8 889.2 L537.8 889 L538.8 888.8 L539.8 888.8 L540.8 888.8 L541.8 889 L542.8 889.3 L543.8 889.7 L544.8 890.2 L545.8 890.8 L546.8 891.5 L547.8 892.4 L548.8 893.3 L549.8 894.3 L550.8 895.4 L551.8 896.6 L552.8 897.9 L553.8 899.2 L554.8 900.6 L555.8 902.1 L556.8 903.6 L557.8 905.2 L558.8 906.8 L559.8 908.5 L560.8 910.2 L561.8 911.9 L562.8 913.7 L563.8 915.4 L564.8 917.2 L565.8 919 L566.8 920.7 L567.8 922.5 L568.8 924.3 L569.8 926 L570.8 927.8 L571.8 929.5 L572.8 931.2 L573.8 932.9 L574.8 934.5 L575.8 936.1 L576.8 937.7 L577.8 939.2 L578.8 940.7 L579.8 942.1 L580.8 943.5 L581.8 944.9 L582.8 946.2 L583.8 947.5 L584.8 948.7 L585.8 949.8 L586.8 951 L587.8 952 L588.8 953.1 L589.8 954.1 L590.8 955 L591.8 955.9 L592.8 956.7 L593.8 957.5 L594.8 958.3 L595.8 959 L596.8 959.7 L597.8 960.4 L598.8 961 L599.8 961.5 L600.8 962.1 L601.8 962.6 L602.8 963 L603.8 963.5 L604.8 963.9 L605.8 964.3 L606.8 964.6 L607.8 965 L608.8 965.3 L609.8 965.6 L610.8 965.8 L611.8 966.1 L612.8 966.3 L613.8 966.5 L614.8 966.7 L615.8 966.9 L616.8 967.1 L617.8 967.3 L618.8 967.4 L619.8 967.5 L620.8 967.7 L621.8 967.8 L622.8 967.9 L623.8 968 L624.8 968.1 L625.8 968.2 L626.8 968.2 L627.8 968.3 L628.8 968.4 L629.8 968.4 L630.8 968.5 L631.8 968.6 L632.8 968.6 L633.8 968.7 L634.8 968.7 L635.8 968.7 L636.8 968.8 L637.8 968.8 L638.8 968.8 L639.8 968.9 L640.8 968.9 L641.8 968.9 L642.8 969 L643.8 969 L644.8 969 L645.8 969 L646.8 969.1 L647.8 969.1 L648.8 969.1 L649.8 969.1 L650.8 969.1 L651.8 969.2 L652.8 969.2 L653.8 969.2 L654.8 969.2 L655.8 969.2 L656.8 969.2 L657.8 969.3 L658.8 969.3 L659.8 969.3 L660.8 969.3 L661.8 969.3 L662.8 969.3 L663.8 969.3 L664.8 969.4 L665.8 969.4 L666.8 969.4 L667.8 969.4 L668.8 969.4 L669.8 969.4 L670.8 969.4 L671.8 969.4 L672.8 969.4 L673.8 969.5 L674.8 969.5 L675.8 969.5 L676.8 969.5 L677.8 969.5 L678.8 969.5 L679.8 969.5 L680.8 969.5 L681.8 969.5" fill="none" stroke="#a0a8da" stroke-width="0.8" stroke-linejoin="round"/>
<path d="M391.8 963.3 L392.8 964.2 L393.8 966 L394.8 963.6 L395.8 964.2 L396.8 964.2 L397.8 964.7 L398.8 960.7 L399.8 963.9 L400.8 964.2 L401.8 963.8 L402.8 959.7 L403.8 966.5 L404.8 961.3 L405.8 963.9 L406.8 960.8 L407.8 963.4 L408.8 963.2 L409.8 964.1 L410.8 963.4 L411.8 962.4 L412.8 959.9 L413.8 964 L414.8 963.7 L415.8 962.5 L416.8 964.2 L417.8 961.6 L418.8 965.6 L419.8 964.1 L420.8 962.5 L421.8 962.3 L422.8 963.3 L423.8 966.1 L424.8 962.3 L425.8 963.9 L426.8 963.7 L427.8 963.4 L428.8 959.7 L429.8 962.1 L430.8 964.9 L431.8 964.9 L432.8 962.8 L433.8 961.3 L434.8 961.1 L435.8 964 L436.8 964 L437.8 961.6 L438.8 959.3 L439.8 961.9 L440.8 962.3 L441.8 963.8 L442.8 961.3 L443.8 960.5 L444.8 964.3 L445.8 963.9 L446.8 963 L447.8 964.1 L448.8 963.6 L449.8 964.5 L450.8 963.1 L451.8 965.2 L452.8 964.7 L453.8 962.3 L454.8 961.7 L455.8 959.4 L456.8 963.4 L457.8 961.8 L458.8 958.7 L459.8 961.6 L460.8 962.8 L461.8 959.8 L462.8 959.2 L463.8 964 L464.8 960.8 L465.8 962.4 L466.8 962 L467.8 963.2 L468.8 958.3 L469.8 962 L470.8 961.3 L471.8 955.7 L472.8 956.6 L473.8 957.8 L474.8 960.8 L475.8 959.7 L476.8 961 L477.8 956.3 L478.8 957.7 L479.8 959 L480.8 957 L481.8 956.1 L482.8 953.1 L483.8 955.8 L484.8 956 L485.8 951 L486.8 952.8 L487.8 955.2 L488.8 947 L489.8 949.2 L490.8 948.2 L491.8 951 L492.8 943.7 L493.8 944.6 L494.8 945.5 L495.8 945.1 L496.8 941.9 L497.8 943.3 L498.8 941.5 L499.8 937.3 L500.8 938.4 L501.8 936.9 L502.8 931.6 L503.8 930.8 L504.8 930.7 L505.8 933.1 L506.8 928.6 L507.8 928.5 L508.8 924.9 L509.8 922.6 L510.8 923.6 L511.8 919.1 L512.8 919.9 L513.8 919.8 L514.8 916 L515.8 913.2 L516.8 911.9 L517.8 909 L518.8 909.6 L519.8 909.7 L520.8 903.4 L521.8 902.8 L522.8 903.4 L523.8 897 L524.8 899.7 L525.8 900.9 L526.8 892.6 L527.8 894.3 L528.8 895.2 L529.8 895.1 L530.8 888.3 L531.8 892.2 L532.8 886.5 L533.8 888 L534.8 888.6 L535.8 889.1 L536.8 891 L537.8 888.9 L538.8 888.7 L539.8 888.8 L540.8 888.4 L541.8 884.9 L542.8 888.7 L543.8 889.8 L544.8 892.2 L545.8 890.4 L546.8 889.4 L547.8 893.6 L548.8 895.5 L549.8 894.7 L550.8 895 L551.8 896.5 L552.8 897.8 L553.8 895.8 L554.8 900.3 L555.8 901 L556.8 903.8 L557.8 901.5 L558.8 906.7 L559.8 910.2 L560.8 909.7 L561.8 909.4 L562.8 911.2 L563.8 911.4 L564.8 916.1 L565.8 920.1 L566.8 917.9 L567.8 922.6 L568.8 921 L569.8 922 L570.8 927.4 L571.8 930.2 L572.8 929.2 L573.8 930.1 L574.8 931.1 L575.8 934.5 L576.8 938.2 L577.8 941.4 L578.8 942.1 L579.8 942.4 L580.8 945.7 L581.8 944.3 L582.8 946.2 L583.8 943.3 L584.8 945.9 L585.8 952.2 L586.8 945.8 L587.8 946.6 L588.8 950.8 L589.8 955.1 L590.8 956.5 L591.8 958 L592.8 957.9 L593.8 957.3 L594.8 959.8 L595.8 957.8 L596.8 960.1 L597.8 958.8 L598.8 960.5 L599.8 957 L600.8 962 L601.8 963 L602.8 961 L603.8 962.7 L604.8 962 L605.8 965 L606.8 962.2 L607.8 961.6 L608.8 965.1 L609.8 963.6 L610.8 965.7 L611.8 961.2 L612.8 965.1 L613.8 968.2 L614.8 964 L615.8 966.5 L616.8 967 L617.8 967.4 L618.8 966.8 L619.8 964 L620.8 967.5 L621.8 962.5 L622.8 962.6 L623.8 964.6 L624.8 966.8 L625.8 964.7 L626.8 964.9 L627.8 964.3 L628.8 967.5 L629.8 966.3 L630.8 966.1 L631.8 963.1 L632.8 968.7 L633.8 968.4 L634.8 964.2 L635.8 966.2 L636.8 968.8 L637.8 968.8 L638.8 965.3 L639.8 968.6 L640.8 968.4 L641.8 968.5 L642.8 970.9 L643.8 967.8 L644.8 965.5 L645.8 964.6 L646.8 967.6 L647.8 970.7 L648.8 966.4 L649.8 967.3 L650.8 969.3 L651.8 967.6 L652.8 967.4 L653.8 969.1 L654.8 967.4 L655.8 965.5 L656.8 966.3 L657.8 963.9 L658.8 967.6 L659.8 967.1 L660.8 970.6 L661.8 965.6 L662.8 966.5 L663.8 965.4 L664.8 967.8 L665.8 970.9 L666.8 969.6 L667.8 968.9 L668.8 971.2 L669.8 969.1 L670.8 968.5 L671.8 964.7 L672.8 969.4 L673.8 968.4 L674.8 969.4 L675.8 970.4 L676.8 970.5 L677.8 970.1 L678.8 969.6 L679.8 968.1 L680.8 965.5 L681.8 967.1" fill="none" stroke="#7d7d7d" stroke-width="0.9" stroke-linejoin="round"/>
<path d="M391.8 964.6 L392.8 964.6 L393.8 964.6 L394.8 964.6 L395.8 964.6 L396.8 964.6 L397.8 964.6 L398.8 964.6 L399.8 964.6 L400.8 964.6 L401.8 964.6 L402.8 964.6 L403.8 964.6 L404.8 964.6 L405.8 964.6 L406.8 964.6 L407.8 964.6 L408.8 964.6 L409.8 964.6 L410.8 964.6 L411.8 964.6 L412.8 964.6 L413.8 964.6 L414.8 964.6 L415.8 964.6 L416.8 964.6 L417.8 964.6 L418.8 964.6 L419.8 964.6 L420.8 964.7 L421.8 964.7 L422.8 964.7 L423.8 964.7 L424.8 964.7 L425.8 964.7 L426.8 964.7 L427.8 964.7 L428.8 964.7 L429.8 964.7 L430.8 964.7 L431.8 964.7 L432.8 964.7 L433.8 964.7 L434.8 964.7 L435.8 964.7 L436.8 964.7 L437.8 964.7 L438.8 964.8 L439.8 964.8 L440.8 964.8 L441.8 964.8 L442.8 964.8 L443.8 964.8 L444.8 964.8 L445.8 964.8 L446.8 964.8 L447.8 964.8 L448.8 964.8 L449.8 964.8 L450.8 964.8 L451.8 964.9 L452.8 964.9 L453.8 964.9 L454.8 964.9 L455.8 964.9 L456.8 964.9 L457.8 964.9 L458.8 964.9 L459.8 964.9 L460.8 965 L461.8 965 L462.8 965 L463.8 965 L464.8 965 L465.8 965 L466.8 965 L467.8 965 L468.8 965.1 L469.8 965.1 L470.8 965.1 L471.8 965.1 L472.8 965.1 L473.8 965.1 L474.8 965.2 L475.8 965.2 L476.8 965.2 L477.8 965.2 L478.8 965.2 L479.8 965.2 L480.8 965.3 L481.8 965.3 L482.8 965.3 L483.8 965.3 L484.8 965.3 L485.8 965.4 L486.8 965.4 L487.8 965.4 L488.8 965.4 L489.8 965.4 L490.8 965.5 L491.8 965.5 L492.8 965.5 L493.8 965.5 L494.8 965.6 L495.8 965.6 L496.8 965.6 L497.8 965.6 L498.8 965.7 L499.8 965.7 L500.8 965.7 L501.8 965.7 L502.8 965.8 L503.8 965.8 L504.8 965.8 L505.8 965.9 L506.8 965.9 L507.8 965.9 L508.8 965.9 L509.8 966 L510.8 966 L511.8 966 L512.8 966.1 L513.8 966.1 L514.8 966.1 L515.8 966.2 L516.8 966.2 L517.8 966.2 L518.8 966.3 L519.8 966.3 L520.8 966.3 L521.8 966.4 L522.8 966.4 L523.8 966.4 L524.8 966.5 L525.8 966.5 L526.8 966.6 L527.8 966.6 L528.8 966.6 L529.8 966.7 L530.8 966.7 L531.8 966.7 L532.8 966.8 L533.8 966.8 L534.8 966.9 L535.8 966.9 L536.8 966.9 L537.8 967 L538.8 967 L539.8 967 L540.8 967.1 L541.8 967.1 L542.8 967.2 L543.8 967.2 L544.8 967.2 L545.8 967.3 L546.8 967.3 L547.8 967.4 L548.8 967.4 L549.8 967.4 L550.8 967.5 L551.8 967.5 L552.8 967.6 L553.8 967.6 L554.8 967.6 L555.8 967.7 L556.8 967.7 L557.8 967.7 L558.8 967.8 L559.8 967.8 L560.8 967.9 L561.8 967.9 L562.8 967.9 L563.8 968 L564.8 968 L565.8 968 L566.8 968.1 L567.8 968.1 L568.8 968.2 L569.8 968.2 L570.8 968.2 L571.8 968.3 L572.8 968.3 L573.8 968.3 L574.8 968.4 L575.8 968.4 L576.8 968.4 L577.8 968.5 L578.8 968.5 L579.8 968.5 L580.8 968.5 L581.8 968.6 L582.8 968.6 L583.8 968.6 L584.8 968.7 L585.8 968.7 L586.8 968.7 L587.8 968.7 L588.8 968.8 L589.8 968.8 L590.8 968.8 L591.8 968.9 L592.8 968.9 L593.8 968.9 L594.8 968.9 L595.8 969 L596.8 969 L597.8 969 L598.8 969 L599.8 969 L600.8 969.1 L601.8 969.1 L602.8 969.1 L603.8 969.1 L604.8 969.2 L605.8 969.2 L606.8 969.2 L607.8 969.2 L608.8 969.2 L609.8 969.3 L610.8 969.3 L611.8 969.3 L612.8 969.3 L613.8 969.3 L614.8 969.3 L615.8 969.4 L616.8 969.4 L617.8 969.4 L618.8 969.4 L619.8 969.4 L620.8 969.4 L621.8 969.4 L622.8 969.5 L623.8 969.5 L624.8 969.5 L625.8 969.5 L626.8 969.5 L627.8 969.5 L628.8 969.5 L629.8 969.6 L630.8 969.6 L631.8 969.6 L632.8 969.6 L633.8 969.6 L634.8 969.6 L635.8 969.6 L636.8 969.6 L637.8 969.6 L638.8 969.6 L639.8 969.7 L640.8 969.7 L641.8 969.7 L642.8 969.7 L643.8 969.7 L644.8 969.7 L645.8 969.7 L646.8 969.7 L647.8 969.7 L648.8 969.7 L649.8 969.7 L650.8 969.7 L651.8 969.8 L652.8 969.8 L653.8 969.8 L654.8 969.8 L655.8 969.8 L656.8 969.8 L657.8 969.8 L658.8 969.8 L659.8 969.8 L660.8 969.8 L661.8 969.8 L662.8 969.8 L663.8 969.8 L664.8 969.8 L665.8 969.8 L666.8 969.8 L667.8 969.8 L668.8 969.8 L669.8 969.8 L670.8 969.9 L671.8 969.9 L672.8 969.9 L673.8 969.9 L674.8 969.9 L675.8 969.9 L676.8 969.9 L677.8 969.9 L678.8 969.9 L679.8 969.9 L680.8 969.9 L681.8 969.9" fill="none" stroke="#2a2a2e" stroke-width="1.2" stroke-linejoin="round"/>
<path d="M391.8 964.2 L392.8 964.2 L393.8 964.2 L394.8 964.2 L395.8 964.2 L396.8 964.2 L397.8 964.2 L398.8 964.2 L399.8 964.2 L400.8 964.2 L401.8 964.2 L402.8 964.2 L403.8 964.2 L404.8 964.2 L405.8 964.2 L406.8 964.2 L407.8 964.2 L408.8 964.2 L409.8 964.2 L410.8 964.2 L411.8 964.2 L412.8 964.2 L413.8 964.2 L414.8 964.2 L415.8 964.2 L416.8 964.2 L417.8 964.2 L418.8 964.1 L419.8 964.1 L420.8 964.1 L421.8 964.1 L422.8 964.1 L423.8 964.1 L424.8 964.1 L425.8 964.1 L426.8 964.1 L427.8 964.1 L428.8 964.1 L429.8 964.1 L430.8 964.1 L431.8 964.1 L432.8 964.1 L433.8 964.1 L434.8 964.1 L435.8 964 L436.8 964 L437.8 964 L438.8 964 L439.8 964 L440.8 964 L441.8 964 L442.8 963.9 L443.8 963.9 L444.8 963.9 L445.8 963.9 L446.8 963.9 L447.8 963.8 L448.8 963.8 L449.8 963.8 L450.8 963.7 L451.8 963.7 L452.8 963.6 L453.8 963.6 L454.8 963.5 L455.8 963.5 L456.8 963.4 L457.8 963.3 L458.8 963.2 L459.8 963.1 L460.8 963 L461.8 962.9 L462.8 962.8 L463.8 962.7 L464.8 962.5 L465.8 962.3 L466.8 962.2 L467.8 962 L468.8 961.8 L469.8 961.6 L470.8 961.3 L471.8 961 L472.8 960.8 L473.8 960.4 L474.8 960.1 L475.8 959.8 L476.8 959.4 L477.8 959 L478.8 958.5 L479.8 958 L480.8 957.5 L481.8 957 L482.8 956.4 L483.8 955.8 L484.8 955.1 L485.8 954.4 L486.8 953.7 L487.8 952.9 L488.8 952.1 L489.8 951.2 L490.8 950.3 L491.8 949.4 L492.8 948.4 L493.8 947.3 L494.8 946.3 L495.8 945.1 L496.8 943.9 L497.8 942.7 L498.8 941.4 L499.8 940.1 L500.8 938.8 L501.8 937.3 L502.8 935.9 L503.8 934.4 L504.8 932.9 L505.8 931.3 L506.8 929.8 L507.8 928.2 L508.8 926.5 L509.8 924.9 L510.8 923.2 L511.8 921.5 L512.8 919.8 L513.8 918.1 L514.8 916.4 L515.8 914.7 L516.8 913 L517.8 911.3 L518.8 909.6 L519.8 908 L520.8 906.4 L521.8 904.8 L522.8 903.2 L523.8 901.8 L524.8 900.3 L525.8 899 L526.8 897.6 L527.8 896.4 L528.8 895.2 L529.8 894.2 L530.8 893.2 L531.8 892.3 L532.8 891.5 L533.8 890.7 L534.8 890.1 L535.8 889.6 L536.8 889.2 L537.8 889 L538.8 888.8 L539.8 888.8 L540.8 888.8 L541.8 889 L542.8 889.3 L543.8 889.7 L544.8 890.2 L545.8 890.8 L546.8 891.5 L547.8 892.4 L548.8 893.3 L549.8 894.3 L550.8 895.4 L551.8 896.6 L552.8 897.9 L553.8 899.2 L554.8 900.6 L555.8 902.1 L556.8 903.6 L557.8 905.2 L558.8 906.8 L559.8 908.5 L560.8 910.2 L561.8 911.9 L562.8 913.7 L563.8 915.4 L564.8 917.2 L565.8 919 L566.8 920.7 L567.8 922.5 L568.8 924.3 L569.8 926 L570.8 927.8 L571.8 929.5 L572.8 931.2 L573.8 932.9 L574.8 934.5 L575.8 936.1 L576.8 937.7 L577.8 939.2 L578.8 940.7 L579.8 942.1 L580.8 943.5 L581.8 944.9 L582.8 946.2 L583.8 947.5 L584.8 948.7 L585.8 949.8 L586.8 951 L587.8 952 L588.8 953.1 L589.8 954.1 L590.8 955 L591.8 955.9 L592.8 956.7 L593.8 957.5 L594.8 958.3 L595.8 959 L596.8 959.7 L597.8 960.4 L598.8 961 L599.8 961.5 L600.8 962.1 L601.8 962.6 L602.8 963 L603.8 963.5 L604.8 963.9 L605.8 964.3 L606.8 964.6 L607.8 965 L608.8 965.3 L609.8 965.6 L610.8 965.8 L611.8 966.1 L612.8 966.3 L613.8 966.5 L614.8 966.7 L615.8 966.9 L616.8 967.1 L617.8 967.3 L618.8 967.4 L619.8 967.5 L620.8 967.7 L621.8 967.8 L622.8 967.9 L623.8 968 L624.8 968.1 L625.8 968.2 L626.8 968.2 L627.8 968.3 L628.8 968.4 L629.8 968.4 L630.8 968.5 L631.8 968.6 L632.8 968.6 L633.8 968.7 L634.8 968.7 L635.8 968.7 L636.8 968.8 L637.8 968.8 L638.8 968.8 L639.8 968.9 L640.8 968.9 L641.8 968.9 L642.8 969 L643.8 969 L644.8 969 L645.8 969 L646.8 969.1 L647.8 969.1 L648.8 969.1 L649.8 969.1 L650.8 969.1 L651.8 969.2 L652.8 969.2 L653.8 969.2 L654.8 969.2 L655.8 969.2 L656.8 969.2 L657.8 969.3 L658.8 969.3 L659.8 969.3 L660.8 969.3 L661.8 969.3 L662.8 969.3 L663.8 969.3 L664.8 969.4 L665.8 969.4 L666.8 969.4 L667.8 969.4 L668.8 969.4 L669.8 969.4 L670.8 969.4 L671.8 969.4 L672.8 969.4 L673.8 969.5 L674.8 969.5 L675.8 969.5 L676.8 969.5 L677.8 969.5 L678.8 969.5 L679.8 969.5 L680.8 969.5 L681.8 969.5" fill="none" stroke="#231f20" stroke-width="1.6" stroke-linejoin="round"/>
<path d="M398.8 1072.1 L399.8 1072.1 L400.8 1072.1 L401.8 1072.1 L402.8 1072.1 L403.8 1072.1 L404.8 1072.1 L405.8 1072.1 L406.8 1072.1 L407.8 1072.1 L408.8 1072.1 L409.8 1072.1 L410.8 1072.1 L411.8 1072.1 L412.8 1072.1 L413.8 1072.1 L414.8 1072.1 L415.8 1072.1 L416.8 1072.1 L417.8 1072.1 L418.8 1072.1 L419.8 1072.1 L420.8 1072.1 L421.8 1072.1 L422.8 1072.1 L423.8 1072.1 L424.8 1072.1 L425.8 1072.1 L426.8 1072.1 L427.8 1072.1 L428.8 1072.1 L429.8 1072.1 L430.8 1072.1 L431.8 1072.1 L432.8 1072.1 L433.8 1072.1 L434.8 1072.1 L435.8 1072.1 L436.8 1072.1 L437.8 1072.1 L438.8 1072.1 L439.8 1072.1 L440.8 1072.1 L441.8 1072.1 L442.8 1072.1 L443.8 1072.1 L444.8 1072.1 L445.8 1072.1 L446.8 1072.1 L447.8 1072.1 L448.8 1072 L449.8 1072 L450.8 1072 L451.8 1072 L452.8 1071.9 L453.8 1071.9 L454.8 1071.9 L455.8 1071.8 L456.8 1071.8 L457.8 1071.7 L458.8 1071.7 L459.8 1071.6 L460.8 1071.5 L461.8 1071.5 L462.8 1071.4 L463.8 1071.3 L464.8 1071.1 L465.8 1071 L466.8 1070.9 L467.8 1070.7 L468.8 1070.6 L469.8 1070.4 L470.8 1070.2 L471.8 1069.9 L472.8 1069.7 L473.8 1069.4 L474.8 1069.1 L475.8 1068.8 L476.8 1068.4 L477.8 1068.1 L478.8 1067.6 L479.8 1067.2 L480.8 1066.7 L481.8 1066.2 L482.8 1065.7 L483.8 1065.1 L484.8 1064.4 L485.8 1063.8 L486.8 1063 L487.8 1062.3 L488.8 1061.5 L489.8 1060.6 L490.8 1059.7 L491.8 1058.7 L492.8 1057.7 L493.8 1056.7 L494.8 1055.6 L495.8 1054.4 L496.8 1053.2 L497.8 1051.9 L498.8 1050.6 L499.8 1049.3 L500.8 1047.9 L501.8 1046.5 L502.8 1045 L503.8 1043.5 L504.8 1041.9 L505.8 1040.4 L506.8 1038.8 L507.8 1037.1 L508.8 1035.5 L509.8 1033.8 L510.8 1032.1 L511.8 1030.4 L512.8 1028.8 L513.8 1027.1 L514.8 1025.4 L515.8 1023.8 L516.8 1022.2 L517.8 1020.6 L518.8 1019 L519.8 1017.5 L520.8 1016 L521.8 1014.6 L522.8 1013.3 L523.8 1012 L524.8 1010.8 L525.8 1009.7 L526.8 1008.7 L527.8 1007.7 L528.8 1006.9 L529.8 1006.2 L530.8 1005.5 L531.8 1005 L532.8 1004.6 L533.8 1004.3 L534.8 1004.1 L535.8 1004 L536.8 1004.1 L537.8 1004.3 L538.8 1004.7 L539.8 1005.3 L540.8 1006.1 L541.8 1007 L542.8 1008.1 L543.8 1009.3 L544.8 1010.7 L545.8 1012.2 L546.8 1013.8 L547.8 1015.5 L548.8 1017.4 L549.8 1019.3 L550.8 1021.3 L551.8 1023.3 L552.8 1025.4 L553.8 1027.5 L554.8 1029.6 L555.8 1031.8 L556.8 1034 L557.8 1036.1 L558.8 1038.2 L559.8 1040.3 L560.8 1042.4 L561.8 1044.4 L562.8 1046.4 L563.8 1048.3 L564.8 1050.1 L565.8 1051.9 L566.8 1053.6 L567.8 1055.3 L568.8 1056.8 L569.8 1058.3 L570.8 1059.7 L571.8 1061.1 L572.8 1062.3 L573.8 1063.5 L574.8 1064.6 L575.8 1065.6 L576.8 1066.6 L577.8 1067.5 L578.8 1068.3 L579.8 1069.1 L580.8 1069.8 L581.8 1070.4 L582.8 1071 L583.8 1071.6 L584.8 1072.1 L585.8 1072.5 L586.8 1072.9 L587.8 1073.3 L588.8 1073.6 L589.8 1073.9 L590.8 1074.2 L591.8 1074.5 L592.8 1074.7 L593.8 1074.9 L594.8 1075.1 L595.8 1075.2 L596.8 1075.4 L597.8 1075.5 L598.8 1075.6 L599.8 1075.7 L600.8 1075.8 L601.8 1075.9 L602.8 1076 L603.8 1076.1 L604.8 1076.1 L605.8 1076.2 L606.8 1076.2 L607.8 1076.3 L608.8 1076.3 L609.8 1076.4 L610.8 1076.4 L611.8 1076.5 L612.8 1076.5 L613.8 1076.5 L614.8 1076.5 L615.8 1076.6 L616.8 1076.6 L617.8 1076.6 L618.8 1076.6 L619.8 1076.7 L620.8 1076.7 L621.8 1076.7 L622.8 1076.7 L623.8 1076.8 L624.8 1076.8 L625.8 1076.8 L626.8 1076.8 L627.8 1076.8 L628.8 1076.8 L629.8 1076.9 L630.8 1076.9 L631.8 1076.9 L632.8 1076.9 L633.8 1076.9 L634.8 1076.9 L635.8 1076.9 L636.8 1077 L637.8 1077 L638.8 1077 L639.8 1077 L640.8 1077 L641.8 1077 L642.8 1077 L643.8 1077 L644.8 1077.1 L645.8 1077.1 L646.8 1077.1 L646.8 1077.2 L645.8 1077.2 L644.8 1077.2 L643.8 1077.2 L642.8 1077.2 L641.8 1077.2 L640.8 1077.2 L639.8 1077.2 L638.8 1077.2 L637.8 1077.2 L636.8 1077.1 L635.8 1077.1 L634.8 1077.1 L633.8 1077.1 L632.8 1077.1 L631.8 1077.1 L630.8 1077.1 L629.8 1077.1 L628.8 1077.1 L627.8 1077 L626.8 1077 L625.8 1077 L624.8 1077 L623.8 1077 L622.8 1077 L621.8 1077 L620.8 1077 L619.8 1076.9 L618.8 1076.9 L617.8 1076.9 L616.8 1076.9 L615.8 1076.9 L614.8 1076.9 L613.8 1076.8 L612.8 1076.8 L611.8 1076.8 L610.8 1076.8 L609.8 1076.8 L608.8 1076.8 L607.8 1076.7 L606.8 1076.7 L605.8 1076.7 L604.8 1076.7 L603.8 1076.7 L602.8 1076.6 L601.8 1076.6 L600.8 1076.6 L599.8 1076.6 L598.8 1076.6 L597.8 1076.5 L596.8 1076.5 L595.8 1076.5 L594.8 1076.5 L593.8 1076.4 L592.8 1076.4 L591.8 1076.4 L590.8 1076.4 L589.8 1076.3 L588.8 1076.3 L587.8 1076.3 L586.8 1076.3 L585.8 1076.2 L584.8 1076.2 L583.8 1076.2 L582.8 1076.2 L581.8 1076.1 L580.8 1076.1 L579.8 1076.1 L578.8 1076 L577.8 1076 L576.8 1076 L575.8 1075.9 L574.8 1075.9 L573.8 1075.9 L572.8 1075.9 L571.8 1075.8 L570.8 1075.8 L569.8 1075.8 L568.8 1075.7 L567.8 1075.7 L566.8 1075.6 L565.8 1075.6 L564.8 1075.6 L563.8 1075.5 L562.8 1075.5 L561.8 1075.5 L560.8 1075.4 L559.8 1075.4 L558.8 1075.4 L557.8 1075.3 L556.8 1075.3 L555.8 1075.3 L554.8 1075.2 L553.8 1075.2 L552.8 1075.1 L551.8 1075.1 L550.8 1075.1 L549.8 1075 L548.8 1075 L547.8 1075 L546.8 1074.9 L545.8 1074.9 L544.8 1074.8 L543.8 1074.8 L542.8 1074.8 L541.8 1074.7 L540.8 1074.7 L539.8 1074.7 L538.8 1074.6 L537.8 1074.6 L536.8 1074.5 L535.8 1074.5 L534.8 1074.5 L533.8 1074.4 L532.8 1074.4 L531.8 1074.4 L530.8 1074.3 L529.8 1074.3 L528.8 1074.2 L527.8 1074.2 L526.8 1074.2 L525.8 1074.1 L524.8 1074.1 L523.8 1074.1 L522.8 1074 L521.8 1074 L520.8 1074 L519.8 1073.9 L518.8 1073.9 L517.8 1073.9 L516.8 1073.8 L515.8 1073.8 L514.8 1073.8 L513.8 1073.7 L512.8 1073.7 L511.8 1073.7 L510.8 1073.6 L509.8 1073.6 L508.8 1073.6 L507.8 1073.6 L506.8 1073.5 L505.8 1073.5 L504.8 1073.5 L503.8 1073.4 L502.8 1073.4 L501.8 1073.4 L500.8 1073.4 L499.8 1073.3 L498.8 1073.3 L497.8 1073.3 L496.8 1073.3 L495.8 1073.2 L494.8 1073.2 L493.8 1073.2 L492.8 1073.2 L491.8 1073.2 L490.8 1073.1 L489.8 1073.1 L488.8 1073.1 L487.8 1073.1 L486.8 1073 L485.8 1073 L484.8 1073 L483.8 1073 L482.8 1073 L481.8 1072.9 L480.8 1072.9 L479.8 1072.9 L478.8 1072.9 L477.8 1072.9 L476.8 1072.9 L475.8 1072.8 L474.8 1072.8 L473.8 1072.8 L472.8 1072.8 L471.8 1072.8 L470.8 1072.8 L469.8 1072.8 L468.8 1072.7 L467.8 1072.7 L466.8 1072.7 L465.8 1072.7 L464.8 1072.7 L463.8 1072.7 L462.8 1072.7 L461.8 1072.7 L460.8 1072.6 L459.8 1072.6 L458.8 1072.6 L457.8 1072.6 L456.8 1072.6 L455.8 1072.6 L454.8 1072.6 L453.8 1072.6 L452.8 1072.6 L451.8 1072.5 L450.8 1072.5 L449.8 1072.5 L448.8 1072.5 L447.8 1072.5 L446.8 1072.5 L445.8 1072.5 L444.8 1072.5 L443.8 1072.5 L442.8 1072.5 L441.8 1072.5 L440.8 1072.5 L439.8 1072.4 L438.8 1072.4 L437.8 1072.4 L436.8 1072.4 L435.8 1072.4 L434.8 1072.4 L433.8 1072.4 L432.8 1072.4 L431.8 1072.4 L430.8 1072.4 L429.8 1072.4 L428.8 1072.4 L427.8 1072.4 L426.8 1072.4 L425.8 1072.4 L424.8 1072.4 L423.8 1072.4 L422.8 1072.4 L421.8 1072.4 L420.8 1072.3 L419.8 1072.3 L418.8 1072.3 L417.8 1072.3 L416.8 1072.3 L415.8 1072.3 L414.8 1072.3 L413.8 1072.3 L412.8 1072.3 L411.8 1072.3 L410.8 1072.3 L409.8 1072.3 L408.8 1072.3 L407.8 1072.3 L406.8 1072.3 L405.8 1072.3 L404.8 1072.3 L403.8 1072.3 L402.8 1072.3 L401.8 1072.3 L400.8 1072.3 L399.8 1072.3 L398.8 1072.3Z" fill="url(#lav)" stroke="none" stroke-width="0"/>
<path d="M511.8 1073.5 L512.8 1073.5 L513.8 1073.6 L514.8 1073.6 L515.8 1073.6 L516.8 1073.6 L517.8 1073.7 L518.8 1073.7 L519.8 1073.7 L520.8 1073.7 L521.8 1073.8 L522.8 1073.8 L523.8 1073.8 L524.8 1073.8 L525.8 1073.8 L526.8 1073.9 L527.8 1073.9 L528.8 1073.9 L529.8 1073.9 L530.8 1073.9 L531.8 1073.9 L532.8 1073.8 L533.8 1073.8 L534.8 1073.7 L535.8 1073.6 L536.8 1073.5 L537.8 1073.3 L538.8 1073 L539.8 1072.6 L540.8 1072.2 L541.8 1071.6 L542.8 1071 L543.8 1070.1 L544.8 1069.1 L545.8 1067.9 L546.8 1066.5 L547.8 1065 L548.8 1063.2 L549.8 1061.2 L550.8 1059.1 L551.8 1056.8 L552.8 1054.4 L553.8 1051.9 L554.8 1049.5 L555.8 1047.1 L556.8 1044.9 L557.8 1042.8 L558.8 1041 L559.8 1039.6 L560.8 1038.6 L561.8 1038.1 L562.8 1038 L563.8 1038.5 L564.8 1039.3 L565.8 1040.7 L566.8 1042.4 L567.8 1044.4 L568.8 1046.6 L569.8 1049 L570.8 1051.5 L571.8 1054.1 L572.8 1056.6 L573.8 1059 L574.8 1061.2 L575.8 1063.3 L576.8 1065.3 L577.8 1067 L578.8 1068.5 L579.8 1069.9 L580.8 1071 L581.8 1072 L582.8 1072.8 L583.8 1073.5 L584.8 1074 L585.8 1074.5 L586.8 1074.8 L587.8 1075.1 L588.8 1075.4 L589.8 1075.5 L590.8 1075.7 L591.8 1075.8 L592.8 1075.9 L593.8 1076 L594.8 1076.1 L595.8 1076.1 L596.8 1076.2 L597.8 1076.2 L598.8 1076.3 L599.8 1076.3 L600.8 1076.3 L601.8 1076.4 L602.8 1076.4 L603.8 1076.4 L604.8 1076.5 L605.8 1076.5 L606.8 1076.5 L607.8 1076.6 L608.8 1076.6 L609.8 1076.6 L610.8 1076.6 L611.8 1076.7 L612.8 1076.7 L613.8 1076.7 L613.8 1076.8 L612.8 1076.8 L611.8 1076.8 L610.8 1076.8 L609.8 1076.8 L608.8 1076.8 L607.8 1076.7 L606.8 1076.7 L605.8 1076.7 L604.8 1076.7 L603.8 1076.7 L602.8 1076.6 L601.8 1076.6 L600.8 1076.6 L599.8 1076.6 L598.8 1076.6 L597.8 1076.5 L596.8 1076.5 L595.8 1076.5 L594.8 1076.5 L593.8 1076.4 L592.8 1076.4 L591.8 1076.4 L590.8 1076.4 L589.8 1076.3 L588.8 1076.3 L587.8 1076.3 L586.8 1076.3 L585.8 1076.2 L584.8 1076.2 L583.8 1076.2 L582.8 1076.2 L581.8 1076.1 L580.8 1076.1 L579.8 1076.1 L578.8 1076 L577.8 1076 L576.8 1076 L575.8 1075.9 L574.8 1075.9 L573.8 1075.9 L572.8 1075.9 L571.8 1075.8 L570.8 1075.8 L569.8 1075.8 L568.8 1075.7 L567.8 1075.7 L566.8 1075.6 L565.8 1075.6 L564.8 1075.6 L563.8 1075.5 L562.8 1075.5 L561.8 1075.5 L560.8 1075.4 L559.8 1075.4 L558.8 1075.4 L557.8 1075.3 L556.8 1075.3 L555.8 1075.3 L554.8 1075.2 L553.8 1075.2 L552.8 1075.1 L551.8 1075.1 L550.8 1075.1 L549.8 1075 L548.8 1075 L547.8 1075 L546.8 1074.9 L545.8 1074.9 L544.8 1074.8 L543.8 1074.8 L542.8 1074.8 L541.8 1074.7 L540.8 1074.7 L539.8 1074.7 L538.8 1074.6 L537.8 1074.6 L536.8 1074.5 L535.8 1074.5 L534.8 1074.5 L533.8 1074.4 L532.8 1074.4 L531.8 1074.4 L530.8 1074.3 L529.8 1074.3 L528.8 1074.2 L527.8 1074.2 L526.8 1074.2 L525.8 1074.1 L524.8 1074.1 L523.8 1074.1 L522.8 1074 L521.8 1074 L520.8 1074 L519.8 1073.9 L518.8 1073.9 L517.8 1073.9 L516.8 1073.8 L515.8 1073.8 L514.8 1073.8 L513.8 1073.7 L512.8 1073.7 L511.8 1073.7Z" fill="#b9dcac" stroke="none" stroke-width="0" fill-opacity="0.9"/>
<path d="M437.8 1072.1 L438.8 1072.1 L439.8 1072.1 L440.8 1072.1 L441.8 1072.1 L442.8 1072.1 L443.8 1072.1 L444.8 1072.1 L445.8 1072.1 L446.8 1072.1 L447.8 1072.1 L448.8 1072 L449.8 1072 L450.8 1072 L451.8 1072 L452.8 1071.9 L453.8 1071.9 L454.8 1071.9 L455.8 1071.8 L456.8 1071.8 L457.8 1071.7 L458.8 1071.7 L459.8 1071.6 L460.8 1071.5 L461.8 1071.5 L462.8 1071.4 L463.8 1071.3 L464.8 1071.1 L465.8 1071 L466.8 1070.9 L467.8 1070.7 L468.8 1070.6 L469.8 1070.4 L470.8 1070.2 L471.8 1069.9 L472.8 1069.7 L473.8 1069.4 L474.8 1069.1 L475.8 1068.8 L476.8 1068.4 L477.8 1068.1 L478.8 1067.6 L479.8 1067.2 L480.8 1066.7 L481.8 1066.2 L482.8 1065.7 L483.8 1065.1 L484.8 1064.4 L485.8 1063.8 L486.8 1063 L487.8 1062.3 L488.8 1061.5 L489.8 1060.6 L490.8 1059.7 L491.8 1058.7 L492.8 1057.7 L493.8 1056.7 L494.8 1055.6 L495.8 1054.4 L496.8 1053.2 L497.8 1051.9 L498.8 1050.6 L499.8 1049.3 L500.8 1047.9 L501.8 1046.5 L502.8 1045 L503.8 1043.5 L504.8 1041.9 L505.8 1040.4 L506.8 1038.8 L507.8 1037.1 L508.8 1035.5 L509.8 1033.8 L510.8 1032.1 L511.8 1030.4 L512.8 1028.8 L513.8 1027.1 L514.8 1025.4 L515.8 1023.8 L516.8 1022.2 L517.8 1020.6 L518.8 1019 L519.8 1017.5 L520.8 1016 L521.8 1014.6 L522.8 1013.3 L523.8 1012 L524.8 1010.8 L525.8 1009.7 L526.8 1008.7 L527.8 1007.7 L528.8 1006.9 L529.8 1006.2 L530.8 1005.5 L531.8 1005 L532.8 1004.6 L533.8 1004.3 L534.8 1004.1 L535.8 1004 L536.8 1004.1 L537.8 1004.3 L538.8 1004.7 L539.8 1005.3 L540.8 1006.1 L541.8 1007 L542.8 1008.1 L543.8 1009.3 L544.8 1010.7 L545.8 1012.2 L546.8 1013.8 L547.8 1015.5 L548.8 1017.4 L549.8 1019.3 L550.8 1021.3 L551.8 1023.3 L552.8 1025.4 L553.8 1027.5 L554.8 1029.6 L555.8 1031.8 L556.8 1034 L557.8 1036.1 L558.8 1038.2 L559.8 1040.3 L560.8 1042.4 L561.8 1044.4 L562.8 1046.4 L563.8 1048.3 L564.8 1050.1 L565.8 1051.9 L566.8 1053.6 L567.8 1055.3 L568.8 1056.8 L569.8 1058.3 L570.8 1059.7 L571.8 1061.1 L572.8 1062.3 L573.8 1063.5 L574.8 1064.6 L575.8 1065.6 L576.8 1066.6 L577.8 1067.5 L578.8 1068.3 L579.8 1069.1 L580.8 1069.8 L581.8 1070.4 L582.8 1071 L583.8 1071.6 L584.8 1072.1 L585.8 1072.5 L586.8 1072.9 L587.8 1073.3 L588.8 1073.6 L589.8 1073.9 L590.8 1074.2 L591.8 1074.5 L592.8 1074.7 L593.8 1074.9 L594.8 1075.1 L595.8 1075.2 L596.8 1075.4 L597.8 1075.5 L598.8 1075.6 L599.8 1075.7 L600.8 1075.8 L601.8 1075.9 L602.8 1076 L603.8 1076.1 L604.8 1076.1 L605.8 1076.2 L606.8 1076.2 L607.8 1076.3 L608.8 1076.3 L609.8 1076.4 L610.8 1076.4 L611.8 1076.5 L612.8 1076.5 L613.8 1076.5 L614.8 1076.5 L615.8 1076.6" fill="none" stroke="#a0a8da" stroke-width="0.8" stroke-linejoin="round"/>
<path d="M526.8 1073.9 L527.8 1073.9 L528.8 1073.9 L529.8 1073.9 L530.8 1073.9 L531.8 1073.9 L532.8 1073.8 L533.8 1073.8 L534.8 1073.7 L535.8 1073.6 L536.8 1073.5 L537.8 1073.3 L538.8 1073 L539.8 1072.6 L540.8 1072.2 L541.8 1071.6 L542.8 1071 L543.8 1070.1 L544.8 1069.1 L545.8 1067.9 L546.8 1066.5 L547.8 1065 L548.8 1063.2 L549.8 1061.2 L550.8 1059.1 L551.8 1056.8 L552.8 1054.4 L553.8 1051.9 L554.8 1049.5 L555.8 1047.1 L556.8 1044.9 L557.8 1042.8 L558.8 1041 L559.8 1039.6 L560.8 1038.6 L561.8 1038.1 L562.8 1038 L563.8 1038.5 L564.8 1039.3 L565.8 1040.7 L566.8 1042.4 L567.8 1044.4 L568.8 1046.6 L569.8 1049 L570.8 1051.5 L571.8 1054.1 L572.8 1056.6 L573.8 1059 L574.8 1061.2 L575.8 1063.3 L576.8 1065.3 L577.8 1067 L578.8 1068.5 L579.8 1069.9 L580.8 1071 L581.8 1072 L582.8 1072.8 L583.8 1073.5 L584.8 1074 L585.8 1074.5 L586.8 1074.8 L587.8 1075.1 L588.8 1075.4 L589.8 1075.5 L590.8 1075.7 L591.8 1075.8 L592.8 1075.9 L593.8 1076 L594.8 1076.1 L595.8 1076.1 L596.8 1076.2 L597.8 1076.2" fill="none" stroke="#8fc57e" stroke-width="0.8" stroke-linejoin="round"/>
<path d="M391.8 1072 L392.8 1067.7 L393.8 1070.4 L394.8 1069.3 L395.8 1073 L396.8 1069.6 L397.8 1071.2 L398.8 1069.6 L399.8 1068.9 L400.8 1069.1 L401.8 1071.4 L402.8 1071 L403.8 1071.3 L404.8 1068.6 L405.8 1071.3 L406.8 1072.2 L407.8 1068.3 L408.8 1072.2 L409.8 1071.7 L410.8 1071 L411.8 1068.6 L412.8 1072.1 L413.8 1072.1 L414.8 1072.8 L415.8 1068.1 L416.8 1069 L417.8 1068 L418.8 1072.7 L419.8 1072.1 L420.8 1071.4 L421.8 1067.7 L422.8 1068.8 L423.8 1068.5 L424.8 1072.2 L425.8 1072.1 L426.8 1071.8 L427.8 1071.4 L428.8 1073.2 L429.8 1072.2 L430.8 1071.7 L431.8 1073.6 L432.8 1070.5 L433.8 1072.2 L434.8 1073 L435.8 1067.8 L436.8 1071.4 L437.8 1071.8 L438.8 1068.6 L439.8 1071.8 L440.8 1072.6 L441.8 1068.7 L442.8 1072 L443.8 1070.3 L444.8 1072.1 L445.8 1070 L446.8 1072 L447.8 1070.1 L448.8 1071.9 L449.8 1072 L450.8 1069.3 L451.8 1071.2 L452.8 1071.9 L453.8 1070.3 L454.8 1071.7 L455.8 1070.8 L456.8 1071.8 L457.8 1071.3 L458.8 1069.5 L459.8 1067.2 L460.8 1068.8 L461.8 1073.1 L462.8 1069.6 L463.8 1072.3 L464.8 1070.6 L465.8 1071 L466.8 1069.2 L467.8 1068.8 L468.8 1068.2 L469.8 1070.6 L470.8 1070.2 L471.8 1068.7 L472.8 1069.1 L473.8 1069.2 L474.8 1064.9 L475.8 1067 L476.8 1069 L477.8 1065.5 L478.8 1064.8 L479.8 1067.1 L480.8 1065.7 L481.8 1063.6 L482.8 1063.1 L483.8 1060.8 L484.8 1064.6 L485.8 1064 L486.8 1062.5 L487.8 1063.2 L488.8 1063.2 L489.8 1061.2 L490.8 1056.8 L491.8 1055.9 L492.8 1056.4 L493.8 1056.7 L494.8 1053.8 L495.8 1051.8 L496.8 1053 L497.8 1051.4 L498.8 1049.1 L499.8 1045.2 L500.8 1049.6 L501.8 1044 L502.8 1045 L503.8 1043.5 L504.8 1043.8 L505.8 1041.9 L506.8 1039.3 L507.8 1034.4 L508.8 1033.9 L509.8 1030.7 L510.8 1033 L511.8 1030.3 L512.8 1024.9 L513.8 1025 L514.8 1024.8 L515.8 1019.4 L516.8 1020.7 L517.8 1021.3 L518.8 1016.7 L519.8 1013 L520.8 1017.4 L521.8 1013.7 L522.8 1014.9 L523.8 1011.9 L524.8 1007.3 L525.8 1009.3 L526.8 1007.6 L527.8 1007.4 L528.8 1006.5 L529.8 1005.4 L530.8 1003.1 L531.8 1004.1 L532.8 1002 L533.8 1002.2 L534.8 999.1 L535.8 1004.7 L536.8 1001.9 L537.8 1004.7 L538.8 1000.1 L539.8 1002.9 L540.8 999.3 L541.8 1002.8 L542.8 1000.9 L543.8 1000.8 L544.8 1001.4 L545.8 1001.3 L546.8 1001.8 L547.8 1006.6 L548.8 1007.4 L549.8 1002.3 L550.8 1000.9 L551.8 1004.6 L552.8 1005.9 L553.8 1005.2 L554.8 1002.2 L555.8 1003.7 L556.8 999.4 L557.8 1001.7 L558.8 1003.9 L559.8 1002 L560.8 1001.2 L561.8 1005.1 L562.8 1009.1 L563.8 1007.9 L564.8 1010.7 L565.8 1013 L566.8 1018.9 L567.8 1021.9 L568.8 1023.3 L569.8 1033.6 L570.8 1032.3 L571.8 1041.3 L572.8 1044.3 L573.8 1044.7 L574.8 1046.6 L575.8 1051.8 L576.8 1052.2 L577.8 1057.8 L578.8 1058.5 L579.8 1064.5 L580.8 1064.4 L581.8 1063.5 L582.8 1066.5 L583.8 1068.6 L584.8 1070.6 L585.8 1069.7 L586.8 1068.4 L587.8 1072.2 L588.8 1072 L589.8 1073.8 L590.8 1073.6 L591.8 1071.6 L592.8 1074.1 L593.8 1074.8 L594.8 1075.6 L595.8 1073.3 L596.8 1073.1 L597.8 1073.2 L598.8 1075.3 L599.8 1075.4 L600.8 1075.7 L601.8 1074 L602.8 1076.7 L603.8 1073.4 L604.8 1071.9 L605.8 1073 L606.8 1075.2 L607.8 1076.3 L608.8 1075.2 L609.8 1077.7 L610.8 1076.3 L611.8 1075.9 L612.8 1076.7 L613.8 1077.2 L614.8 1074 L615.8 1075.3 L616.8 1076.5 L617.8 1077.7 L618.8 1073.8 L619.8 1076.2 L620.8 1074.3 L621.8 1076.3 L622.8 1072.8 L623.8 1076.2 L624.8 1073.6 L625.8 1076.4 L626.8 1077.2 L627.8 1075.5 L628.8 1077.3 L629.8 1073.7 L630.8 1076.4 L631.8 1075.9 L632.8 1076 L633.8 1076.7 L634.8 1077.7 L635.8 1077.3 L636.8 1077.3 L637.8 1077.9 L638.8 1074.9 L639.8 1077 L640.8 1077.5 L641.8 1076.7 L642.8 1073.2 L643.8 1072.8 L644.8 1076.8 L645.8 1077.8 L646.8 1077.7 L647.8 1076.1 L648.8 1077.1 L649.8 1077.5 L650.8 1075.9 L651.8 1076.8 L652.8 1076.4 L653.8 1076.3 L654.8 1073.7 L655.8 1078.7 L656.8 1074.3 L657.8 1076.7 L658.8 1073.3 L659.8 1076.9 L660.8 1073.7 L661.8 1076.1 L662.8 1077.4 L663.8 1076.3 L664.8 1075.1 L665.8 1076.8 L666.8 1075.5 L667.8 1073.4 L668.8 1074.3 L669.8 1075.8 L670.8 1075.4 L671.8 1073.7 L672.8 1073.5 L673.8 1077.3 L674.8 1077.1 L675.8 1073.3 L676.8 1077.2 L677.8 1077.9 L678.8 1077.4 L679.8 1075.8 L680.8 1076.2 L681.8 1076.3" fill="none" stroke="#7d7d7d" stroke-width="0.9" stroke-linejoin="round"/>
<path d="M391.8 1072.3 L392.8 1072.3 L393.8 1072.3 L394.8 1072.3 L395.8 1072.3 L396.8 1072.3 L397.8 1072.3 L398.8 1072.3 L399.8 1072.3 L400.8 1072.3 L401.8 1072.3 L402.8 1072.3 L403.8 1072.3 L404.8 1072.3 L405.8 1072.3 L406.8 1072.3 L407.8 1072.3 L408.8 1072.3 L409.8 1072.3 L410.8 1072.3 L411.8 1072.3 L412.8 1072.3 L413.8 1072.3 L414.8 1072.3 L415.8 1072.3 L416.8 1072.3 L417.8 1072.3 L418.8 1072.3 L419.8 1072.3 L420.8 1072.3 L421.8 1072.4 L422.8 1072.4 L423.8 1072.4 L424.8 1072.4 L425.8 1072.4 L426.8 1072.4 L427.8 1072.4 L428.8 1072.4 L429.8 1072.4 L430.8 1072.4 L431.8 1072.4 L432.8 1072.4 L433.8 1072.4 L434.8 1072.4 L435.8 1072.4 L436.8 1072.4 L437.8 1072.4 L438.8 1072.4 L439.8 1072.4 L440.8 1072.5 L441.8 1072.5 L442.8 1072.5 L443.8 1072.5 L444.8 1072.5 L445.8 1072.5 L446.8 1072.5 L447.8 1072.5 L448.8 1072.5 L449.8 1072.5 L450.8 1072.5 L451.8 1072.5 L452.8 1072.6 L453.8 1072.6 L454.8 1072.6 L455.8 1072.6 L456.8 1072.6 L457.8 1072.6 L458.8 1072.6 L459.8 1072.6 L460.8 1072.6 L461.8 1072.7 L462.8 1072.7 L463.8 1072.7 L464.8 1072.7 L465.8 1072.7 L466.8 1072.7 L467.8 1072.7 L468.8 1072.7 L469.8 1072.8 L470.8 1072.8 L471.8 1072.8 L472.8 1072.8 L473.8 1072.8 L474.8 1072.8 L475.8 1072.8 L476.8 1072.9 L477.8 1072.9 L478.8 1072.9 L479.8 1072.9 L480.8 1072.9 L481.8 1072.9 L482.8 1073 L483.8 1073 L484.8 1073 L485.8 1073 L486.8 1073 L487.8 1073.1 L488.8 1073.1 L489.8 1073.1 L490.8 1073.1 L491.8 1073.2 L492.8 1073.2 L493.8 1073.2 L494.8 1073.2 L495.8 1073.2 L496.8 1073.3 L497.8 1073.3 L498.8 1073.3 L499.8 1073.3 L500.8 1073.4 L501.8 1073.4 L502.8 1073.4 L503.8 1073.4 L504.8 1073.5 L505.8 1073.5 L506.8 1073.5 L507.8 1073.6 L508.8 1073.6 L509.8 1073.6 L510.8 1073.6 L511.8 1073.7 L512.8 1073.7 L513.8 1073.7 L514.8 1073.8 L515.8 1073.8 L516.8 1073.8 L517.8 1073.9 L518.8 1073.9 L519.8 1073.9 L520.8 1074 L521.8 1074 L522.8 1074 L523.8 1074.1 L524.8 1074.1 L525.8 1074.1 L526.8 1074.2 L527.8 1074.2 L528.8 1074.2 L529.8 1074.3 L530.8 1074.3 L531.8 1074.4 L532.8 1074.4 L533.8 1074.4 L534.8 1074.5 L535.8 1074.5 L536.8 1074.5 L537.8 1074.6 L538.8 1074.6 L539.8 1074.7 L540.8 1074.7 L541.8 1074.7 L542.8 1074.8 L543.8 1074.8 L544.8 1074.8 L545.8 1074.9 L546.8 1074.9 L547.8 1075 L548.8 1075 L549.8 1075 L550.8 1075.1 L551.8 1075.1 L552.8 1075.1 L553.8 1075.2 L554.8 1075.2 L555.8 1075.3 L556.8 1075.3 L557.8 1075.3 L558.8 1075.4 L559.8 1075.4 L560.8 1075.4 L561.8 1075.5 L562.8 1075.5 L563.8 1075.5 L564.8 1075.6 L565.8 1075.6 L566.8 1075.6 L567.8 1075.7 L568.8 1075.7 L569.8 1075.8 L570.8 1075.8 L571.8 1075.8 L572.8 1075.9 L573.8 1075.9 L574.8 1075.9 L575.8 1075.9 L576.8 1076 L577.8 1076 L578.8 1076 L579.8 1076.1 L580.8 1076.1 L581.8 1076.1 L582.8 1076.2 L583.8 1076.2 L584.8 1076.2 L585.8 1076.2 L586.8 1076.3 L587.8 1076.3 L588.8 1076.3 L589.8 1076.3 L590.8 1076.4 L591.8 1076.4 L592.8 1076.4 L593.8 1076.4 L594.8 1076.5 L595.8 1076.5 L596.8 1076.5 L597.8 1076.5 L598.8 1076.6 L599.8 1076.6 L600.8 1076.6 L601.8 1076.6 L602.8 1076.6 L603.8 1076.7 L604.8 1076.7 L605.8 1076.7 L606.8 1076.7 L607.8 1076.7 L608.8 1076.8 L609.8 1076.8 L610.8 1076.8 L611.8 1076.8 L612.8 1076.8 L613.8 1076.8 L614.8 1076.9 L615.8 1076.9 L616.8 1076.9 L617.8 1076.9 L618.8 1076.9 L619.8 1076.9 L620.8 1077 L621.8 1077 L622.8 1077 L623.8 1077 L624.8 1077 L625.8 1077 L626.8 1077 L627.8 1077 L628.8 1077.1 L629.8 1077.1 L630.8 1077.1 L631.8 1077.1 L632.8 1077.1 L633.8 1077.1 L634.8 1077.1 L635.8 1077.1 L636.8 1077.1 L637.8 1077.2 L638.8 1077.2 L639.8 1077.2 L640.8 1077.2 L641.8 1077.2 L642.8 1077.2 L643.8 1077.2 L644.8 1077.2 L645.8 1077.2 L646.8 1077.2 L647.8 1077.2 L648.8 1077.2 L649.8 1077.2 L650.8 1077.3 L651.8 1077.3 L652.8 1077.3 L653.8 1077.3 L654.8 1077.3 L655.8 1077.3 L656.8 1077.3 L657.8 1077.3 L658.8 1077.3 L659.8 1077.3 L660.8 1077.3 L661.8 1077.3 L662.8 1077.3 L663.8 1077.3 L664.8 1077.3 L665.8 1077.3 L666.8 1077.3 L667.8 1077.3 L668.8 1077.4 L669.8 1077.4 L670.8 1077.4 L671.8 1077.4 L672.8 1077.4 L673.8 1077.4 L674.8 1077.4 L675.8 1077.4 L676.8 1077.4 L677.8 1077.4 L678.8 1077.4 L679.8 1077.4 L680.8 1077.4 L681.8 1077.4" fill="none" stroke="#2a2a2e" stroke-width="1.2" stroke-linejoin="round"/>
<path d="M391.8 1072.1 L392.8 1072.1 L393.8 1072.1 L394.8 1072.1 L395.8 1072.1 L396.8 1072.1 L397.8 1072.1 L398.8 1072.1 L399.8 1072.1 L400.8 1072.1 L401.8 1072.1 L402.8 1072.1 L403.8 1072.1 L404.8 1072.1 L405.8 1072.1 L406.8 1072.1 L407.8 1072.1 L408.8 1072.1 L409.8 1072.1 L410.8 1072.1 L411.8 1072.1 L412.8 1072.1 L413.8 1072.1 L414.8 1072.1 L415.8 1072.1 L416.8 1072.1 L417.8 1072.1 L418.8 1072.1 L419.8 1072.1 L420.8 1072.1 L421.8 1072.1 L422.8 1072.1 L423.8 1072.1 L424.8 1072.1 L425.8 1072.1 L426.8 1072.1 L427.8 1072.1 L428.8 1072.1 L429.8 1072.1 L430.8 1072.1 L431.8 1072.1 L432.8 1072.1 L433.8 1072.1 L434.8 1072.1 L435.8 1072.1 L436.8 1072.1 L437.8 1072.1 L438.8 1072.1 L439.8 1072.1 L440.8 1072.1 L441.8 1072.1 L442.8 1072.1 L443.8 1072.1 L444.8 1072.1 L445.8 1072 L446.8 1072 L447.8 1072 L448.8 1072 L449.8 1072 L450.8 1072 L451.8 1071.9 L452.8 1071.9 L453.8 1071.9 L454.8 1071.8 L455.8 1071.8 L456.8 1071.8 L457.8 1071.7 L458.8 1071.6 L459.8 1071.6 L460.8 1071.5 L461.8 1071.4 L462.8 1071.3 L463.8 1071.2 L464.8 1071.1 L465.8 1071 L466.8 1070.8 L467.8 1070.7 L468.8 1070.5 L469.8 1070.3 L470.8 1070.1 L471.8 1069.9 L472.8 1069.6 L473.8 1069.4 L474.8 1069.1 L475.8 1068.7 L476.8 1068.4 L477.8 1068 L478.8 1067.6 L479.8 1067.1 L480.8 1066.7 L481.8 1066.1 L482.8 1065.6 L483.8 1065 L484.8 1064.4 L485.8 1063.7 L486.8 1063 L487.8 1062.2 L488.8 1061.4 L489.8 1060.5 L490.8 1059.6 L491.8 1058.6 L492.8 1057.6 L493.8 1056.6 L494.8 1055.5 L495.8 1054.3 L496.8 1053.1 L497.8 1051.9 L498.8 1050.5 L499.8 1049.2 L500.8 1047.8 L501.8 1046.4 L502.8 1044.9 L503.8 1043.4 L504.8 1041.8 L505.8 1040.2 L506.8 1038.6 L507.8 1037 L508.8 1035.3 L509.8 1033.7 L510.8 1032 L511.8 1030.3 L512.8 1028.6 L513.8 1026.9 L514.8 1025.3 L515.8 1023.6 L516.8 1022 L517.8 1020.4 L518.8 1018.8 L519.8 1017.3 L520.8 1015.8 L521.8 1014.4 L522.8 1013.1 L523.8 1011.8 L524.8 1010.6 L525.8 1009.4 L526.8 1008.4 L527.8 1007.4 L528.8 1006.5 L529.8 1005.8 L530.8 1005.1 L531.8 1004.5 L532.8 1004 L533.8 1003.6 L534.8 1003.3 L535.8 1003.1 L536.8 1003 L537.8 1003 L538.8 1003.1 L539.8 1003.3 L540.8 1003.6 L541.8 1003.9 L542.8 1004.3 L543.8 1004.6 L544.8 1005 L545.8 1005.2 L546.8 1005.4 L547.8 1005.5 L548.8 1005.5 L549.8 1005.4 L550.8 1005.2 L551.8 1005 L552.8 1004.6 L553.8 1004.2 L554.8 1003.9 L555.8 1003.6 L556.8 1003.5 L557.8 1003.6 L558.8 1003.9 L559.8 1004.6 L560.8 1005.6 L561.8 1007 L562.8 1008.9 L563.8 1011.2 L564.8 1013.9 L565.8 1017 L566.8 1020.4 L567.8 1024 L568.8 1027.7 L569.8 1031.6 L570.8 1035.5 L571.8 1039.3 L572.8 1043 L573.8 1046.6 L574.8 1049.9 L575.8 1053 L576.8 1055.9 L577.8 1058.5 L578.8 1060.8 L579.8 1062.9 L580.8 1064.7 L581.8 1066.3 L582.8 1067.7 L583.8 1068.9 L584.8 1069.9 L585.8 1070.8 L586.8 1071.5 L587.8 1072.1 L588.8 1072.7 L589.8 1073.1 L590.8 1073.5 L591.8 1073.9 L592.8 1074.2 L593.8 1074.4 L594.8 1074.7 L595.8 1074.9 L596.8 1075 L597.8 1075.2 L598.8 1075.3 L599.8 1075.5 L600.8 1075.6 L601.8 1075.7 L602.8 1075.8 L603.8 1075.8 L604.8 1075.9 L605.8 1076 L606.8 1076 L607.8 1076.1 L608.8 1076.2 L609.8 1076.2 L610.8 1076.2 L611.8 1076.3 L612.8 1076.3 L613.8 1076.4 L614.8 1076.4 L615.8 1076.4 L616.8 1076.5 L617.8 1076.5 L618.8 1076.5 L619.8 1076.5 L620.8 1076.6 L621.8 1076.6 L622.8 1076.6 L623.8 1076.6 L624.8 1076.7 L625.8 1076.7 L626.8 1076.7 L627.8 1076.7 L628.8 1076.7 L629.8 1076.8 L630.8 1076.8 L631.8 1076.8 L632.8 1076.8 L633.8 1076.8 L634.8 1076.9 L635.8 1076.9 L636.8 1076.9 L637.8 1076.9 L638.8 1076.9 L639.8 1076.9 L640.8 1076.9 L641.8 1077 L642.8 1077 L643.8 1077 L644.8 1077 L645.8 1077 L646.8 1077 L647.8 1077 L648.8 1077 L649.8 1077 L650.8 1077.1 L651.8 1077.1 L652.8 1077.1 L653.8 1077.1 L654.8 1077.1 L655.8 1077.1 L656.8 1077.1 L657.8 1077.1 L658.8 1077.1 L659.8 1077.1 L660.8 1077.1 L661.8 1077.2 L662.8 1077.2 L663.8 1077.2 L664.8 1077.2 L665.8 1077.2 L666.8 1077.2 L667.8 1077.2 L668.8 1077.2 L669.8 1077.2 L670.8 1077.2 L671.8 1077.2 L672.8 1077.2 L673.8 1077.2 L674.8 1077.2 L675.8 1077.2 L676.8 1077.3 L677.8 1077.3 L678.8 1077.3 L679.8 1077.3 L680.8 1077.3 L681.8 1077.3" fill="none" stroke="#231f20" stroke-width="1.6" stroke-linejoin="round"/>
<rect x="391" y="873.4" width="292" height="230.1" fill="none" stroke="#000" stroke-width="1.6"/>
<line x1="391" y1="1103.5" x2="391" y2="1107" stroke="#000" stroke-width="1.5" stroke-linecap="butt"/>
<line x1="435.8" y1="1103.5" x2="435.8" y2="1107" stroke="#000" stroke-width="1.5" stroke-linecap="butt"/>
<line x1="480.6" y1="1103.5" x2="480.6" y2="1107" stroke="#000" stroke-width="1.5" stroke-linecap="butt"/>
<line x1="525.4" y1="1103.5" x2="525.4" y2="1107" stroke="#000" stroke-width="1.5" stroke-linecap="butt"/>
<line x1="570.2" y1="1103.5" x2="570.2" y2="1107" stroke="#000" stroke-width="1.5" stroke-linecap="butt"/>
<line x1="615" y1="1103.5" x2="615" y2="1107" stroke="#000" stroke-width="1.5" stroke-linecap="butt"/>
<line x1="659.8" y1="1103.5" x2="659.8" y2="1107" stroke="#000" stroke-width="1.5" stroke-linecap="butt"/>
<line x1="413.4" y1="1103.5" x2="413.4" y2="1105.7" stroke="#000" stroke-width="1.3" stroke-linecap="butt"/>
<line x1="458.2" y1="1103.5" x2="458.2" y2="1105.7" stroke="#000" stroke-width="1.3" stroke-linecap="butt"/>
<line x1="503" y1="1103.5" x2="503" y2="1105.7" stroke="#000" stroke-width="1.3" stroke-linecap="butt"/>
<line x1="547.8" y1="1103.5" x2="547.8" y2="1105.7" stroke="#000" stroke-width="1.3" stroke-linecap="butt"/>
<line x1="592.6" y1="1103.5" x2="592.6" y2="1105.7" stroke="#000" stroke-width="1.3" stroke-linecap="butt"/>
<line x1="637.4" y1="1103.5" x2="637.4" y2="1105.7" stroke="#000" stroke-width="1.3" stroke-linecap="butt"/>
<line x1="682.1" y1="1103.5" x2="682.1" y2="1105.7" stroke="#000" stroke-width="1.3" stroke-linecap="butt"/>
<text transform="translate(391 1126) scale(1 1.09)" font-size="13.5" font-weight="bold" text-anchor="middle" fill="#231f20"><tspan>538</tspan></text>
<text transform="translate(435.79 1126) scale(1 1.09)" font-size="13.5" font-weight="bold" text-anchor="middle" fill="#231f20"><tspan>536</tspan></text>
<text transform="translate(480.58 1126) scale(1 1.09)" font-size="13.5" font-weight="bold" text-anchor="middle" fill="#231f20"><tspan>534</tspan></text>
<text transform="translate(525.38 1126) scale(1 1.09)" font-size="13.5" font-weight="bold" text-anchor="middle" fill="#231f20"><tspan>532</tspan></text>
<text transform="translate(570.17 1126) scale(1 1.09)" font-size="13.5" font-weight="bold" text-anchor="middle" fill="#231f20"><tspan>530</tspan></text>
<text transform="translate(614.96 1126) scale(1 1.09)" font-size="13.5" font-weight="bold" text-anchor="middle" fill="#231f20"><tspan>528</tspan></text>
<text transform="translate(659.75 1126) scale(1 1.09)" font-size="13.5" font-weight="bold" text-anchor="middle" fill="#231f20"><tspan>526</tspan></text>
<text transform="translate(538 1147.5) scale(1 1.09)" font-size="14" font-weight="bold" text-anchor="middle" fill="#231f20"><tspan>Binding energy (eV)</tspan></text>
<text transform="translate(380.3 988.8) rotate(-90) scale(1 1.09)" font-size="14" font-weight="bold" text-anchor="middle" fill="#231f20"><tspan>Intensity (arb.u.)</tspan></text>
<text transform="translate(395.75 891.5) scale(1 1.09)" font-size="7.8" font-weight="bold" text-anchor="start" fill="#231f20"><tspan>O 1s</tspan></text>
<text transform="translate(395.75 980.3) scale(1 1.09)" font-size="7.8" font-weight="bold" text-anchor="start" fill="#231f20"><tspan>Cu</tspan><tspan dy="2.2" font-size="5.3">2</tspan><tspan dy="-2.2">O/g-C</tspan><tspan dy="2.2" font-size="5.3">3</tspan><tspan dy="-2.2">N</tspan><tspan dy="2.2" font-size="5.3">4</tspan><tspan dy="-2.2">-0.2</tspan></text>
<text transform="translate(395.75 1087) scale(1 1.09)" font-size="7.8" font-weight="bold" text-anchor="start" fill="#231f20"><tspan>Cu</tspan><tspan dy="2.2" font-size="5.3">2</tspan><tspan dy="-2.2">O MCs</tspan></text>
<text transform="translate(545.6 884.9) scale(1 1.09)" font-size="7.8" font-weight="bold" text-anchor="middle" fill="#231f20"><tspan>531.35eV</tspan></text>
<text transform="translate(539.2 994.9) scale(1 1.09)" font-size="7.8" font-weight="bold" text-anchor="middle" fill="#231f20"><tspan>531.50eV</tspan></text>
<text transform="translate(595.7 1025.9) scale(1 1.09)" font-size="7.8" font-weight="bold" text-anchor="middle" fill="#231f20"><tspan>530.40eV</tspan></text>
<line x1="540.1" y1="885.5" x2="540.1" y2="907.8" stroke="#000" stroke-width="1.7" stroke-linecap="butt" stroke-dasharray="1.5 1.5"/>
<line x1="536.2" y1="996" x2="536.2" y2="1018.6" stroke="#000" stroke-width="1.7" stroke-linecap="butt" stroke-dasharray="1.5 1.5"/>
<line x1="562.5" y1="1031" x2="562.5" y2="1046.7" stroke="#000" stroke-width="1.7" stroke-linecap="butt" stroke-dasharray="1.5 1.5"/>
</svg>
</body></html>
